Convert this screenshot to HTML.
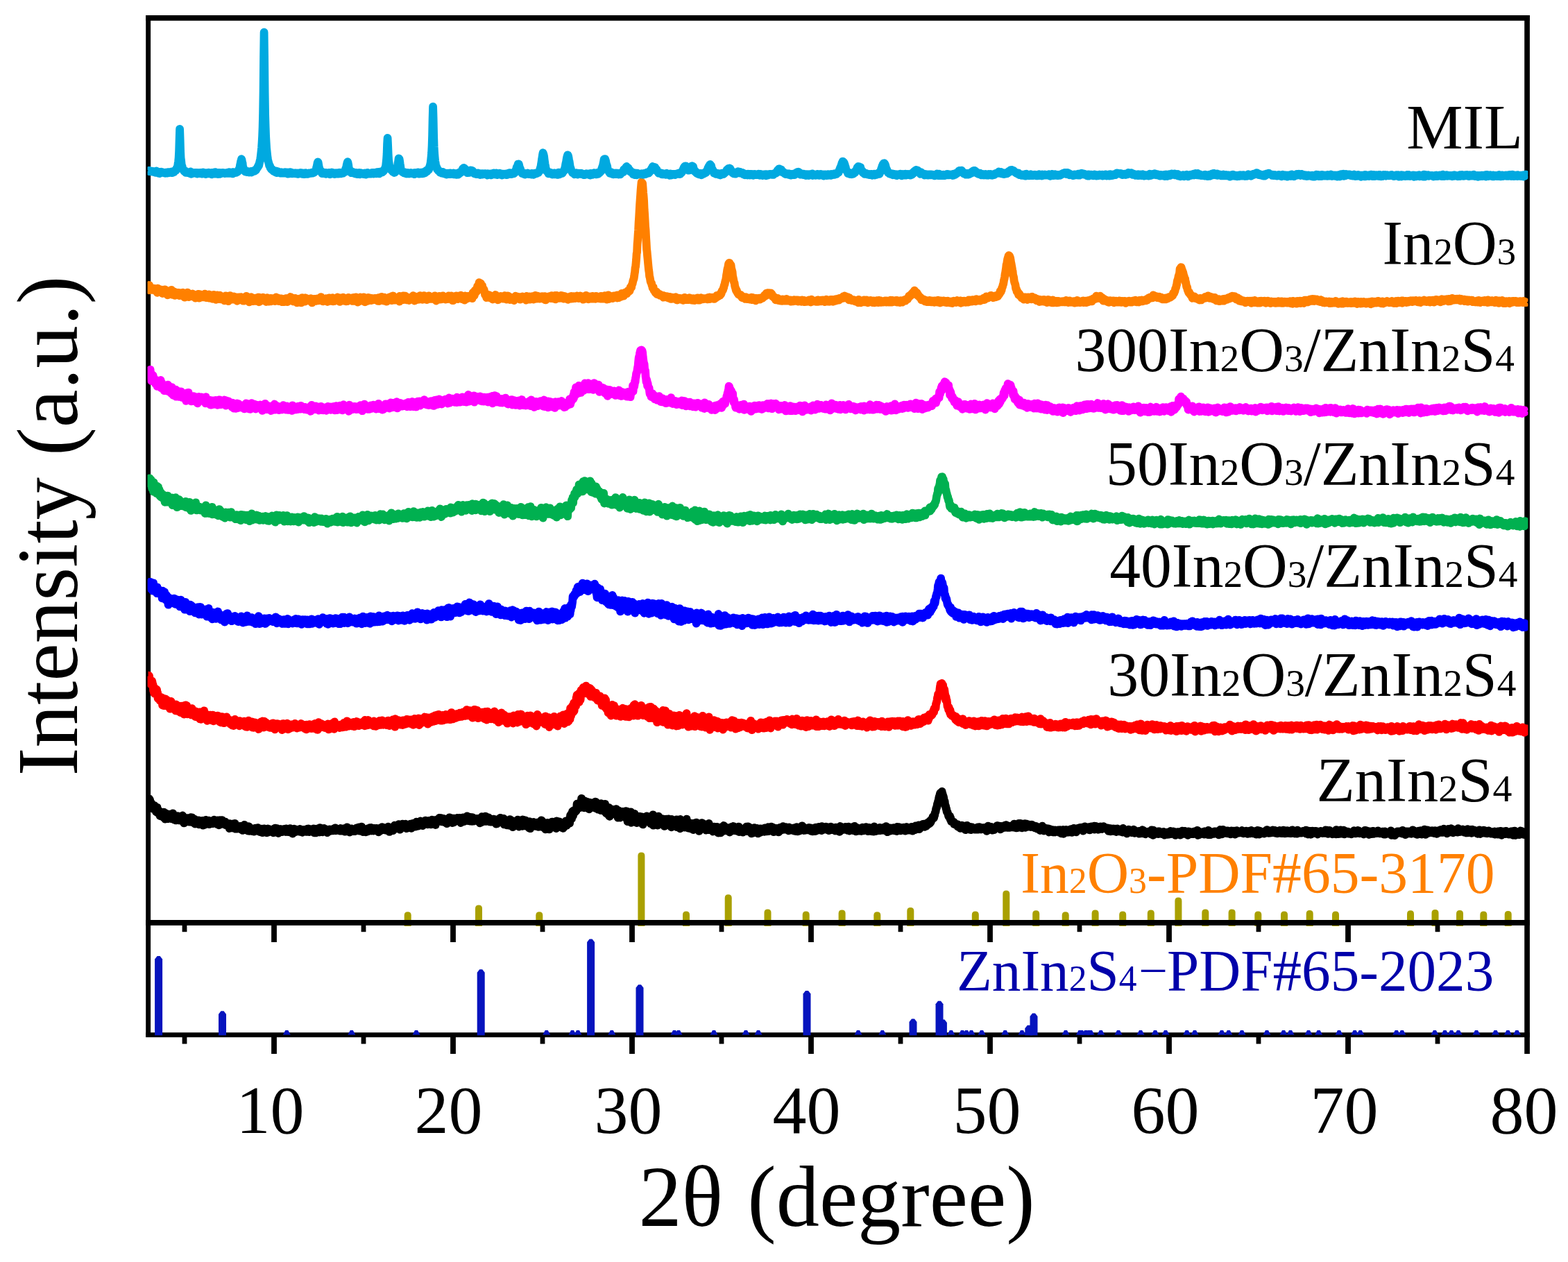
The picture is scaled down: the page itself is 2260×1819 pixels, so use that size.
<!DOCTYPE html>
<html lang="en"><head><meta charset="utf-8">
<title>XRD patterns of MIL, In2O3, ZnIn2S4 and In2O3/ZnIn2S4 composites</title>
<style>
html,body{margin:0;padding:0;background:#fff;}
body{width:2260px;height:1819px;overflow:hidden;}
svg{display:block;}
text{font-family:'Liberation Serif',serif;}
.crv{fill:none;stroke-linejoin:round;stroke-linecap:butt;}
</style></head><body>
<svg width="2260" height="1819" viewBox="0 0 2260 1819">
<rect x="0" y="0" width="2260" height="1819" fill="#ffffff"/>
<g id="sticks-in2o3" fill="#A9A000">
<path d="M582.7,1335 V1319.3 Q582.7,1314.3 587.7,1314.3 Q592.7,1314.3 592.7,1319.3 V1335 Z"/>
<path d="M685.0,1335 V1309.5 Q685.0,1304.5 690.0,1304.5 Q695.0,1304.5 695.0,1309.5 V1335 Z"/>
<path d="M772.3,1335 V1319.3 Q772.3,1314.3 777.3,1314.3 Q782.3,1314.3 782.3,1319.3 V1335 Z"/>
<path d="M919.4,1335 V1233.6 Q919.4,1228.6 924.4,1228.6 Q929.4,1228.6 929.4,1233.6 V1335 Z"/>
<path d="M984.0,1335 V1318.6 Q984.0,1313.6 989.0,1313.6 Q994.0,1313.6 994.0,1318.6 V1335 Z"/>
<path d="M1044.7,1335 V1294.3 Q1044.7,1289.3 1049.7,1289.3 Q1054.7,1289.3 1054.7,1294.3 V1335 Z"/>
<path d="M1101.5,1335 V1315.4 Q1101.5,1310.4 1106.5,1310.4 Q1111.5,1310.4 1111.5,1315.4 V1335 Z"/>
<path d="M1156.7,1335 V1318.6 Q1156.7,1313.6 1161.7,1313.6 Q1166.7,1313.6 1166.7,1318.6 V1335 Z"/>
<path d="M1208.6,1335 V1316.4 Q1208.6,1311.4 1213.6,1311.4 Q1218.6,1311.4 1218.6,1316.4 V1335 Z"/>
<path d="M1259.3,1335 V1319.3 Q1259.3,1314.3 1264.3,1314.3 Q1269.3,1314.3 1269.3,1319.3 V1335 Z"/>
<path d="M1307.3,1335 V1313.0 Q1307.3,1308.0 1312.3,1308.0 Q1317.3,1308.0 1317.3,1313.0 V1335 Z"/>
<path d="M1400.8,1335 V1318.6 Q1400.8,1313.6 1405.8,1313.6 Q1410.8,1313.6 1410.8,1318.6 V1335 Z"/>
<path d="M1445.3,1335 V1288.4 Q1445.3,1283.4 1450.3,1283.4 Q1455.3,1283.4 1455.3,1288.4 V1335 Z"/>
<path d="M1488.2,1335 V1317.3 Q1488.2,1312.3 1493.2,1312.3 Q1498.2,1312.3 1498.2,1317.3 V1335 Z"/>
<path d="M1530.7,1335 V1319.3 Q1530.7,1314.3 1535.7,1314.3 Q1540.7,1314.3 1540.7,1319.3 V1335 Z"/>
<path d="M1573.6,1335 V1316.4 Q1573.6,1311.4 1578.6,1311.4 Q1583.6,1311.4 1583.6,1316.4 V1335 Z"/>
<path d="M1613.2,1335 V1318.6 Q1613.2,1313.6 1618.2,1313.6 Q1623.2,1313.6 1623.2,1318.6 V1335 Z"/>
<path d="M1653.8,1335 V1316.4 Q1653.8,1311.4 1658.8,1311.4 Q1663.8,1311.4 1663.8,1316.4 V1335 Z"/>
<path d="M1693.4,1335 V1298.5 Q1693.4,1293.5 1698.4,1293.5 Q1703.4,1293.5 1703.4,1298.5 V1335 Z"/>
<path d="M1732.3,1335 V1315.4 Q1732.3,1310.4 1737.3,1310.4 Q1742.3,1310.4 1742.3,1315.4 V1335 Z"/>
<path d="M1770.6,1335 V1315.4 Q1770.6,1310.4 1775.6,1310.4 Q1780.6,1310.4 1780.6,1315.4 V1335 Z"/>
<path d="M1808.3,1335 V1318.6 Q1808.3,1313.6 1813.3,1313.6 Q1818.3,1313.6 1818.3,1318.6 V1335 Z"/>
<path d="M1846.0,1335 V1318.6 Q1846.0,1313.6 1851.0,1313.6 Q1856.0,1313.6 1856.0,1318.6 V1335 Z"/>
<path d="M1882.7,1335 V1317.0 Q1882.7,1312.0 1887.7,1312.0 Q1892.7,1312.0 1892.7,1317.0 V1335 Z"/>
<path d="M1920.0,1335 V1318.6 Q1920.0,1313.6 1925.0,1313.6 Q1930.0,1313.6 1930.0,1318.6 V1335 Z"/>
<path d="M2028.0,1335 V1317.3 Q2028.0,1312.3 2033.0,1312.3 Q2038.0,1312.3 2038.0,1317.3 V1335 Z"/>
<path d="M2063.5,1335 V1316.0 Q2063.5,1311.0 2068.5,1311.0 Q2073.5,1311.0 2073.5,1316.0 V1335 Z"/>
<path d="M2099.0,1335 V1317.0 Q2099.0,1312.0 2104.0,1312.0 Q2109.0,1312.0 2109.0,1317.0 V1335 Z"/>
<path d="M2133.3,1335 V1318.6 Q2133.3,1313.6 2138.3,1313.6 Q2143.3,1313.6 2143.3,1318.6 V1335 Z"/>
<path d="M2168.7,1335 V1318.0 Q2168.7,1313.0 2173.7,1313.0 Q2178.7,1313.0 2178.7,1318.0 V1335 Z"/>
</g>
<g id="axes" fill="#000">
<rect x="210.2" y="22" width="6.9" height="1473"/>
<rect x="2197.2" y="22" width="7.7" height="1497"/>
<rect x="210.2" y="22" width="1994.7" height="7.8"/>
<rect x="210.2" y="1326" width="1994.7" height="7.9"/>
<rect x="210.2" y="1488.2" width="1994.7" height="6.9"/>
<rect x="262.6" y="1330" width="6.8" height="13.2"/>
<rect x="262.6" y="1492" width="6.8" height="12.6"/>
<rect x="391.1" y="1330" width="7.8" height="28"/>
<rect x="391.1" y="1492" width="7.8" height="27"/>
<rect x="520.6" y="1330" width="6.8" height="13.2"/>
<rect x="520.6" y="1492" width="6.8" height="12.6"/>
<rect x="649.1" y="1330" width="7.8" height="28"/>
<rect x="649.1" y="1492" width="7.8" height="27"/>
<rect x="778.6" y="1330" width="6.8" height="13.2"/>
<rect x="778.6" y="1492" width="6.8" height="12.6"/>
<rect x="907.1" y="1330" width="7.8" height="28"/>
<rect x="907.1" y="1492" width="7.8" height="27"/>
<rect x="1036.6" y="1330" width="6.8" height="13.2"/>
<rect x="1036.6" y="1492" width="6.8" height="12.6"/>
<rect x="1165.1" y="1330" width="7.8" height="28"/>
<rect x="1165.1" y="1492" width="7.8" height="27"/>
<rect x="1294.6" y="1330" width="6.8" height="13.2"/>
<rect x="1294.6" y="1492" width="6.8" height="12.6"/>
<rect x="1423.1" y="1330" width="7.8" height="28"/>
<rect x="1423.1" y="1492" width="7.8" height="27"/>
<rect x="1552.6" y="1330" width="6.8" height="13.2"/>
<rect x="1552.6" y="1492" width="6.8" height="12.6"/>
<rect x="1681.1" y="1330" width="7.8" height="28"/>
<rect x="1681.1" y="1492" width="7.8" height="27"/>
<rect x="1810.6" y="1330" width="6.8" height="13.2"/>
<rect x="1810.6" y="1492" width="6.8" height="12.6"/>
<rect x="1939.1" y="1330" width="7.8" height="28"/>
<rect x="1939.1" y="1492" width="7.8" height="27"/>
<rect x="2068.6" y="1330" width="6.8" height="13.2"/>
<rect x="2068.6" y="1492" width="6.8" height="12.6"/>
</g>
<g id="sticks-znin2s4" fill="#0614BE">
<path d="M223.1,1492.3 V1382.5 L226.6,1378.0 H230.6 L234.1,1382.5 V1492.3 Z"/>
<path d="M315.0,1492.3 V1461.8 L318.5,1457.3 H322.5 L326.0,1461.8 V1492.3 Z"/>
<path d="M687.7,1492.3 V1401.7 L691.2,1397.2 H695.2 L698.7,1401.7 V1492.3 Z"/>
<path d="M846.1,1492.3 V1357.9 L849.6,1353.4 H853.6 L857.1,1357.9 V1492.3 Z"/>
<path d="M916.5,1492.3 V1423.8 L920.0,1419.3 H924.0 L927.5,1423.8 V1492.3 Z"/>
<path d="M1157.5,1492.3 V1432.5 L1161.0,1428.0 H1165.0 L1168.5,1432.5 V1492.3 Z"/>
<path d="M1310.5,1492.3 V1473.1 L1314.0,1468.6 H1318.0 L1321.5,1473.1 V1492.3 Z"/>
<path d="M1348.5,1492.3 V1447.2 L1352.0,1442.7 H1356.0 L1359.5,1447.2 V1492.3 Z"/>
<path d="M1353.9,1492.3 V1474.1 L1357.4,1469.6 H1361.4 L1364.9,1474.1 V1492.3 Z"/>
<path d="M1484.5,1492.3 V1465.0 L1488.0,1460.5 H1492.0 L1495.5,1465.0 V1492.3 Z"/>
<path d="M1477.3,1492.3 V1482.2 L1480.8,1477.7 H1484.8 L1488.3,1482.2 V1492.3 Z"/>
</g>
<g id="sticks-znin2s4-weak" fill="#0614BE">
<path d="M407.8,1491.5 L411.3,1485 H415.3 L418.8,1491.5 Z"/>
<path d="M501.3,1491.5 L504.8,1485 H508.8 L512.3,1491.5 Z"/>
<path d="M594.5,1491.5 L598.0,1485 H602.0 L605.5,1491.5 Z"/>
<path d="M782.2,1491.5 L785.7,1485 H789.7 L793.2,1491.5 Z"/>
<path d="M819.5,1491.5 L823.0,1485 H827.0 L830.5,1491.5 Z"/>
<path d="M827.5,1491.5 L831.0,1485 H835.0 L838.5,1491.5 Z"/>
<path d="M876.3,1491.5 L879.8,1485 H883.8 L887.3,1491.5 Z"/>
<path d="M966.5,1491.5 L970.0,1485 H974.0 L977.5,1491.5 Z"/>
<path d="M972.5,1491.5 L976.0,1485 H980.0 L983.5,1491.5 Z"/>
<path d="M1023.5,1491.5 L1027.0,1485 H1031.0 L1034.5,1491.5 Z"/>
<path d="M1069.5,1491.5 L1073.0,1485 H1077.0 L1080.5,1491.5 Z"/>
<path d="M1087.5,1491.5 L1091.0,1485 H1095.0 L1098.5,1491.5 Z"/>
<path d="M1231.5,1491.5 L1235.0,1485 H1239.0 L1242.5,1491.5 Z"/>
<path d="M1266.3,1491.5 L1269.8,1485 H1273.8 L1277.3,1491.5 Z"/>
<path d="M1365.3,1491.5 L1368.8,1485 H1372.8 L1376.3,1491.5 Z"/>
<path d="M1381.5,1491.5 L1385.0,1485 H1389.0 L1392.5,1491.5 Z"/>
<path d="M1387.5,1491.5 L1391.0,1485 H1395.0 L1398.5,1491.5 Z"/>
<path d="M1394.5,1491.5 L1398.0,1485 H1402.0 L1405.5,1491.5 Z"/>
<path d="M1409.5,1491.5 L1413.0,1485 H1417.0 L1420.5,1491.5 Z"/>
<path d="M1443.2,1491.5 L1446.7,1485 H1450.7 L1454.2,1491.5 Z"/>
<path d="M1467.5,1491.5 L1471.0,1485 H1475.0 L1478.5,1491.5 Z"/>
<path d="M1530.5,1491.5 L1534.0,1485 H1538.0 L1541.5,1491.5 Z"/>
<path d="M1553.5,1491.5 L1557.0,1485 H1561.0 L1564.5,1491.5 Z"/>
<path d="M1559.5,1491.5 L1563.0,1485 H1567.0 L1570.5,1491.5 Z"/>
<path d="M1566.5,1491.5 L1570.0,1485 H1574.0 L1577.5,1491.5 Z"/>
<path d="M1581.2,1491.5 L1584.7,1485 H1588.7 L1592.2,1491.5 Z"/>
<path d="M1551.0,1491.5 L1554.5,1485 H1558.5 L1562.0,1491.5 Z"/>
<path d="M1564.0,1491.5 L1567.5,1485 H1571.5 L1575.0,1491.5 Z"/>
<path d="M1606.5,1491.5 L1610.0,1485 H1614.0 L1617.5,1491.5 Z"/>
<path d="M1638.5,1491.5 L1642.0,1485 H1646.0 L1649.5,1491.5 Z"/>
<path d="M1659.5,1491.5 L1663.0,1485 H1667.0 L1670.5,1491.5 Z"/>
<path d="M1674.5,1491.5 L1678.0,1485 H1682.0 L1685.5,1491.5 Z"/>
<path d="M1705.2,1491.5 L1708.7,1485 H1712.7 L1716.2,1491.5 Z"/>
<path d="M1716.5,1491.5 L1720.0,1485 H1724.0 L1727.5,1491.5 Z"/>
<path d="M1755.5,1491.5 L1759.0,1485 H1763.0 L1766.5,1491.5 Z"/>
<path d="M1765.3,1491.5 L1768.8,1485 H1772.8 L1776.3,1491.5 Z"/>
<path d="M1784.5,1491.5 L1788.0,1485 H1792.0 L1795.5,1491.5 Z"/>
<path d="M1820.5,1491.5 L1824.0,1485 H1828.0 L1831.5,1491.5 Z"/>
<path d="M1844.5,1491.5 L1848.0,1485 H1852.0 L1855.5,1491.5 Z"/>
<path d="M1854.5,1491.5 L1858.0,1485 H1862.0 L1865.5,1491.5 Z"/>
<path d="M1880.5,1491.5 L1884.0,1485 H1888.0 L1891.5,1491.5 Z"/>
<path d="M1895.1,1491.5 L1898.6,1485 H1902.6 L1906.1,1491.5 Z"/>
<path d="M1924.5,1491.5 L1928.0,1485 H1932.0 L1935.5,1491.5 Z"/>
<path d="M1947.1,1491.5 L1950.6,1485 H1954.6 L1958.1,1491.5 Z"/>
<path d="M1955.2,1491.5 L1958.7,1485 H1962.7 L1966.2,1491.5 Z"/>
<path d="M2007.2,1491.5 L2010.7,1485 H2014.7 L2018.2,1491.5 Z"/>
<path d="M2015.3,1491.5 L2018.8,1485 H2022.8 L2026.3,1491.5 Z"/>
<path d="M2062.4,1491.5 L2065.9,1485 H2069.9 L2073.4,1491.5 Z"/>
<path d="M2077.0,1491.5 L2080.5,1485 H2084.5 L2088.0,1491.5 Z"/>
<path d="M2086.5,1491.5 L2090.0,1485 H2094.0 L2097.5,1491.5 Z"/>
<path d="M2096.5,1491.5 L2100.0,1485 H2104.0 L2107.5,1491.5 Z"/>
<path d="M2122.5,1491.5 L2126.0,1485 H2130.0 L2133.5,1491.5 Z"/>
<path d="M2150.0,1491.5 L2153.5,1485 H2157.5 L2161.0,1491.5 Z"/>
<path d="M2167.9,1491.5 L2171.4,1485 H2175.4 L2178.9,1491.5 Z"/>
<path d="M2180.9,1491.5 L2184.4,1485 H2188.4 L2191.9,1491.5 Z"/>
</g>
<clipPath id="plotclip"><rect x="212.6" y="0" width="1989.8" height="1330"/></clipPath>
<g id="curves" clip-path="url(#plotclip)">
<path class="crv" stroke="#000000" stroke-width="11.8" d="M213.6 1153.3l.5 0 .5 0 .5-1.8 .5 2.1 .5-.7 .5 3.9 .5 4.6 .5-4.4 .5 .5 .5 4.1 .5 .4 .5 .1 .5-2.1 .5 3.3 .5 2.9 .5-5.1 .5 3.3 .5-3.4 .5 2.4 .5-.9 .5 5.2 .5-2.3 .5 4.8 .5 .2 .5-.5 .5-6 .5 5.8 .5 1.8 .5 .7 .5-4.2 .5 3.1 .5-1.1 .5 .7 .5 5.3 .5-4.9 .5 2.3 .5 2.7 .5-3.9 .5 1.5 .5 .7 .5 .1 .5-3.4 .5 3.7 .5 3.6 .5-7.8 .5 6.7 .5-1.9 .5-2 .5 7.3 .5-3.3 .5-5.1 .5 3.5 .5 1.4 .5-1.9 .5 2.4 .5-1.9 .5 2.1 .5 2.1 .5-5.5 .5 2.4 .5-1.6 .5 1.7 .5-3.4 .5 1.7 .5 1.1 .5 3 .5 .8 .5-6.4 .5 1.5 .5 3.9 .5-6.8 .5 4.1 .5 1.1 .5 3.6 .5-1.4 .5-2.5 .5 0 .5 .4 .5 4.7 .5-4.9 .5 .4 .5 1.8 .5-1.1 .5-.1 .5-2.3 .5 2.9 .5-.9 .5 4.1 .5-1.2 .5-1.6 .5 1.9 .5-2.5 .5 3.6 .5-2.5 .5 1.5 .5-4.6 .5 4.2 .5-4.9 .5-.8 .5 4.4 .5-1.4 .5 2.7 .5 5.3 .5-7.5 .5 .6 .5 2.1 .5 .8 .5-1.5 .5 0 .5 2.3 .5-.3 .5-3.7 .5 2.4 .5 .4 .5-2.5 .5 3.3 .5-2.6 .5 4.5 .5-1.8 .5-.1 .5-1.5 .5 1.2 .5-4.3 .5 2.2 .5 3.6 .5-5.7 .5 7.1 .5-6 .5 6 .5-3.6 .5 3.9 .5-1.4 .5-3.8 .5 6.7 .5 .5 .5-3.4 .5-.3 .5 .3 .5-1.8 .5 4.9 .5-3.6 .5 1.2 .5-1.6 .5 .4 .5-1.4 .5 5.9 .5-3.1 .5 2.6 .5-2.1 .5-1.6 .5 .9 .5-.5 .5 1.4 .5-.9 .5 .2 .5-2.4 .5 1.3 .5 5.5 .5-5.2 .5-.8 .5 3.1 .5 2.3 .5-6.4 .5 2.8 .5-1 .5-2.5 .5 5.4 .5-1.7 .5 .2 .5-1.9 .5 2.6 .5-2.3 .5 .8 .5-2.1 .5-.3 .5 5.5 .5-4.1 .5 1.7 .5-.8 .5-.9 .5-.2 .5 2.4 .5-2.1 .5 .3 .5 .3 .5 2.5 .5-1.1 .5-.7 .5-2 .5-1.8 .5 5 .5 0 .5-2.3 .5 1.5 .5 .5 .5 .2 .5 .2 .5-2.9 .5 4.3 .5-5.8 .5 4.5 .5-.6 .5 .8 .5 2.3 .5-.8 .5-5.4 .5-1 .5 5.4 .5-3.7 .5 2.2 .5 1.9 .5-5 .5-.8 .5 5 .5-.2 .5-.5 .5 .8 .5-1.8 .5-1.1 .5 2.9 .5-1.5 .5-1.2 .5 4.6 .5-1 .5 1.1 .5-2.7 .5 .9 .5-.5 .5 .4 .5 2.3 .5-1.8 .5 2.5 .5 .1 .5 3.6 .5-6.8 .5 4.8 .5-1.8 .5 .3 .5-2.8 .5 2.1 .5 2.6 .5-1.5 .5 .4 .5-.6 .5 3 .5-2.2 .5-4.3 .5 3.1 .5-2.4 .5-1 .5 4 .5 3.8 .5-2.5 .5-2.3 .5 .5 .5 4.2 .5-1.8 .5-.2 .5-.1 .5 .3 .5 1.5 .5-.4 .5-.6 .5-2.4 .5 3.2 .5-2.3 .5 3.5 .5-4.5 .5 2.3 .5 .3 .5-2.5 .5 6 .5-.4 .5-3.7 .5 2.4 .5-.7 .5-5.5 .5 5.4 .5-.5 .5 .3 .5-2.1 .5 1.6 .5 .2 .5 2.7 .5-1.6 .5-.5 .5 3 .5-4 .5 .4 .5-2.7 .5 6.6 .5-1.1 .5-.1 .5-.4 .5-1 .5 .3 .5-.9 .5 .2 .5 .5 .5 2.8 .5-1.7 .5-1.1 .5-1 .5 0 .5 4.3 .5-2.1 .5-.7 .5-.8 .5-1.3 .5 2 .5 1.8 .5-2.4 .5 .4 .5 0 .5 .7 .5-3.1 .5 2.5 .5-1.1 .5 3.3 .5-3 .5 2.5 .5 1.8 .5-3.4 .5-.5 .5 1.5 .5-.3 .5-1.8 .5 2.7 .5 2.9 .5-4.2 .5 .2 .5-1.5 .5 2.5 .5-2.9 .5 .3 .5 4.4 .5-4 .5 3.7 .5 .8 .5-2.3 .5 .6 .5 2.5 .5-3.9 .5-.7 .5-1.3 .5 2.5 .5 2.6 .5-.9 .5-3.4 .5 .1 .5 .7 .5 1.4 .5-.9 .5 .8 .5 .1 .5-1 .5 .5 .5 .4 .5-.5 .5 1.1 .5 2.4 .5-2.3 .5-.9 .5-3 .5 3.6 .5-4.1 .5 1 .5 3.9 .5-.2 .5-1.5 .5-2.7 .5 2.3 .5-.5 .5 2.3 .5 2.8 .5-3.5 .5-1.7 .5-.7 .5 1.9 .5-.2 .5-1.6 .5 2.2 .5-2.2 .5 3.9 .5-.1 .5 .1 .5-2.7 .5 1.7 .5-1.1 .5-.4 .5 .1 .5-1.7 .5-.2 .5 3.8 .5-1.7 .5 .7 .5 1.4 .5-4.6 .5 1.6 .5 1.6 .5 .4 .5-1.3 .5 2.3 .5-1.3 .5-2.4 .5 .5 .5 2.9 .5-.6 .5-3.9 .5 5.4 .5-1.3 .5 1.3 .5-2.9 .5 .2 .5-1.4 .5 6 .5-4.4 .5 2.9 .5-3.7 .5 1.3 .5-2.9 .5 2.1 .5 2.2 .5-3.6 .5 3.7 .5-1.2 .5-2.2 .5 .9 .5 .1 .5 .6 .5-.8 .5-.4 .5 .8 .5-1.1 .5-.5 .5 2 .5 1.5 .5-3.8 .5 2.4 .5-1 .5-.6 .5 3 .5-2.2 .5 3.2 .5-3.7 .5 1.9 .5-1 .5-.8 .5 2.1 .5-1.2 .5 1.3 .5-1.1 .5-1.7 .5 1.6 .5 .3 .5 1.4 .5-3 .5 1.4 .5-2.7 .5 3.8 .5-2.8 .5-1.2 .5 2.9 .5 1.8 .5-4.2 .5 .7 .5 .5 .5-.6 .5 2.4 .5-1.9 .5 .1 .5 2.2 .5-2.2 .5 1.9 .5-2.3 .5-.4 .5-1 .5 6 .5-3.5 .5 .9 .5-.5 .5 .3 .5-.2 .5 3.1 .5-4.8 .5-.9 .5 .9 .5-.5 .5 3.4 .5 .1 .5-3 .5-.7 .5 1.7 .5 2.9 .5-6.4 .5 5 .5-2.7 .5 3.5 .5-3.5 .5 1.3 .5-2 .5 .8 .5 3.9 .5-.9 .5-2 .5-.8 .5-1.7 .5 2.5 .5 .6 .5-.1 .5 0 .5-1.8 .5 1.8 .5 0 .5 2.2 .5 1 .5-3.4 .5-1 .5 1.1 .5-.9 .5-.2 .5 1.1 .5-1.6 .5 2.7 .5-1.2 .5 .6 .5-.7 .5-.9 .5-.4 .5 1.2 .5-.5 .5 1.3 .5-.4 .5-2.3 .5 2.4 .5-2.4 .5 1.2 .5 .5 .5-3 .5 3.7 .5 .1 .5-.6 .5-.4 .5 .1 .5-1.1 .5 1.2 .5-.5 .5 1.1 .5-2.2 .5 2.4 .5-.1 .5-.5 .5-.5 .5 1.6 .5-3.7 .5 3.6 .5-.4 .5 .1 .5 .1 .5-1.8 .5 .7 .5 1.5 .5-.3 .5-.4 .5-3 .5 3.5 .5 1.1 .5-.3 .5-1.3 .5-3.1 .5 4.3 .5-1.9 .5-4.1 .5 5 .5-3.3 .5 .4 .5 1.1 .5 3.3 .5-2.9 .5 1.1 .5 2.5 .5-.2 .5-3 .5-.2 .5-1.8 .5 1 .5 1.9 .5-.1 .5-.5 .5 1.5 .5-3 .5 1.2 .5 1.4 .5-.3 .5 .8 .5-1.2 .5-1.2 .5 1.2 .5-2.4 .5-1.1 .5 3.8 .5-1.1 .5 .6 .5-3.5 .5 2.3 .5-.4 .5-.5 .5-2.4 .5 3.3 .5 2.1 .5-.9 .5-1.7 .5 1 .5 1.3 .5-5.7 .5 4.2 .5 1.1 .5 .3 .5 1.7 .5-1 .5-1.4 .5-.1 .5 .9 .5-2.4 .5 .9 .5 1.6 .5 1.9 .5-3.8 .5 .2 .5 .4 .5 2 .5-2.4 .5 2.6 .5-4.3 .5 1.4 .5-.1 .5 1.8 .5 .4 .5-4.5 .5 1 .5 2.2 .5-1.8 .5-1.5 .5 4.5 .5-1 .5 0 .5-1.7 .5 2.6 .5-2.3 .5 2.4 .5-3.6 .5 .1 .5 1.9 .5-1.7 .5 2.5 .5-.8 .5-2.1 .5 1.7 .5-.7 .5 2.2 .5-2.8 .5 .3 .5 3 .5 1.8 .5-.5 .5-3.5 .5 .3 .5 2.3 .5-3 .5-1.5 .5 1.9 .5 .6 .5-2.3 .5-1.5 .5 .3 .5 3.8 .5-2.6 .5 1.1 .5 .6 .5 .7 .5-1.8 .5 1.5 .5-2.5 .5 .9 .5-1.2 .5 3.8 .5-2.1 .5-1.3 .5 .6 .5 .2 .5 1.7 .5-4.2 .5 .9 .5 1.2 .5 5.2 .5-2.9 .5-2 .5 1.5 .5 2.4 .5-4.2 .5-.3 .5 2.8 .5-1.4 .5 .3 .5-2.3 .5 4.4 .5-.5 .5-2.1 .5 .1 .5-5 .5 4.8 .5-1.6 .5 1 .5 .4 .5-2 .5-2.5 .5 3.7 .5-2.1 .5 .6 .5-.6 .5 .4 .5-3.7 .5 6.4 .5-1.8 .5 1.4 .5 1.6 .5-3.7 .5-3.5 .5 1.6 .5-.7 .5 1.3 .5 .9 .5-3.9 .5 4.3 .5-3.5 .5 3.2 .5-.8 .5-.5 .5 .4 .5-.9 .5-.3 .5-2 .5 3 .5 3.4 .5 .2 .5-1.3 .5-1.3 .5-2.6 .5 3.9 .5-2.9 .5-.1 .5-.5 .5 .7 .5-1.1 .5 .6 .5-2 .5 1.3 .5 4.9 .5-4.5 .5-.4 .5 1.4 .5 .2 .5-3.5 .5 1.7 .5 2 .5-1.3 .5-.3 .5 2.6 .5-4.3 .5 1.4 .5-1.2 .5 3.7 .5-6.6 .5 2.3 .5 .2 .5 2.2 .5-.2 .5 1.5 .5-5.7 .5 4.3 .5-2.1 .5-.8 .5 2.3 .5-2.9 .5-2.3 .5 3.2 .5-2.2 .5 1.5 .5 1.9 .5-.2 .5 2.4 .5-3.5 .5-2.7 .5 1.5 .5-.4 .5-.7 .5 3.1 .5-2.1 .5-2.7 .5 5.1 .5-1.6 .5 .8 .5-.6 .5 1 .5-1.2 .5 2.2 .5-1.6 .5-.2 .5 0 .5-3.7 .5 2.4 .5-.3 .5 .9 .5-3.2 .5 5.8 .5-3.1 .5-2.7 .5-1 .5 2.7 .5 .3 .5-1.4 .5 1.6 .5-1.6 .5 2.3 .5-2.6 .5 1.2 .5 2 .5 2.9 .5-7 .5 .9 .5-.8 .5 3.2 .5-4 .5 1.3 .5 .8 .5-2 .5 0 .5 .9 .5-3.4 .5 1.3 .5 2 .5 1 .5-.7 .5-3.3 .5 2.6 .5 2.5 .5-.6 .5-1.3 .5-1.7 .5 3 .5-2.4 .5-1.3 .5 .7 .5 4.5 .5-2.5 .5 1.9 .5-3.4 .5 2.9 .5-3.2 .5 .9 .5 5.4 .5-3.6 .5-2.6 .5 .8 .5 .8 .5 1.8 .5-3.5 .5-2.6 .5 3 .5 .6 .5 .1 .5 2.5 .5-2.1 .5 1 .5-4 .5 4.1 .5 2.5 .5-2.8 .5-1.1 .5-.2 .5 3.4 .5-5.7 .5 1.7 .5 1.1 .5 .6 .5-2.5 .5 1.6 .5-1.3 .5 .8 .5-.5 .5-2.2 .5 2.4 .5 1.8 .5-3.8 .5 1.5 .5 1.8 .5-3.6 .5 2.6 .5-2.6 .5 4.6 .5 2.4 .5-.6 .5-4.7 .5 2 .5-1.3 .5-.1 .5 3.1 .5-6.1 .5 5 .5-2.3 .5 3 .5-2.6 .5-1.8 .5 2 .5 1 .5-1.5 .5 1 .5-2.2 .5-3.5 .5 6.5 .5-.4 .5-1.2 .5-.2 .5 2.1 .5-3.2 .5-.5 .5 1.1 .5 3 .5-5.6 .5 5.6 .5-4 .5-1 .5 5.2 .5-3 .5-2.6 .5 2.1 .5 2.8 .5 .6 .5-3.5 .5 1.8 .5 .7 .5-3 .5 2.2 .5-.8 .5-1.1 .5 .1 .5 1.2 .5 0 .5-1.3 .5 .3 .5 3.4 .5-2 .5 1.5 .5 .8 .5-1.4 .5 3.8 .5-6.9 .5 3.7 .5-2.5 .5 4.8 .5-.3 .5-8.1 .5 2.2 .5 3.7 .5 .3 .5-.1 .5-1.8 .5 1.2 .5 .5 .5-1.6 .5 2.4 .5-7.3 .5 6.5 .5-3.7 .5 4.5 .5-2.6 .5-1.5 .5 2.9 .5-2.9 .5 .1 .5-1.5 .5 3.5 .5 1.2 .5 1.3 .5-2.6 .5 2.7 .5-2.3 .5-.2 .5 1.6 .5 1.1 .5-3.1 .5 .3 .5 .2 .5 .6 .5-2.1 .5 4.4 .5-3.2 .5 2 .5-2.8 .5 2.7 .5 .2 .5-1.8 .5 5.6 .5-3.7 .5 3.3 .5-1.8 .5-3.6 .5 .7 .5 1.9 .5-.8 .5 .1 .5-.7 .5-3.5 .5 3.7 .5-4.5 .5 6.1 .5-2.5 .5 .1 .5 1.2 .5 1.2 .5-3.9 .5-.6 .5 1.6 .5-2.2 .5 2.6 .5 6 .5-6.1 .5 4.1 .5-4.7 .5 4 .5-1.4 .5 .7 .5 1.5 .5 2.9 .5-3.6 .5-.1 .5-2.5 .5 3.7 .5-1.9 .5 2.6 .5-1.9 .5 4.2 .5-8.7 .5 4 .5 2.9 .5-2.9 .5-.9 .5 1.3 .5-2.6 .5 3.6 .5 5.5 .5-3 .5-5.3 .5 .6 .5 1.2 .5 3.4 .5-4.3 .5 .3 .5 3.8 .5 0 .5-2.9 .5-1.7 .5-1 .5 2.1 .5-3.7 .5 7.2 .5-3.3 .5 2.7 .5 3.4 .5-1.6 .5-5.6 .5 4.9 .5 .7 .5-4.6 .5-.5 .5 2.1 .5-3.6 .5 7.5 .5-9.4 .5 3.2 .5 2.1 .5 .1 .5 1 .5 .3 .5-1.2 .5 3.4 .5-8.1 .5 5.3 .5-1.8 .5 2.2 .5 .2 .5-2.8 .5 .7 .5 3.6 .5-1.1 .5-2.5 .5 6.8 .5 .7 .5-9.5 .5 4.5 .5 5.6 .5-4.3 .5-1.4 .5-1.1 .5-.8 .5 .8 .5-.8 .5 3.3 .5-2.9 .5-.1 .5-1.9 .5 3 .5-2.2 .5 1.9 .5 3.1 .5-1.7 .5 .4 .5-.4 .5-.7 .5-.5 .5-.4 .5 2.8 .5-4.8 .5 6.3 .5-3.4 .5-2 .5 .7 .5-.5 .5 2.2 .5-2.3 .5 5 .5-5.1 .5-4 .5 4.1 .5-3.3 .5 5.2 .5 3 .5-1.1 .5-5.3 .5 1.6 .5 6.8 .5-3.9 .5-.8 .5 2.8 .5 3.8 .5-3.1 .5-3.1 .5 .6 .5 .8 .5-3.4 .5-1.2 .5 3.1 .5-2.7 .5 2.4 .5 .5 .5 6.2 .5-8.8 .5 2.1 .5-.1 .5 1.6 .5 1.8 .5-4.3 .5-.9 .5-2.2 .5 2 .5 4.1 .5-1.3 .5-3 .5 1.8 .5 1.2 .5 1.4 .5-3.1 .5 1 .5-4.4 .5 1.9 .5 7.9 .5-10.7 .5 5.2 .5 1.6 .5-1.6 .5-1.2 .5 2.1 .5 .2 .5-.2 .5-5.1 .5 5 .5-2 .5 .9 .5 2.2 .5 1.2 .5 .8 .5-4 .5 4.1 .5 .7 .5-.1 .5 .7 .5-4.5 .5-.1 .5 2.8 .5-6.5 .5 4.4 .5-2.4 .5 .2 .5-4.4 .5 2 .5 2.1 .5 2.1 .5-.3 .5-3.8 .5-1 .5-2.6 .5 2.9 .5-2.7 .5 1.8 .5 2.6 .5-6.1 .5-5.3 .5 1.1 .5-2.7 .5-.2 .5 6.6 .5-4.2 .5-6.3 .5 5.6 .5 .8 .5-5.8 .5-1.9 .5 .1 .5 1 .5 .2 .5 .9 .5-.7 .5-.8 .5-.1 .5-2.7 .5-7.3 .5 3.7 .5 .8 .5-2.6 .5 3.5 .5-4.4 .5-2.1 .5 6.8 .5-2.7 .5-1.7 .5 1.9 .5 .1 .5-2.3 .5-8.7 .5 5.3 .5 .5 .5-1.6 .5 3.5 .5 3 .5-5.1 .5-2 .5 9.7 .5-7.6 .5-2.3 .5 4.5 .5 .6 .5-3.4 .5 4.6 .5-3.9 .5-1.2 .5 3.4 .5 1.8 .5-4.2 .5 3 .5-1.3 .5 8 .5-9.7 .5 6.4 .5-4.3 .5-.1 .5 2.6 .5 .6 .5 1.2 .5-2.8 .5-2.7 .5 .3 .5 3.2 .5 .3 .5 2.6 .5-2.9 .5 2.1 .5 1.4 .5-4 .5-4.9 .5 1.1 .5-.7 .5 9.4 .5-7.3 .5 6.5 .5-1.8 .5 3.7 .5-2 .5-3.1 .5-.1 .5 1.1 .5 .5 .5-1.9 .5 1.8 .5 5.2 .5-9.8 .5 6.3 .5-3.3 .5 3.6 .5 2.3 .5-2.5 .5 2.8 .5-6.9 .5 8.5 .5-5 .5 4 .5-1.1 .5-7.9 .5 5.6 .5 3.2 .5 4.3 .5-3.7 .5 .2 .5-4.9 .5 8.8 .5 1.4 .5-5.3 .5-.5 .5-4.1 .5 7.7 .5 5.1 .5-5.2 .5 1.8 .5-2.1 .5-4.5 .5 7.3 .5-7.7 .5 3.2 .5 1.7 .5 1.9 .5-1.2 .5 0 .5-3.4 .5-1.4 .5 4.2 .5-2.2 .5-1.7 .5 .3 .5 2.5 .5-4.1 .5 1.7 .5-.7 .5 5.6 .5 .8 .5 5 .5-10.5 .5 2.6 .5 5 .5-3.3 .5-.2 .5 6.3 .5-6.1 .5-2.4 .5-.3 .5 5.1 .5 .1 .5-5 .5 1.3 .5 4.8 .5 .3 .5-3.6 .5 4 .5 0 .5-7 .5 4.6 .5 2.4 .5-2.8 .5-4.7 .5 5.9 .5 3.3 .5 2.7 .5-11.4 .5 14.5 .5-10.9 .5 6.5 .5 1 .5-.6 .5-2.4 .5-3.8 .5 5.6 .5-3.9 .5-5.3 .5 15.4 .5-5.3 .5 3.5 .5-8.1 .5 7.3 .5 .6 .5 0 .5-4.7 .5-3.4 .5 3.2 .5-6 .5 1.6 .5 5.6 .5-3.2 .5 2.6 .5 .3 .5 6.3 .5-1.9 .5-4 .5 3.9 .5-6 .5 1.4 .5 3.9 .5-6.5 .5 3 .5-3.1 .5 4.4 .5 4.7 .5-7.2 .5 3 .5-3.4 .5-.7 .5-.2 .5 8.2 .5 2.8 .5-5.7 .5-3.6 .5 4.4 .5-3.2 .5 3.5 .5-1.5 .5 0 .5 1 .5-3.6 .5 .6 .5-4 .5 4 .5-3 .5 3.9 .5-2.4 .5 3.2 .5 1.1 .5-5.7 .5 1.9 .5-.4 .5 5.2 .5 3 .5-2.6 .5-3.6 .5 5.5 .5-9 .5 9.2 .5-6.6 .5-5.6 .5 15.3 .5-2.8 .5-7.9 .5 3.7 .5-1.2 .5 1 .5-4.8 .5 2.5 .5 3.5 .5-.7 .5 3 .5-3.4 .5 7 .5-9.3 .5 3 .5-6.6 .5 2 .5 7.9 .5-6.8 .5 4.5 .5-1.8 .5-2.9 .5 2.1 .5-.4 .5 .1 .5 3.8 .5-.3 .5-3.7 .5-.9 .5 3.7 .5-1.1 .5 3.4 .5 4.6 .5-5 .5-2.6 .5-.4 .5-2 .5-.1 .5-.2 .5 1.9 .5 0 .5 3.6 .5-3.4 .5 .7 .5-3.1 .5 8.8 .5-3.4 .5 4 .5-2.9 .5 2.2 .5-5.3 .5 3.1 .5 5.5 .5-11.3 .5 7.4 .5 1.7 .5-3.8 .5 1.1 .5 1.6 .5-5.8 .5 3.4 .5-3.9 .5 .7 .5 .2 .5 1.6 .5 1 .5 1 .5-5.7 .5 10.6 .5-2.5 .5-1.2 .5-3.3 .5 .9 .5 2.1 .5-.4 .5-6.4 .5 7.6 .5 5.4 .5-13.3 .5 8.9 .5-1.8 .5-1.4 .5 4.7 .5-7.9 .5 4.3 .5 4.1 .5-5.1 .5-.6 .5 1.8 .5-1.7 .5 6.3 .5-7.6 .5 5.7 .5-6.6 .5 6.1 .5-2.3 .5-7.2 .5 7.7 .5-3.2 .5 2 .5 6.3 .5-8.2 .5 .2 .5 8 .5-4.1 .5 4.6 .5-3.8 .5-3.7 .5 2.7 .5 4.1 .5-.8 .5-2.8 .5 .2 .5-.4 .5-1.4 .5 8 .5-6 .5-3.4 .5 2.1 .5 3.8 .5-.2 .5-2.3 .5-1.5 .5 2.2 .5-5.2 .5 1.3 .5 6.5 .5-3.8 .5 2.7 .5 2.6 .5-1.7 .5-1.8 .5 6.5 .5-4.4 .5-3 .5 3.3 .5-.9 .5-3.7 .5 2.9 .5-.7 .5-5.3 .5 5.4 .5-.2 .5-.4 .5-3.5 .5 3.9 .5 1 .5 .4 .5-3.5 .5 5.2 .5-5.3 .5 2.9 .5 4.6 .5-5.8 .5 .6 .5 4.6 .5-4.1 .5 .3 .5 1.6 .5 2.4 .5-9.3 .5 4 .5-.4 .5-.1 .5 .7 .5 .1 .5 3.3 .5-3.3 .5 2.9 .5 .8 .5-3.1 .5 2.5 .5 4.2 .5-3.6 .5-2.6 .5 1.7 .5-2.3 .5 3.3 .5 1.7 .5-4.6 .5 1.7 .5 3.7 .5-4.3 .5 1.9 .5-3.2 .5 .6 .5 .8 .5 7.2 .5-6.8 .5-.2 .5-.1 .5 1.1 .5 2.2 .5-1.2 .5 4.9 .5-4.7 .5 3.2 .5-3 .5 .9 .5-5.2 .5 3.4 .5 .2 .5-.4 .5-4.8 .5 7.7 .5-3.2 .5-.1 .5 .5 .5 .1 .5 1.6 .5-4.2 .5 .9 .5 3.1 .5-.4 .5-1.2 .5-.5 .5-.6 .5 1.9 .5 3 .5-5.4 .5 6.3 .5-1.6 .5-3.1 .5 2.9 .5-5.3 .5-.6 .5 1 .5 2.2 .5 .2 .5-.4 .5 1.4 .5-5.2 .5 6.2 .5-4.5 .5 1.8 .5 .6 .5-1.7 .5-.5 .5 .9 .5 2.3 .5 1.4 .5 0 .5-3.6 .5 .5 .5-.3 .5 3.2 .5-5.7 .5 7.5 .5-3.9 .5-.7 .5 2.6 .5 1.6 .5-1.6 .5 1.6 .5-2 .5 2.5 .5 0 .5-3 .5 3.4 .5-2.8 .5-.1 .5-2.3 .5 1.4 .5 2.4 .5-4.6 .5 4.3 .5-.6 .5-.2 .5-5.4 .5 4.6 .5 1.7 .5-3.1 .5 1.9 .5-5.4 .5 6.7 .5-2.9 .5 3.3 .5-5.8 .5 5.4 .5-2 .5 2.3 .5-3.7 .5 .7 .5 6 .5-6.5 .5 .3 .5 .9 .5-1.5 .5 4.6 .5 1.1 .5-5.1 .5-2.1 .5 6.1 .5-.2 .5-.6 .5 .7 .5-4.2 .5 1.5 .5-2.5 .5-.1 .5 5 .5-3.4 .5 6 .5-4.5 .5-1.5 .5 3 .5 2 .5-2.7 .5-3.4 .5 3.2 .5 2 .5-3.8 .5-.5 .5 3.5 .5-1.7 .5-2.5 .5 1.4 .5-.8 .5 2.1 .5-.4 .5 2 .5-.8 .5-4.5 .5 3.8 .5 .9 .5-.8 .5 1 .5-3 .5-.8 .5 3.6 .5-3.9 .5-2.1 .5 6 .5-3.3 .5 .7 .5-2.1 .5 .1 .5 .3 .5 1.5 .5 1.3 .5-5 .5 5.7 .5-3.7 .5 .2 .5 3.2 .5-1.4 .5-2.8 .5 6.3 .5-5.1 .5 2 .5-.1 .5 2.2 .5-3.5 .5 2.7 .5-3.2 .5 3.3 .5-3.5 .5 .7 .5 4.1 .5-2.9 .5-.4 .5 3.8 .5-3.4 .5-2.2 .5 2.8 .5-3.5 .5 4.1 .5 .1 .5-3.2 .5-.2 .5 1.5 .5-.4 .5-1.8 .5 2.8 .5-4.7 .5 2.8 .5 0 .5 .3 .5 1 .5-2.8 .5 3.2 .5-1.4 .5-.8 .5-1.3 .5 .3 .5 2.7 .5-2.4 .5 1.9 .5 1.7 .5 0 .5 .9 .5-3.3 .5-1.5 .5 3.8 .5-1.3 .5 1.5 .5-2 .5 2.1 .5-.6 .5-.3 .5-.4 .5-.1 .5-.3 .5-.1 .5 1.4 .5-2.7 .5 4 .5-3.3 .5 2 .5-1.9 .5-.3 .5 4.1 .5-4.2 .5-1.7 .5 1 .5 .7 .5 4.4 .5-3.5 .5 1.3 .5-3.4 .5 2.4 .5 .5 .5 2 .5-4.4 .5 2.3 .5-.5 .5-2.4 .5 1.8 .5-.4 .5-3.7 .5 5.2 .5-.1 .5-1.7 .5-1.6 .5 4.9 .5-2.1 .5 1.3 .5 .7 .5-3.4 .5 2.4 .5-1.9 .5 .3 .5 0 .5 .1 .5 2 .5-1.8 .5-.4 .5-.3 .5 1.1 .5-2.1 .5 .6 .5 .8 .5-.9 .5 .8 .5-.8 .5 4.5 .5-1.2 .5-1.5 .5-.9 .5 4 .5-3.3 .5-.7 .5 .6 .5 .1 .5 1.9 .5-2.5 .5 3.7 .5-5.2 .5 2.7 .5-2.9 .5 4.9 .5-3.8 .5 .5 .5 1.7 .5 .6 .5-4.1 .5 1.3 .5-1.8 .5 2.6 .5-.4 .5-.4 .5-.6 .5 .5 .5-.6 .5 2.2 .5 1.7 .5-5.9 .5 3.1 .5-.5 .5 1.6 .5-2.5 .5 1.4 .5-1.6 .5 3 .5-1 .5-.5 .5 .9 .5-1 .5-2.3 .5 3.7 .5-.5 .5-.8 .5 2 .5 .4 .5-4 .5 .6 .5 4 .5-.2 .5-3.8 .5-.7 .5 .9 .5 .3 .5-1.9 .5 2.8 .5-2.3 .5 .2 .5 3.6 .5-2.7 .5 1 .5 1.2 .5 .3 .5-1.9 .5 .6 .5-1.5 .5 4.5 .5-1.9 .5-3 .5 1.9 .5 1.2 .5-.4 .5 2.3 .5-.8 .5-3.2 .5 .7 .5-2 .5 2.6 .5-.1 .5 4 .5-4.1 .5-3.7 .5 2.4 .5 1.3 .5-2.3 .5 .7 .5 .8 .5 1.2 .5-.8 .5-1.2 .5 2.8 .5-2.2 .5 0 .5-1.4 .5 1 .5 2.4 .5-3.8 .5 2.6 .5 1.3 .5-1.8 .5 1 .5-2.2 .5 4.1 .5-.4 .5-1.4 .5-3.4 .5 1.2 .5 3.4 .5 1.3 .5-2.4 .5 1.6 .5-3.1 .5 .7 .5 .3 .5 .7 .5-3.2 .5 4.1 .5 .7 .5-4.2 .5-.3 .5 2.8 .5-1.6 .5-2.9 .5 5.3 .5-1.1 .5-1 .5 4.3 .5-3.3 .5-1.4 .5 1.4 .5-1.9 .5 .5 .5 1.9 .5-1.6 .5 .2 .5 3.5 .5-1.3 .5-.1 .5-.4 .5-.1 .5 1.6 .5-2.4 .5 3.1 .5-4.7 .5 1.2 .5-1.9 .5 1.8 .5 1.4 .5 1.6 .5-3.6 .5 1.2 .5-.6 .5-.7 .5-.7 .5 2.1 .5-3 .5 3.1 .5-.2 .5-1.1 .5-.6 .5-.6 .5 5.4 .5-5.3 .5 4.8 .5-1.6 .5-1.6 .5-1.3 .5 3.7 .5 1.1 .5-4.4 .5 1.1 .5 2.2 .5-1.2 .5 2.8 .5-4.3 .5 1.9 .5-3 .5 5.5 .5-4.6 .5-2.4 .5 3.4 .5 0 .5 3.3 .5-3.6 .5 .5 .5 1 .5 1.6 .5-2.7 .5 1.8 .5-.8 .5-1.4 .5 .7 .5-.1 .5-1.6 .5 3.5 .5-4.2 .5 4.2 .5-.4 .5-1.7 .5-1.1 .5 .9 .5 1.1 .5 .5 .5-.8 .5 1.2 .5-2.6 .5 1.3 .5-2.9 .5 3.8 .5-1 .5-.9 .5 2.5 .5-.7 .5-5.2 .5 4.1 .5-2.4 .5 4.1 .5 2.3 .5-4.9 .5 1 .5-.6 .5 1 .5 .5 .5 1 .5-3.6 .5 4.1 .5-4.1 .5 2 .5 1.4 .5-.7 .5-2.7 .5 .4 .5 .4 .5 .7 .5 1.9 .5-3.9 .5 2.8 .5 .2 .5-.1 .5-.1 .5 1.7 .5-1.7 .5 .6 .5-.5 .5 2 .5-6 .5 5.1 .5-2.4 .5-.1 .5-1.1 .5-1.4 .5 2.3 .5-.5 .5 1.9 .5-3.1 .5 4.6 .5-1.9 .5-.8 .5-.8 .5-.1 .5-.6 .5 1 .5 .8 .5-.3 .5-2 .5 1.8 .5-1 .5 1.7 .5 2.6 .5-2 .5-1.5 .5-2 .5 .3 .5-.4 .5 3.6 .5-2.3 .5 1.2 .5-1 .5 1 .5 2 .5-3.2 .5 .4 .5-.7 .5 2.5 .5-2.9 .5-.2 .5-.5 .5 0 .5 2.7 .5 2.9 .5-5.2 .5 2.8 .5-1.1 .5-2.1 .5 1.2 .5-.1 .5-.7 .5 3.7 .5-5.6 .5 3.2 .5-.2 .5-1.4 .5 .9 .5 .9 .5-1.1 .5 .3 .5 .2 .5-3.9 .5 4.8 .5 .9 .5-1.9 .5-.1 .5-3.5 .5 1.6 .5-1.1 .5 .1 .5 2 .5-2.6 .5 .7 .5-2.5 .5 2.1 .5 .2 .5-1.3 .5-.2 .5 3.2 .5-4.3 .5 0 .5 0 .5 2.4 .5 .9 .5-2.5 .5-1.7 .5 .1 .5 1.6 .5-2.9 .5 2.8 .5-.4 .5-2.1 .5 .3 .5-.2 .5 .6 .5-3.9 .5 2.4 .5-2.6 .5-1.1 .5 .5 .5-1.1 .5-1.8 .5-1.6 .5-.1 .5 2.2 .5-.5 .5-2.8 .5-.6 .5-3.6 .5-.9 .5-1.2 .5-3.5 .5-1.7 .5-.5 .5-2.6 .5-3.1 .5-.3 .5-3 .5-.5 .5-3.5 .5-2.4 .5-1.2 .5-2 .5-2 .5-.7 .5 .9 .5-.4 .5 1 .5-3.3 .5 2.5 .5 1.2 .5 2.2 .5 .9 .5 1.8 .5 3.7 .5 1.3 .5 .4 .5 5.4 .5 1.7 .5 0 .5 3.8 .5-.1 .5 4.2 .5-.1 .5 .8 .5 2 .5 .9 .5 2.5 .5 1.1 .5 .9 .5 .2 .5-1.7 .5 4.2 .5-1.8 .5 3.4 .5 1.8 .5-.5 .5-.3 .5 .7 .5 .6 .5-.1 .5 .3 .5 0 .5 3.1 .5-1.2 .5 1.6 .5-1.3 .5 .7 .5 0 .5 1.1 .5 .7 .5-.5 .5-.9 .5 .1 .5 3.4 .5-2.3 .5 .2 .5 2.5 .5-.3 .5-.6 .5-1 .5 3.8 .5-2.4 .5 .4 .5-.8 .5-1.5 .5 .2 .5 2.5 .5 .1 .5-.7 .5-1.1 .5-.2 .5 1.6 .5-1.4 .5 3.3 .5 .4 .5 1.9 .5-2.1 .5-1.9 .5-.2 .5-2.2 .5 2.7 .5 .6 .5 1.7 .5-.4 .5 0 .5-.5 .5 .7 .5 1.1 .5-3.3 .5 .8 .5-1.2 .5 4.2 .5-.4 .5-.7 .5-2.7 .5 2 .5-.6 .5 .5 .5-.4 .5 1.1 .5-1.3 .5 1.8 .5-.9 .5-.7 .5 .3 .5-.5 .5 1.8 .5-1.5 .5 .8 .5-1 .5-1.5 .5 3.4 .5-2.8 .5 2.5 .5-.4 .5-2.9 .5 1 .5 .6 .5-.5 .5-.5 .5 2.8 .5-1.4 .5 .9 .5-1.2 .5 1 .5-1.5 .5 1 .5 .9 .5-.8 .5-.7 .5-.9 .5 1.8 .5 .2 .5-.9 .5-.7 .5 1.9 .5 2.8 .5-4.1 .5 .9 .5 .1 .5-4.2 .5 3.8 .5-1.3 .5 3 .5-2.4 .5-.8 .5 .8 .5 .6 .5-1.1 .5 .7 .5-2 .5 1.6 .5 1.5 .5 1.7 .5-1.9 .5-.7 .5 1.3 .5-.3 .5 .9 .5-.9 .5-1.8 .5 .5 .5-.1 .5 .1 .5-.2 .5-1.5 .5-1.9 .5 2 .5-2 .5 3 .5-.2 .5-2.5 .5 3.4 .5 .2 .5-1.2 .5 2.3 .5 .2 .5-4.5 .5 3.2 .5-.9 .5-.1 .5 .7 .5-2.5 .5 .1 .5-.4 .5 .1 .5 .9 .5-2 .5 .5 .5 2.3 .5-1 .5 .6 .5-3.3 .5 1.5 .5 .3 .5 .8 .5-1 .5 2.2 .5-1.5 .5 0 .5 0 .5 .9 .5-1.7 .5 2.2 .5-1 .5-.5 .5-.2 .5 .7 .5 .6 .5-.1 .5-.9 .5 .7 .5-1.2 .5 1.6 .5-1.9 .5-3 .5 4.9 .5-1.8 .5-1.9 .5 1.4 .5-1.1 .5 4.3 .5-2.3 .5-3.1 .5 3.1 .5-1.4 .5 3.3 .5-4.4 .5-1.7 .5 3.3 .5-.6 .5-.2 .5-2.5 .5 3.7 .5 1.8 .5-5.2 .5 4.4 .5-2.5 .5 4.2 .5-2.8 .5-.9 .5 1.9 .5-.9 .5-1.6 .5 1.9 .5-1.8 .5-1.9 .5 5.6 .5-3.5 .5-.3 .5 1.4 .5-2.8 .5 .3 .5 1.3 .5 0 .5 .9 .5 1.6 .5-2.3 .5 1.4 .5 .2 .5-2.3 .5 1.9 .5-1.6 .5 3 .5-.8 .5-.6 .5-1.9 .5 2.2 .5-1.2 .5 2.3 .5-1.1 .5-.9 .5 2.6 .5-.2 .5-1.8 .5 2.7 .5-2 .5 .1 .5 .7 .5-1.1 .5 .5 .5 .6 .5 2.6 .5 0 .5-2.4 .5 2.9 .5-2.3 .5 .7 .5 .9 .5-.7 .5 3.2 .5-3 .5-2 .5 3.8 .5-2.3 .5 .3 .5-3.1 .5 5.2 .5-.1 .5 .1 .5 .4 .5 1.2 .5-2.4 .5 1.6 .5-2.3 .5 .6 .5 2.2 .5-.8 .5-2.4 .5 2.6 .5-.7 .5-.8 .5 2 .5-1.1 .5-1.6 .5 .8 .5 4.3 .5-4.7 .5 2.6 .5 .7 .5 .1 .5-2.6 .5 1.4 .5 .8 .5 1 .5-2 .5-.6 .5 3.2 .5 .2 .5-1 .5-1.4 .5 1.6 .5-.4 .5 1.1 .5-3 .5 2 .5-.4 .5-1.3 .5 1.9 .5-.2 .5-.6 .5 1.1 .5-2.6 .5 2 .5 .7 .5-.2 .5 1.1 .5-3.3 .5-.5 .5 2.5 .5 .3 .5 2.4 .5-2.2 .5-2.2 .5 2.4 .5-2.4 .5-1 .5 5.8 .5-3.2 .5 .5 .5-.3 .5 1.8 .5-2.3 .5 1.3 .5-3.3 .5-.5 .5 4 .5 0 .5-1.5 .5-.4 .5-.2 .5-1.3 .5 3.2 .5-1.4 .5-.2 .5-.3 .5 .9 .5-.9 .5 .3 .5-2.8 .5 2.3 .5 2.4 .5-4 .5 .5 .5 1.4 .5 0 .5-.5 .5-3.4 .5 3 .5-2.5 .5 .4 .5 2 .5-1.3 .5 1.5 .5 2.4 .5-2.6 .5-.2 .5-2.4 .5 .3 .5-.7 .5 .7 .5-.9 .5 .6 .5 .6 .5-1.3 .5-.6 .5 0 .5 2.5 .5-.6 .5 1.3 .5 0 .5-2.1 .5 1.4 .5-3.1 .5 5.3 .5-1.6 .5-2.1 .5-1.5 .5 2.2 .5-3.3 .5 1.5 .5 2.2 .5-1 .5-.9 .5 2 .5-2.9 .5 1.9 .5-1.2 .5-.6 .5 1.9 .5-2.1 .5 4.1 .5-3.6 .5 3.7 .5-4.5 .5 2.4 .5-2.6 .5-.2 .5 2.1 .5 .8 .5-2.9 .5 3.6 .5-2.9 .5 1.4 .5 .3 .5 .3 .5-3.4 .5 4.9 .5-1.5 .5-1.4 .5-.9 .5-.9 .5 .5 .5 2.8 .5-1.3 .5-1.1 .5 .9 .5 3.1 .5-2.8 .5-.3 .5 2.8 .5-1.2 .5-.6 .5-.9 .5-1.3 .5 .6 .5 1 .5 .5 .5 .8 .5 .4 .5-.4 .5 0 .5-1.7 .5-1.6 .5 2.4 .5-.6 .5 .5 .5 .6 .5-1.3 .5 .2 .5 1.6 .5 .3 .5-1 .5 1.7 .5-1 .5-1.1 .5 1.6 .5 2.8 .5-3.7 .5 2.8 .5 .3 .5 .3 .5-3.3 .5 4.2 .5-2.7 .5-.5 .5 .1 .5 1.3 .5-.8 .5-.2 .5 2.2 .5-2.9 .5-.4 .5 2.7 .5 0 .5 .6 .5-3.1 .5 3.2 .5-.8 .5 1.9 .5-4.3 .5 2.2 .5-.7 .5-1.8 .5 1.3 .5 2.7 .5-2.2 .5-.3 .5 2.3 .5 .2 .5 .1 .5-2.5 .5 1.1 .5 1.6 .5-2.4 .5-.1 .5 2.3 .5 1.1 .5-3.9 .5-1.9 .5 1.6 .5 .7 .5 1.3 .5 1.1 .5-1.1 .5-.7 .5 1.2 .5-1.5 .5 1.3 .5-.8 .5 4.6 .5-2.4 .5-2.4 .5-.2 .5 .9 .5-1.7 .5 1.3 .5 .1 .5 2.4 .5-1.9 .5-.5 .5-.7 .5 .2 .5 1.7 .5-.2 .5 2 .5-2.5 .5 2.5 .5-1.2 .5-.3 .5-2.9 .5 1.1 .5 3 .5 1 .5-1.7 .5 .8 .5-1.6 .5 0 .5-.3 .5 2.4 .5-.9 .5-.8 .5-.1 .5 1.3 .5-.3 .5-1.6 .5 3.7 .5-2.1 .5-.3 .5 2.1 .5-.6 .5-1.6 .5 1 .5-2.3 .5 .6 .5-2.3 .5 5.1 .5-4.5 .5 3.8 .5-2.2 .5-.2 .5 1.2 .5 .7 .5 .5 .5 1.7 .5-2 .5 .8 .5-2.2 .5 2 .5-.8 .5-.9 .5 .6 .5 0 .5 .4 .5 .4 .5-1.3 .5-.4 .5 2.2 .5-3.5 .5 1.6 .5 3.2 .5-5.9 .5 2.6 .5 2.1 .5-3.4 .5 6 .5-7.2 .5 5.7 .5 .2 .5-.9 .5-1.6 .5 .8 .5-1.8 .5 2.5 .5-2.8 .5 1.3 .5 1.8 .5-3 .5 1.1 .5 .7 .5-2.1 .5 3.6 .5-1.2 .5-2.6 .5 2.1 .5-1 .5 .2 .5 1 .5-1.1 .5 2.4 .5-2.4 .5 2.5 .5-1.5 .5 1.3 .5-2 .5 .1 .5-.9 .5 2.5 .5 .5 .5 1.7 .5-1.1 .5-1.5 .5-.7 .5 .9 .5-.6 .5 2.2 .5-.8 .5-2.5 .5 .2 .5 3 .5-1.6 .5-.7 .5 2 .5-2.2 .5 .1 .5-.2 .5-2.2 .5 4.1 .5-3 .5 1 .5-.3 .5 2.1 .5-1.1 .5 .1 .5-2.4 .5 2.3 .5-2 .5 2.6 .5 .1 .5-.6 .5 3 .5-2.2 .5 .1 .5-.6 .5-.5 .5 1.7 .5 .2 .5-3.5 .5 3.4 .5-.8 .5 .7 .5-.8 .5-2.4 .5 .1 .5 4.3 .5-2.3 .5-2.4 .5 2.6 .5-1.1 .5-2.1 .5-.7 .5 1 .5 2.8 .5-.5 .5-.3 .5 .8 .5 .4 .5-3.9 .5 2.6 .5-.8 .5-.6 .5 1 .5 .6 .5-.2 .5-1.7 .5 1.4 .5 3.6 .5-4.4 .5-1 .5 2.9 .5 .4 .5-.2 .5-2.3 .5 3.1 .5-2.6 .5-.5 .5 .7 .5 .7 .5 1.2 .5-.1 .5-1 .5 1.4 .5-1.2 .5 1.1 .5-3.3 .5-.3 .5 3.4 .5-3.1 .5 1.5 .5 .3 .5-.5 .5 0 .5 2.7 .5-5.7 .5 4.9 .5 2 .5-3.3 .5 0 .5 1 .5 1.6 .5-4.4 .5 1.9 .5-.5 .5 1.1 .5-.6 .5 .7 .5-1.6 .5 .7 .5-1 .5 0 .5 .7 .5 0 .5-1.5 .5 3.9 .5-2.5 .5-1.8 .5 3.6 .5-2.7 .5 1.8 .5-.8 .5 .4 .5-.1 .5-1.1 .5 .9 .5 2.8 .5-6.2 .5 3.4 .5 .5 .5-2.2 .5-.5 .5 5.1 .5-3.7 .5 3.6 .5-2.3 .5-.6 .5 .5 .5 .2 .5 .8 .5-1.1 .5-.4 .5 0 .5 1.7 .5-.8 .5-2.7 .5 .6 .5 1.3 .5-1.3 .5 .3 .5-.9 .5 1 .5 1 .5 .8 .5-1.4 .5 3 .5-3.2 .5 3.7 .5-2.1 .5-.8 .5-1.5 .5-2.9 .5 3.4 .5 .5 .5 2.5 .5-4.8 .5 4.7 .5-3.1 .5 1.4 .5-4.7 .5 3.8 .5-.7 .5 1.5 .5-.9 .5-1.8 .5 3 .5-.3 .5-.2 .5 .6 .5 .1 .5-1.6 .5-2 .5 0 .5 3.9 .5-.9 .5-.9 .5-.8 .5 .7 .5-.1 .5-.5 .5-.5 .5 4.1 .5-2.8 .5-1.2 .5-1.1 .5 .9 .5 2.1 .5 0 .5-1.4 .5 .4 .5-.6 .5-1.1 .5 3.4 .5-1.3 .5 3 .5-4.7 .5 .9 .5 1.5 .5-1.7 .5-1.6 .5 .6 .5 1.5 .5 .4 .5-.7 .5 1.6 .5 0 .5-1 .5-.4 .5-.4 .5 1.1 .5 .6 .5-1.3 .5 .6 .5-1.2 .5-1.5 .5 .6 .5 2.5 .5-.5 .5 1.7 .5-2.2 .5 1.1 .5 .7 .5-.5 .5-2.3 .5 .6 .5 .5 .5-1.6 .5 2.1 .5 .8 .5-2.2 .5 3.5 .5-3.2 .5 .1 .5-.1 .5-.6 .5 1.6 .5-.6 .5 2.4 .5-1.5 .5-.1 .5-1.1 .5-1.8 .5 2 .5-1.1 .5 2.6 .5-1.5 .5 2.5 .5-1.3 .5 .1 .5-.9 .5 0 .5 .6 .5 .4 .5-2.3 .5 1.7 .5 2.9 .5-3.7 .5-.3 .5-.6 .5-1.1 .5 3.8 .5-1.6 .5 .3 .5 2.3 .5 .9 .5-4.9 .5 2.8 .5-.6 .5-.3 .5 .1 .5-.7 .5 2.3 .5-1.4 .5-.4 .5 1.3 .5-.5 .5-.6 .5-.2 .5 2.1 .5-1.8 .5-.9 .5-1.1 .5 .7 .5-1 .5 1.7 .5 .2 .5-3.3 .5 3 .5 .9 .5-.7 .5-1.6 .5 3.2 .5-2.9 .5-.7 .5 .2 .5 1.5 .5 1.5 .5 .2 .5-1.3 .5-2.1 .5 .8 .5-.3 .5 1 .5-2.3 .5 2.7 .5 .8 .5-1.2 .5 .9 .5-2 .5-.7 .5 1.1 .5 2.7 .5-.2 .5-2.2 .5 2.4 .5-2.2 .5 2.7 .5-1.5 .5-1.4 .5 1.8 .5-2.2 .5-.3 .5-.7 .5 2.5 .5-.5 .5 0 .5-.5 .5 2.7 .5-2.7 .5-.4 .5 2.8 .5 .3 .5-1.6 .5-3 .5 1.6 .5 1.8 .5-.9 .5 2.3 .5-4.3 .5 3 .5-1.9 .5 2.9 .5-2.1 .5 1.6 .5-2.4 .5-1.1 .5 .4 .5 .8 .5-.6 .5 3.2 .5 .2 .5-1.5 .5-1.9 .5 1.3 .5-.8 .5 3.1 .5-1.7 .5 .3 .5-1.3 .5-2.3 .5 1.8 .5-.5 .5 2.1 .5-.4 .5-1.3 .5 .6 .5 2.9 .5-3.7 .5 .1 .5 1 .5-.7 .5 .4 .5 1.4 .5 1.7 .5-5.1 .5 2.6 .5 .1 .5-.2 .5-.1 .5-.3 .5 2 .5-2.1 .5 .5 .5 .1 .5 .2 .5-.4 .5 1.7 .5-1.5 .5 .3 .5-.3 .5-1.4 .5 .3 .5-.4 .5 1.8 .5-1.3 .5-.5 .5 1.9 .5 .4 .5-3.3 .5 5 .5-2.4 .5-.2 .5 1.7 .5-1.4 .5-1 .5 4.1 .5-4.8 .5 1.5 .5 1.3 .5-2.7 .5 1.4 .5 .7 .5 2.9 .5-4.8 .5 1.3 .5 1 .5-.8 .5-1.9 .5 2.3 .5-.4 .5 .5 .5 1 .5-.2 .5-.9 .5-.1 .5-2 .5 1.4 .5 .5 .5-.9 .5 .7 .5-1.3 .5 3.4 .5 .9 .5-3.7 .5 1.2 .5-.9 .5 2.1 .5-1.2 .5-.5 .5-.4 .5 .5 .5-1.6 .5 2.4 .5-2 .5 1.8 .5-.6 .5 1.4 .5-1.6 .5 1.5 .5-2.8 .5 2.2 .5-1.2 .5 .6 .5-.1 .5 1.2 .5-4.3 .5 3.4 .5-2.6 .5 3.9 .5-4.6 .5 1.4 .5-1 .5 4.9 .5-4.3 .5 2 .5-.9 .5-1.8 .5 2.1 .5 1.5 .5-1.3 .5 1.7 .5-1.9 .5 .5 .5-.5 .5 1 .5 2.3 .5-2.3 .5-.2 .5-1.2 .5-.2 .5 3.3 .5-3.8 .5 .3 .5 1.2 .5-.5 .5 3.5 .5-6.3 .5 4 .5 .5 .5-2.6 .5 .6 .5 1.6 .5 1.8 .5-3.7 .5-1 .5 3.7 .5 .8 .5-2.7 .5-2.7 .5 5.3 .5-2.4 .5 2 .5-1.7 .5-.5 .5-.1 .5 2.8 .5-.1 .5-5.1 .5 1.7 .5 4 .5-3.1 .5-1.5 .5 2 .5-.1 .5 0 .5-.6 .5 .3 .5-.2 .5 1.1 .5-1.6 .5 .7 .5 .3 .5 2.1 .5-1.4 .5-.7 .5 1 .5-.2 .5 1 .5-.9 .5 1.9 .5-.6 .5-2 .5-.6 .5 1.9 .5-.5 .5-.9 .5-2 .5-.5 .5 3.2 .5 .6 .5 .1 .5-3.1 .5 3.4 .5-2.3 .5 1.4 .5 0 .5-1.7 .5 .3 .5-2.2 .5 1.7 .5-1.3 .5 3.3 .5-.5 .5 1.2 .5-.8 .5-1.4 .5 1.4 .5-1.1 .5 1.5 .5-.4 .5-1.9 .5 1.4 .5 .1 .5-.5 .5 1.8 .5 1.2 .5-3.1 .5 .1 .5-2.8 .5 3.1 .5-.4 .5-2.5 .5 3.5 .5 .5 .5-1.9 .5 .5 .5-.9 .5 2.6 .5-3.3 .5 1.7 .5 3.3 .5-2.7 .5 .6 .5-.9 .5-1.5 .5 1.7 .5 .6 .5-2.1 .5 2 .5 1.3 .5-.2 .5-3.9 .5 .9 .5-.9 .5 3.9 .5-.6 .5 .1 .5-2.3 .5-.4 .5 1.8 .5 0 .5-1.3 .5 1.4 .5 .7 .5-.6 .5-1.8 .5-1.5 .5 2.7 .5 .6 .5-.6 .5-.3 .5-.3 .5 2 .5-1.1 .5 .2 .5-1.5 .5 .5 .5 1.1 .5-1.7 .5-.3 .5 1.3 .5 2.2 .5-1.4 .5 1.8 .5-2.3 .5-.2 .5-1.6 .5 1.2 .5 2.9 .5-1.6 .5 .6 .5 0 .5-1.1 .5-.3 .5 .5 .5 .8 .5-.3 .5 .1 .5-.5 .5-1.4 .5 .8 .5-1 .5 2.8 .5-4.5 .5 2.8 .5 3.7 .5-3.9 .5-1.2 .5 1.7 .5 1.9 .5-2.1 .5 1.1 .5-.8 .5-.7 .5 4.2 .5-3.5 .5-.9 .5 .1 .5 1.2 .5 .1 .5 .5 .5-.9 .5-2.3 .5 2.9 .5-1.3 .5 .1 .5-1.8 .5 1.3 .5-.2 .5 1 .5-2 .5 2.1 .5 .1 .5-1.8 .5 .7 .5-.3 .5 2.5 .5-4.9 .5 3.1 .5-1.9 .5 1.8 .5 1.8 .5-2.1 .5 1.1 .5-1.5 .5 4.1 .5-1.5 .5 .3 .5-3.6 .5 .3 .5 3.1 .5-1.8 .5-.1 .5 .8 .5-2.3 .5 2.9 .5-1.1 .5 .7 .5-1.7 .5 1.7 .5-1.8 .5 2.4 .5 .2 .5-.3 .5-.6 .5 .2 .5-4.6 .5 4.8 .5-1.6 .5 .5 .5-.6 .5-1.6 .5 1.2 .5 1.7 .5 1.1 .5-3 .5-.4 .5 3.4 .5-3.4 .5 4.3 .5-3 .5-1.4 .5 2.7 .5 1 .5-4.5 .5 4.3 .5-2.7 .5 2.5 .5-2.7 .5-1.8 .5 3 .5 .6 .5 1.7 .5-.6 .5-1.5 .5-1.4 .5-.4 .5 .3 .5-.8 .5 .8 .5-3.3 .5 3.9 .5-.3 .5 3.6 .5-2.5 .5-1.8 .5 1.4 .5-2.6 .5 .9 .5-1.8 .5 4.7 .5-1.2 .5-2.6 .5 1.6 .5 1.4 .5-.7 .5-.2 .5-1.8 .5 .3 .5 1.1 .5 1.1 .5-2.5 .5-.5 .5 3.3 .5-3 .5 2.8 .5-1.2 .5 .9 .5 1.2 .5-1.5 .5 .1 .5-2.5 .5 .3 .5 1.9 .5 1.3 .5-.2 .5 1.3 .5-2.9 .5-.2 .5 1.1 .5-1.4 .5-.1 .5-1.5 .5 2.9 .5-3 .5 2.3 .5-2.8 .5 3.6 .5-3.1 .5 2.7 .5-3.5 .5 1.6 .5 2.4 .5-2.9 .5 1.2 .5-.8 .5-2.7 .5 3.8 .5 .2 .5-2.3 .5 2.5 .5-2 .5-.4 .5 1.5 .5-1 .5 4.3 .5-5.6 .5 3.3 .5 .4 .5-4.4 .5 .4 .5 3.3 .5-1.5 .5 1.2 .5 1.1 .5-2.2 .5-1 .5-2.1 .5 3.9 .5-1.6 .5 1.8 .5-.1 .5-2.4 .5 4.5 .5-.9 .5-.4 .5-2.9 .5 1.1 .5-.2 .5 .2 .5-1 .5 2.2 .5-.3 .5 .2 .5-1.2 .5 2.6 .5-1.6 .5-3.9 .5 2.7 .5 .8 .5 1.5 .5-1.8 .5 .1 .5-.6 .5 1.9 .5-1.6 .5-.2 .5-.2 .5 1.9 .5-1.6 .5-1.6 .5 3.3 .5-1.9 .5 1.6 .5 0 .5 1.2 .5-.2 .5-2.3 .5 .6 .5-1.6 .5 4.3 .5-1.8 .5 1.4 .5-2.5 .5-2.5 .5 5.3 .5-2.1 .5 .1 .5-.1 .5 .8 .5-.1 .5-3.1 .5 3.9 .5-2.3 .5 .1 .5 3.2 .5-1.1 .5-1.8 .5-2.2 .5 2.9 .5 .6 .5-.9 .5-1.6 .5 .6 .5-.6 .5 2.2 .5 .8 .5 .4 .5-2.6 .5 1.5 .5 .5 .5-1.6 .5 .6 .5 3.3 .5-2.8 .5 1.1 .5-1.9 .5 .7 .5-2.5 .5 2.4 .5 1.8 .5 1.4 .5-1.3 .5-.7 .5-.9 .5-1 .5 .7 .5 1.2 .5-2.1 .5 2.6 .5-2.8 .5-1.1 .5 1.1 .5-.9 .5 .4 .5 3.7 .5-1.9 .5 .6 .5 1.4 .5 .2 .5-2.6 .5 2.7 .5-1.3 .5-.5 .5 .6 .5-2.7 .5 1 .5 1 .5 1 .5-1.4 .5 .4 .5 1.6 .5 .7 .5-.9 .5 .7 .5-2.4 .5 .2 .5 .9 .5-.9 .5-.2 .5 3.1 .5-2.7 .5-1 .5 2.1 .5 2 .5-2.6 .5 1.7 .5-2.4 .5 0 .5-.3 .5 .8 .5 2.9 .5-4.3 .5 4 .5-3.8 .5 1.1 .5 1.6 .5-.3 .5-.5 .5-2.7 .5 2.9 .5-2 .5 5.1 .5-3.9 .5 .6 .5-1.9 .5 1 .5-1.2 .5 3.3 .5-1.8 .5 1.2 .5-1.8 .5 .3 .5 2.6 .5-3.2 .5-1.2 .5 3.2 .5-2.2 .5 1 .5 2 .5-2.5 .5 2.5 .5-2.3 .5 3.2 .5-.2 .5-2.6 .5 .4 .5-.9 .5 1.5 .5 1.4 .5-3.8 .5 3.5 .5-3.3 .5 .7 .5-1.3 .5 5.7 .5-3 .5 .3 .5-1.3 .5 2.5 .5-4.6 .5 3.1 .5 3.2 .5-3.7 .5 .6 .5 .9 .5-2.1 .5 1.2 .5 1.4 .5-1.1 .5 .3 .5-1.1 .5 1 .5-.3 .5 2 .5-1 .5-1.4 .5-3.2 .5 4.6 .5 .1 .5-2.5 .5-1.5 .5 1.2 .5 3.1 .5-2.9 .5 .9 .5 1 .5 1.4 .5-1.7 .5-.1 .5-.7 .5 3.2 .5-.8 .5-1.7 .5 .2 .5 0 .5 0"/>
<path class="crv" stroke="#FF0000" stroke-width="11.8" d="M213.6 973.7l.5 0 .5 0 .5 .7 .5 5.6 .5 2.6 .5-1.3 .5 4.6 .5-3.2 .5 2.3 .5-.1 .5-3.3 .5 2.1 .5 5.8 .5-2.4 .5 8.1 .5 1.2 .5 2.9 .5-5.6 .5 6.2 .5-7.4 .5 1.3 .5 4.2 .5 1.7 .5-6.1 .5 .4 .5 8.3 .5-3.7 .5 8.3 .5-2.4 .5 .3 .5 .3 .5 3 .5-3.2 .5 5 .5-5.3 .5 1.6 .5-1.2 .5 5.1 .5-1.5 .5-2.8 .5 10.7 .5-8 .5 1.3 .5 2.2 .5 5.2 .5-6.3 .5 3.4 .5-1.8 .5-5.2 .5 8.3 .5 1.2 .5-4.1 .5 1.1 .5-4.9 .5 .3 .5 4.2 .5 3.9 .5-3.5 .5 2.9 .5 2.6 .5-2.8 .5 2 .5 3.2 .5-9 .5 7.1 .5-8.8 .5 8.2 .5-.6 .5-2.3 .5-1.6 .5 3.6 .5-.9 .5 1.9 .5-3.2 .5 5.1 .5-5.1 .5 2.6 .5-.1 .5 5.8 .5-9.1 .5 3.8 .5 5.5 .5-6 .5-1.8 .5 5.3 .5-1.8 .5 3.9 .5-5.6 .5 3.8 .5 1.7 .5 1.4 .5-6.9 .5 8.5 .5-7.5 .5-1.9 .5 2 .5 3.8 .5-1.5 .5 2.7 .5 .3 .5-.5 .5-1.7 .5 6.8 .5-12.8 .5 1.7 .5 4.1 .5-2.3 .5-3.9 .5 5.6 .5 .3 .5-5.2 .5 10.6 .5 1.6 .5-.1 .5-5.4 .5 2.2 .5-3.9 .5 4.3 .5-2.6 .5 3.5 .5-2.2 .5 4.4 .5-.5 .5 1.4 .5-8.7 .5-.6 .5 7.1 .5-3 .5 3.2 .5-.2 .5-.3 .5 2.4 .5-1 .5-.1 .5-4.1 .5 8.1 .5-4.8 .5 3.1 .5-2.2 .5 2.9 .5-3.2 .5 .3 .5-.2 .5-2.4 .5 .5 .5 1.4 .5 .2 .5-2.5 .5 10.1 .5-9.9 .5 2.2 .5 8.2 .5-9.1 .5 4.4 .5-.2 .5-2.5 .5-3.5 .5-.2 .5 4.6 .5 1.4 .5-7.4 .5 6.8 .5-2.2 .5 4.6 .5-2 .5-2.7 .5 1.2 .5 1.5 .5 3.8 .5 3.4 .5-6 .5-.6 .5 1.8 .5-1.8 .5 2 .5-.5 .5-1 .5-2.1 .5 2.8 .5 2.2 .5-2.2 .5 4.2 .5-1.5 .5-2.9 .5 5.4 .5-7.9 .5 6.6 .5 2 .5-5.8 .5 .6 .5 3.1 .5 1.5 .5-2.6 .5-.4 .5 2 .5-1.7 .5-3.9 .5 3 .5 .6 .5-4 .5 5.4 .5-3 .5 4.3 .5-6 .5 1.7 .5-1.3 .5 7.7 .5 .1 .5 .7 .5 .1 .5-1.4 .5 .1 .5-6.9 .5 5.7 .5-2.1 .5 .6 .5-2.3 .5 7.1 .5-3 .5-4.4 .5 5.6 .5-1.5 .5-2.5 .5 2.1 .5-1.1 .5-4 .5 2.2 .5 5.5 .5-.3 .5-.1 .5-3.8 .5 1.7 .5 1.9 .5 1.8 .5-4 .5-.5 .5 6 .5-2.8 .5-1 .5-.9 .5 .3 .5 6.1 .5-1.6 .5-3.6 .5-2.1 .5 7.8 .5-.2 .5-.9 .5-.8 .5-7.1 .5 1.6 .5 4.9 .5-2.1 .5 1.5 .5-2 .5-.3 .5 3.2 .5-2.4 .5 1.1 .5 .7 .5 0 .5 2.5 .5 .6 .5-7.1 .5 2.9 .5-.9 .5 3.7 .5-4.6 .5 4.8 .5-.2 .5-.2 .5-4 .5 2 .5-2.1 .5 3.8 .5 1.5 .5-6.3 .5 1.8 .5 1.8 .5-.9 .5 5.2 .5-4.1 .5 1 .5-3.4 .5 6.8 .5-3.5 .5 1.6 .5-1.7 .5-5.5 .5 1.4 .5 .8 .5 4.5 .5-2.5 .5 2.4 .5-.3 .5 0 .5 1.7 .5-1.8 .5-4.5 .5 2.4 .5 5.9 .5-6.8 .5 6.1 .5 .8 .5-5.6 .5 2.4 .5-4.3 .5 5.4 .5-3.8 .5-1.2 .5 2.3 .5-.2 .5-.2 .5 1.9 .5-.9 .5-1.1 .5 3.9 .5 3.6 .5-5.7 .5-1.8 .5-.7 .5 3.9 .5-2 .5 .7 .5-4.9 .5 2.1 .5 0 .5 5.1 .5-2.9 .5-5.3 .5 7.2 .5 1.5 .5 .5 .5-9.1 .5 6.4 .5 1.6 .5-.5 .5-2 .5-3.7 .5 3.3 .5 .3 .5 2.1 .5 .2 .5-2.1 .5 2.6 .5-4.4 .5 .9 .5 1.5 .5 1.4 .5-2 .5 3.6 .5-1.9 .5-3.1 .5 2.4 .5-2.2 .5-.2 .5-1.1 .5 6.6 .5-1.1 .5-5.8 .5 6.3 .5-.3 .5-3.1 .5 2.1 .5 4 .5-4.5 .5 .3 .5 1.6 .5-4.9 .5-.5 .5-.3 .5 3.1 .5 2.1 .5-3.9 .5-1.1 .5 3.6 .5-1.3 .5 2.3 .5-1.7 .5-.1 .5 .3 .5 .3 .5-2.3 .5-.3 .5 6.1 .5 1.9 .5-2.9 .5-6.1 .5 3.7 .5 2.6 .5-6.3 .5 2.6 .5 .2 .5-1.1 .5 .2 .5 4.1 .5-3.3 .5 .5 .5 4.3 .5-5.6 .5-2.3 .5 5.6 .5 3 .5-3.9 .5 .2 .5-3.5 .5 .8 .5 5.2 .5-.4 .5-1.4 .5-2.7 .5-1.2 .5 .3 .5-.2 .5 3.8 .5-3 .5 .6 .5 2.6 .5-.1 .5-1.3 .5 .9 .5-1 .5-4.1 .5 3.9 .5-.7 .5 .1 .5 1.3 .5-1.7 .5 3.8 .5-3 .5 .7 .5 .4 .5-1.1 .5 1.8 .5 .2 .5-.3 .5-2.8 .5-.4 .5 .6 .5 1.3 .5-4 .5 2.2 .5-.7 .5 1 .5-.5 .5 3.6 .5-.7 .5 1 .5-4.1 .5 .5 .5 1 .5 4.1 .5 .1 .5-4.9 .5 2.6 .5 3.2 .5-6.7 .5 1.8 .5 3.1 .5-1.2 .5-3.6 .5 5.3 .5-1.1 .5-.7 .5-4.1 .5 2.3 .5 3.1 .5-1.7 .5 .6 .5-2.3 .5 3.8 .5-3.7 .5 2.4 .5-1.2 .5-2.8 .5 5.2 .5-5.9 .5 1.1 .5 1.9 .5-3.3 .5-.9 .5 3.6 .5-.7 .5 .4 .5 1.6 .5 3.8 .5-5.8 .5 6.1 .5-4.7 .5-.8 .5-5.1 .5 2 .5 3.9 .5 .6 .5-3 .5 2.4 .5 1.3 .5-3.2 .5-2.3 .5 1.3 .5 1.5 .5 1.2 .5 1.1 .5-3.7 .5 2.1 .5-.7 .5 .6 .5 2.3 .5 .4 .5-3.8 .5-.3 .5-.2 .5 .3 .5 .2 .5 .6 .5-.8 .5-1.2 .5-.3 .5 2.7 .5 5.2 .5-4.1 .5 .1 .5-.6 .5-1.2 .5 4.8 .5-5.1 .5-1.5 .5-.6 .5 3.1 .5-2.6 .5 .3 .5 0 .5-1 .5 3.2 .5-4.1 .5 8.7 .5-10.5 .5 2.4 .5 3.2 .5 .7 .5-1.7 .5 1.4 .5-.2 .5-.2 .5 1 .5-.7 .5-.8 .5-.1 .5 2.2 .5-2.4 .5 1.7 .5 2.2 .5-2.7 .5 1.8 .5-3.6 .5 1.5 .5 .5 .5-.6 .5 .5 .5 2 .5-3.8 .5-.9 .5 2.2 .5-4 .5 3.2 .5 2.7 .5-2.8 .5 1.3 .5-.4 .5 1.8 .5-1.6 .5-.7 .5-6.1 .5 4.4 .5 2.7 .5-2 .5-1.4 .5 3.7 .5-4 .5 1.1 .5 2.3 .5-2.7 .5 1.5 .5-.5 .5-2.7 .5 1.5 .5 .3 .5-.7 .5 3.9 .5-2.5 .5-1.5 .5-1.7 .5 2.4 .5 3.7 .5-3.7 .5 2.3 .5-.7 .5-2.2 .5-1 .5 3.3 .5-5.1 .5 5.1 .5-4 .5 4.6 .5-2.8 .5 .6 .5 2.6 .5-4.7 .5 2.4 .5-.9 .5 1.9 .5 .5 .5-1.1 .5-.2 .5-1.4 .5 2.3 .5-1.9 .5 .8 .5 .1 .5-3.6 .5 .5 .5 3.1 .5-.6 .5 3 .5-8.5 .5 6 .5 2 .5-2.3 .5 1.6 .5-1.8 .5-.2 .5 2.2 .5-5.1 .5-2.2 .5 6.3 .5-.8 .5-.1 .5 .4 .5 .8 .5-2.6 .5 2.2 .5-.4 .5-3.4 .5 2.3 .5 1 .5-2.5 .5 4.2 .5-3.1 .5 2.6 .5 1.5 .5-6.9 .5 .4 .5 4.4 .5-1.8 .5 1.6 .5 2.8 .5-5.1 .5 3.1 .5-2.6 .5-.9 .5 2.6 .5-.5 .5 1.9 .5-1.8 .5 1.3 .5-.9 .5-5.2 .5 3.1 .5 .1 .5 2.9 .5-4.6 .5 2.9 .5-1.4 .5-3.4 .5 3.9 .5 1.9 .5-2.4 .5 3 .5-1.2 .5-.2 .5-2 .5 .8 .5 1.5 .5-1.1 .5-2.9 .5 2.4 .5 1.4 .5 1.7 .5-.7 .5-4.3 .5 3.9 .5-5.5 .5 2.3 .5-.4 .5 5.5 .5-2 .5-.9 .5-2.2 .5 4.4 .5-3.6 .5 1.7 .5 1.5 .5-3.4 .5 2 .5-6 .5 6.1 .5-5.5 .5 5.1 .5-.4 .5 .5 .5 4.4 .5-11.6 .5 7.1 .5-2.1 .5 2.7 .5-1 .5-.6 .5-1.5 .5-.5 .5 2.6 .5-4.6 .5 6.2 .5-4 .5 2.5 .5-4 .5 3.9 .5-1.7 .5 2.4 .5 1.1 .5-4.3 .5 1.5 .5 .3 .5 2.9 .5-6.7 .5 4.6 .5-1.6 .5-2.9 .5 2.1 .5-.8 .5 4.2 .5-5 .5 4.7 .5-3.6 .5 2.7 .5-5.8 .5 2.2 .5 2.3 .5-2.7 .5-1.6 .5 3.8 .5 1.8 .5-1.9 .5-.6 .5 1.4 .5-2 .5 3.2 .5 .4 .5-5.9 .5 5.7 .5-1 .5-1 .5 1 .5 1.7 .5 1.2 .5-.8 .5-4.6 .5 3.8 .5-7.4 .5 6.3 .5-.6 .5 .7 .5-4.7 .5 5.7 .5-.4 .5-2.7 .5-4.1 .5 4.3 .5-3 .5-1.9 .5 2.1 .5 7.5 .5-9.5 .5 2.7 .5 1.3 .5 1.8 .5-4.9 .5 0 .5 4.6 .5-1.6 .5 2.3 .5-6.1 .5 2.6 .5 2.5 .5-2 .5-3.2 .5 3 .5-5.1 .5 2.8 .5 3.8 .5 .3 .5-1.3 .5 .6 .5-5.6 .5 2.1 .5 4.3 .5 3.1 .5-4.8 .5-3.5 .5-.2 .5 5.5 .5-.4 .5-5.9 .5 3.4 .5 3.1 .5 0 .5-4.9 .5 .8 .5 1.6 .5-4.1 .5-1.4 .5 2.3 .5 4.8 .5-.3 .5-1.7 .5-4.3 .5-2.1 .5 2.3 .5 2.7 .5 2.5 .5-5 .5 2.4 .5-5 .5-.9 .5 5.4 .5-3.1 .5 .3 .5-3.3 .5 7.9 .5-6.9 .5 4.7 .5-4.1 .5 2.9 .5 4.4 .5-2.9 .5-.4 .5 1.9 .5-1 .5 2.2 .5-7.6 .5 7.4 .5-3.5 .5-3 .5 4.3 .5-.2 .5-1.5 .5 2.2 .5-5.8 .5-1 .5 2.7 .5 4.5 .5-1.6 .5-1.5 .5-1.7 .5 1.6 .5 3 .5-4.7 .5-.1 .5 2.7 .5 .5 .5-1.5 .5 3.5 .5-3.4 .5-3.3 .5-3.4 .5 9.1 .5-3.7 .5 1.2 .5 .3 .5 2.4 .5-1 .5-.2 .5-2 .5-1.5 .5 1.3 .5-3.1 .5 3.1 .5 1.8 .5-1 .5-1.7 .5-3 .5-.1 .5 .3 .5 .7 .5 2.2 .5 0 .5 .1 .5 1 .5-5.6 .5 2 .5 1.9 .5 .6 .5-4.2 .5-.2 .5 5 .5-1.4 .5-.8 .5-2.2 .5-2 .5 2.5 .5 .8 .5 .4 .5 .9 .5-2.2 .5 3.1 .5-4.5 .5 1.8 .5-.9 .5-5.2 .5 1.2 .5 2.1 .5 1.8 .5 .5 .5 2.6 .5-3.7 .5-.9 .5 1.8 .5-4.3 .5 2.8 .5-2.3 .5 3 .5-2.1 .5 .8 .5 6.6 .5-2.3 .5 4 .5-6.5 .5-1 .5-1.6 .5 2.2 .5-4.9 .5 5.3 .5-1.8 .5-2.1 .5-1.2 .5 2.6 .5 1.5 .5 1.1 .5-4.4 .5 4.6 .5 1.1 .5 5.6 .5-5.2 .5 1.7 .5-4.6 .5 2.1 .5-1.9 .5-.2 .5 3.9 .5-2 .5 5 .5-4.2 .5 1.4 .5-4.6 .5 .7 .5 4.9 .5-3.8 .5 5.8 .5-6 .5-.1 .5 8.2 .5-10.4 .5 3.5 .5 3.1 .5 .3 .5-5 .5 9.7 .5-7.6 .5-4.2 .5 8.4 .5-4 .5 1.6 .5 2.2 .5-4.9 .5 .6 .5 1.9 .5 2.9 .5-6.3 .5 8.2 .5-3.1 .5-4.3 .5 3.5 .5 1.6 .5 2 .5-1 .5 .9 .5-3.7 .5 2.6 .5-9.5 .5 10.5 .5-3.1 .5 5 .5-6.5 .5 .4 .5 1.7 .5 2.3 .5-1.3 .5 2.1 .5-2.8 .5 3 .5 4.5 .5-3.8 .5-1.8 .5-6.1 .5 6.3 .5 1.5 .5-3.8 .5 3.8 .5-9.7 .5 4.6 .5-.7 .5 4.5 .5-4 .5-.4 .5 7.4 .5-8.8 .5 6 .5 1.9 .5-4.1 .5-1.9 .5 2.2 .5-1.1 .5-.6 .5 3.2 .5-.8 .5 7.8 .5-3.6 .5-3.3 .5 1.2 .5 3.5 .5-1.5 .5-3.4 .5-2.5 .5 7.9 .5-5.4 .5 .8 .5 3.5 .5-3.5 .5 3.4 .5-4.8 .5 1.5 .5-1.1 .5 7.1 .5-11 .5 4 .5-2.1 .5 .5 .5-1.7 .5 1.5 .5 6.3 .5 .8 .5-6.5 .5-1.8 .5 2.4 .5 6.6 .5-5.3 .5-6.4 .5 9.4 .5-3 .5 2.3 .5-.6 .5-5.4 .5 7.4 .5-1.1 .5-4.2 .5-5.1 .5 3.6 .5 .1 .5 5.9 .5-4.1 .5 .5 .5 1.6 .5-1.5 .5 2.7 .5-.2 .5 2.1 .5-7 .5 5.2 .5-2 .5 7.8 .5-2.1 .5-6 .5 4.4 .5-8.8 .5 2.3 .5 2.7 .5 1.8 .5-4.5 .5 3.8 .5 4 .5-9.4 .5 .9 .5-1.9 .5 10.2 .5-7.4 .5 2.4 .5-1.7 .5 2.7 .5-.8 .5 1.8 .5 0 .5 4.8 .5-8.5 .5 3.8 .5-.9 .5-2.8 .5 6 .5 3.4 .5-10 .5 12.1 .5-8.8 .5 .3 .5-8.1 .5 8.6 .5-.6 .5-.4 .5 3.2 .5-2.9 .5 1.9 .5-3.5 .5-1.7 .5 4.4 .5 1.6 .5 .4 .5-2 .5-2.9 .5 2.7 .5-1 .5-3.5 .5 5.6 .5-1.8 .5-3.2 .5 2.8 .5 3.2 .5 3.2 .5-11.7 .5 5.1 .5 3.3 .5 2.2 .5-2.8 .5-5 .5 1.9 .5 1.7 .5-2.7 .5-1 .5-.8 .5 13.8 .5-9.1 .5-1 .5 3.4 .5-2.3 .5-.7 .5 1.3 .5-3.6 .5 1.3 .5 4.8 .5-1.1 .5-6.2 .5 9.4 .5-6.9 .5-4.4 .5 8.4 .5-.2 .5-1.3 .5-4.8 .5 8 .5-2.5 .5-.7 .5-.5 .5 .5 .5 6.8 .5-10.2 .5 3 .5 3 .5-1.3 .5-5.9 .5 2.4 .5-1 .5-4.2 .5 4.7 .5 4.3 .5-2.7 .5 3.1 .5-2.7 .5-4.4 .5 4.6 .5-8.8 .5 11.3 .5-6.4 .5 7.7 .5-11.7 .5 1.3 .5 1.9 .5 .5 .5-5.4 .5 1 .5 6.4 .5-5.3 .5 6.1 .5 2.6 .5-12.6 .5 3.7 .5 7.7 .5-3.1 .5-10.2 .5 6.1 .5 4.3 .5-15.7 .5 9 .5 2 .5-7 .5-1.5 .5 4.5 .5-10.3 .5 7.5 .5 1.6 .5-5.6 .5-7.7 .5 11.5 .5-7.5 .5 1.2 .5-6.8 .5 2.1 .5 3.7 .5-11.5 .5-.3 .5-4 .5 9.2 .5-1 .5-6.1 .5 3.8 .5-2.1 .5 6.8 .5-13.4 .5 4.9 .5-3.6 .5 8.4 .5-6.3 .5-7.4 .5 5.9 .5-3.1 .5-3.9 .5 4.8 .5-1.7 .5-5.8 .5 2.4 .5 6 .5-1 .5-4.9 .5-1.1 .5 2.3 .5-1.6 .5-4.4 .5 7.4 .5-5.7 .5 9.3 .5-3.3 .5 .8 .5-3.9 .5 2.3 .5-2.7 .5 1.1 .5-2.2 .5 10.2 .5-9.9 .5 11.7 .5-3.4 .5-6.2 .5 9.3 .5-3.2 .5-4.5 .5 4.7 .5-1.9 .5-1.3 .5 3.2 .5 1.8 .5-1.9 .5 1.6 .5 3.8 .5-3.2 .5-.6 .5-3.1 .5 5.3 .5-1.1 .5 1.4 .5 4.6 .5 .7 .5-2.8 .5-2 .5 3.3 .5 1.2 .5 .2 .5-6.2 .5 7.4 .5-4.8 .5 5.7 .5 .9 .5-.5 .5 4.6 .5-4.2 .5 1.7 .5-4.4 .5 3.6 .5 0 .5 1.6 .5-.4 .5-8.3 .5 13.1 .5 0 .5-10.7 .5 9.8 .5 3.4 .5-.8 .5 .3 .5-3.2 .5-.9 .5 10 .5-5.6 .5 5.1 .5-6.5 .5 4.3 .5-.2 .5 .2 .5-7.8 .5 14.6 .5-8 .5-2.3 .5 2.7 .5-7.9 .5 12.8 .5-6.9 .5 2.9 .5-.1 .5-7.5 .5 5.9 .5 6.5 .5-7.9 .5 4.3 .5 3.2 .5 2.5 .5-9.5 .5 7.7 .5-1.3 .5-.4 .5 1.9 .5-.8 .5-6.7 .5 6 .5-4.3 .5 3.9 .5-2.9 .5 7.6 .5-2.1 .5-1.7 .5-4.6 .5 4.4 .5-6 .5 .9 .5-3.1 .5 10.1 .5-5.5 .5 5.6 .5 .8 .5-.4 .5-5.7 .5 7.3 .5-1.1 .5-9.7 .5 6.5 .5-4.7 .5 2.6 .5 5.3 .5-3.6 .5 5 .5-3.9 .5 .4 .5 3.6 .5-1.7 .5-1.8 .5 2.2 .5-.7 .5-10.3 .5 1.3 .5 4.4 .5 3.9 .5-7.4 .5-3.7 .5 6.3 .5-2.2 .5 8.1 .5-15.3 .5 12.5 .5-.7 .5-13 .5 6.2 .5 3 .5 2.4 .5-1.5 .5 2.3 .5-1.7 .5-4 .5 9.7 .5-5.5 .5-4.6 .5 5.3 .5-2.5 .5-1.2 .5-.8 .5-3.5 .5 2.4 .5-1.5 .5-2.8 .5 9.7 .5-.7 .5-2 .5-3.6 .5 1.4 .5 9.4 .5-9.7 .5 6.9 .5-1.9 .5 .7 .5-3.8 .5 1.1 .5 .8 .5-4 .5 9.9 .5-8.6 .5 4.1 .5 6.5 .5-1 .5-8.1 .5 4.6 .5 2.2 .5-11.7 .5 16.1 .5-5.8 .5-3.1 .5 1 .5-8.3 .5 11.9 .5 3.7 .5-6.9 .5 7.4 .5-3.5 .5-7.8 .5 7.7 .5-10.1 .5 .8 .5 10.3 .5-.1 .5-2.4 .5 .1 .5-5.5 .5 10.4 .5-3.9 .5-.6 .5 10.7 .5-8.3 .5-1 .5 8.3 .5-6.7 .5-2.9 .5 8.3 .5-6.5 .5-2.5 .5 2 .5 1.6 .5 3.8 .5 1.5 .5-9.8 .5 10 .5-7.4 .5 .8 .5-8.6 .5 17.1 .5-4.1 .5-3.1 .5 .2 .5 4.8 .5-3.8 .5-10.5 .5 11.7 .5-1.1 .5 .7 .5-.3 .5 3.4 .5-6.3 .5 12.2 .5-8.6 .5-3.4 .5 3.4 .5-7.2 .5 6.3 .5-2.3 .5-.9 .5 7.3 .5-2.1 .5-5 .5 1.5 .5 3.9 .5 7.9 .5-9.6 .5-.1 .5 2.6 .5-6.9 .5 4.7 .5 3.4 .5-1.3 .5-.1 .5-6.2 .5 5 .5 5.7 .5 3.8 .5-5.4 .5-6.1 .5 .5 .5 1.1 .5 9.4 .5-14 .5 4.6 .5-5.7 .5 5 .5 .6 .5 4.9 .5-.4 .5-2.3 .5-2 .5-.5 .5 8.4 .5-7.1 .5-3.9 .5 1.5 .5 3.2 .5-3.3 .5-3.1 .5 10.2 .5-6.6 .5 2.3 .5 1 .5-1.4 .5 .4 .5-9.6 .5 10.5 .5-1 .5-.7 .5 1.4 .5 9.3 .5-2.2 .5-3.6 .5 3.3 .5-7.9 .5 1.5 .5 2.2 .5 1.8 .5-.2 .5 4.1 .5-7.9 .5 6.1 .5-7.9 .5 4.8 .5-6.1 .5 9 .5-7.1 .5 7.5 .5-12.9 .5 15 .5-7.3 .5 1.9 .5-.6 .5-7.7 .5 4.3 .5 0 .5 2.1 .5-5.7 .5 3.7 .5 2.9 .5 4.2 .5-1.6 .5-7.3 .5 8 .5 2.9 .5-3.1 .5-4.2 .5-2.1 .5 1.9 .5 8 .5-10 .5-5.6 .5 13 .5-5.8 .5 2.3 .5-1.2 .5 5.8 .5-5.6 .5-1.2 .5-.2 .5 9.7 .5-.9 .5-6.8 .5-.4 .5 1.5 .5 2.6 .5-5.1 .5 8.8 .5-4.5 .5-10.5 .5 5.7 .5 2.9 .5 9.8 .5-2.8 .5-4.9 .5-4.9 .5 3.9 .5 .5 .5-1.7 .5 2.1 .5 2.1 .5-4.2 .5-2.3 .5 4.7 .5-6.1 .5 3.9 .5 5.9 .5-3.5 .5-4.9 .5 4.1 .5-.8 .5 1.4 .5 3.2 .5-5.3 .5-2.5 .5 9.8 .5-8.3 .5 5.1 .5-.6 .5-2.5 .5 3.1 .5-.7 .5-.4 .5 2 .5-5 .5 5.6 .5-6 .5 6.3 .5 1.2 .5-7.2 .5 9.4 .5-8.7 .5 1.9 .5-2.5 .5 1.8 .5 1.2 .5-2.3 .5 5.2 .5-5.7 .5 3.6 .5-4.6 .5 .5 .5 3.4 .5 .6 .5-2.2 .5 2.3 .5 .4 .5-3.6 .5 2.2 .5-2.8 .5-1.4 .5 2.2 .5 1.2 .5 4.5 .5-2.1 .5-1.3 .5-7.1 .5 3.9 .5 4.5 .5 .2 .5-1.8 .5-3.7 .5-2.3 .5 .9 .5 5.7 .5 .7 .5 4.3 .5-7.5 .5 3 .5-3.3 .5 1.7 .5 .9 .5-1.8 .5 5.8 .5-7.5 .5 5.7 .5-3.1 .5-.8 .5 4.6 .5-4.9 .5 2.7 .5-.9 .5 2.1 .5-5.6 .5 4.4 .5 .5 .5-3.3 .5-1 .5-.1 .5 2.9 .5-2.1 .5 3.8 .5-1.9 .5-.4 .5 .6 .5 .3 .5 .1 .5 1.4 .5 1.6 .5-2 .5 .2 .5 2.9 .5 0 .5-4.1 .5-3.2 .5 6.3 .5-5.5 .5 .1 .5-.1 .5 1.2 .5-5.5 .5 5.1 .5 4.5 .5 3.7 .5-5.4 .5 .9 .5 .2 .5-4 .5-1 .5 3.6 .5 2.1 .5-2.7 .5 .6 .5-1 .5-.3 .5-1 .5 4.3 .5-.6 .5-2.6 .5 1.1 .5 .9 .5 1.3 .5 2.2 .5-.5 .5-4.6 .5 .6 .5-1.4 .5 2.8 .5 .8 .5-7.1 .5 4.5 .5 3.4 .5-7.5 .5 7.7 .5-1.1 .5-4.3 .5-1.4 .5 7.1 .5-5.5 .5-2.4 .5 3.4 .5-3.8 .5 .9 .5 6.9 .5-5.6 .5 .6 .5-3.9 .5 1.9 .5 4.7 .5-1.7 .5 1.6 .5-.3 .5-2 .5-1.7 .5-4.5 .5 8.1 .5-2.6 .5 5.8 .5-6.5 .5-.1 .5-1 .5-1.9 .5 3 .5 .6 .5-.3 .5-1.3 .5-1.3 .5 4.5 .5-.4 .5-4 .5-1.6 .5 1.4 .5-.1 .5 4 .5-4.6 .5 2.8 .5-3.3 .5 2.1 .5 5.9 .5-7.4 .5 2.5 .5-2.1 .5 3.7 .5-1.9 .5-.9 .5 3.4 .5-1.5 .5-.5 .5-4.4 .5 .6 .5 5.4 .5-6.2 .5 6.5 .5 0 .5-4.4 .5-1.6 .5-.9 .5 4.7 .5-.6 .5-3.2 .5-.6 .5 3.5 .5-2.6 .5 1.4 .5-3.5 .5 4.5 .5-.6 .5-1.5 .5-1.6 .5 2.6 .5 1.1 .5 .1 .5-.6 .5-2 .5 3.3 .5 1.2 .5-4.1 .5-1.5 .5 6.5 .5-2.9 .5-4.9 .5 6.4 .5-1.5 .5-1.9 .5 1.8 .5-2.6 .5 .5 .5-1.7 .5 6.5 .5-3.9 .5 1.8 .5 .4 .5-6.3 .5 5.9 .5-2.9 .5 5.5 .5-5.6 .5 4.8 .5 2 .5-3.2 .5 1.9 .5 .9 .5-2.7 .5-.9 .5-2.7 .5 7.7 .5-1.9 .5-.8 .5-5.4 .5 6.6 .5-3.4 .5 1.4 .5 .4 .5 1.9 .5-3.3 .5-.8 .5 3 .5-.7 .5-2 .5 6.3 .5-2.2 .5-6.3 .5-1.4 .5 .7 .5 3.4 .5 2 .5 3 .5-3.6 .5-1.9 .5 1.8 .5-.2 .5-2.2 .5 2.4 .5-4.6 .5 3.5 .5 1.8 .5-1.5 .5 1.7 .5 1.3 .5-1.1 .5 .1 .5 0 .5-2 .5 2.8 .5-1.7 .5-2.8 .5 4.4 .5-2.2 .5-5.8 .5 9.7 .5-3.8 .5-1.8 .5 3.4 .5-.8 .5-.3 .5 3.4 .5-1.4 .5-3.2 .5-.9 .5-1.3 .5 3.8 .5-.7 .5 2.2 .5-2.1 .5 1.2 .5 1.4 .5-4.1 .5-1.1 .5 2.2 .5-2.9 .5 2.4 .5-.2 .5 3.8 .5-4 .5 3.4 .5-3.5 .5 .7 .5-1 .5 .9 .5-1.2 .5-1.1 .5-.4 .5 4.8 .5-1.7 .5 3.2 .5-.2 .5-5.6 .5 6.4 .5-5.2 .5-2.6 .5 1 .5 1.3 .5-4.2 .5 6.4 .5-1.8 .5 2.2 .5-.6 .5-.2 .5 1 .5-.5 .5-4.2 .5 6.6 .5-4.5 .5 1.1 .5 1.5 .5-3.2 .5 .4 .5-2.8 .5 5.4 .5 .1 .5-2.5 .5-.8 .5-4.1 .5 6.8 .5-3.1 .5 1 .5 .3 .5 0 .5 1.1 .5 1 .5-1 .5-2.7 .5 2.3 .5-.2 .5-1.8 .5 1.5 .5 2.6 .5-.3 .5-.5 .5 .3 .5-5.5 .5 4.6 .5 2.8 .5-3.9 .5 .1 .5-1 .5 2.3 .5-.7 .5-2 .5 2.3 .5-.1 .5 .8 .5 .1 .5-2.5 .5 2.5 .5-.9 .5-.2 .5-.6 .5 1 .5-1.5 .5-1 .5 4.7 .5-5 .5 3.2 .5 1.1 .5-1.2 .5-1.1 .5 .3 .5-2.9 .5 4 .5-2.7 .5 1.7 .5-1.6 .5 3.7 .5-2.6 .5 .7 .5 3.1 .5-5 .5 1.5 .5-4.1 .5 4 .5-.3 .5-.4 .5 2.8 .5 1.8 .5-1.5 .5-.1 .5 .6 .5-3.3 .5-.4 .5 2.3 .5 3 .5-4.8 .5-1.9 .5 3.2 .5 2 .5-.6 .5-.5 .5-1.1 .5 1.8 .5-2.4 .5 3.4 .5 .2 .5-1 .5 2.5 .5 .9 .5-6.7 .5 1.3 .5-1.6 .5-1.5 .5 1.1 .5 2 .5 1.4 .5-.2 .5-6.2 .5 5.2 .5-2.3 .5 3.8 .5-3.1 .5 3.8 .5 1.6 .5 .3 .5-4.3 .5 .9 .5-1.2 .5 .6 .5 3.7 .5-7.4 .5 2.5 .5 1.4 .5-1.1 .5-1.4 .5 4.6 .5-2.4 .5-.8 .5-1.9 .5 2.6 .5 2.2 .5-2.3 .5 2.7 .5-3 .5-1.1 .5 1.8 .5-2 .5-1.2 .5 4.2 .5 1 .5 1.5 .5-7.5 .5 5.9 .5-.6 .5-1 .5 .6 .5 .5 .5-.4 .5 .1 .5-1.8 .5 4.3 .5-3.7 .5 2.3 .5-3.1 .5 .7 .5-.1 .5 .7 .5 2.4 .5-6.1 .5 5.7 .5-4 .5 5.8 .5-6.3 .5 2.3 .5 1 .5-4.7 .5 3.3 .5 .2 .5 .6 .5-1.2 .5-1.8 .5-1.7 .5 2.7 .5 .3 .5 .1 .5 2.5 .5-1.5 .5-3.8 .5 1.7 .5 4.2 .5-1 .5-1.1 .5-1 .5 2.9 .5-3.8 .5 .2 .5 3.6 .5-6.1 .5 6.2 .5-3.3 .5 1.7 .5-1.7 .5-3 .5 4.6 .5-2.2 .5 1.2 .5 1.1 .5-.5 .5-.1 .5 1 .5-4.2 .5 7.1 .5-7.4 .5 2.7 .5 .4 .5-1.1 .5 2.6 .5-2.6 .5 1.1 .5 4.9 .5-6 .5 5.6 .5-7.5 .5 3.9 .5-.8 .5 .9 .5-6 .5 .5 .5 5.3 .5 .4 .5-.4 .5-2.3 .5 1.9 .5-.3 .5-2 .5 4.8 .5-3.8 .5-1 .5 1.7 .5-1.6 .5 1.2 .5-2.3 .5 0 .5 .6 .5 2.9 .5-2.6 .5 3.5 .5-.4 .5-3.9 .5 .1 .5 3 .5-2.9 .5-.2 .5 3.9 .5-1.1 .5-1.4 .5-4.5 .5 3.5 .5-3.5 .5 3.4 .5 .1 .5 2.5 .5-5.8 .5 2.5 .5 .1 .5 .1 .5 0 .5 .9 .5-1.3 .5-1.8 .5 .1 .5 2.2 .5-2.7 .5-3.1 .5 .5 .5 .4 .5-.4 .5 2.4 .5-.4 .5-3.5 .5 1 .5 2.2 .5-.3 .5-1.3 .5 3.6 .5-5.5 .5 3.1 .5-1.9 .5-4.4 .5 1.3 .5 1.6 .5-2 .5 .2 .5-.2 .5 .3 .5-1.8 .5 1 .5-2.2 .5-2.2 .5 .2 .5-2.4 .5 2.4 .5-5 .5 .3 .5-1.1 .5 .2 .5-.1 .5-6.1 .5-.5 .5-2.2 .5-2.5 .5-3.8 .5 .8 .5-5.7 .5 3.4 .5-3.5 .5-1.9 .5-.8 .5-5.4 .5-2.9 .5-3.5 .5 4.1 .5-1.4 .5-2.6 .5-.9 .5 2.9 .5 .8 .5-1.3 .5 6.1 .5-1.7 .5 3.9 .5-2 .5 3.5 .5 4.4 .5 .3 .5 7.1 .5-4.2 .5 4.7 .5-.3 .5 4.5 .5 4.7 .5-.1 .5 .8 .5 4 .5-3.5 .5 1.8 .5 .5 .5 5.8 .5-3.8 .5 6.1 .5-2.8 .5 1.6 .5 .4 .5 2.8 .5-1.8 .5 .9 .5 .5 .5 .8 .5-.9 .5 2 .5-1.5 .5 3.1 .5-1.4 .5 3.6 .5-4.5 .5 3 .5-.2 .5 3.5 .5-1.9 .5-1 .5 .3 .5-.7 .5 5 .5 .4 .5-3.6 .5-1 .5 2.3 .5 .7 .5-2.8 .5 1.1 .5 0 .5 .6 .5 1.5 .5-2.6 .5-1.2 .5 7 .5-4.1 .5 1.6 .5-1.6 .5 1.2 .5 .5 .5-.7 .5 4.9 .5-3.3 .5-1.6 .5 .8 .5 0 .5-.4 .5 2.5 .5 .1 .5-2 .5 .6 .5-2.6 .5 3.2 .5-1 .5-1.3 .5 1 .5 3.3 .5-4.3 .5 .2 .5 2.3 .5 .2 .5-1 .5-1.7 .5 .9 .5 4.8 .5-6.2 .5 3 .5 1.3 .5-.3 .5 3 .5-3.5 .5-1.5 .5-.5 .5 .9 .5 3.1 .5-4.7 .5 2.6 .5-2 .5 1.4 .5 4 .5-3.3 .5 .4 .5-1.8 .5-2 .5 1.3 .5 .8 .5 .8 .5-3.6 .5 3.4 .5 3.1 .5-3.7 .5 2.4 .5-1 .5-.5 .5-.5 .5 2 .5 1.8 .5-6.7 .5 5.5 .5-2.8 .5 1.5 .5 1.4 .5-1.8 .5 3.4 .5-1.7 .5-2.6 .5 2.2 .5-4.5 .5 3.3 .5-1.6 .5-.6 .5 3.6 .5-1.5 .5-1.5 .5 1.6 .5-.9 .5-.1 .5-2.8 .5 2 .5 2 .5-.4 .5-.6 .5-2.4 .5 .7 .5-3.3 .5 2.6 .5 4.4 .5 .8 .5-3.2 .5-.2 .5-2.8 .5 3.1 .5-1.5 .5 5.1 .5-3.2 .5-1.2 .5-2.9 .5 5.7 .5-2.7 .5 3.8 .5-2.8 .5-1.6 .5 1.6 .5 .1 .5-2.7 .5 3.6 .5 1.1 .5-5.2 .5-3.3 .5 5.9 .5-1.2 .5-.3 .5-1.9 .5 4.7 .5-7.2 .5 6.4 .5-3.4 .5-3.2 .5 2.4 .5 1.4 .5 3.9 .5-1.7 .5-2.7 .5 .3 .5 2.5 .5-1.1 .5 2.7 .5-5.7 .5 2 .5-1.9 .5 1.2 .5-3.2 .5 2.8 .5-2.9 .5 3.4 .5 2.1 .5-2.4 .5-.2 .5-.7 .5-2.4 .5 1.2 .5 .4 .5-1.2 .5 4 .5-5.7 .5 1.5 .5 .2 .5 1.1 .5-1.7 .5-.6 .5 .3 .5 1 .5-1.4 .5 4.7 .5-2.1 .5 2.4 .5-3.6 .5 2.2 .5-1.3 .5 .5 .5 2.6 .5-1.6 .5-1 .5-.8 .5-3.1 .5 2.9 .5-.8 .5 4.7 .5-4.5 .5 1.3 .5-.5 .5-1 .5 3.1 .5-4 .5 3.2 .5-4.7 .5 2.5 .5 4.4 .5-3.6 .5 .8 .5 .2 .5-.5 .5-4.7 .5 1.8 .5 4.7 .5-1.4 .5-2.9 .5 .2 .5 5 .5-3.2 .5 .5 .5-.3 .5-.6 .5 2.2 .5 .5 .5-1.3 .5 .4 .5-1.3 .5 4.2 .5-5.2 .5 3.4 .5 .9 .5 1 .5-1.9 .5 1 .5-1.2 .5-1.1 .5 1.9 .5 1.9 .5-.5 .5-3.5 .5 2.6 .5 2.5 .5-1.6 .5 2.3 .5-2.5 .5-.3 .5-4.3 .5 7.4 .5-5.6 .5 2.5 .5-.8 .5 .5 .5 3.2 .5-4.5 .5 3.8 .5-2.8 .5 2.5 .5 1 .5-1.1 .5 0 .5 .4 .5 .1 .5 1.6 .5-.2 .5-1.4 .5 5.2 .5-5.5 .5 4.9 .5-3.6 .5 2.9 .5-.3 .5-2.5 .5 2.3 .5 2.4 .5-6.7 .5 .6 .5 1 .5 5.1 .5-2.3 .5-2.2 .5 1 .5 1 .5-2 .5 1.1 .5 .8 .5 .8 .5 1 .5-2.7 .5 .6 .5-2 .5 2.2 .5 .5 .5-.3 .5 1 .5-2.9 .5 4.2 .5-1.8 .5 1.9 .5-4 .5 1.4 .5 .6 .5-1.5 .5 3.3 .5-2.1 .5-2.7 .5 4.5 .5-3.1 .5 1.7 .5 1 .5-3.6 .5 4.5 .5-1.1 .5-4.5 .5 5.1 .5-3.8 .5 .1 .5 4.4 .5-5.8 .5-2.1 .5 5 .5-.8 .5-1.4 .5 3.5 .5-4.8 .5 .9 .5 3.3 .5-2.9 .5-.6 .5 1 .5-1.7 .5-.2 .5 2.2 .5-.9 .5 .6 .5-1.4 .5 1.9 .5 .3 .5 .6 .5-2.7 .5-.2 .5-1.1 .5 2.6 .5 1.1 .5-.1 .5-.3 .5 .6 .5 1 .5-2.9 .5 .7 .5-2.7 .5 2.1 .5 .8 .5-2.9 .5 4.8 .5-2.8 .5 .4 .5-1 .5 3.1 .5-3.4 .5 1.2 .5-1.3 .5-1.3 .5 .4 .5-.8 .5 .3 .5 2.1 .5-3.1 .5 .8 .5 1.9 .5 .7 .5-2.2 .5-.8 .5-1.9 .5 3.6 .5-2.8 .5 .4 .5 2.3 .5-2.4 .5 1.9 .5-.1 .5-2.3 .5 1 .5 2.5 .5-1.7 .5-.3 .5-3 .5 2.3 .5 2.5 .5-2.9 .5 1.2 .5 1 .5 2.7 .5-7.6 .5 5 .5 .2 .5-2 .5 3.5 .5-6 .5-.4 .5 2.5 .5 1.6 .5-3.3 .5 1.9 .5-.9 .5 4.7 .5-4.7 .5 3.7 .5-6.5 .5 3.8 .5 .2 .5-2.4 .5 1.9 .5 1.3 .5-1.1 .5-.4 .5 .9 .5 1.1 .5 .2 .5-2 .5 2.9 .5-1.8 .5 4.9 .5-4.6 .5 .6 .5-2.3 .5 4.9 .5-3.1 .5 1.1 .5 1.3 .5-2.4 .5 1.2 .5-1.1 .5-.6 .5-.8 .5-1.3 .5 2 .5-1.6 .5 5.2 .5-3.5 .5 7.1 .5-5.1 .5-.8 .5 4.2 .5-2.2 .5-.7 .5 .1 .5 3.3 .5-4.1 .5-.6 .5 2 .5 1.1 .5-4.6 .5 1.6 .5 1 .5 .8 .5 .9 .5-3.3 .5 2.8 .5-2.6 .5 5.1 .5-1.9 .5 2.1 .5 1.3 .5-2 .5-.2 .5-1.4 .5 .3 .5 2.3 .5 .7 .5 1.8 .5-4.7 .5-.4 .5 5.6 .5-3.5 .5-1.9 .5 3.9 .5-2.2 .5-.5 .5-1.5 .5 4.1 .5 .1 .5 1.5 .5-2.8 .5-.9 .5 1 .5 .2 .5-1.1 .5-1.9 .5 .6 .5 1.8 .5-.5 .5 4 .5-2.9 .5-.6 .5-.8 .5 2.4 .5-1.5 .5 2.2 .5-1.6 .5 1.9 .5-2.3 .5 1.6 .5 1.1 .5-3.2 .5 3.6 .5-2.8 .5 4.2 .5-1.2 .5-.7 .5-.2 .5 1.5 .5-4.2 .5 2.8 .5-1.9 .5 .7 .5 .5 .5 1 .5-3.3 .5-.6 .5-.9 .5 3.9 .5-2 .5 2.1 .5 .8 .5 .3 .5-5.9 .5 4 .5-.1 .5-2.1 .5-1.1 .5 3.7 .5 3.5 .5-6.6 .5 2 .5 1.3 .5-5.7 .5 8.1 .5-4.9 .5 3.7 .5 2.6 .5-4.1 .5-2.5 .5 2 .5-.9 .5 2.2 .5-3.1 .5 3.9 .5-3.4 .5 6 .5-7.4 .5 4.4 .5-4.3 .5 5 .5-2.3 .5-3.7 .5 1.9 .5 .6 .5-1.3 .5 2.6 .5-2.1 .5 1.9 .5 1.1 .5-.9 .5-.7 .5 0 .5 1.7 .5-1.9 .5 .8 .5-4.2 .5 2.6 .5 2.5 .5-1 .5 .5 .5 0 .5 2.6 .5-3.9 .5-2.1 .5 5.6 .5-1.9 .5-1.9 .5-1 .5-1.3 .5 2.2 .5 1.3 .5 2.8 .5-3.2 .5 .3 .5-.9 .5-1.1 .5 3.2 .5-.3 .5-.7 .5 2 .5-4.5 .5 2.9 .5-.6 .5 1.9 .5-2.8 .5 .8 .5-.1 .5 1.3 .5-1 .5-.2 .5-1.2 .5 .4 .5 2.6 .5-2.4 .5 3.4 .5 1.7 .5-.7 .5-1.8 .5-.1 .5 .5 .5-1.2 .5-.4 .5 .2 .5-1.4 .5 .6 .5 4.3 .5-5.7 .5 .2 .5-1.3 .5 4.9 .5 2.3 .5-1.4 .5-2.7 .5 2.2 .5-.7 .5 .5 .5-3.2 .5 3.6 .5-3.1 .5 2.1 .5 .7 .5 .3 .5 1.9 .5-.6 .5-3.2 .5 4.7 .5-7.4 .5 1.9 .5 1.6 .5 .8 .5-1.1 .5-.1 .5 3 .5-6.2 .5 2.8 .5-1 .5 1.3 .5-.9 .5 1.9 .5 1.4 .5 .9 .5-7.3 .5 3.1 .5 3.3 .5-2.1 .5-.7 .5 .4 .5 2 .5-2.1 .5 .7 .5-.9 .5 .6 .5 .4 .5 3.3 .5-2.5 .5-.9 .5 1.8 .5-5.1 .5 2.2 .5 .9 .5-2.4 .5 1.8 .5-.2 .5-.3 .5-.3 .5 1.3 .5 1.7 .5-2.6 .5 1.4 .5 .3 .5-2 .5 .7 .5 2.3 .5-4.7 .5 2.9 .5-.1 .5-1.1 .5-3.1 .5 5.5 .5 3.2 .5-5 .5 2 .5-1.1 .5 0 .5-.9 .5 1.1 .5-2.6 .5 1.8 .5 .2 .5 .1 .5-1.8 .5 3.1 .5-4.4 .5 .4 .5 2.8 .5-3.7 .5 7.4 .5-6.6 .5 1.6 .5 3.4 .5-5 .5 5.4 .5-.3 .5-.4 .5-2.1 .5 2.7 .5-3 .5 2 .5-3.5 .5 3.6 .5-.4 .5-.2 .5 .5 .5-3.7 .5 3.8 .5-2.2 .5 .5 .5 .8 .5-2.1 .5 2.7 .5-2 .5 1.8 .5-1.4 .5-1.6 .5 3.3 .5-1.8 .5 1 .5-1.9 .5-2 .5 4.5 .5-5.5 .5 2.5 .5-2.1 .5 4.1 .5-4.6 .5 5.2 .5 3.4 .5-6.5 .5 3.8 .5 1.7 .5-6.1 .5 2.5 .5-1.3 .5 1.3 .5-.7 .5 4.3 .5-3.2 .5 4.2 .5-.3 .5-1.9 .5-3.1 .5-.2 .5-.4 .5 2.7 .5-1.2 .5 .1 .5 .1 .5 3.4 .5-4 .5-.3 .5 1.2 .5 0 .5 1.8 .5 .2 .5-4.3 .5 2.6 .5-1.8 .5 1.8 .5-1.7 .5-1 .5 1.2 .5 1.2 .5-2.8 .5 2.8 .5-.9 .5-.5 .5 1.4 .5 .5 .5-1.8 .5-4.5 .5 3.3 .5 3.7 .5-4.7 .5 3.1 .5-4 .5 7.5 .5-5.8 .5 2.9 .5-2.3 .5 1.4 .5 2 .5-2.4 .5-1.9 .5 4.8 .5-3.2 .5 3.1 .5-4.2 .5 .8 .5 2 .5 .4 .5-.5 .5-2.8 .5 2.5 .5-3.8 .5 4.5 .5-1.4 .5 1.3 .5-2.5 .5 .6 .5 1.4 .5-3.7 .5 1.6 .5 2.7 .5-.5 .5-1.9 .5-.5 .5-1 .5 1.6 .5 1.9 .5-1 .5-2.5 .5 .5 .5 2.8 .5-5.7 .5 7.5 .5-7.9 .5 4.8 .5-1.4 .5-.1 .5 0 .5 1.9 .5-.9 .5-.3 .5 3.8 .5-2.4 .5-.9 .5-2.7 .5 2.4 .5 .4 .5 1.1 .5-1 .5-.2 .5-.9 .5 2.6 .5-4.8 .5 3.4 .5 2.2 .5-7.2 .5 7.3 .5-1.6 .5-.3 .5-2.3 .5 .1 .5-.3 .5 6.6 .5-6.5 .5 6 .5-4.7 .5-1.5 .5 3.2 .5-1.8 .5-1.2 .5 .8 .5 2.2 .5-1.9 .5-.6 .5 1.4 .5 .6 .5-3.4 .5 5.1 .5-4.6 .5 1.8 .5 2.2 .5-.9 .5-1.5 .5-.2 .5 .8 .5 2.2 .5-2.3 .5 2.3 .5-2.5 .5 4.3 .5-3.6 .5 2.1 .5-4.9 .5 2.3 .5 1.4 .5-4.9 .5 2.2 .5-.8 .5 3.1 .5-2.7 .5 1.9 .5-.6 .5 .1 .5-3.1 .5 4.4 .5-4.9 .5 5.8 .5-1.9 .5-1.9 .5 1.3 .5-3 .5 2.2 .5 1.2 .5 4.3 .5-7.1 .5 2.4 .5-1.5 .5 2.7 .5 1.8 .5-4.7 .5 2.4 .5 1.7 .5-2.9 .5 .4 .5-.3 .5 .8 .5 .4 .5-1.9 .5 .9 .5-1.6 .5 2.5 .5-.1 .5 1.7 .5-2.3 .5-.1 .5-2.4 .5 4.2 .5-1.1 .5-1.2 .5 1.6 .5 1.5 .5-1 .5-.2 .5 .4 .5-3.3 .5 1.6 .5 1 .5-3.4 .5 2.1 .5 3 .5-4.5 .5 1.3 .5 .6 .5 2 .5-4.1 .5 3.6 .5 1.4 .5-2.4 .5-2.3 .5 5 .5-1.9 .5-.1 .5 1.7 .5-1.7 .5-1.5 .5-2.5 .5 6.2 .5-3.2 .5-.4 .5 1.5 .5 .7 .5-3.7 .5 1.8 .5-1.2 .5-.8 .5 .9 .5 .1 .5 .7 .5-2.4 .5 1.1 .5 3.2 .5-4.3 .5 2.4 .5-2.3 .5 1.4 .5 1.3 .5 1.2 .5 .3 .5-3.5 .5 4.3 .5-4.9 .5 4.7 .5-4.9 .5 .9 .5 2.9 .5-1.6 .5 2.1 .5-1.1 .5-.2 .5 1.8 .5-2.7 .5-.2 .5 1.5 .5-.4 .5 .4 .5 .4 .5 .9 .5-3.2 .5-1.9 .5 3.3 .5 1.1 .5-.7 .5-2.8 .5-1 .5 0 .5 3.9 .5-2 .5 3.3 .5 1.8 .5-2.2 .5-.9 .5-.3 .5 .6 .5 2.9 .5-4.4 .5-1.8 .5 3.4 .5 1.5 .5-4.6 .5-.4 .5-.9 .5 3.1 .5-2.4 .5 5.6 .5-5 .5 4.4 .5-1.8 .5-4.4 .5 4.2 .5 2.8 .5-1.6 .5-2.4 .5 .5 .5 .5 .5 .1 .5-.5 .5-1.4 .5-.4 .5-1.7 .5 3.8 .5-.4 .5-1.7 .5 4.3 .5-3.6 .5 3.9 .5-3.2 .5-.5 .5 2 .5-3 .5 4.6 .5 .7 .5-3.5 .5 1.1 .5-2.7 .5 2.8 .5 1.4 .5-3.1 .5 1.6 .5-.2 .5-1 .5 3.6 .5 1.3 .5-6.3 .5 3.1 .5-5.2 .5 4 .5 .5 .5-1 .5 .7 .5 .4 .5 2.2 .5-3 .5-1.4 .5 2.3 .5 3.2 .5-4.8 .5 3.7 .5-2 .5-3.3 .5 2.4 .5-.9 .5 2.3 .5-4.1 .5 3.4 .5-.4 .5-4.6 .5 4.1 .5-1 .5 3.4 .5-.9 .5 .5 .5-1.4 .5-2.2 .5 4.2 .5-.8 .5-1.4 .5 .1 .5 1.7 .5-.2 .5-1.7 .5-.5 .5 2.8 .5-2 .5-1.1 .5 1 .5-.7 .5 1.3 .5-1.4 .5 .8 .5 1 .5-1.7 .5-.3 .5 1.5 .5-2.2 .5 1.2 .5 0 .5 .9 .5 .1 .5-.7 .5 3.1 .5-4.6 .5 1.4 .5 3 .5-3.3 .5 .6 .5-1.6 .5 2.2 .5 2.3 .5-3.1 .5-1.2 .5 1.3 .5-2.6 .5 1.4 .5 6 .5-7.1 .5-.1 .5 2.2 .5-1.4 .5 1.5 .5 4.2 .5-1.8 .5-3.8 .5 3.9 .5-.1 .5 .4 .5-3.2 .5 1.5 .5-1.3 .5 1.7 .5-.4 .5 1.9 .5-1.2 .5-1.6 .5-4 .5 5.2 .5 .5 .5 .6 .5-1.6 .5 .2 .5-.4 .5-.3 .5-2.8 .5 1.9 .5 .6 .5-2.5 .5 2.8 .5-1.6 .5 3.2 .5-.7 .5-3.7 .5-.8 .5 5.2 .5 1 .5-.6 .5-5 .5 5.1 .5-2 .5 2.4 .5-1.7 .5-1 .5 .5 .5 1.7 .5-.6 .5-3.7 .5 2.5 .5 1.5 .5-.6 .5-.6 .5 .2 .5-2.8 .5 .3 .5 2.3 .5-.1 .5 .7 .5-2 .5 .1 .5-.3 .5 1.6 .5 .4 .5 1.2 .5 .1 .5-.2 .5 .1 .5 1.5 .5-.3 .5-2.7 .5-2.5 .5 2 .5 1.1 .5-.2 .5-1.3 .5 3 .5-4.8 .5 3.1 .5-.4 .5 2.8 .5-1.6 .5-2.1 .5-1.5 .5 1.2 .5 3.1 .5-2.2 .5 1.7 .5-.2 .5-1 .5 2.4 .5-3.4 .5 1.7 .5 1.3 .5-1.5 .5 .1 .5-1.6 .5-.6 .5 2.1 .5 .1 .5-1.6 .5 .4 .5 .5 .5 1.1 .5 1.9 .5-2 .5-.6 .5 3.9 .5-7.1 .5 4.1 .5-1.5 .5 1.2 .5 2.9 .5-5.5 .5 .2 .5 2.2 .5 2.3 .5-3 .5 .7 .5 0 .5-2.2 .5 2.3 .5-1.2 .5 .6 .5 .6 .5-3.5 .5 2.8 .5-.4 .5 .2 .5-.6 .5 2 .5 2.8 .5-4 .5 2.9 .5-3.1 .5 .8 .5 1.5 .5-2.6 .5 .4 .5-1.8 .5 5.2 .5-6.1 .5 3.4 .5-.9 .5 .7 .5-2.2 .5 2.1 .5 .7 .5-2.3 .5-.1 .5 2.8 .5-.3 .5-.3 .5 1 .5-1.6 .5-1 .5-.2 .5 2.4 .5-3.4 .5 1.6 .5-2.5 .5 2 .5 3.2 .5-1.6 .5-1.5 .5-1.8 .5 .1 .5 .1 .5 2.2 .5-1.8 .5 2.8 .5-3.4 .5 6.1 .5-3.6 .5 .9 .5-.5 .5-2 .5-.2 .5-.4 .5 .7 .5 5.1 .5-3.9 .5 .8 .5-2.8 .5 .9 .5-.1 .5-3.1 .5-.9 .5 3.5 .5-.5 .5-1.2 .5 4.9 .5 .5 .5-5.5 .5 5 .5-1.7 .5-2.7 .5-.9 .5 2.7 .5-2.2 .5 2.8 .5 1.4 .5-1 .5 3.9 .5-3.2 .5 .4 .5-.7 .5-.7 .5-.4 .5 .4 .5-2.4 .5 5.2 .5-5.1 .5 4.7 .5-2.6 .5 1.2 .5-4 .5 .2 .5 4.8 .5-2.1 .5-2.5 .5-.5 .5 .5 .5 .2 .5 3.1 .5 1.6 .5-2.1 .5 .5 .5-.6 .5-2.8 .5 1.8 .5 .7 .5 .7 .5-2.7 .5 2.1 .5 2.2 .5 .7 .5-2.4 .5-4.3 .5 1.7 .5 2.1 .5-2.9 .5 .6 .5 2.3 .5-4.5 .5 5.9 .5-2.8 .5-.5 .5-.2 .5-.9 .5 4.4 .5-1.5 .5-1.9 .5 2.4 .5-1.4 .5-1.2 .5-.8 .5 3.4 .5-3.5 .5 .3 .5-1.4 .5 2 .5-3.1 .5 1.7 .5 2.1 .5 .7 .5 3.3 .5-4.9 .5-.8 .5-.1 .5 3 .5-1.7 .5-1.8 .5 2.4 .5-.7 .5 .1 .5-.8 .5 3 .5-2.5 .5 1.2 .5-1.3 .5 3.5 .5-4.2 .5 2.3 .5-4.6 .5 6 .5-5.4 .5 1 .5 1.1 .5 1.6 .5-2.2 .5 2.7 .5-.7 .5 .8 .5-4.3 .5 1.4 .5-.3 .5 1.7 .5-.3 .5 .9 .5-.1 .5 1.4 .5-3.2 .5-1 .5 3 .5 .3 .5-.3 .5-1.9 .5-3.7 .5 7.1 .5-1.8 .5 3.5 .5-4.9 .5 .2 .5-3.9 .5 2.5 .5 1.5 .5 .4 .5 3.6 .5 .7 .5-5.3 .5 2.8 .5 .9 .5-1.1 .5 .7 .5 2.9 .5-4 .5 .2 .5-1.1 .5 .8 .5-.2 .5-.8 .5 .3 .5-.7 .5 .1 .5-1 .5 2.5 .5-.2 .5-3.7 .5 5.5 .5 .4 .5-.7 .5-.6 .5-.2 .5-.2 .5-1.6 .5 .6 .5-1.1 .5 .5 .5-1.7 .5 3.1 .5 .3 .5 3.2 .5-2.7 .5 .2 .5-2.3 .5 1.3 .5-2 .5 2.8 .5 4 .5-5.1 .5-3.8 .5 7.3 .5-.8 .5-3.8 .5 2.5 .5-1.8 .5 2.6 .5-3.3 .5 2.3 .5 2.1 .5-1.8 .5 1.4 .5-.6 .5-1.5 .5 .5 .5-.6 .5 1.6 .5-.4 .5 1.9 .5-1.8 .5-.4 .5-.9 .5 .7 .5 .7 .5 1.9 .5-.8 .5 2 .5-4.5 .5 .2 .5-.4 .5 2.6 .5-2.2 .5 3.1 .5-1.3 .5-4.8 .5 8 .5-4 .5-.9 .5 2.3 .5-2.9 .5 1.5 .5-1.1 .5-1 .5-.3 .5 3.8 .5-1.2 .5 .1 .5-.6 .5-1.2 .5 2.2 .5-.6 .5 3 .5-3.8 .5 1.7 .5-2.2 .5 1.5 .5-1.3 .5 6.3 .5-2.3 .5-2.2 .5 2.1 .5 1 .5-1.4 .5-5.6 .5 5.9 .5-1.9 .5-.5 .5 2.1 .5-1.3 .5-3.4 .5 1.4 .5 1.2 .5 2 .5-.6 .5-5.1 .5 3.6 .5-2.2 .5-.9 .5 1.1 .5 .5 .5 1 .5 1 .5 3.5 .5-1.9 .5 .3 .5-1.1 .5 2.3 .5 2.2 .5-2.8 .5-2.6 .5-.7 .5 1.2 .5 2.2 .5-2.9 .5-1.3 .5 3.3 .5 3.6 .5-4.5 .5 1.2 .5-.2 .5-1.1 .5 1.2 .5 2.1 .5-3.9 .5 2.5 .5 .3 .5 .2 .5-1.6 .5-5.1 .5 6.4 .5-.5 .5-.8 .5-1.1 .5-.5 .5 2.6 .5 .8 .5-2.9 .5 .1 .5 1 .5-1.2 .5 1.3 .5 2.1 .5-1.8 .5-.6 .5 1.6 .5-4.9 .5 1.3 .5 3.5 .5 .5 .5-3.2 .5 5.3 .5-.1 .5-3.1 .5 2.1 .5-.6 .5-4 .5 2.2 .5 0 .5 0"/>
<path class="crv" stroke="#0000FF" stroke-width="11.8" d="M213.6 838.9l.5 0 .5 0 .5 2.2 .5 3.2 .5-3.2 .5-1.9 .5-.2 .5 6.4 .5 4 .5-4.5 .5-5 .5 1.6 .5 10.2 .5-4.6 .5-6.6 .5 6.6 .5-3.4 .5 2.5 .5 1.1 .5-.3 .5 5.1 .5-1.7 .5-1.5 .5 4.2 .5 2 .5-8.6 .5 5.6 .5-2.2 .5 3.4 .5-3.6 .5 5.1 .5 .2 .5-.5 .5-2.3 .5 2.7 .5-2.1 .5-.6 .5 6.1 .5-4.4 .5 8.4 .5-1.3 .5-9.3 .5 8.4 .5-4.6 .5 4.3 .5 .4 .5-6.9 .5 6.5 .5 .2 .5 4.5 .5-7.2 .5 7 .5-6.2 .5 2.9 .5-1.5 .5 8.3 .5-2.9 .5 6.8 .5-6 .5 .9 .5 .2 .5-4.7 .5 2 .5 5.2 .5-5.8 .5 2.2 .5-.5 .5 2.4 .5-3.1 .5 .9 .5 1.6 .5-.3 .5-3.1 .5 6.2 .5-7.2 .5 .5 .5 0 .5 7.7 .5-4.2 .5-1.9 .5-.3 .5 5.4 .5-4.8 .5-.5 .5 6.5 .5-5.9 .5 3.1 .5 1.3 .5-1.3 .5 1.5 .5 4.7 .5-5.9 .5-2.2 .5-1.7 .5 5.5 .5-.3 .5 2.2 .5-2.2 .5 .1 .5-.6 .5 .8 .5 2.4 .5-1.5 .5 1.7 .5 6 .5-4.4 .5-6.5 .5 10.8 .5-4.2 .5-4 .5 6.1 .5-2.6 .5-1.9 .5 .1 .5-.9 .5 3.5 .5 3.4 .5-4.3 .5 2.6 .5 4.7 .5-9.5 .5 4.8 .5-1.6 .5-2.2 .5 .3 .5 3.3 .5 1.6 .5-2.8 .5 2 .5 2.2 .5-1.1 .5 1.9 .5-1.1 .5 .2 .5 4.3 .5-3.5 .5-1.4 .5 2 .5-4.8 .5 1.9 .5 3.6 .5-.3 .5 2.9 .5-4.5 .5-4.2 .5 10.4 .5-2.4 .5-6.3 .5 7.4 .5-3.8 .5-5.4 .5 4.3 .5-.1 .5 6.4 .5-6.9 .5 1.7 .5 .1 .5-.1 .5-1.4 .5 3.4 .5 2.7 .5-1.2 .5-4.4 .5-.5 .5 3.9 .5-2.3 .5 .4 .5-2.9 .5 10.6 .5-2.8 .5-5.3 .5 5.5 .5 1.4 .5-10.5 .5 5.4 .5 .6 .5 3 .5-2 .5-.2 .5 .6 .5 5.6 .5 .9 .5-7.4 .5-1 .5 9.8 .5-9.7 .5 1.3 .5 1.8 .5 1.4 .5 1.7 .5-1.7 .5-3.4 .5 4 .5-.6 .5 4.7 .5-5.1 .5-3.6 .5 1 .5 7 .5-5.4 .5-4.2 .5 4.4 .5 1.7 .5 3.4 .5-5.9 .5 4.7 .5 .5 .5-4 .5 1.6 .5 5.5 .5 0 .5-2.3 .5-1.3 .5 2.3 .5-3.4 .5 .3 .5-2 .5 2.5 .5-.1 .5 7.1 .5-7.2 .5 4.1 .5 .2 .5-3.9 .5 3.7 .5-8.9 .5 6.2 .5 2.2 .5-8.7 .5 3.5 .5 6 .5-3.4 .5-2.2 .5 2.1 .5-.4 .5 3.5 .5-.7 .5-1.9 .5-.9 .5 1.7 .5 3.7 .5-2.5 .5 .8 .5-2 .5-2.9 .5 1.6 .5 3.6 .5-1.4 .5-2.6 .5-1.8 .5 4.6 .5-1.2 .5 .1 .5 .1 .5 1.6 .5 .1 .5 1.8 .5-.1 .5 1.1 .5-1.3 .5-3 .5 .8 .5 1.5 .5-2.1 .5 2.3 .5 1.6 .5-5 .5-2.5 .5 7.7 .5-3 .5 1.8 .5-5.2 .5 7.9 .5-2.5 .5-2.2 .5-.6 .5 1.3 .5-.7 .5-.3 .5-2.1 .5 6.1 .5-3.3 .5 .3 .5 .1 .5-6.2 .5 7.4 .5-2.2 .5 .2 .5 .9 .5-2.6 .5 4.6 .5-3.8 .5-.5 .5 .1 .5 2.6 .5 1.5 .5-3.4 .5-2.2 .5 6.4 .5-5.2 .5 5.6 .5-3.1 .5-1.6 .5 .2 .5 2.8 .5 1 .5-2.6 .5 2.8 .5 2.8 .5-5.6 .5-2.3 .5 .3 .5-.8 .5 1.8 .5-.1 .5-1.5 .5 4.5 .5-7.3 .5 2.9 .5 8.1 .5-2.4 .5-1.2 .5-.1 .5 3.2 .5-3 .5-1.1 .5-3.1 .5 2.8 .5-1.6 .5 .1 .5 0 .5 1.6 .5-.7 .5 2.9 .5-5.2 .5 2.8 .5 4.8 .5-4.3 .5 2.8 .5-.2 .5 .5 .5-1.4 .5-5 .5 2.7 .5-.3 .5-2.7 .5 2.6 .5-1.9 .5-.9 .5 4.4 .5-.6 .5-1.5 .5-.6 .5 1 .5 .3 .5 0 .5 .9 .5-.9 .5 1.9 .5 .3 .5-.3 .5-2.4 .5 .1 .5 2.5 .5-1.5 .5 .4 .5-5.6 .5 0 .5 6.5 .5 0 .5 2.5 .5-1.6 .5-1.1 .5-.4 .5-3.3 .5 5.2 .5-3.3 .5 2.5 .5-.7 .5 .2 .5 1.4 .5-3.1 .5 .3 .5-1.1 .5 1.1 .5 4.6 .5-4.5 .5 3.4 .5-.8 .5-.2 .5 .2 .5-4 .5 3.1 .5 2.7 .5-5.1 .5 1.5 .5-1.4 .5 2.2 .5-3.1 .5 5.9 .5-4.3 .5-2.6 .5 7.4 .5-1.8 .5-1 .5 0 .5-1.9 .5 .3 .5 2.1 .5 .4 .5 0 .5-1.5 .5-1.5 .5 .6 .5 2.8 .5 .7 .5-3.8 .5-.3 .5 3.7 .5-1.1 .5-.1 .5-4.2 .5 2 .5-.3 .5 1.5 .5-4 .5 6.3 .5-2.1 .5 .3 .5-3.4 .5 2.4 .5 2.9 .5-6.1 .5 3.9 .5 .9 .5-3 .5 3.2 .5-2.4 .5 3.3 .5-1.5 .5-.6 .5 3.7 .5-2.5 .5 1 .5-5.2 .5 1.1 .5 3.2 .5 .1 .5-2 .5 1.7 .5-3.8 .5 2.6 .5-2.8 .5 3.1 .5-1.7 .5-.4 .5 1.5 .5 3.7 .5-5.9 .5 .8 .5 3.6 .5-3.2 .5 4.6 .5-3.2 .5-.3 .5 .6 .5 2.9 .5-2.3 .5-.3 .5-.6 .5-3.8 .5 1.4 .5 5.1 .5-1.5 .5-.6 .5 .3 .5-2.6 .5 1.9 .5-2.6 .5 2.7 .5-2.3 .5 1 .5 1.5 .5-1.7 .5 2.1 .5-.4 .5-.2 .5 2 .5-6 .5-.2 .5 4.7 .5 .7 .5 2.3 .5-2.7 .5 .2 .5-3.7 .5 3.5 .5-.1 .5-3.8 .5 .4 .5 1.7 .5 .8 .5-6 .5 5.5 .5 .4 .5-.9 .5 1 .5 .4 .5-3.2 .5 3.1 .5-1.4 .5-1.6 .5 2.6 .5 2.7 .5-6.4 .5-.4 .5 0 .5 7.9 .5-4.9 .5 .5 .5-1.6 .5-.4 .5-2.3 .5 4.8 .5 .2 .5-4.9 .5 2 .5 .7 .5 1.5 .5 .6 .5 2 .5 .5 .5-.7 .5 .6 .5-5.5 .5 1.3 .5 3.8 .5-1.9 .5-.6 .5-4.4 .5 .2 .5 5.7 .5-.8 .5-1.5 .5-.2 .5-2.9 .5 4.6 .5 1.4 .5 1.4 .5-3.6 .5-.6 .5-2 .5 5.2 .5 1 .5-5.1 .5 2 .5-.5 .5-1.5 .5-4.3 .5 4.7 .5 2.2 .5-4.6 .5 1.3 .5-3.7 .5 8.4 .5-1.8 .5-1 .5-.8 .5-.8 .5 1.2 .5-.5 .5 .1 .5 .4 .5 .4 .5 3.1 .5-6.7 .5 3.8 .5-2 .5-1.2 .5-2.8 .5 6.7 .5-3.7 .5 .5 .5 2.7 .5-3.5 .5 2.5 .5-.3 .5 2 .5 .4 .5-4.3 .5 4.1 .5-2.4 .5 .5 .5-.8 .5 2.2 .5-4.5 .5 3.3 .5 2 .5-3.3 .5 5.2 .5-6.3 .5 2.1 .5-1.6 .5-.3 .5-1.2 .5 1.3 .5 1.1 .5-1.8 .5 3.9 .5 1.4 .5-7 .5 5.4 .5-1.5 .5 .1 .5 5 .5-2.9 .5-2 .5-.4 .5-5.4 .5 6.7 .5-3.5 .5 2.1 .5-.2 .5 2 .5 2.4 .5-2.4 .5 .6 .5-3.5 .5 1.6 .5 .7 .5-5.2 .5 8 .5-6.3 .5-1.4 .5 6.7 .5 1.1 .5-6.5 .5 .1 .5 7.2 .5-5.5 .5-4.9 .5 3.1 .5 6.1 .5-3.2 .5 .2 .5 1.1 .5-1.3 .5-2.4 .5-3 .5 4.8 .5-3.7 .5 2.4 .5 4.2 .5-2.8 .5-1.2 .5 0 .5 1.5 .5 .4 .5-5.2 .5 3.4 .5 3.6 .5-2.3 .5-3.6 .5 .2 .5-3.3 .5 3 .5 5.6 .5-4 .5-1.9 .5 .6 .5 1.1 .5 0 .5-.6 .5-1 .5 3.2 .5 2.1 .5-5 .5 .1 .5 4 .5-6.3 .5 2 .5 .5 .5 1.3 .5-1.1 .5-1.5 .5 2.8 .5-3.6 .5-1.3 .5-.7 .5 6.5 .5-5.9 .5 5.1 .5 .5 .5 .3 .5-2.3 .5-1 .5 1.5 .5-1.6 .5-1.7 .5 6 .5-5.2 .5 6.4 .5-3.1 .5-2.3 .5 2.1 .5 1.8 .5-6.2 .5 1 .5-.3 .5 2.9 .5 .5 .5-.9 .5-1.9 .5 .5 .5 4 .5-.2 .5-2.4 .5-3.5 .5 4.7 .5-.9 .5-.1 .5 3.5 .5-2.2 .5-4.4 .5 0 .5 5.7 .5-2.9 .5 1.6 .5-2.4 .5-2.1 .5 3 .5 3.1 .5-3 .5-3.5 .5 1.9 .5-.5 .5 1.6 .5 2.1 .5 2.3 .5-4.3 .5-1.6 .5 1.2 .5-.2 .5-1.1 .5 1.1 .5-.1 .5-2.9 .5 4.1 .5-2.2 .5-1.6 .5 3.6 .5-2.4 .5 5.4 .5-3.1 .5-1.1 .5-2 .5 .8 .5 3 .5-3.8 .5 3.5 .5-7 .5 5.6 .5 1.5 .5-1.3 .5-.8 .5 2.4 .5-4.6 .5-.4 .5 2.7 .5 2.6 .5-1.9 .5-1.6 .5 1.2 .5 .3 .5-4.2 .5-3.3 .5 3.8 .5-1.3 .5 2.3 .5-1.6 .5 .8 .5 3.2 .5-.9 .5-.3 .5 4.1 .5-5.3 .5 .1 .5 4.1 .5-6 .5-1.3 .5 7.3 .5-2.5 .5 .7 .5 0 .5 .6 .5-3.5 .5 1 .5-2.7 .5 3.1 .5 .2 .5-1.7 .5 2.8 .5 4.3 .5-9.1 .5 5 .5 .3 .5 .2 .5-4.8 .5 5.1 .5-1.5 .5-2 .5-.6 .5 1.5 .5 1.7 .5-.2 .5 3.5 .5-6.8 .5 2.4 .5-2.7 .5 3 .5-1.7 .5-2 .5-1.9 .5 1.4 .5 2.5 .5 3.1 .5-1.9 .5-5.1 .5 1.7 .5 1.3 .5-.5 .5 .3 .5 1.8 .5-1.6 .5-2.5 .5-3.3 .5 4 .5-3.6 .5 3.9 .5 1.1 .5-4.4 .5 3 .5-.6 .5 5.8 .5-4 .5-6.2 .5 6 .5-.2 .5-1.7 .5-.6 .5 2.5 .5 .1 .5-.7 .5-3.9 .5 1.8 .5-3.6 .5 .1 .5 2.4 .5-1.4 .5 1.6 .5 7.6 .5-5.4 .5-3.8 .5-3.5 .5 3.4 .5-1.7 .5-2.2 .5 7.8 .5-3.4 .5 2.4 .5 5.8 .5-6.5 .5-.5 .5 .6 .5-1.8 .5-1.6 .5 1.5 .5 3.6 .5-3.9 .5-3.1 .5 .2 .5 .5 .5 2.7 .5 1.1 .5-.1 .5 1.8 .5-3.9 .5 2.7 .5-1.5 .5 1 .5-7.1 .5 8.3 .5-7.8 .5 1 .5 5.1 .5-3.3 .5 5.8 .5-4.6 .5-3.4 .5 3.1 .5-1.6 .5 5.2 .5 .1 .5-2.6 .5-3.3 .5 1.2 .5 2.6 .5-5.3 .5-.1 .5 4.5 .5-.5 .5-2.8 .5-.2 .5-4.8 .5 8.7 .5-3.8 .5-3.7 .5 .7 .5 .6 .5 7.2 .5-2.9 .5-5.7 .5 8.9 .5-1.5 .5-6.8 .5-4.1 .5 9.8 .5-4.5 .5 1.4 .5-1.2 .5 5.1 .5 .6 .5-1.9 .5-2.7 .5 1.2 .5 1 .5-6.2 .5 8 .5-4.4 .5 1.7 .5-.3 .5 2.2 .5 .5 .5 3.3 .5-7.3 .5-1.6 .5 3.1 .5-2.3 .5 4.4 .5-4.7 .5 2.7 .5 2.4 .5 .3 .5-2.3 .5 3.5 .5-.3 .5-8.6 .5 6 .5-.5 .5-1.3 .5-.9 .5 2 .5 1 .5-.2 .5 3.2 .5-1 .5-4.6 .5-.4 .5 4.7 .5-4.5 .5 2.6 .5 1 .5 1.6 .5-1.4 .5 2.8 .5-5.5 .5 3.3 .5-3.8 .5 2.5 .5-.1 .5-3 .5-4.7 .5 10.4 .5-1.7 .5-.5 .5-2.4 .5 1.2 .5 2.4 .5-1.2 .5 3.5 .5-3 .5-2.7 .5 4.3 .5-3.6 .5 2.7 .5-6 .5 4.5 .5 2.8 .5-3.5 .5 2 .5 1.9 .5-1.4 .5 5.2 .5-6 .5 .4 .5 .2 .5-5.4 .5 1.5 .5 6.3 .5-2.4 .5 5.3 .5-4.3 .5-.2 .5 3.8 .5-2.2 .5 4.2 .5-8 .5 4.7 .5 .8 .5-.2 .5 1.9 .5-.2 .5-2.9 .5-1.7 .5 4.9 .5-2.7 .5 2.9 .5 1.3 .5-3.4 .5-3.2 .5 2.1 .5 3.3 .5-3 .5 4.5 .5-3.4 .5 .4 .5-2.2 .5 1.7 .5 3.8 .5-4.3 .5 .1 .5-1.3 .5 4.9 .5-7 .5 2.8 .5 4.9 .5 1.7 .5-5 .5 3.7 .5-9 .5 8.5 .5-1.3 .5-4.7 .5-1.6 .5 4 .5 2.4 .5 .4 .5-.7 .5 2.1 .5-.2 .5-6.4 .5 3.1 .5-.3 .5 4.8 .5-4.7 .5 4.7 .5-2.8 .5 7.1 .5-7.5 .5 .2 .5-.3 .5 .8 .5 7.3 .5-9.3 .5-1.2 .5 2.2 .5 2.8 .5-5.3 .5 5.8 .5-.1 .5-3 .5-.2 .5-1.7 .5 1.6 .5-1.6 .5 6.6 .5 1.3 .5-6.2 .5 .8 .5-6 .5 4.4 .5 2.9 .5-.2 .5-.5 .5 2.4 .5-2.4 .5-1.6 .5 6.6 .5-11.6 .5 2.5 .5 1.4 .5 .1 .5-.2 .5 1.9 .5-1.7 .5 2.2 .5 2.2 .5-1.9 .5 .4 .5-3.6 .5-.6 .5 2.8 .5 4.1 .5-1.8 .5 2.4 .5-.3 .5 .5 .5-6.5 .5 6.9 .5-1.6 .5 4.5 .5-5 .5-.9 .5-1.6 .5 1.1 .5-6.3 .5 4.9 .5 .7 .5 3.6 .5-5.7 .5 2.7 .5 5.9 .5-8.1 .5 4.7 .5-4.7 .5 1.5 .5 1.9 .5 1.5 .5-4.8 .5-1.8 .5 8.9 .5-4.7 .5 2.2 .5 .4 .5-.5 .5-3.6 .5 .4 .5-5 .5 6.2 .5-2.3 .5 1.5 .5 6.7 .5-4.1 .5-2.3 .5-5 .5 7.4 .5 2.9 .5-8.4 .5 4.4 .5-3.3 .5 1.3 .5-.8 .5-4.5 .5 4 .5-4 .5 10.8 .5-1.2 .5-3.6 .5 .8 .5-.8 .5 .5 .5 0 .5-1.6 .5 .2 .5-4.3 .5 1.3 .5 1.4 .5 2.9 .5-2.1 .5 8.3 .5-7.7 .5-.6 .5 2.9 .5 2.2 .5 3 .5-3.3 .5-5.8 .5 1.6 .5 4.4 .5-2.9 .5 2 .5-3.3 .5 6.2 .5-.6 .5-1.2 .5-3.7 .5-6.6 .5 .9 .5 6.2 .5 1.2 .5-12.2 .5 7.8 .5 5.9 .5-.9 .5-5.7 .5 4 .5-2.7 .5-1.4 .5 4.6 .5-.6 .5-7 .5-2.4 .5-2.3 .5-1.4 .5 9.5 .5 .9 .5-7.6 .5 1.9 .5-8.1 .5 .9 .5 2.2 .5-3.9 .5-3 .5-7.9 .5-.8 .5 2.4 .5-2 .5 .4 .5-3.6 .5 .3 .5-.1 .5 .6 .5-2.8 .5-3.3 .5 .2 .5 3.8 .5-4.9 .5-3.6 .5-.7 .5 4.6 .5 .7 .5 2.2 .5-6.3 .5 6.3 .5-7 .5 .3 .5-1.5 .5 4.1 .5 1.9 .5-4.3 .5-1.9 .5-4.1 .5 6.5 .5-1.9 .5 .5 .5-1.6 .5-1 .5 1.7 .5 3.4 .5 2 .5-3.8 .5 1.3 .5-2 .5 .3 .5-4.8 .5 8.7 .5-1.1 .5 3.3 .5-8 .5 2.9 .5-4.1 .5 4.6 .5-1.4 .5 3.1 .5-3.1 .5 3.2 .5-4.3 .5 4.4 .5-3.3 .5-.3 .5 2.2 .5 1.4 .5-6.7 .5-.1 .5 6.9 .5-.6 .5-7.3 .5 1.6 .5 4 .5 4.6 .5-.1 .5 3.4 .5 1.1 .5 5 .5-14.3 .5 5.8 .5 4.7 .5-8.6 .5-.1 .5 6.6 .5 3.9 .5 1.1 .5-11.3 .5 2.6 .5 4.7 .5-1.3 .5 3.7 .5-.3 .5 6.7 .5-6.7 .5 1.3 .5-.1 .5 4.4 .5-8.3 .5 6.2 .5-4.2 .5-2.1 .5 10.4 .5-2.2 .5 3.7 .5-4.1 .5 1.9 .5-1.7 .5 2 .5-3.5 .5 8.5 .5-9.7 .5 10.3 .5-7.1 .5 4.5 .5-2.6 .5 1.5 .5 4.3 .5-4.9 .5-4 .5 4.8 .5 1.9 .5-11.9 .5 13.6 .5 .7 .5-10.9 .5 6.5 .5 4 .5-7.5 .5 3.1 .5 .5 .5 3.7 .5 2.3 .5-4.2 .5 .5 .5 3.6 .5-1.3 .5-2.4 .5 5.8 .5-10.6 .5 6.3 .5-2 .5-.2 .5 2.9 .5-.4 .5 9.6 .5-6.9 .5-1 .5 5.2 .5-2.3 .5-11.1 .5 7.9 .5 2.6 .5-5.2 .5 3.7 .5-2.8 .5 3.4 .5-7.8 .5-1.1 .5 5.6 .5 3.2 .5 4.4 .5-6.2 .5-1.7 .5 6.6 .5-3.4 .5 7.1 .5-7.4 .5-7.2 .5 4.6 .5-.5 .5-1.7 .5 2.5 .5 .4 .5 1.6 .5-.9 .5 3.8 .5 .1 .5-.9 .5 .1 .5-8.2 .5 .9 .5 3.2 .5 4.5 .5-6.7 .5 4.1 .5 2.7 .5 6.9 .5-6.8 .5-3.1 .5 6.4 .5-3.4 .5-2 .5 5.6 .5-8 .5 4.4 .5-.4 .5 3.3 .5-8.1 .5-.6 .5 3.6 .5 .5 .5 1.2 .5-1.6 .5 3.2 .5 1.1 .5-1.9 .5-5 .5 8.8 .5-10.7 .5 5.3 .5 4.4 .5-6 .5 7.6 .5 2.5 .5-1.3 .5-4.5 .5 2.2 .5-5.9 .5 3.6 .5 .3 .5-1.4 .5 .3 .5-1.4 .5-7 .5 9.4 .5-.3 .5 7 .5-5.3 .5-2.5 .5 3.2 .5-.9 .5-2.5 .5-1.4 .5-4.3 .5 6.4 .5 6 .5-13.8 .5 3.7 .5 6.8 .5-2.1 .5 1 .5-9 .5 5.1 .5 4.4 .5 .5 .5-1.1 .5-4.6 .5 5.7 .5-6.8 .5 1.2 .5-.8 .5 10.4 .5-7.2 .5 1.9 .5-8.8 .5 13.2 .5-2.4 .5-8.3 .5 .3 .5 13.1 .5-10.2 .5 11.1 .5-9 .5-7.9 .5 14.4 .5-2.3 .5 .9 .5-4.7 .5 1.3 .5 4.8 .5-6.9 .5-4.5 .5 11.6 .5-6 .5 7.7 .5-6.9 .5 .4 .5 .8 .5-8.3 .5 14.2 .5-7 .5 1.8 .5 6.7 .5-5.2 .5 3.2 .5-2.1 .5 1.8 .5-1.8 .5 3.6 .5-5.3 .5 2.7 .5-4.5 .5 7.7 .5-13.4 .5 9.6 .5 .8 .5 0 .5-1.3 .5 5.5 .5 3.2 .5-10.7 .5-5.1 .5 3.4 .5 1.2 .5 2.8 .5 .4 .5 4.7 .5-5.9 .5 1.7 .5 .7 .5-3.9 .5 2.4 .5 11.4 .5-10.3 .5-3.4 .5-4.7 .5 12.9 .5-5.3 .5-1.1 .5 12.4 .5-3.9 .5-12.5 .5 5.6 .5 5.5 .5-.6 .5-7.6 .5 11.6 .5 .4 .5-11.7 .5-2.5 .5 1.6 .5 8.3 .5 1.7 .5-3.4 .5-3 .5 2.1 .5 2.7 .5-7 .5-1.9 .5 6.6 .5 5.3 .5-4 .5 .1 .5-3.4 .5 6.4 .5-10.4 .5 6.7 .5-2.1 .5 1.9 .5-3 .5 6.7 .5-3.2 .5-2 .5 4.5 .5-2.2 .5-1.8 .5-.2 .5 5.5 .5-6.7 .5 2.9 .5-.2 .5 2.4 .5-1.9 .5 9.3 .5-15.3 .5 9.2 .5-2.4 .5 4.5 .5-10.5 .5 11.1 .5-10.1 .5 8.1 .5-.6 .5-1.8 .5-2.9 .5-.3 .5 3.6 .5-3.2 .5-4.5 .5 .6 .5 10 .5 .1 .5-1.1 .5-1.7 .5 1.3 .5 .5 .5-.9 .5-3.8 .5 .3 .5-1.5 .5 4.9 .5-4.2 .5 3.1 .5 5.5 .5-6.2 .5 5.1 .5 2.2 .5-12.4 .5 1.5 .5 7 .5-4.2 .5 4.5 .5 .7 .5-4.4 .5 4.9 .5 3.4 .5-2.8 .5-6.5 .5 2.6 .5-1.3 .5 7.5 .5-6.2 .5-1.7 .5 2.6 .5 1.7 .5-3.1 .5 1.8 .5-.4 .5 2.7 .5 .8 .5-2.4 .5-2.5 .5 3.1 .5-4.5 .5 6.8 .5-2.4 .5-.4 .5-9.1 .5 16.5 .5-3.1 .5-.6 .5-3.9 .5 1.9 .5 6.1 .5-10.6 .5 4.9 .5-.5 .5-1.5 .5 .7 .5-4.4 .5 5.5 .5-6.5 .5 10.5 .5-3.4 .5-5.4 .5-4.1 .5 7.3 .5 1.3 .5-4.9 .5 8.8 .5-4.6 .5-2.3 .5-3 .5 4.1 .5-.2 .5 2.8 .5 1.3 .5-3.3 .5 1.4 .5 3.1 .5-2.6 .5-2.7 .5 2.8 .5-3.6 .5 3.1 .5-1.3 .5-3.5 .5 5.3 .5-1.6 .5 2 .5-6.3 .5 7.5 .5 .1 .5-4.6 .5 .8 .5 .5 .5-.2 .5 2.6 .5-4.7 .5-1.3 .5 2.8 .5 6.4 .5-6.8 .5-1.9 .5 .3 .5 3.3 .5 3 .5-5.7 .5 2.7 .5 .1 .5 .8 .5-1 .5 2.7 .5-1 .5-3.8 .5 8.9 .5-11.1 .5 .1 .5 6.9 .5-2.4 .5-1.3 .5 1.3 .5 1.4 .5-3.1 .5-.6 .5-1.2 .5 .5 .5 .2 .5 5.6 .5-2.5 .5 .8 .5-3.2 .5 4.6 .5-7.4 .5 5.8 .5 .6 .5-3.5 .5-1.3 .5 4.4 .5-3.5 .5-.5 .5 2.5 .5-3.1 .5 2.8 .5 6 .5-6.9 .5 3.8 .5-5.4 .5 3.1 .5-1 .5 .3 .5 2.6 .5 3.7 .5-6.2 .5 3.9 .5-2.6 .5 1.1 .5-3.3 .5-.6 .5 1.4 .5-1.6 .5 2.1 .5-2.8 .5 2.8 .5 .5 .5 4.3 .5-.2 .5-3.3 .5-2.6 .5 2.9 .5 .5 .5-2.6 .5-1.8 .5-2.4 .5 4.5 .5 5.1 .5-5.5 .5 1.5 .5 0 .5 .2 .5 .8 .5-7.2 .5 4.8 .5 1.3 .5-1.2 .5 3.3 .5-4.1 .5 3.3 .5 2.1 .5-5.1 .5 .7 .5-.8 .5 2.6 .5-7.3 .5 1.7 .5 2.9 .5 2.9 .5-.8 .5-3.5 .5 6 .5-3.7 .5-1.9 .5 2.9 .5 1.8 .5-3.4 .5-3.5 .5 2.3 .5 1.5 .5 2.1 .5-4.8 .5 3.1 .5-3.5 .5 3 .5-3.4 .5 2 .5-2.5 .5 1.2 .5-1.5 .5-.9 .5 7.6 .5-.2 .5-1.7 .5-2 .5 4.3 .5-4.2 .5 1.7 .5 1.6 .5-2.1 .5 2.9 .5-3.9 .5 0 .5 .6 .5-3.1 .5 .2 .5 4.4 .5-6 .5 6.7 .5-2 .5 2.1 .5-1 .5-.4 .5 2.6 .5-4.3 .5-.1 .5 2.9 .5-4.2 .5 4.2 .5-1.1 .5-2.8 .5-1.9 .5-1.8 .5 9.2 .5-8 .5 .7 .5 4.8 .5-.9 .5-.7 .5-.3 .5-1.2 .5-1.2 .5 .4 .5 3.1 .5 1.1 .5 .2 .5-2.9 .5-5.2 .5 6.4 .5-1.6 .5-5.6 .5 9.2 .5-2.8 .5-.6 .5 .5 .5-.2 .5 .3 .5-.3 .5-.3 .5 1.3 .5-.6 .5 4.8 .5-5.3 .5-1.6 .5-.2 .5 2.3 .5-.7 .5 .3 .5-1.1 .5 .1 .5 2.1 .5 1.4 .5-2.4 .5-1.1 .5-2.4 .5-.1 .5 2.8 .5-.7 .5 .3 .5-2.4 .5 2.3 .5-4.3 .5 1.7 .5 .9 .5 3.2 .5-2.8 .5-.8 .5 2.8 .5-.9 .5 2.3 .5-1.4 .5-.3 .5-.9 .5 1.9 .5-3.2 .5-1.9 .5 5.6 .5-3.2 .5 1.2 .5 1.3 .5 .9 .5-8.1 .5 3.3 .5 5.3 .5-6.8 .5 5 .5-1.9 .5-1.2 .5 1.7 .5-3.6 .5 4.8 .5 1.8 .5-6 .5 1.8 .5 4.3 .5-2 .5-1.5 .5 4 .5-7.1 .5 3.2 .5 .8 .5-.9 .5 2.5 .5-5.6 .5 3.9 .5-1.9 .5 4.5 .5-.3 .5-4.1 .5-.8 .5 2.4 .5-1.9 .5 .7 .5 2.3 .5-2.1 .5 5.2 .5-4 .5-1.3 .5-1.4 .5 1.4 .5 3.7 .5-1.3 .5 2 .5-.3 .5-1.7 .5-2.8 .5 1.2 .5 .5 .5-3.9 .5 4.5 .5-3.1 .5 2.2 .5-1 .5 2.5 .5 4.3 .5-8.3 .5 2.6 .5 4.7 .5-6.7 .5 1.6 .5 .2 .5 1 .5-4.4 .5 4.4 .5 .6 .5 4.3 .5-5.8 .5-1.1 .5 1.6 .5-5.9 .5 6.4 .5 2.7 .5-3.6 .5 0 .5-.4 .5 .9 .5-3.1 .5 6.2 .5-4.5 .5 .1 .5 4.7 .5-3.7 .5-.9 .5 4.6 .5-3.3 .5 1.8 .5-3.4 .5-2.7 .5 4.4 .5 2.8 .5-4.2 .5 1.8 .5 .9 .5-1.1 .5-.4 .5 1.6 .5-1.2 .5-1.7 .5 3.6 .5-.6 .5-.9 .5 .8 .5-7.2 .5 6.2 .5-.5 .5-4.5 .5 9 .5-3.8 .5-1.7 .5 .1 .5 1.5 .5-.6 .5-3.5 .5 2.7 .5 1.8 .5 .4 .5 .6 .5-4.2 .5 .9 .5 2.3 .5-2.2 .5 1.8 .5-2.2 .5 3.1 .5-1.1 .5 1.1 .5-1.2 .5-1.8 .5-.9 .5 2.8 .5-1.4 .5-1.9 .5 2.1 .5 2.9 .5 1 .5-1 .5 1.3 .5-3.8 .5 .5 .5-1.7 .5 .4 .5 5.3 .5-2.6 .5 .5 .5 3.8 .5-1 .5-6.1 .5 4.1 .5-3.8 .5 3.8 .5-6.2 .5 2 .5 .1 .5 6.4 .5-8.3 .5 6.4 .5-.1 .5-2.1 .5 1.6 .5 3.4 .5-4.7 .5-1.1 .5 3.6 .5-1.3 .5-4.2 .5 2.9 .5 .3 .5-3.2 .5 .5 .5 .6 .5-1.2 .5 3.8 .5-.5 .5-5.5 .5 4 .5 1.2 .5-3.3 .5 2.4 .5 1.2 .5-4.3 .5 3 .5-4.5 .5 6.8 .5-3.2 .5-1.6 .5-.9 .5 .5 .5 6.3 .5-4.6 .5 .6 .5 .4 .5-2.5 .5 5 .5-7.1 .5 7.3 .5-3.6 .5 1.8 .5 .5 .5 1.2 .5-4.5 .5 4 .5-1.5 .5-.2 .5-.3 .5 3 .5-1.4 .5 1.7 .5-.7 .5-6.3 .5 4.1 .5 2.3 .5-4.1 .5-1.7 .5-1.3 .5 9.2 .5-6.3 .5 2.4 .5-2.7 .5 3.2 .5 2.7 .5-6.7 .5 2.9 .5-1.5 .5-2.4 .5 2.1 .5 2 .5 2.6 .5 .1 .5-2.8 .5-3.5 .5 4.9 .5-1.4 .5 0 .5-2.5 .5 2.2 .5 4.5 .5-1 .5-.5 .5-1.3 .5-2.3 .5 .8 .5 .3 .5 .6 .5-1.6 .5-1.2 .5 4.3 .5-3.2 .5 2.6 .5-2.2 .5 1.8 .5-.4 .5 .5 .5-.1 .5-3.6 .5-.9 .5 2.8 .5 3.6 .5-5.3 .5-.2 .5 6.8 .5-8.2 .5 2.1 .5 .3 .5-.6 .5 .1 .5 3.6 .5-1.9 .5-.1 .5-3.8 .5 5 .5-1.3 .5-.1 .5 1.4 .5-1.1 .5-.8 .5 .9 .5-2.3 .5-.5 .5-.9 .5 4.6 .5-3.3 .5 1.6 .5 1.8 .5 1.4 .5-4.4 .5 1 .5-.2 .5-2.9 .5 1.6 .5 5.6 .5-4.9 .5 3.4 .5-2 .5 1.8 .5-.9 .5-2.2 .5-2.9 .5 5 .5-1.5 .5-.5 .5 .6 .5-3.3 .5 1.7 .5-.4 .5-2.9 .5 .4 .5 1.9 .5-4.1 .5 5.4 .5-.1 .5-1.7 .5 .4 .5-4 .5 3.5 .5 .9 .5-.7 .5 .6 .5-2 .5 3.5 .5-3 .5 .4 .5 .3 .5-3.5 .5-.8 .5 3.1 .5-3.8 .5 .8 .5 2.5 .5-3.9 .5-.1 .5-.7 .5 0 .5 4.8 .5-2.7 .5 .4 .5-5.5 .5-1.2 .5 1.7 .5 3.4 .5-.3 .5-6 .5-.2 .5 3.5 .5-1.4 .5-.4 .5-.5 .5-3.8 .5 1 .5-1.8 .5 1.5 .5-4 .5-4.1 .5 4 .5-.7 .5-3.2 .5-4.1 .5-3.1 .5 1.4 .5-4.9 .5-.4 .5-1.8 .5-4 .5-5.5 .5 2.2 .5-4.7 .5-2.8 .5 1 .5-.9 .5-1.3 .5 .8 .5-4.6 .5 4.7 .5 2.5 .5-1.9 .5 .6 .5 2.3 .5 4.3 .5-.4 .5 1.1 .5 .6 .5 7.7 .5 2.3 .5-.3 .5 5.7 .5-2.2 .5 3.9 .5-1.7 .5 2.2 .5 3.4 .5 2.3 .5 1.6 .5-1.3 .5 1.8 .5 1.8 .5 .6 .5 1 .5 2.7 .5 1.3 .5-4.5 .5 6.1 .5-1.4 .5 .8 .5 .6 .5 1.5 .5 0 .5-3.5 .5 4.6 .5-3.1 .5 3 .5 0 .5-2.7 .5 3 .5-.2 .5-.4 .5 4.9 .5-3 .5-.6 .5 3.9 .5-2.9 .5 .1 .5-3.1 .5 4.8 .5 .9 .5 1.7 .5-4.9 .5 3.8 .5 .8 .5-1 .5-1.1 .5-2.8 .5 3.4 .5-1.1 .5-2 .5 4.3 .5-1.1 .5-.1 .5 4 .5-4.3 .5-2.7 .5-.1 .5 5 .5-1.2 .5-.9 .5-2.3 .5 2.4 .5-.5 .5 1.9 .5-1.2 .5 0 .5 1.6 .5-1.3 .5 2.1 .5-5 .5 2.3 .5 4.5 .5-1.8 .5-2.3 .5 1.7 .5-.6 .5 .4 .5 3.3 .5-3.3 .5 1.2 .5-1.9 .5 .2 .5-1.4 .5 1.7 .5 .4 .5 .3 .5 .7 .5 .1 .5 1.1 .5-1.6 .5 2.9 .5-1.3 .5 1.4 .5-2.6 .5 2.4 .5-2.1 .5-3.2 .5 3 .5-.2 .5-2.4 .5 .9 .5 .7 .5 5.5 .5-3.7 .5 2.9 .5-1.7 .5 .3 .5-.5 .5-4.3 .5 5.2 .5-4.3 .5 2.8 .5-1 .5 3.3 .5-.8 .5 1.2 .5-2.6 .5-.9 .5 1.5 .5 3.1 .5-3.6 .5-1 .5-2.4 .5 .9 .5 1.2 .5 1.5 .5-.2 .5-1.4 .5 .4 .5 2.7 .5 .5 .5-1.3 .5 .6 .5-.6 .5 1 .5-5.9 .5 1.4 .5 1.3 .5 .2 .5 1.8 .5-6.2 .5 3.8 .5 .1 .5-1.9 .5 1 .5 2.1 .5-1.1 .5-1.3 .5 .6 .5-.7 .5 1.9 .5-2.1 .5 2 .5-3 .5 .9 .5-2.2 .5 1.7 .5 1.9 .5-3.7 .5 1.2 .5 .8 .5-1 .5 2.2 .5-4.1 .5 3.9 .5 .8 .5 .5 .5-3.3 .5-1.6 .5-1.5 .5 4.2 .5 .2 .5-1.1 .5 0 .5 .5 .5-2.1 .5-2.2 .5 0 .5 1.1 .5-.3 .5-1.4 .5 2.2 .5-1.3 .5 3.2 .5-1.5 .5 1.6 .5-4.1 .5 .3 .5-1 .5 3.5 .5 4.1 .5-4.3 .5-1.3 .5 1.2 .5-.5 .5 1.8 .5-1.9 .5-1.7 .5-2 .5 4.3 .5 1.2 .5-1.7 .5-2 .5 .9 .5 .2 .5 1.7 .5-1.3 .5 2.4 .5-2.6 .5-.9 .5 4.8 .5-5.5 .5 .4 .5 5.6 .5-3.5 .5 2.9 .5-8.2 .5 7.2 .5-2.4 .5 .3 .5 .7 .5-5.7 .5 3.1 .5 2.6 .5 3.9 .5-6.1 .5 6 .5-3.3 .5 .8 .5-3.8 .5 3.1 .5-2.8 .5-.7 .5 4.8 .5-3.7 .5 .4 .5 2.3 .5-2.8 .5-.8 .5 2.9 .5 .1 .5 2.4 .5-5 .5 3.6 .5 0 .5-2.1 .5 .5 .5 .4 .5-1.9 .5-.5 .5 3.9 .5-3.4 .5 .3 .5 3.4 .5-2.5 .5 .3 .5-1.8 .5 .4 .5-.3 .5 .1 .5 5.1 .5-4.1 .5-2.6 .5 2.5 .5 3.5 .5-3.5 .5 2.3 .5-1.6 .5-1.5 .5 2.4 .5-.8 .5 2.5 .5 1.1 .5-1.4 .5 5.1 .5-6.7 .5 4.8 .5-1.7 .5 2.1 .5-1.6 .5-5.1 .5 3.8 .5 2.7 .5-1.8 .5-2.4 .5 1.7 .5 1.8 .5 1.9 .5-3.4 .5 1.5 .5-1.8 .5-.4 .5 1.4 .5 3.8 .5-1.1 .5-1.8 .5 .7 .5 1.2 .5-1.1 .5-.5 .5 .4 .5 1.9 .5-1.9 .5 2.4 .5-4.9 .5 2.2 .5 .7 .5 2.1 .5-2.8 .5 .8 .5 1.8 .5-.8 .5-1 .5 .8 .5-1.1 .5 3.4 .5-.7 .5 .9 .5 2.7 .5-1.8 .5-1.4 .5-1.1 .5 4.5 .5-3.8 .5-.8 .5 2.9 .5-1.7 .5-1.2 .5 1.3 .5 2.9 .5-3.5 .5 .5 .5-2.4 .5 .7 .5 2.6 .5-1.9 .5 .4 .5 1.8 .5-2.7 .5 3.5 .5-4.2 .5-.3 .5-.1 .5-1.4 .5 3.9 .5-1.1 .5 2.5 .5-4.1 .5 2.8 .5 1 .5-3 .5 0 .5-4.5 .5 8.3 .5-4 .5 1.5 .5-2.4 .5 1.6 .5-3 .5 3.6 .5-1.4 .5-.9 .5 1.4 .5-4.3 .5 3.6 .5-1.2 .5 3.4 .5-1.3 .5-2 .5-.3 .5 5.2 .5-6.7 .5 5.4 .5-1.9 .5-.4 .5-5.2 .5 5.1 .5-2.7 .5-.8 .5 2.7 .5-2.5 .5 2.3 .5-3 .5 2.8 .5-.3 .5-2.6 .5-.3 .5 .4 .5 .2 .5-.2 .5 4.6 .5-2.9 .5-1.5 .5-.1 .5-1 .5 2 .5-.7 .5-1.3 .5-.1 .5 .5 .5-1.3 .5 2.1 .5-2 .5 2.7 .5-1.7 .5 1.6 .5-2.2 .5-2.5 .5 1 .5 1.9 .5 1.2 .5 0 .5 .2 .5 .3 .5-.7 .5 .1 .5-1.3 .5 1.5 .5-1.3 .5 0 .5 .5 .5 4 .5-7.2 .5 1.9 .5 .4 .5 1.3 .5-.8 .5 3.1 .5-6 .5 6.4 .5-5.8 .5 1 .5 2.5 .5-.9 .5-.1 .5 .2 .5 .6 .5 1.2 .5-1 .5-3.1 .5 1 .5 4.1 .5 1.1 .5-1.8 .5 .4 .5-1.4 .5 3.4 .5-4.9 .5 .5 .5-.7 .5 4.6 .5-3.9 .5 2.1 .5-3.5 .5-.1 .5 4.8 .5-.4 .5 .4 .5-1.1 .5-.9 .5-.1 .5-1.2 .5 1.5 .5 3.4 .5-2.7 .5-2.1 .5 2.2 .5-1.3 .5-.2 .5 2.1 .5-1.1 .5-.8 .5 5.4 .5 .5 .5-2.9 .5 2.7 .5-3.6 .5 1 .5 2.6 .5-1.8 .5 1.1 .5-6.2 .5 5.5 .5-1.3 .5 .7 .5-2.5 .5 1.5 .5 2.7 .5 .1 .5 .4 .5 .3 .5 .6 .5-1.3 .5-1.1 .5-.5 .5 .3 .5-.9 .5 0 .5 1.8 .5-4.1 .5 2.1 .5 .8 .5 2.6 .5 1.1 .5-1.3 .5-.7 .5-.8 .5 3.1 .5-.8 .5-2.5 .5 1.2 .5 .9 .5 1 .5-2.4 .5 3.5 .5-.6 .5-3 .5 .5 .5-1.4 .5 .1 .5 2.3 .5 2.1 .5 .1 .5-2.4 .5-1 .5-.5 .5 2.1 .5-1.7 .5 2.2 .5-1.5 .5 .8 .5-1.6 .5 4.9 .5-1.7 .5-2 .5-1.8 .5 2.8 .5 .3 .5-3.5 .5 2.3 .5 3.7 .5-3.5 .5-1.1 .5 1.9 .5 2.4 .5-4.3 .5 0 .5 .4 .5 .6 .5 2.1 .5-1.6 .5-4.8 .5 5 .5 0 .5 .4 .5-.6 .5-.8 .5 1.2 .5-2.2 .5-1.9 .5 2.5 .5-1.4 .5 5.3 .5-3.4 .5 3.1 .5-5.5 .5 .3 .5 3.1 .5-4 .5 2 .5-2.5 .5 4.5 .5-4.1 .5 3 .5-3 .5 4.2 .5 1.1 .5-1.8 .5-2.1 .5 2.7 .5 1.1 .5-.4 .5 .9 .5 1.3 .5-3.2 .5-.9 .5-.7 .5 1.2 .5-.4 .5-.6 .5 1.7 .5 3.1 .5-5.2 .5 .5 .5 .3 .5-1.3 .5 4 .5-2.3 .5 1.5 .5-4.2 .5 4.1 .5-1.3 .5-2.5 .5 4.4 .5 .2 .5-1.3 .5 .5 .5-2.7 .5 3.8 .5-2.4 .5 1.4 .5 .2 .5-.1 .5-2.3 .5 1.9 .5-.2 .5 2 .5-3.6 .5 3.3 .5-.9 .5-.7 .5 3.5 .5-2 .5-2.6 .5 1.7 .5-2 .5-.7 .5 1.3 .5 .1 .5 4.2 .5-1.7 .5-6.1 .5 4.4 .5-1 .5 1.1 .5 .7 .5-.2 .5 .7 .5-2.2 .5 4.2 .5-2.9 .5 2.6 .5-2.4 .5 1.1 .5-2.7 .5 4 .5-1.5 .5-1.3 .5 1.5 .5 .3 .5-3.8 .5 1.5 .5-.4 .5 3.5 .5-1.2 .5-1.6 .5 0 .5 1.3 .5-4.3 .5 4.1 .5 3.3 .5-5.6 .5 .4 .5 .2 .5 3 .5-2.3 .5 5 .5-3.9 .5-.5 .5-1.2 .5 3.4 .5 .8 .5-1.7 .5 2.1 .5-.1 .5-1.6 .5-.6 .5-1.2 .5 1.5 .5-1.1 .5 3.5 .5-1.4 .5-1.7 .5-.5 .5 1.6 .5 1.2 .5-1.5 .5 1.4 .5-2.8 .5 1.3 .5 .8 .5-.9 .5 .4 .5 1.2 .5-1.9 .5 1.9 .5-2.9 .5 1.9 .5-1.8 .5 .1 .5 1.9 .5 1.3 .5-2.7 .5 .4 .5 2.3 .5-4 .5 3.2 .5-3.9 .5-1.4 .5 4.2 .5-1.2 .5-.4 .5-3.6 .5 5.2 .5-1.6 .5-1.4 .5 2 .5-2 .5 .8 .5-.1 .5 3.3 .5-2.1 .5 2.7 .5-4 .5-.8 .5 5.6 .5-6 .5 4.9 .5-4.4 .5 3.4 .5-2.7 .5 4.2 .5 .9 .5-1.8 .5-1.3 .5-1.4 .5 2.2 .5 2.4 .5-4.8 .5-1.3 .5 5.5 .5-3.8 .5 1.7 .5-1 .5 .1 .5-1 .5 .2 .5-2.9 .5 2.1 .5-.6 .5 3.8 .5-2.8 .5 .8 .5-3.5 .5 3.3 .5 2.8 .5-2.6 .5 1.3 .5-2.3 .5-.6 .5 3 .5-2.7 .5-1.2 .5 1.8 .5-.6 .5 2.7 .5-.6 .5-4.1 .5 3.6 .5-3.5 .5 2.9 .5 .7 .5-2.1 .5-.1 .5 2.5 .5-2.1 .5-1.6 .5 5.2 .5-1.4 .5-.8 .5-.3 .5 1.3 .5-1.8 .5 1.3 .5-.9 .5-1.9 .5 3.3 .5-1.7 .5-1.9 .5 .7 .5-3.8 .5 1.4 .5 .3 .5 4.1 .5-.1 .5 .9 .5-1.4 .5 2.4 .5-4.1 .5-.7 .5-.3 .5 2.1 .5-1.6 .5-.6 .5 .7 .5 1.3 .5-2.8 .5 2.4 .5 0 .5 3.1 .5-2.9 .5-2.7 .5 2.9 .5-.2 .5-2.7 .5-2.5 .5 6.2 .5-1.8 .5-1 .5 1 .5 2.7 .5 .9 .5-4.2 .5 3.7 .5-3 .5 .1 .5-.2 .5 0 .5-.1 .5-1.1 .5 1.3 .5-1.9 .5 2.9 .5-2.3 .5 2.2 .5-1.2 .5-3.2 .5 5.6 .5-1.7 .5-.7 .5-.5 .5 4 .5-3.9 .5 2.3 .5-1.5 .5-2.9 .5 3.9 .5-4.3 .5 3.7 .5 0 .5-.4 .5-1.9 .5 4.1 .5 .7 .5-5.1 .5 1 .5 3.8 .5-3.9 .5 2.6 .5-3.7 .5 .6 .5 1.7 .5 .4 .5-3.6 .5 .7 .5 3 .5 1.4 .5-1.4 .5-.3 .5 .1 .5-3.1 .5 3 .5 1 .5-.6 .5-3.4 .5 .4 .5 4 .5-4.8 .5 .6 .5 5 .5-4.7 .5 .3 .5 2.6 .5 .3 .5-1.8 .5-2.4 .5 1.7 .5 1.3 .5-2.1 .5-.1 .5 4.2 .5-1.3 .5 .4 .5 .2 .5-3.6 .5 2.9 .5 1.3 .5-1 .5-3.5 .5-.7 .5 1.4 .5 2.5 .5-1.4 .5 .9 .5-2.9 .5 4 .5-3 .5 3.5 .5-2.2 .5-4.7 .5 4.4 .5-1.3 .5 0 .5 1.3 .5 2.4 .5-.5 .5 1.1 .5-2.7 .5-3.5 .5 2.4 .5-.6 .5 .4 .5 6 .5-3.2 .5-3.4 .5 4.1 .5-2.8 .5-2 .5 4.8 .5-3.1 .5 1.1 .5 4.1 .5-6.3 .5 3.9 .5-2.6 .5-1.5 .5 1.6 .5 .9 .5 0 .5-3.3 .5 4.5 .5-3.2 .5 2.2 .5-.2 .5-1.5 .5 2.2 .5-2.5 .5-.4 .5-.9 .5-.9 .5 2.2 .5-2.8 .5 3.5 .5-.4 .5 4.2 .5-5.4 .5 4.4 .5-1.5 .5-.1 .5-1.8 .5-.4 .5 1 .5 .5 .5 1.2 .5-2.1 .5 4 .5 .2 .5-7.9 .5 4.9 .5-.4 .5-1.7 .5-2.9 .5 1.5 .5 2.9 .5 1.7 .5-.5 .5 .1 .5-1.4 .5 2.4 .5-1 .5 1.2 .5-2.4 .5-1 .5-1.7 .5 5.9 .5-4.1 .5-.8 .5-2.1 .5 5.1 .5-3.7 .5 2.8 .5 .4 .5 2.1 .5-4 .5-2.4 .5 5.4 .5-1.2 .5-1.7 .5 1.2 .5 3.6 .5-3.5 .5-1.3 .5 1.1 .5 1.2 .5-.4 .5 0 .5-.1 .5-2.8 .5 3.4 .5 .8 .5-.7 .5-1.4 .5 0 .5 .5 .5-.3 .5-3.2 .5 2.9 .5 2.6 .5-3 .5-.4 .5 2.2 .5-1 .5-1.5 .5 1.7 .5 2.9 .5 .2 .5-3.2 .5-.6 .5 2.6 .5-1.4 .5 .2 .5-1.2 .5-2.3 .5-.3 .5 2.6 .5-1.9 .5 3.6 .5 .2 .5 1.1 .5-2.6 .5 3.5 .5-1.3 .5-1.7 .5 .7 .5-2.5 .5-3.7 .5 6.8 .5-1.1 .5 2.3 .5-2.3 .5-1.2 .5-.6 .5-.3 .5 1.5 .5-3.7 .5 1.3 .5 3.7 .5-5.5 .5 .9 .5 1.9 .5 .3 .5 1 .5 1.4 .5-1 .5 .6 .5-2.3 .5 1.2 .5-1.4 .5 1.1 .5 1.4 .5-.2 .5-4.5 .5 1.4 .5 6 .5-7.7 .5 4 .5-2.3 .5 1.8 .5-.7 .5 1.3 .5-2.3 .5 4.2 .5 2.1 .5-8.8 .5 3.1 .5-1.3 .5 3.1 .5 2.5 .5 0 .5-.1 .5-2.1 .5-1.5 .5 3.2 .5-3.3 .5-.3 .5 1.6 .5-2.4 .5 2 .5-1.4 .5 1.9 .5 1.7 .5-2.9 .5 2 .5 .9 .5-3.3 .5 1.4 .5-.5 .5 4.1 .5-4.4 .5 1.2 .5-2.9 .5 .9 .5 3 .5-1.7 .5 2 .5-1.3 .5 4.6 .5-5.2 .5 2.3 .5-3.1 .5 .5 .5-2.1 .5 7.7 .5-8.7 .5 4.2 .5-1 .5 2.3 .5-2.5 .5 4.7 .5-1.5 .5-1.1 .5 0 .5 1.1 .5-1.2 .5 2.2 .5-1.3 .5-1.7 .5 .9 .5-.4 .5 1.9 .5-2.7 .5 .7 .5-2.6 .5 3.7 .5-.8 .5-1.7 .5 4.5 .5-3.2 .5-2.2 .5 4.4 .5-2.5 .5-4.6 .5 5.6 .5-.7 .5 .2 .5-.5 .5-1.2 .5 1.8 .5-3.4 .5 2.9 .5 2 .5 .3 .5-2.9 .5 4.7 .5-3.1 .5-1.4 .5 1.1 .5-1.6 .5 3 .5-3.4 .5 .4 .5-.8 .5 .7 .5 1 .5 4.1 .5-3.1 .5 1.8 .5-2.1 .5 1.7 .5-3.8 .5-.1 .5 5.7 .5-2.9 .5-3.7 .5 4.2 .5-1.5 .5-.2 .5 2.1 .5-3.9 .5 4.7 .5-1.8 .5-1.4 .5-1.6 .5 5.9 .5-4.1 .5-1.9 .5 2.4 .5 1.2 .5 .3 .5 1.6 .5-1.7 .5-1.2 .5 4.4 .5-.4 .5-6 .5 4 .5-3 .5 4 .5-4.6 .5 2.4 .5 2.4 .5-2.3 .5 1.4 .5-3.4 .5-1 .5 .1 .5 3.4 .5-2.4 .5 4.1 .5-3.5 .5 3.3 .5-1.9 .5-2.8 .5 2.2 .5 .9 .5 0 .5-1.1 .5 2.3 .5-.3 .5 0 .5-3.3 .5-2.5 .5 5.1 .5-2.6 .5 .5 .5 .6 .5 1.1 .5-4 .5 3.1 .5 2.9 .5-5.4 .5 2.3 .5 3.3 .5-1.1 .5-.4 .5-.9 .5-3 .5 2.9 .5-2 .5 2.1 .5-1.7 .5-.8 .5 2.2 .5 2.1 .5-3 .5 1.3 .5 1.1 .5-.4 .5-3.4 .5 1.4 .5 1.7 .5-.6 .5 3.3 .5-2.2 .5-2.8 .5 3 .5 .8 .5-.8 .5-.3 .5-3.7 .5 2.6 .5 1.3 .5-1.9 .5 .1 .5 1.5 .5-2 .5-.5 .5 1.4 .5 .1 .5 1.8 .5-1.9 .5-1.9 .5 3.2 .5-2.5 .5 3 .5-2.5 .5 2.2 .5-.5 .5-1 .5-2 .5 1.7 .5 3.4 .5-2.3 .5 1.8 .5-2 .5-.1 .5-1.9 .5 2.6 .5-2.3 .5 0 .5 3.6 .5-3.9 .5 6.3 .5-4.4 .5-1 .5 3.6 .5-4.4 .5 2.1 .5-.2 .5 1.8 .5 1.5 .5-2.7 .5-3.1 .5 0 .5 1.6 .5 2.4 .5-1.2 .5 .2 .5-1.1 .5 3.2 .5-4.7 .5 5.8 .5-1.4 .5-.9 .5-1.4 .5-.5 .5 .5 .5-1 .5 .3 .5-.8 .5 3 .5-1.2 .5 .6 .5-2.2 .5-1 .5 .6 .5 2.2 .5-2.7 .5 3.4 .5-2.9 .5 .9 .5 1.3 .5-2.7 .5-1.7 .5 6.2 .5-2.6 .5-.9 .5 4.3 .5 1.1 .5-4.1 .5 .5 .5 4.1 .5-5.8 .5 3.4 .5-.4 .5-3 .5-.7 .5 .4 .5 1.7 .5 .3 .5 4.1 .5-6.7 .5 2.3 .5-1.9 .5 3.2 .5-.9 .5-3.3 .5 1.6 .5 1 .5 1.2 .5-.4 .5 .3 .5-1.3 .5 1.1 .5-1 .5 1.7 .5-.8 .5-2.8 .5 1.5 .5-1.4 .5 1.2 .5 1.3 .5-.9 .5-.4 .5-1 .5 3.9 .5-2.8 .5-1.9 .5 .9 .5 2.6 .5 2.1 .5-1.5 .5-3.1 .5 2.2 .5-4.8 .5 4.7 .5-2.1 .5 .9 .5-2.9 .5 3.1 .5-3.2 .5-.7 .5 5.8 .5-5.2 .5 4.1 .5-2.9 .5 .8 .5 .2 .5 2 .5-1.3 .5-2.5 .5 .6 .5 3.5 .5 0 .5-3.5 .5 2.5 .5-1.9 .5 2 .5-3.8 .5 3.4 .5-2.7 .5-1.4 .5 3.5 .5-.1 .5-3.9 .5-1.6 .5 4.1 .5 1 .5-1.9 .5 1.2 .5-1.1 .5-.3 .5 1.8 .5 1.5 .5-1.5 .5-1.5 .5-.7 .5 1.6 .5-4.6 .5 4.4 .5-.5 .5 .2 .5-.5 .5 .1 .5-2.5 .5 4 .5-1.9 .5 .6 .5-1 .5-1.8 .5 3.9 .5-1.6 .5-.1 .5 1.2 .5 2.5 .5-3.3 .5 1 .5 2.5 .5-4.1 .5 2.9 .5-2.3 .5 1.9 .5-1.7 .5 1.5 .5-3.2 .5 .5 .5-.3 .5 .6 .5 2.7 .5-1.3 .5 .5 .5-1.7 .5 .6 .5 .6 .5-.1 .5-1.8 .5 .4 .5-1.3 .5 3.4 .5 .6 .5 1.6 .5-8.4 .5 6.4 .5-.5 .5 3.6 .5-5.5 .5-.6 .5 1.9 .5-3.2 .5 .1 .5 3.8 .5-4.3 .5 1.1 .5 4.4 .5-1.2 .5-3.5 .5 5.1 .5-2.5 .5-.8 .5 1 .5-.5 .5 2.4 .5-1.1 .5-2.7 .5 .6 .5 2.5 .5-2.6 .5-.6 .5-2.7 .5 6.1 .5-1.5 .5-.4 .5-1.3 .5 .7 .5 1 .5-2.1 .5 2.4 .5 3.1 .5-4.3 .5 1.1 .5 3 .5-2.8 .5 2.8 .5-1 .5-.1 .5-2.1 .5-.5 .5 3.4 .5-2.2 .5-.5 .5-3.9 .5 3.9 .5 5.1 .5-3.5 .5 2.2 .5-2.9 .5-3.1 .5 3 .5 3.1 .5-3 .5-.8 .5 .2 .5-1.8 .5 1.5 .5 1 .5 1.6 .5-.3 .5-3.6 .5-1.5 .5 3 .5-.7 .5 3 .5-3.5 .5 3.2 .5-2 .5 3 .5-2 .5-3.8 .5-.7 .5 5.1 .5-2.5 .5 3.8 .5-1.9 .5 3.5 .5-3.4 .5-1.4 .5-2.4 .5 4.8 .5-1.3 .5-.2 .5 5.4 .5-3.2 .5-3.3 .5 3.1 .5-4.1 .5 1.7 .5 2.9 .5-4.1 .5 2.5 .5 .2 .5 .2 .5-2.2 .5-.8 .5 2.7 .5 1.3 .5-3.1 .5 3.5 .5 .6 .5-1.5 .5 1.4 .5-.1 .5 .5 .5-1.7 .5 0 .5 .2 .5 1.6 .5-3.2 .5 3.8 .5-4.5 .5 5.5 .5-2.5 .5 3.5 .5-4.1 .5 .8 .5-4.2 .5 2.5 .5 .9 .5 .4 .5 .5 .5-.9 .5-.4 .5 2 .5-4.7 .5 2.1 .5 2.2 .5-1.4 .5 2.4 .5-3.5 .5 .6 .5 1.9 .5 2.3 .5-5.9 .5-.7 .5 1 .5-.1 .5 2.9 .5 1.3 .5-1.7 .5 .5 .5 .8 .5-.5 .5-.1 .5-.1 .5 1.8 .5-4.3 .5 1.2 .5 1.5 .5 4.2 .5-6.2 .5 3.1 .5-2.8 .5 1.1 .5-1.1 .5 5.1 .5-2.9 .5-1.6 .5 2.9 .5-3.2 .5 1.9 .5-3 .5 2 .5 1.2 .5 .1 .5-2.3 .5 .2 .5-1.8 .5-.7 .5 3.7 .5 2.6 .5-1.2 .5 .2 .5-1 .5-.1 .5 0 .5 3.4 .5-3.8 .5 2.9 .5-4.9 .5 .7 .5 1.9 .5-2.6 .5 5.8 .5-2.5 .5 .4 .5-1.6 .5 .8 .5 0 .5 0"/>
<path class="crv" stroke="#00B050" stroke-width="11.8" d="M213.6 694.2l.5 0 .5 0 .5 2.7 .5-7.5 .5 6.2 .5-1.7 .5 3.2 .5-5.5 .5 6.9 .5 .6 .5 5.1 .5-3.7 .5 1.2 .5-6.3 .5 13.3 .5-13.6 .5 10.8 .5-4.3 .5-1.3 .5 1.3 .5 .6 .5 4.1 .5-1 .5 5.9 .5-10.5 .5 6.7 .5-2.4 .5 6.2 .5-9.1 .5 6.5 .5 2.4 .5-5.1 .5 8.8 .5-2.2 .5 3.3 .5 .3 .5-6 .5 1.1 .5 2.3 .5 3.6 .5 .7 .5-4.8 .5 .6 .5-.3 .5 1 .5 1.5 .5 .6 .5 7.4 .5-8.1 .5 .9 .5 2.7 .5-4.3 .5 2.1 .5 1.5 .5 2.6 .5-6.5 .5 8.9 .5-5.3 .5 1.9 .5 2.3 .5-.4 .5 1.5 .5-2.6 .5-.5 .5 1.3 .5-4 .5 7.2 .5-6.1 .5-1.4 .5 10.6 .5-6.7 .5-3.1 .5 9.7 .5-6.7 .5 4.5 .5-5.7 .5 2 .5-4.4 .5-.5 .5 3.1 .5 2.9 .5 2.8 .5 5.2 .5-10.5 .5 6.4 .5-4.8 .5 1.5 .5-3.9 .5 .2 .5 2.2 .5-1.1 .5 3.8 .5-2 .5 6 .5-3.1 .5 .1 .5 3.1 .5-1.7 .5-1.6 .5 0 .5 .1 .5 3.7 .5-.8 .5-1.1 .5 1.5 .5-3.9 .5 3.3 .5-5.6 .5 8.3 .5-3.5 .5 .4 .5 1.4 .5-1.7 .5-.5 .5 4.3 .5-3 .5-2.8 .5 4.1 .5-6.1 .5 9.9 .5-5.2 .5 .8 .5 6.5 .5-.2 .5-5.7 .5 1.6 .5 1.5 .5 1.8 .5-5 .5 .9 .5 3.2 .5-2.5 .5 1.5 .5-.3 .5-4.8 .5 1 .5-4.5 .5 6.4 .5 4.6 .5-6.7 .5 6.7 .5-.5 .5-2.8 .5 .3 .5 .3 .5-2.4 .5 1.7 .5 .8 .5 1.9 .5 .6 .5-4 .5 4.4 .5-4.3 .5 1.8 .5 1.6 .5-.9 .5-.2 .5 1.2 .5-2.1 .5-.1 .5 1.3 .5 3.3 .5-2.7 .5 5.4 .5-4.4 .5-7.1 .5 5.6 .5 5.7 .5-4.2 .5-1.1 .5-1 .5 5.9 .5-.7 .5-.8 .5-.5 .5 2.7 .5-1.5 .5-5.2 .5 5.3 .5-1.4 .5-.7 .5 2.4 .5-1.8 .5-6.4 .5 10.6 .5-1.2 .5-2.9 .5-.6 .5 1.7 .5-3.8 .5 4.2 .5-1.2 .5-.3 .5-1.3 .5 .7 .5 4.7 .5 .7 .5-2 .5-1.3 .5-2 .5 4.2 .5 2.3 .5-8.1 .5 7.2 .5-8.3 .5 4.7 .5 1.9 .5-4.3 .5-.3 .5 4.5 .5 1.8 .5-3.3 .5 4.7 .5-5.3 .5 6.5 .5-4 .5 .4 .5 1 .5-.6 .5 3.9 .5 1 .5-4.1 .5-1.6 .5-2.5 .5 1.2 .5 2 .5-.2 .5 .2 .5 .2 .5 1.3 .5-4.5 .5 .9 .5 5.4 .5-.6 .5-3.3 .5 4.6 .5-4.8 .5 1.1 .5-3.8 .5 6.7 .5-2.1 .5 2.7 .5-.8 .5-1.4 .5 .2 .5 2.6 .5-3.2 .5 .1 .5 .6 .5 1.8 .5 .4 .5 2.4 .5-4.7 .5 3.3 .5-4.6 .5 3.1 .5-1.1 .5 3.9 .5-2.6 .5-2.5 .5 2.5 .5-.5 .5-1.5 .5 .1 .5-1.5 .5 8.1 .5-5.4 .5 2 .5-5 .5 .2 .5 2.3 .5 0 .5 2.3 .5-4.2 .5 3.7 .5 2.3 .5-5.6 .5 4.3 .5-4.4 .5 3.1 .5 .1 .5 3.3 .5-5.7 .5 2.1 .5 2.1 .5-5.1 .5 2.7 .5-2 .5 .5 .5 3.2 .5 .1 .5 4.1 .5-2.5 .5-.1 .5-3.4 .5-.2 .5 1 .5-5.5 .5 9.1 .5-5.3 .5-.9 .5 1.4 .5 3.1 .5 .9 .5-3.7 .5 1.9 .5-1.1 .5-2.1 .5 2.7 .5-.3 .5-3.5 .5 5.9 .5-5.9 .5 4.1 .5-2.9 .5 .6 .5 .2 .5 3.2 .5-4.3 .5 2.4 .5 3.9 .5-5 .5 1.5 .5 1.6 .5-2.8 .5 2.4 .5-2.5 .5 3.1 .5-1.4 .5-2.2 .5 5.2 .5-3.3 .5-.4 .5-1.4 .5 1.1 .5 .8 .5 .6 .5 2.1 .5-5.3 .5 2.2 .5 3.4 .5-2.2 .5 .5 .5 2.6 .5-2.7 .5 .3 .5-1.1 .5 3.9 .5-1.5 .5-3.8 .5 2.8 .5-3.7 .5 4.9 .5-.9 .5-1.8 .5-.5 .5-2.9 .5 5.5 .5-1.9 .5-.4 .5 2.2 .5-2.9 .5 .2 .5-.2 .5-1.4 .5 8 .5-5.5 .5-.3 .5 2.6 .5-7.1 .5 5.2 .5 .1 .5-2 .5 3 .5-5.2 .5 4.3 .5 1.8 .5-6.5 .5 1.6 .5 2.7 .5 .3 .5-1.3 .5 2.1 .5-.3 .5-3.3 .5 2.6 .5-2.4 .5-1.6 .5-.6 .5 6.9 .5-2.3 .5 4.2 .5-6.9 .5 2.2 .5 1.5 .5-1 .5 1.3 .5-.7 .5-1.5 .5-3.4 .5 2.8 .5 5.4 .5-1.9 .5 1.2 .5-3.9 .5 .8 .5-1.3 .5 2.5 .5-.6 .5 .8 .5 2.6 .5-5.1 .5 3.1 .5-4.2 .5 5 .5-3.1 .5 .8 .5 .4 .5 3 .5-3.3 .5-.9 .5-1.3 .5 2.9 .5-2.2 .5 .7 .5 .9 .5 1.4 .5-2.7 .5 2.7 .5 2.2 .5-6.3 .5 5.5 .5 1.6 .5-5.3 .5 2.3 .5-3.8 .5 3.3 .5-1.2 .5 1.2 .5-2.4 .5 .2 .5 .8 .5-.5 .5 .2 .5 .8 .5-1.8 .5 1.9 .5 1.3 .5-5.5 .5 4.9 .5-1.8 .5-.7 .5-.4 .5 .9 .5 .3 .5 2.1 .5-3.1 .5 4.5 .5-3.6 .5 2.9 .5 .8 .5-4.4 .5 4.5 .5 2.2 .5-5.1 .5 2 .5-1.3 .5 .4 .5-.5 .5-.5 .5 2.4 .5 .3 .5-1.7 .5 3 .5-.8 .5-.7 .5-2.8 .5 5.2 .5-1.1 .5-6.8 .5 2.1 .5 1.2 .5 2.8 .5 .7 .5-3 .5 1 .5 1 .5-3.9 .5 3.7 .5-1.8 .5 1 .5-.4 .5-2.3 .5 .4 .5 2.1 .5 .2 .5-.8 .5 2.7 .5-2.8 .5-1.7 .5 1.7 .5 .4 .5 .1 .5 2.6 .5-1.3 .5 1.1 .5-.9 .5-1.5 .5 2.4 .5-2.6 .5 1 .5-2.5 .5 2.2 .5-.8 .5 1.4 .5 2.9 .5 1.1 .5-2.7 .5-2.1 .5 1.7 .5-1.1 .5-1.7 .5 1.1 .5-.4 .5-.7 .5 4 .5-3.9 .5 .1 .5 2.4 .5-2.8 .5-.9 .5 .6 .5 2.7 .5-.2 .5-.2 .5-1.6 .5-.9 .5 3.7 .5-4.8 .5 2.5 .5-2.2 .5 1.8 .5 .5 .5 2.8 .5-7.6 .5 7.9 .5-4.6 .5 2.4 .5 1 .5-3.2 .5 1.4 .5 1.1 .5-1.2 .5-1.3 .5 1.9 .5-.2 .5-3.3 .5 5.8 .5-2.3 .5-5.5 .5 3.3 .5 5.2 .5-.3 .5-2.7 .5-4.1 .5 3 .5 2.6 .5-1.4 .5-1.5 .5-.9 .5 3.2 .5-2.1 .5 1 .5 .4 .5 2.3 .5-3 .5 .1 .5-4.3 .5 6 .5-.5 .5-1.9 .5-4.7 .5 3.5 .5 1.3 .5 4.2 .5-3.2 .5 .4 .5 0 .5 1 .5-5.1 .5 .5 .5-.7 .5 1.8 .5-.2 .5 1 .5-2.4 .5 2.3 .5-2.1 .5 6.2 .5-5.6 .5 6.3 .5-1.8 .5-6 .5 4.5 .5-.8 .5-4.5 .5 4.5 .5-1.6 .5 .9 .5-2.5 .5 1.6 .5 .9 .5-1.2 .5-1 .5 .9 .5-1.8 .5 2.8 .5-6.1 .5 8.5 .5-3.1 .5 .8 .5 .8 .5-4.5 .5 7.4 .5-7.2 .5 3.3 .5-.3 .5 2 .5-2.8 .5-3.1 .5 3.7 .5-6 .5 4.8 .5-.6 .5 4.3 .5-4 .5-.4 .5-.7 .5-.2 .5 .6 .5 2.4 .5-4.2 .5 2.4 .5-2.8 .5 2.8 .5 .7 .5-3.1 .5 1.4 .5 1.4 .5 1.4 .5 .4 .5-2.4 .5-1.9 .5-1.4 .5 5.1 .5 1.3 .5-2.2 .5 2.5 .5-4.4 .5 .1 .5 4.2 .5-5.6 .5 3.5 .5-.5 .5-.6 .5 3.4 .5-5.7 .5 1 .5-3.7 .5 2.3 .5 1.1 .5 .3 .5 .3 .5 1.1 .5-2.1 .5-2.9 .5 4.6 .5 .5 .5-3.4 .5 .7 .5 5.6 .5-1.6 .5 .1 .5-1 .5-1.2 .5-1.4 .5 2.3 .5-1.7 .5-.6 .5 1 .5-.2 .5 2.1 .5-4.1 .5 7.6 .5-7.8 .5 1.3 .5 3 .5-4 .5 .8 .5 1.1 .5-5.6 .5 4.3 .5-1 .5 1.5 .5 1.7 .5 .3 .5 1.8 .5-.1 .5-1 .5-2.4 .5 2.4 .5-4.6 .5 2 .5 3.4 .5-1.5 .5-4.9 .5 1.8 .5 3.3 .5-.7 .5 1.1 .5-6.4 .5 1.1 .5 2.2 .5-1.7 .5 2.1 .5 .1 .5 .7 .5-1.1 .5 1.6 .5 .4 .5-1.4 .5-3.1 .5 5.6 .5-2.5 .5 .5 .5-.6 .5-4.1 .5 4.9 .5-2.8 .5-1.3 .5 5.6 .5-3.6 .5 1.3 .5 1.3 .5 1.7 .5-7.8 .5 2.3 .5 3.2 .5-3.1 .5-4.1 .5 5.9 .5 .2 .5 1.2 .5-1.3 .5-1.6 .5 1.5 .5-.6 .5-1.1 .5 1.7 .5 .2 .5-3.2 .5 4.6 .5-.5 .5-.1 .5-7.5 .5 5.9 .5-.6 .5-2 .5 3.5 .5-4.8 .5 6.3 .5-2 .5-2.1 .5 4.4 .5-2.3 .5-.3 .5-3.8 .5 4.2 .5 2 .5-.8 .5-5.6 .5 6.2 .5 .4 .5-1.8 .5-2.8 .5-2.7 .5 1.3 .5 .8 .5 1.9 .5 .6 .5-3.1 .5-2.1 .5 2.8 .5-2.2 .5 6.2 .5-6.1 .5 4 .5 .7 .5-4.3 .5 4.7 .5-2.8 .5-1.6 .5-.4 .5 2.4 .5 2.3 .5-7.1 .5 5.9 .5-1.9 .5-1.5 .5 1.5 .5 .2 .5-.2 .5 2 .5-4.1 .5 6.8 .5-2.6 .5-3.6 .5-3.2 .5 4.5 .5-1 .5 2.7 .5-.1 .5 2.8 .5-4.9 .5 2.1 .5-2.9 .5 0 .5 4.6 .5-4.1 .5 0 .5-.6 .5 1.6 .5 .6 .5-1.8 .5-2.6 .5 3.6 .5-2.9 .5 1.1 .5 1.3 .5 0 .5-6.3 .5 9.7 .5-2.2 .5 2.7 .5 1.3 .5-8.5 .5 .9 .5 1.9 .5 1.6 .5-3.6 .5 .4 .5 3.3 .5-4.9 .5 2.6 .5 2.1 .5-3.4 .5 2.5 .5-2.3 .5-3.8 .5 2.5 .5 .7 .5-.4 .5 .8 .5 .8 .5-.4 .5-.4 .5-1.7 .5 .4 .5-.5 .5-.7 .5 4.8 .5-8.3 .5 5.2 .5-4.9 .5 2.5 .5 3.3 .5-2.8 .5 4 .5-6 .5 1.5 .5-1 .5 1.4 .5-1 .5-.3 .5 1 .5 2.4 .5-2.5 .5-.4 .5-1.1 .5-1.2 .5-2 .5 .9 .5 2.6 .5-5.1 .5 6.3 .5-2.8 .5-1.5 .5 .9 .5 2.9 .5-.8 .5-.4 .5 3.7 .5 1.4 .5-9.3 .5 5.5 .5-4.3 .5-1.6 .5 2.1 .5 3.9 .5-3.5 .5-.4 .5 4.8 .5-2.3 .5-1.6 .5 4.9 .5-3.5 .5-3.1 .5-1 .5 1.8 .5 1.5 .5 2 .5-.3 .5-1.9 .5-3.3 .5 5.4 .5-2.1 .5-3.1 .5-.4 .5 3.8 .5 .3 .5 1.2 .5-5.3 .5 8.2 .5-9.8 .5 4.6 .5 3.7 .5-.8 .5-5.3 .5 4.1 .5 1.7 .5-1.3 .5-4.6 .5 7 .5-8.7 .5 4.4 .5-3 .5 1.7 .5 .3 .5 2.2 .5-4.7 .5 3.9 .5 2.9 .5-3.3 .5 1.3 .5-.3 .5-3.2 .5 1 .5 1.1 .5 1.2 .5 4.2 .5-1.1 .5-5.6 .5 0 .5-1.5 .5-3.5 .5 9.7 .5-2.1 .5-6.7 .5 5.3 .5 6.4 .5-5.1 .5 .1 .5-.8 .5-2.6 .5-1.1 .5 .9 .5 2.7 .5-1 .5 2.5 .5 3 .5-3.2 .5 .7 .5-3.2 .5-2.5 .5 9.5 .5-3.9 .5 1.3 .5-4.2 .5-3.6 .5 8.4 .5-9.6 .5 5.5 .5-.9 .5 2.1 .5 1.7 .5 .1 .5-8 .5 8.6 .5-8 .5 7.3 .5-3 .5-1.9 .5 1.8 .5-2.2 .5 3.8 .5 2.7 .5-.3 .5-2 .5 3 .5-1.6 .5 4.8 .5-4.5 .5-3.1 .5 1 .5-1.3 .5 1.4 .5 .5 .5 2.5 .5 .3 .5-1.9 .5 1.1 .5-3.2 .5 .6 .5-5.2 .5 4.8 .5 .8 .5 8.7 .5-10.9 .5 4.1 .5-1 .5-3.5 .5 5.3 .5-.6 .5-4.1 .5-2.4 .5 6.6 .5-3.9 .5 6.2 .5-2.7 .5 2.4 .5-2.3 .5 5.4 .5-2.4 .5 2.5 .5-4 .5-3.2 .5-1.1 .5 2.8 .5 2.3 .5-2.6 .5 9.1 .5-7.3 .5 1.6 .5-1 .5-3.9 .5 6.8 .5-1.1 .5 .7 .5-5.2 .5 2.8 .5-.1 .5 3.6 .5-7.5 .5 6.1 .5 1.8 .5-4.9 .5-1.2 .5 6.4 .5-3.2 .5 2.7 .5-1.1 .5 1 .5-3.7 .5-5.8 .5 8.2 .5-3.8 .5 3.9 .5-3.4 .5 6.5 .5-5.6 .5 3.3 .5 .8 .5-3.5 .5 1.2 .5-1 .5-2.8 .5 7.4 .5-7.3 .5-2 .5 3.3 .5 2 .5-.2 .5-1.2 .5-.4 .5-5.2 .5 8.6 .5 3.5 .5-7.7 .5-3.3 .5 8 .5-2.9 .5-7.2 .5 5.4 .5-2.2 .5 .9 .5 10.1 .5-3.2 .5-3.6 .5 .6 .5 5 .5-8.5 .5 5.9 .5-4.4 .5 4.7 .5-1.9 .5-3.1 .5 5.8 .5-1.6 .5 4.2 .5-7.3 .5 1.8 .5-2.7 .5 6.3 .5-6.5 .5 2.5 .5 4.3 .5-2.5 .5-.8 .5-.1 .5 .3 .5 1 .5-3.1 .5-5.6 .5 11 .5-7.9 .5 9.7 .5-5.2 .5 7 .5-4 .5-2.5 .5 1.7 .5-7.8 .5 5.3 .5-1.8 .5 1.2 .5-7 .5-.5 .5 9.9 .5-2.3 .5-1.7 .5 1.2 .5-1.9 .5 .6 .5 4 .5-3.2 .5 3.2 .5-4.8 .5-3.8 .5 3.9 .5 1.8 .5-3.4 .5 2.5 .5-.4 .5 5 .5-.3 .5 .8 .5-6.5 .5 3.9 .5 3.3 .5-3.9 .5-.9 .5-2.5 .5 5.7 .5-2.4 .5 2.9 .5-4.1 .5 7.8 .5-7.4 .5-4.3 .5 5.1 .5 .9 .5 2.9 .5-6.3 .5-.3 .5 .9 .5-.4 .5-6.3 .5 10.2 .5 1.8 .5-7.3 .5-.8 .5 3 .5-2.5 .5 5.8 .5-5.2 .5 4.4 .5-6.8 .5-.6 .5-.6 .5 .4 .5 6.6 .5 1.4 .5-2.6 .5 0 .5-9 .5 11.9 .5-8.9 .5 9 .5 3.7 .5-9.2 .5 1.6 .5-.6 .5-7.8 .5 0 .5 .9 .5 2.3 .5 1.7 .5-3.6 .5 2.7 .5-7.1 .5-4.5 .5 4.2 .5-1.6 .5-6.4 .5 7.8 .5-8.9 .5-.5 .5 2.2 .5-6.2 .5 5.1 .5-2.1 .5-.9 .5-2.9 .5-2.8 .5-2 .5 3.1 .5 3.2 .5-3 .5-2.4 .5 1.7 .5 .6 .5-10.4 .5 4.1 .5 4.2 .5-7.5 .5 .3 .5 3.7 .5-3.5 .5 5.1 .5-6.1 .5 3.2 .5 6.5 .5-4.9 .5-9.6 .5 1 .5 0 .5 3.5 .5-5.2 .5 7.4 .5 4.3 .5-.5 .5-8.8 .5 1.9 .5 .1 .5-1.9 .5 9.7 .5-8.8 .5-1.4 .5 5.9 .5 .1 .5 4.8 .5 .4 .5-6.2 .5-6.9 .5 10.8 .5 .8 .5 4.1 .5-12.4 .5 1.9 .5 10.7 .5 .6 .5-.8 .5-4.6 .5 5.4 .5-6.5 .5-2.2 .5 4.9 .5 1.1 .5 3.1 .5 1.5 .5-10.2 .5 8.1 .5 1.2 .5-6.1 .5 4.2 .5 1.7 .5 1.9 .5-4.4 .5 1.4 .5-1.4 .5 5.9 .5-2.1 .5-.5 .5 5.1 .5-2.6 .5-3.5 .5 9.3 .5-.2 .5-1.5 .5-5.2 .5 8.5 .5-6 .5-4.4 .5 6.9 .5 7.7 .5-8.1 .5 4.3 .5 3.3 .5-4 .5-1.5 .5 1.6 .5 2.5 .5-3.7 .5 3.5 .5 1.2 .5-3.2 .5 4.4 .5-.3 .5-3.1 .5 .8 .5 1.3 .5-.8 .5 0 .5-2.9 .5 4.3 .5 2.5 .5-.3 .5-5.4 .5 5.2 .5 .3 .5-5.6 .5 5.4 .5-2.6 .5-.7 .5 2.3 .5-1.6 .5-7.4 .5 9 .5-4.8 .5 3.8 .5 2.9 .5-3.4 .5-.7 .5 2.1 .5 1.4 .5-4.9 .5 .8 .5 4.2 .5 4 .5-5.9 .5 3.3 .5-5.9 .5 2.7 .5 .3 .5-5 .5 4.7 .5-.6 .5-8.3 .5 8.7 .5 1.4 .5-.2 .5 .3 .5-5.3 .5 1.4 .5 2 .5-2.4 .5 1.5 .5 6.2 .5-7.7 .5 2 .5 8 .5-7.2 .5-3.1 .5 4.6 .5-.2 .5-.1 .5-6.5 .5 7.1 .5 .4 .5 6.2 .5-4.9 .5-4 .5 2.8 .5 1.4 .5-2.9 .5 .4 .5 5.3 .5-3.2 .5 .2 .5-5.3 .5 5.2 .5-8.4 .5 11.5 .5-6 .5 4.1 .5 2.8 .5-8.9 .5 8.3 .5-3.3 .5 3.5 .5-5.4 .5-1.1 .5 7.3 .5-3.1 .5-1.2 .5-4.3 .5 9.1 .5-5.9 .5 .5 .5-1.6 .5 2.6 .5 2.3 .5-2.3 .5 0 .5-1.6 .5 7.5 .5 .5 .5-6.8 .5-2.1 .5 4.3 .5-6.8 .5 6.9 .5 .1 .5-.3 .5 5.3 .5 .9 .5-4.9 .5-2.8 .5 5.1 .5 .4 .5-8.3 .5 1.7 .5 1.8 .5-5 .5 2.1 .5 10 .5-10.4 .5 7.6 .5-5.8 .5 6.5 .5-2.3 .5 2.1 .5-8.2 .5 6.2 .5-3.1 .5 4.9 .5-.1 .5-1.9 .5-1 .5 .5 .5 1 .5-2.7 .5 .3 .5-.6 .5-1.4 .5 7.6 .5-8.5 .5 9.6 .5-2.1 .5-8.7 .5-.3 .5 6.7 .5-3.8 .5 4.4 .5 3 .5-2.1 .5-2 .5 .2 .5 6.1 .5-6.6 .5 7.7 .5 1.2 .5-8.6 .5 2.5 .5 5.2 .5-8.6 .5 4.2 .5 2.3 .5-7.5 .5 5.2 .5-.7 .5-2.3 .5 7.5 .5-5.9 .5 8.8 .5-5.5 .5-5.1 .5 3.6 .5-3.6 .5 5.8 .5-.5 .5-6.5 .5 2.9 .5 3.3 .5-1.4 .5-3.7 .5 7.6 .5 1 .5-10.1 .5 10.7 .5-12.6 .5 7 .5-1.8 .5 .5 .5 2.7 .5-4.8 .5 4 .5 6.5 .5-4.3 .5 3.8 .5-2.2 .5-8.8 .5 12.3 .5-3.2 .5-.6 .5-3.6 .5-.5 .5-1.7 .5 3.3 .5 1 .5-.8 .5 .1 .5-6.4 .5 4.4 .5 0 .5 4 .5-2.6 .5 0 .5 2.1 .5-2 .5 .8 .5 5.1 .5-4.5 .5-2.6 .5 5.5 .5 .8 .5-.5 .5-6.9 .5 8.2 .5-3.1 .5 .4 .5-.1 .5 1.4 .5 .2 .5 3.6 .5-4.3 .5-1.1 .5 2.7 .5-2.6 .5 4.4 .5-3.2 .5 2.1 .5-4.4 .5 5.5 .5-1.2 .5-5.2 .5 1.8 .5 1.7 .5-4.9 .5 .9 .5 5.7 .5 .1 .5 3.1 .5-9.3 .5 3.3 .5-5.8 .5 13.5 .5-10.8 .5 3.9 .5 7.7 .5-1.7 .5-8 .5 11 .5-6.2 .5-5.1 .5 4.6 .5 1.3 .5 .1 .5-9.5 .5 13.7 .5-11.7 .5 4.8 .5 5.7 .5-3.4 .5-1.4 .5-1.9 .5 4.1 .5 2.8 .5-6.5 .5 3.4 .5-2.6 .5-.1 .5-5.5 .5 7.9 .5 2.4 .5-3.6 .5 4.1 .5-2.9 .5 3.6 .5-3.5 .5-1.6 .5-.4 .5 2 .5 .8 .5-3.5 .5 2.1 .5-3.7 .5 0 .5 6.5 .5-.8 .5 1.7 .5-2.3 .5 .4 .5 5.1 .5-8.5 .5 3.7 .5 4.1 .5 1.5 .5-4.6 .5-2.1 .5-2.9 .5 2.9 .5 1 .5-.3 .5 1.5 .5 .3 .5-3.2 .5-1.2 .5 1.9 .5 2.3 .5 3.7 .5-9.9 .5 8.3 .5-4.1 .5 4.3 .5 2.4 .5-4.2 .5-4.8 .5 2.2 .5 2.4 .5-2.1 .5 .9 .5-2.1 .5 1.7 .5-1.2 .5 4.4 .5-1.6 .5 1.3 .5-6.8 .5 3.4 .5-.8 .5 .9 .5-1.2 .5 .4 .5 6.7 .5-5.3 .5-2.8 .5 2.7 .5 7.3 .5-4.4 .5-4.7 .5 2 .5 .5 .5 .3 .5-5.3 .5 2.5 .5 2.2 .5-4.3 .5 4.2 .5 .7 .5 2 .5 .7 .5-3.4 .5 1.1 .5 1.2 .5 .9 .5-2.5 .5-2.3 .5 3.7 .5 .7 .5-2 .5 1.2 .5 2.7 .5-5.6 .5-.5 .5-1.1 .5 3.8 .5 1.6 .5-3.8 .5 6.1 .5-6.4 .5 2.3 .5-1 .5 3.9 .5-5.3 .5 5.9 .5-4.7 .5-3.1 .5 2 .5 1.1 .5 4.7 .5-5.6 .5 1.2 .5 5.4 .5-5 .5-2 .5-.3 .5-2.1 .5 4.8 .5 2.2 .5-4 .5-1.8 .5 3.4 .5-.7 .5-.4 .5 1.4 .5-1 .5-1.1 .5 3.4 .5-7.1 .5 1.8 .5 2.1 .5-2.7 .5 7.1 .5-9.2 .5 7.1 .5-.3 .5-.6 .5 .2 .5-2.5 .5-.4 .5 5.2 .5-3.8 .5-3.2 .5 .5 .5-.7 .5 4.3 .5 2.1 .5-3.5 .5 1.1 .5-1.6 .5 3.4 .5-.1 .5 .1 .5 2.1 .5-7.2 .5 4.8 .5-5.5 .5 5.3 .5 .2 .5-.2 .5 .2 .5-2.2 .5-1.2 .5 3.3 .5-3.3 .5 3.1 .5-3.6 .5 2.7 .5-.1 .5-2.6 .5 1.2 .5 2.8 .5-2 .5 1.1 .5-2.5 .5 1.5 .5-3.6 .5 1.6 .5 4.5 .5-1.6 .5-1.2 .5 .3 .5-3.3 .5 3.9 .5-3.7 .5 1.1 .5 3.1 .5-3.2 .5 .5 .5 .9 .5 .4 .5 2.7 .5-6.7 .5 2.8 .5 2.2 .5-2.4 .5 .2 .5-.9 .5 1 .5 2.1 .5 1.2 .5-1.9 .5 2.1 .5-2.7 .5-3.7 .5 5.1 .5-5.9 .5 4.1 .5 .1 .5-2.3 .5 1.9 .5-.7 .5 1.4 .5-1 .5 1.9 .5-2.1 .5 2.1 .5-1.3 .5 .5 .5-.3 .5-1.2 .5 3.3 .5-1.2 .5-5.8 .5 2.1 .5 6 .5-4.1 .5 6 .5-4.5 .5 0 .5-1.9 .5 .5 .5 .8 .5 1.5 .5-1.7 .5-.3 .5-1.9 .5 1 .5 .1 .5 .6 .5-1.3 .5-.7 .5 1.5 .5-4.4 .5 1.9 .5 1.4 .5 2.5 .5-2.3 .5-.8 .5 3.6 .5-1.7 .5 3 .5-3.2 .5-1 .5 .6 .5 4.3 .5-.4 .5-2.9 .5 1.8 .5-4.9 .5 5.3 .5-1.8 .5-.9 .5 .2 .5 .4 .5-1.4 .5 .1 .5-1.7 .5 5.6 .5-5 .5 1.5 .5 2.3 .5 .4 .5 .4 .5-4.1 .5 .3 .5 .7 .5-3.6 .5 5.4 .5-5 .5 3 .5 2 .5-.1 .5-2.6 .5 2.7 .5 .3 .5-5.5 .5 2.8 .5 1.8 .5-.4 .5-1.3 .5 .2 .5 4.8 .5-5.4 .5 2.9 .5-4.5 .5 3.4 .5 1 .5-2.9 .5-.3 .5 4.9 .5-4.1 .5 2.5 .5-4.9 .5 6.3 .5-7.4 .5 2.2 .5 .6 .5 1.1 .5 .5 .5 2.8 .5 1 .5-.4 .5-2.1 .5-1.2 .5-4.5 .5 3.9 .5-.9 .5 2.4 .5-3.3 .5 .4 .5 .1 .5 2.8 .5-.9 .5-2.4 .5-1.4 .5 2.3 .5-.2 .5 .2 .5 1.3 .5 1.2 .5 .1 .5-2.8 .5-.2 .5 4.5 .5-3.5 .5 1.9 .5-1 .5 .4 .5 2.4 .5-3.6 .5 2.6 .5-1.1 .5-1.3 .5-.7 .5-.1 .5 3.3 .5-.3 .5-3.6 .5 2.5 .5-4.4 .5 3.7 .5 3.9 .5-6.4 .5 3 .5-1.8 .5 1.4 .5-2.3 .5 2.5 .5-5 .5 4.1 .5-.1 .5 .4 .5 4.2 .5-6.3 .5 .9 .5-1.3 .5 3.7 .5-1 .5-2.3 .5 4.1 .5-1.3 .5 2.3 .5-1.3 .5-1.4 .5-1.7 .5-2.7 .5 3.1 .5 3.4 .5-2.7 .5-1.2 .5 2.1 .5 1 .5 3.8 .5-7.2 .5 1.3 .5-1.6 .5 .8 .5 3.3 .5-2 .5-2.7 .5 5.5 .5 .8 .5-1.9 .5-3.5 .5-.1 .5 4.6 .5-4.5 .5 .9 .5-1.8 .5 6.6 .5-5 .5 1 .5-1.2 .5 .2 .5-1 .5 4.5 .5-3.5 .5 4.2 .5-5.4 .5 3.4 .5 1 .5-4.1 .5 2.7 .5-1.6 .5-1 .5 1.3 .5-2.9 .5 3.1 .5-2.4 .5 4.3 .5 1.7 .5-.2 .5-4.2 .5 1.2 .5 4.1 .5-1.3 .5-1.3 .5-5.4 .5 3.5 .5 5 .5-3.4 .5-1.8 .5 1.1 .5 4.5 .5-2.1 .5-5.1 .5 .3 .5 2.3 .5 2.5 .5-4 .5 .4 .5-3.7 .5 3.5 .5 2.4 .5 .1 .5-4.1 .5 4.4 .5-3.2 .5-1.2 .5 3.8 .5-4.2 .5 2.3 .5-.8 .5 1.4 .5 .7 .5-1.3 .5-.8 .5 .7 .5-3.6 .5 4.3 .5 4.3 .5-3.3 .5 1.6 .5-2.2 .5 .1 .5 .8 .5 .5 .5-.1 .5-2.8 .5 1.6 .5-2.9 .5 5 .5-2.1 .5-.5 .5-2 .5 3.5 .5 1 .5-1 .5 1.2 .5-3.6 .5 3.3 .5-1.8 .5-4.8 .5 5.3 .5-2.4 .5 1.6 .5-1 .5-.4 .5 3.8 .5-3.1 .5 1.4 .5 1 .5-2.1 .5-1.6 .5 2.5 .5-.3 .5-1.6 .5 2 .5 2.3 .5-.6 .5 1.2 .5-.3 .5-2.4 .5-.3 .5-2.1 .5 4.4 .5-3.4 .5 2.2 .5 2.1 .5-3 .5-3.1 .5 .8 .5 1.4 .5 3.2 .5-3.2 .5 .4 .5-1.9 .5 2.8 .5-.5 .5 1.4 .5-3.4 .5 3 .5-4 .5 1.4 .5 .3 .5 .6 .5 1.2 .5-5.3 .5 4.3 .5-.6 .5-1.8 .5 2 .5 1.4 .5-1.7 .5-.1 .5 2.3 .5-2.8 .5 3.5 .5-1.3 .5 .1 .5 .3 .5 1.2 .5-3.8 .5 3.6 .5-3.9 .5 2.4 .5 .5 .5-.9 .5-2.4 .5-.2 .5 .2 .5 2 .5 .4 .5 .7 .5-4 .5 3.5 .5 1.4 .5-1.7 .5-.3 .5 1.6 .5 1.4 .5-.2 .5 .1 .5-5.4 .5 5.2 .5-3.3 .5 2.2 .5-2.8 .5 1.8 .5-1.8 .5 .6 .5 4.1 .5-5.9 .5 4.1 .5-1.8 .5-2.2 .5 4.5 .5-2.4 .5-1.1 .5 1.6 .5-2.1 .5 4.6 .5-5.9 .5 1.8 .5-2.8 .5 4.1 .5 1 .5 .2 .5 1.1 .5-2.9 .5-.8 .5 2.4 .5-2.8 .5 1.7 .5-1.5 .5-.5 .5 1.1 .5 2 .5-.4 .5-1.4 .5-4.9 .5 4.6 .5 .5 .5 .3 .5-2.3 .5 2.9 .5-1.2 .5-4 .5 4.5 .5 1.5 .5-2.5 .5-1.9 .5 4.4 .5-1.5 .5-4.9 .5 4.7 .5-1.2 .5-.3 .5-3.5 .5 0 .5 2.9 .5 2.8 .5-3.1 .5-.2 .5-1.4 .5 .2 .5 2.2 .5-3.1 .5 4.1 .5-2.4 .5-.5 .5-.9 .5-1.2 .5 .6 .5-2.2 .5 2.2 .5-3.3 .5 6.2 .5-3.8 .5-2.5 .5 2.5 .5-.5 .5-1.3 .5 1 .5-2 .5 .8 .5-.4 .5 .7 .5-2 .5 1 .5-4.6 .5 5.1 .5-1.9 .5 .2 .5-1.8 .5 1.3 .5-2 .5-.2 .5-.9 .5-1.7 .5-1.3 .5 1.4 .5-.8 .5-2.1 .5 .9 .5-3 .5-.8 .5-.5 .5-2.1 .5-3.2 .5-3.2 .5-1.4 .5-2.6 .5 .7 .5-7.4 .5 4.7 .5-6.9 .5 .7 .5-3.6 .5-1.9 .5-5 .5 1.8 .5-3.3 .5-.1 .5-3.3 .5 1 .5-1.1 .5 2 .5 1.4 .5-.2 .5 2.5 .5 1.9 .5 1.1 .5 1.8 .5-.3 .5 7.1 .5 .9 .5 1.7 .5 3 .5 1.1 .5 2.4 .5 3.3 .5-1.2 .5 3.6 .5 2.5 .5-1.3 .5 2.2 .5 4.9 .5 2.7 .5-1.8 .5 1.5 .5-1.4 .5 4.3 .5-1.4 .5 .9 .5 1.1 .5-.9 .5 .4 .5 1.5 .5-1.1 .5 1.2 .5-2.7 .5 2.8 .5 2.7 .5 1.4 .5-.5 .5-1.9 .5 1.7 .5-1.3 .5 .1 .5 3.5 .5-1.9 .5 .4 .5 1 .5 1.4 .5-1 .5-.4 .5 1.1 .5-.4 .5-.2 .5-2.8 .5 2.3 .5 1.4 .5-1.2 .5 4.7 .5 .9 .5-.8 .5-4 .5 2.4 .5 0 .5 0 .5-3 .5 4.2 .5 1.4 .5-1.3 .5 2.2 .5-3.8 .5 1.7 .5 1 .5-3.5 .5 1.4 .5-.9 .5 2.7 .5-3.2 .5 2.4 .5-1.3 .5 2.4 .5-2.3 .5 .7 .5 .7 .5-1.6 .5 .5 .5 .4 .5-.4 .5 1.3 .5-1.7 .5 1.4 .5-.6 .5-.6 .5-.8 .5-1.3 .5 2 .5 2.1 .5-1.5 .5 3 .5-4.1 .5 1 .5-2 .5 4.5 .5-4.2 .5 3 .5-.2 .5 3.8 .5-2.1 .5-.9 .5-1.1 .5 2.9 .5-3.7 .5-1.5 .5 3.6 .5-1.6 .5-1.1 .5 1.7 .5 .3 .5-3.5 .5 4.3 .5 1.7 .5-4.1 .5-1.9 .5 3.1 .5-.7 .5 1.5 .5 .3 .5-1.8 .5 2.8 .5-6 .5 2.1 .5 1.6 .5 .3 .5-.8 .5 .9 .5-3 .5-1.8 .5 5.4 .5 .9 .5-2.3 .5-2.1 .5 .8 .5 2.3 .5-.7 .5 1.9 .5 .5 .5-.7 .5-2.5 .5 2.2 .5-1 .5-.5 .5-.1 .5-.5 .5-1.6 .5 2.4 .5-2 .5 1.2 .5 1.4 .5 0 .5-4.6 .5 2 .5-.7 .5 2.3 .5-1.8 .5 2.9 .5-2.4 .5 1.5 .5-2.5 .5 .4 .5 .8 .5 1.2 .5-4.4 .5 3.7 .5-2.7 .5 2.8 .5-3.4 .5 2.3 .5 2.8 .5 .5 .5-4.3 .5 4.6 .5-3.7 .5 .8 .5 .8 .5-.7 .5 .4 .5-.3 .5 1.1 .5-1.1 .5-1.2 .5-1 .5-.1 .5 1.7 .5 1.3 .5-.7 .5-1.1 .5 1.3 .5-1.8 .5 1.2 .5 .6 .5-1.5 .5 2.9 .5-.4 .5-2.4 .5 1.6 .5-.8 .5 .2 .5 0 .5 1.7 .5-1.7 .5 0 .5 1 .5 0 .5 1.4 .5-4.4 .5 2.6 .5-4.3 .5 3.2 .5-2.3 .5-.1 .5 2.1 .5-1.7 .5 1.4 .5-3.9 .5 6.7 .5-6.7 .5 3.2 .5 4 .5-5.2 .5 5.2 .5-1 .5-2 .5-.5 .5 .1 .5 .9 .5 1.2 .5 .6 .5-5.9 .5 5.1 .5-.4 .5-3.2 .5 3.7 .5 0 .5 0 .5-1.7 .5 1.4 .5 .8 .5-3.3 .5 .3 .5-.2 .5 3.1 .5-2 .5-1.3 .5-.6 .5-.4 .5 2.6 .5 1 .5 .8 .5-4 .5 .1 .5 0 .5 .2 .5-1.2 .5 5.2 .5-1.8 .5-1.7 .5-3.5 .5 6.7 .5-1 .5-1.2 .5 1.1 .5-2.5 .5 2.3 .5-2 .5 1.7 .5-1.1 .5-2 .5 .4 .5 3.7 .5-.1 .5-2 .5-.9 .5 .4 .5 1.4 .5-3 .5 4.1 .5-3.1 .5-.5 .5 1.9 .5 3.4 .5-4.5 .5 .6 .5-1.3 .5 2.4 .5 .1 .5-.4 .5-.6 .5 1.4 .5 .8 .5-2.1 .5 .4 .5-.5 .5 .2 .5 3.1 .5-3.7 .5 2.1 .5 1.6 .5-2.5 .5 1.9 .5 .4 .5-3.6 .5 4.3 .5-3.3 .5 2.1 .5-2.8 .5 0 .5 2.5 .5 3.3 .5 1.8 .5 .2 .5-2 .5-.1 .5-.6 .5-.1 .5-1.6 .5 0 .5 1.6 .5 .2 .5-1.7 .5-.9 .5 .9 .5 5.9 .5-5.6 .5 3.9 .5-.3 .5-.1 .5-2.9 .5 4.7 .5-2.9 .5-1.4 .5-.1 .5 1.1 .5 4 .5-5.9 .5 1.2 .5 1.2 .5 .9 .5-2.6 .5 .2 .5 .8 .5 2.1 .5-1.4 .5-.1 .5 .8 .5-.1 .5 1.4 .5-2.9 .5 1.3 .5-1.1 .5 2.3 .5 .2 .5-1.9 .5 2.5 .5-2.4 .5 2.7 .5-3.1 .5-.1 .5-1.9 .5 .8 .5 1 .5-3 .5 3.6 .5 1.4 .5-.6 .5-.6 .5 .8 .5-2.3 .5 .1 .5 2.3 .5-1.8 .5 1.9 .5-2.6 .5 1.9 .5 .9 .5-2.3 .5 3 .5-.3 .5-7 .5 8.5 .5-7.3 .5 7 .5-5.9 .5-2.2 .5 1.2 .5 3.1 .5-2.6 .5 .7 .5 3 .5-4 .5 2.6 .5 1.3 .5-5.6 .5 1.1 .5 2.4 .5-.5 .5 .5 .5-4.1 .5 1.9 .5 2.1 .5 .3 .5 1.1 .5-2.9 .5-.7 .5-.5 .5 0 .5-2 .5 6.5 .5-3.8 .5-.5 .5 0 .5 2.1 .5-.9 .5-1.6 .5 3.1 .5-1.3 .5-.9 .5 .3 .5 2 .5-.8 .5-1.4 .5 1.9 .5-5.6 .5 5 .5-2.7 .5 .3 .5 .7 .5 3.7 .5-3.5 .5 0 .5 1.3 .5-4.6 .5 3.2 .5 1.6 .5-3 .5 2.8 .5-2.3 .5-1.3 .5 4.2 .5-1.4 .5 1.2 .5-1 .5-2.1 .5 3.7 .5-1 .5 0 .5-1.4 .5-1.2 .5 4.5 .5-1.1 .5-1 .5-1.3 .5 3.4 .5-3.8 .5 .2 .5 5.1 .5-2.6 .5 .6 .5-.3 .5 2.4 .5-2.9 .5 .2 .5-2.3 .5 1.6 .5-2.7 .5 2.1 .5 .7 .5 1.3 .5 1.2 .5-3.6 .5-.6 .5 2.4 .5-1.9 .5 4.5 .5-.7 .5-3.9 .5 2.2 .5 1.9 .5-3.8 .5 .8 .5 .8 .5 2.6 .5-1.5 .5-1.2 .5 1 .5-.4 .5 .3 .5 .6 .5-.4 .5 .8 .5-1.1 .5-.4 .5 0 .5-2.2 .5 2 .5 4 .5-3.2 .5 1.1 .5 .6 .5-2.3 .5 .4 .5 1.5 .5-2.5 .5 3.3 .5-.3 .5-.8 .5 .1 .5 .9 .5-1 .5-4.4 .5 5.2 .5-2.4 .5 .8 .5 .2 .5 .1 .5-2.2 .5-.3 .5 3.2 .5 .3 .5 .7 .5-2.8 .5 1.7 .5 2 .5-2 .5-.3 .5 4.6 .5-6.4 .5 1.6 .5-.5 .5 1.1 .5 5.3 .5-6.1 .5 1.3 .5-.4 .5-.3 .5 2.8 .5-2.2 .5 2.8 .5 .6 .5-3.2 .5 3.3 .5-4.4 .5 2.7 .5 1.3 .5-3.6 .5 1.8 .5 1 .5 .2 .5-.3 .5 2.9 .5-3.7 .5 2.5 .5 1.6 .5-4.7 .5 .4 .5-1 .5 3.1 .5 1.3 .5-5.5 .5 1.5 .5 .6 .5 5 .5-4.4 .5 1.4 .5-2.8 .5 3.7 .5-3.3 .5 1.8 .5-1.6 .5 1.7 .5-.1 .5 .7 .5 .1 .5 2.8 .5-4.4 .5 3.7 .5-1.7 .5-.8 .5 .8 .5 0 .5 1.1 .5 0 .5-.3 .5-.6 .5-3.2 .5 4.3 .5 .5 .5-1.3 .5 0 .5-2 .5 2 .5 1 .5-3.7 .5 1.5 .5-.1 .5 3.1 .5-3 .5-2.3 .5 3.4 .5 2 .5-2.5 .5-.5 .5 1.1 .5 2.6 .5-3.4 .5 0 .5 1.2 .5-2 .5-1.6 .5 3.2 .5-.9 .5 1.2 .5-.3 .5 .7 .5-2.8 .5 2.4 .5-2.1 .5 2.2 .5-1.4 .5 3.7 .5-4.5 .5-2.4 .5 4.2 .5-1 .5-.8 .5 1.9 .5 2.5 .5-3.1 .5-1 .5 3.7 .5-.5 .5-1.9 .5-1 .5 2.2 .5-2.5 .5 .2 .5-.4 .5 2.4 .5 1.6 .5-2.5 .5 3 .5-6.5 .5 3.4 .5-2.9 .5 4.5 .5 .6 .5-5.3 .5 1.8 .5 1.4 .5-2.7 .5 1.1 .5-.3 .5 1.9 .5-1.5 .5-.7 .5 .6 .5 1.2 .5 .3 .5-.5 .5 2.4 .5-2.7 .5 .8 .5 .9 .5-1.6 .5 2.9 .5-1 .5 0 .5-2.8 .5 1.3 .5 1.2 .5 .8 .5-2.9 .5 .2 .5-1.3 .5-.3 .5 4.4 .5-1.9 .5 1 .5 .9 .5-1.9 .5 .3 .5-2 .5 .8 .5 1.7 .5 1.7 .5-.6 .5-3 .5-.1 .5 2.5 .5-.4 .5 .2 .5-.5 .5 1.7 .5-1.7 .5 2 .5-1.5 .5-.9 .5-1.9 .5 2.4 .5 1 .5-1.2 .5-2 .5-1.5 .5 2.7 .5 3.5 .5-4.9 .5 1.1 .5 1.1 .5 1.3 .5-3.3 .5 1.7 .5 .5 .5-2.5 .5 2.6 .5-2.4 .5 2 .5 .8 .5-.9 .5-2.3 .5 3.3 .5 .1 .5-1 .5 1.1 .5-2.1 .5-.7 .5 1.1 .5 1.1 .5 .7 .5-2.7 .5 1.6 .5-.1 .5-1.1 .5-2.6 .5 .5 .5 4.5 .5-4.2 .5-.5 .5 .6 .5 1.9 .5 2.7 .5-1.6 .5-1.4 .5 .3 .5 1.2 .5-.6 .5-3.1 .5 5.1 .5-.6 .5-3.3 .5 1.4 .5 1.1 .5-.2 .5-1.1 .5 .7 .5 3 .5-3.6 .5 2.2 .5-1.3 .5-2.3 .5 3 .5-.5 .5 1.4 .5 .7 .5-.9 .5-1.2 .5 .3 .5 .6 .5-2.8 .5-.4 .5 3 .5-3.2 .5 1.4 .5 3.5 .5-1.5 .5 .6 .5-2.2 .5 2 .5-3.3 .5 0 .5 1.1 .5-.9 .5 3.3 .5-2.5 .5-1.7 .5 3.5 .5-.3 .5 .8 .5-4 .5 .5 .5-2.4 .5 4.5 .5-.8 .5-.8 .5 3.2 .5-3.6 .5 .4 .5-.6 .5-.3 .5 1.7 .5-.3 .5-.3 .5-1.3 .5-.4 .5 1.3 .5 .9 .5-1.4 .5 .7 .5 .1 .5-1 .5-.9 .5 2.3 .5 2.9 .5-1.9 .5-1 .5-1 .5 .2 .5 2.9 .5-3.8 .5 5 .5-2.9 .5 .4 .5-1.1 .5 2.3 .5-.1 .5-2.8 .5 4.4 .5-2.8 .5-2.9 .5 3.4 .5-.3 .5-.2 .5 1.1 .5 .4 .5-3.9 .5 1.7 .5 .1 .5 .3 .5-3.1 .5 3.4 .5-.3 .5 3.2 .5-4.8 .5 .7 .5 1.6 .5-.8 .5 1.5 .5 .5 .5-3.5 .5 1.6 .5 1 .5-2.4 .5 5.1 .5-3.3 .5-.3 .5-2.9 .5 1.5 .5-2.3 .5 4.6 .5-2.6 .5 1.5 .5 .5 .5-.3 .5-1 .5 1.9 .5-3.2 .5-1.3 .5 .7 .5 3.8 .5 1.1 .5-3.6 .5 .2 .5 1.6 .5-2.9 .5 1.4 .5-1.6 .5 2.5 .5-4.4 .5 1.7 .5-.4 .5 2.8 .5 1 .5-.9 .5 3.6 .5-3.5 .5-1.7 .5 .8 .5 2 .5-.4 .5 2.9 .5-3.3 .5-2 .5-.3 .5 3.3 .5-5.7 .5 5 .5 .7 .5-2.2 .5 1.2 .5 1.8 .5 .4 .5-.2 .5-.7 .5-2 .5-1.8 .5-1.6 .5 6.8 .5-1.3 .5-4 .5 4.1 .5-2.7 .5-.1 .5-1.2 .5 5.6 .5-5.9 .5 .4 .5 3.2 .5 .2 .5-.5 .5-2.7 .5 1.4 .5-1.2 .5 .7 .5 4 .5-2.7 .5 .9 .5-2.9 .5 .6 .5 1.7 .5 1.3 .5-2.3 .5 2.8 .5 1.6 .5-7.3 .5 3.2 .5 1.1 .5-1.5 .5 3.2 .5-2.7 .5 .4 .5-3.4 .5 4.5 .5-2.3 .5 1.4 .5-1.3 .5-.7 .5 .9 .5-1.9 .5 1.7 .5 2.4 .5-.3 .5-3.3 .5 3.1 .5-2.1 .5-.5 .5 2.2 .5 .2 .5-2.4 .5 2.8 .5-1.7 .5 3.8 .5-6.4 .5 2.2 .5-.1 .5-1 .5-.9 .5 4.6 .5-1.7 .5-2.9 .5 1.4 .5 .3 .5 1.3 .5-2.3 .5 4.3 .5-2.6 .5 2.5 .5-1.5 .5-1.5 .5 .2 .5 1 .5-.4 .5 .2 .5 .9 .5 .8 .5-4 .5-1 .5 1.2 .5 3.7 .5-2.4 .5-.8 .5 1.7 .5 .7 .5-3.3 .5 .3 .5 1.6 .5-.1 .5-1.1 .5 5.2 .5-1.8 .5-2.4 .5 1.4 .5-3.3 .5 3.8 .5-2 .5-.9 .5-1.2 .5 3.9 .5-1.4 .5-1.1 .5 2.8 .5-2.2 .5 .9 .5-1.3 .5 1.5 .5-2.7 .5 1.3 .5 .8 .5-1.6 .5 .5 .5 2.2 .5-2.1 .5 2.7 .5-1.1 .5-.7 .5-2.6 .5 5.2 .5-.1 .5-2 .5-.3 .5-.1 .5-.9 .5 .3 .5 1.2 .5-3.4 .5 2.6 .5 .8 .5-3.8 .5 1.9 .5-1.6 .5 .2 .5 3.4 .5-3 .5 6.5 .5-4.8 .5-1.1 .5 .9 .5 .5 .5 .5 .5 .1 .5-.1 .5 1.4 .5 .2 .5-2 .5 .6 .5-2 .5 .3 .5 .4 .5 3 .5-3.6 .5 1.6 .5-.2 .5 1.2 .5-2.4 .5 .3 .5 2.6 .5-1.4 .5-1.4 .5 3 .5-1.9 .5-1.1 .5 2.5 .5 1.5 .5-3.8 .5-1 .5-2.4 .5 7.3 .5-4.1 .5 .4 .5-1.2 .5 1.4 .5-1.5 .5 4.5 .5-1.5 .5-2.1 .5-1.2 .5 3.1 .5-2.5 .5 3.7 .5-1.7 .5-.6 .5-2 .5 2.5 .5-2.7 .5 4.3 .5-5.5 .5 2.8 .5 4.8 .5-5 .5 2.1 .5 .6 .5-1.2 .5-.9 .5 2.1 .5 0 .5-2.8 .5 3.7 .5-.4 .5-4.1 .5 2.7 .5 .1 .5-.7 .5-1.4 .5-1 .5 3 .5-3.7 .5 1.8 .5-2.4 .5 2.1 .5 1.5 .5-2.7 .5 3.8 .5 .3 .5-.9 .5 .4 .5 1.4 .5-1.2 .5-4.3 .5 2.7 .5-1.2 .5 1.5 .5-3 .5 3 .5-.5 .5 1.4 .5-2.6 .5 1.2 .5-3.2 .5 3.3 .5 .2 .5-2.2 .5 2.3 .5-2.4 .5 3.2 .5-2.3 .5 .7 .5 3.6 .5-1.9 .5 1.7 .5-.9 .5-1.9 .5 2.8 .5-2.2 .5-.5 .5-.7 .5-1.3 .5 3 .5-1.3 .5 1.1 .5-.9 .5 1.2 .5-2.1 .5 1.5 .5 1.3 .5 .5 .5-2.2 .5-1.6 .5 4.2 .5-.5 .5-3.2 .5 3.4 .5-1.3 .5-2.5 .5 1.8 .5-2.4 .5 1.5 .5 0 .5 .5 .5 2 .5-4.4 .5-2.2 .5 5.9 .5-1.7 .5 2.1 .5-.1 .5 1.4 .5-6.3 .5 6.1 .5-2.8 .5-.8 .5 3.6 .5-.6 .5-4.5 .5 1.3 .5 3.6 .5-4.9 .5 3 .5 .3 .5-1.2 .5-.6 .5 2.2 .5-1.7 .5-1.3 .5 2.7 .5-3.7 .5 1.8 .5 1.6 .5-3.2 .5 4.9 .5-1.9 .5-.7 .5-1.7 .5 2.1 .5-.9 .5 1.2 .5-1.6 .5 1.4 .5-3.1 .5-.1 .5 1.3 .5-2.2 .5 3 .5 .5 .5-3 .5 2.5 .5-.8 .5-.1 .5 3.4 .5-2.9 .5 .6 .5-1 .5 .1 .5 .7 .5 .3 .5-.5 .5 2.2 .5-2.2 .5 .2 .5 3.2 .5-2.6 .5 1.1 .5-.3 .5-1.8 .5 2.9 .5-1.8 .5-.2 .5-.1 .5 .5 .5 .8 .5-5.1 .5 6 .5-5.9 .5 1.4 .5 3.2 .5-1.5 .5 1.5 .5-3.2 .5 2.1 .5 .9 .5-2.4 .5 .1 .5 1.5 .5 .6 .5-5.1 .5 3.7 .5 1.1 .5 2 .5-4.5 .5 2.1 .5-2.1 .5 .3 .5 .5 .5 4 .5-1.9 .5 .7 .5-1.9 .5 2.1 .5-1.8 .5 1.2 .5-3.8 .5 1 .5 2.7 .5 2.6 .5-.4 .5-5.1 .5 1.4 .5-.1 .5 4.6 .5-5.5 .5 1.7 .5 1.7 .5-.9 .5-3.4 .5 5.7 .5-7.2 .5 4.1 .5-1.2 .5-1.8 .5 1.8 .5 0 .5-1.4 .5 1.1 .5 .5 .5 .7 .5-4.1 .5 2.8 .5 1.1 .5 1.6 .5 .2 .5-5.1 .5 2.1 .5 1.5 .5 .9 .5 1.7 .5-3.6 .5-1.7 .5 2.3 .5 .4 .5-1.6 .5-.5 .5 2.7 .5-3.4 .5 1.3 .5 1.5 .5-.2 .5-.2 .5-1.8 .5-2.8 .5 2.9 .5 2.7 .5 .4 .5 1.1 .5-1.8 .5 1.6 .5-2.6 .5 .9 .5 2.9 .5-4.9 .5 .2 .5 3.1 .5-.6 .5-4.4 .5 5.2 .5-3.6 .5 .1 .5 3 .5-1 .5 .1 .5 1.6 .5-.8 .5-6.2 .5 5 .5 .7 .5-1.2 .5-.5 .5 .9 .5 0 .5-.6 .5-.1 .5-1.7 .5 2.1 .5-1.5 .5 2.7 .5-2.4 .5 .3 .5-1.6 .5 1.8 .5 1.4 .5-3 .5 4 .5-1.9 .5-.5 .5 1.6 .5-.7 .5-4 .5 5.2 .5-.7 .5-1.2 .5-4.2 .5 0 .5 1.1 .5 4.6 .5 .2 .5-1.5 .5-.2 .5-4 .5 3.9 .5-1.6 .5 1.4 .5-1.5 .5 3.2 .5-2 .5 1.2 .5-.7 .5-1.2 .5-1.4 .5 .4 .5 .7 .5 1.7 .5 3.4 .5-2.8 .5-.9 .5 1.8 .5-3.6 .5 2.5 .5 0 .5-4.4 .5 4.4 .5-1.6 .5 .9 .5-.3 .5 .7 .5-1.6 .5 2.9 .5 .2 .5-3.5 .5 2.2 .5-.8 .5 2.6 .5-3.6 .5 1.6 .5-.6 .5-2.2 .5 4.5 .5-1.5 .5-2.6 .5 3.6 .5 .3 .5-4.5 .5 2.3 .5-.1 .5 .2 .5 .2 .5-.6 .5-2.4 .5 3.2 .5-2.4 .5 1.3 .5 1.9 .5 2.4 .5-.8 .5-3.7 .5 .9 .5 2.8 .5-1.4 .5 .6 .5-3 .5 2.5 .5 .2 .5 1.2 .5 .8 .5-4.3 .5 3.7 .5-3 .5 .6 .5 2.5 .5-2.2 .5 .6 .5 2 .5 1.1 .5-2.8 .5-3 .5 2.1 .5-1.3 .5 .3 .5 1.3 .5-1.2 .5 .5 .5-.2 .5-.1 .5-3.1 .5 2.9 .5 .1 .5 3.1 .5-1.3 .5-1 .5-1.5 .5 2 .5-3.5 .5 3.8 .5-2.4 .5 0 .5 3.3 .5-2 .5-.3 .5-1.8 .5 4.5 .5-6.6 .5 5.2 .5-.4 .5 .4 .5-1.9 .5-.7 .5 5 .5-2.3 .5 .9 .5-4.5 .5 4.7 .5 .9 .5-1.2 .5-4.4 .5 1 .5-2.3 .5 4.8 .5 1.3 .5-1.2 .5-1.4 .5-.7 .5 3.1 .5-3.2 .5 5.2 .5-2.4 .5 1.6 .5-2.2 .5-.6 .5 1.4 .5-2.3 .5 1 .5 .2 .5-1.4 .5 2.6 .5-2.9 .5-1.4 .5 2.9 .5 .3 .5-.3 .5 .5 .5 .4 .5 .2 .5-.4 .5-.1 .5-2.7 .5 3.7 .5 1 .5-2.4 .5-.7 .5 3.1 .5-2.6 .5 1.5 .5 .5 .5 1.2 .5 2.5 .5-4.7 .5-4 .5 4.7 .5-1.6 .5 2.6 .5-.5 .5 1.1 .5-1.7 .5 1.7 .5-2.5 .5 2.3 .5-3.3 .5 .4 .5 1.4 .5 1.4 .5-2.8 .5 1.7 .5 1.2 .5 .1 .5-3.2 .5 5.3 .5-3.9 .5 1.4 .5 2 .5-4 .5-2 .5 5.6 .5-4.7 .5 2.8 .5-1.7 .5 5 .5-2.7 .5 2.5 .5-2.2 .5-1.9 .5 2.6 .5-3.4 .5 .9 .5 2.7 .5-.3 .5-3 .5 1.4 .5 0 .5-1.9 .5 4.4 .5-4.3 .5 2.1 .5 .2 .5 .2 .5-4.5 .5 4.7 .5-1.4 .5 3.6 .5-5 .5 4.4 .5-.7 .5-2.4 .5 1.9 .5 .8 .5-3.4 .5-.8 .5 2.5 .5 1.9 .5-.5 .5-.4 .5-1.2 .5 .2 .5 2.5 .5-.6 .5 2.1 .5-1.7 .5-.9 .5-.9 .5 .7 .5 2.8 .5-3.5 .5 .3 .5 1.1 .5 .4 .5 1.6 .5-2.6 .5 4.1 .5-3.7 .5 .3 .5 .2 .5 2 .5-.8 .5-1.3 .5-2.2 .5-.5 .5 2.9 .5 0 .5-.8 .5 .7 .5-1.6 .5 1.7 .5 1.9 .5-1.6 .5-.6 .5 .1 .5 1.5 .5-2.9 .5 .3 .5-.6 .5-1.7 .5 5.4 .5-1.1 .5-2.7 .5 4.7 .5-4.6 .5 2 .5-2.1 .5 3.8 .5-1.6 .5 .4 .5-.1 .5 2.9 .5-8.2 .5 3.3 .5 1 .5 .7 .5-1.1 .5 .1 .5 1.5 .5 .1 .5-2.6 .5 3.1 .5-2.1 .5 .3 .5 3.3 .5-1.1 .5-6.1 .5 4.7 .5 .4 .5-1.2 .5-1 .5 0 .5 0"/>
<path class="crv" stroke="#FF00FF" stroke-width="11.8" d="M213.6 536.9l.5 0 .5 0 .5-1.3 .5 .9 .5 1.4 .5-5.1 .5 6.3 .5-1.3 .5 11.2 .5-6.5 .5-1.2 .5 .9 .5-.6 .5-.6 .5 2.7 .5 3.3 .5-1.7 .5 4.3 .5-3 .5 1.2 .5 5.3 .5-2.6 .5-2.7 .5 1.5 .5 2.8 .5 4.8 .5-6.3 .5 .6 .5 4.3 .5-5.3 .5 2.3 .5 4.1 .5-.5 .5-1.1 .5 2.2 .5-9.2 .5 11.1 .5-5.6 .5-1.8 .5 6.2 .5 1.7 .5-3.2 .5-1.5 .5 3.6 .5 0 .5 4.7 .5-1.7 .5-1.4 .5 3 .5-3.6 .5-1.9 .5 4.8 .5 .2 .5-2.1 .5-1.4 .5 3.2 .5-7.7 .5 9.5 .5-.3 .5-6 .5 5.2 .5-2.7 .5 5.2 .5-7.9 .5 3.5 .5 4.9 .5 1.5 .5-9.3 .5 5 .5 2.5 .5-2.4 .5 6.5 .5-7.8 .5 4.6 .5-3.8 .5 7.2 .5-3.9 .5-.8 .5-3.6 .5 9.8 .5-2.5 .5 .2 .5 1.3 .5-2.1 .5-2.6 .5-.3 .5 .2 .5 6.2 .5-7.7 .5 2.6 .5 .9 .5 1.7 .5 1.1 .5-4.9 .5-1.2 .5 5 .5 3.5 .5-1.2 .5-1.3 .5-1.3 .5 1.8 .5-1.3 .5 3 .5-4.2 .5 2.6 .5-.5 .5 1.9 .5-.7 .5 6.2 .5-2.5 .5 .1 .5-9.4 .5 4.7 .5-.6 .5 3.2 .5-7.4 .5 9.3 .5-.1 .5-6.2 .5 1 .5 .6 .5 2.3 .5 1.7 .5 3.8 .5-5.7 .5 2.6 .5-1.5 .5 4.3 .5-2.5 .5 1.7 .5-6.2 .5 2.4 .5-1.5 .5 6.1 .5-2.1 .5-2.4 .5-.3 .5 2.5 .5-2.9 .5-.5 .5 3.7 .5 5.2 .5-6.8 .5-.7 .5-1.5 .5-.3 .5 4.8 .5 .9 .5-2 .5 .9 .5-.4 .5 .1 .5-4 .5 2.7 .5 1.5 .5-2.1 .5 .9 .5-.8 .5 1.3 .5 3 .5-3 .5 .7 .5 2.5 .5-.4 .5 2.7 .5-9.1 .5 7.2 .5-3.2 .5 1.6 .5 1.8 .5 .7 .5-.1 .5-2 .5 3.6 .5-4.5 .5 .4 .5 2.4 .5-3.2 .5 6.6 .5-2.7 .5 2.9 .5-5.2 .5-.8 .5 1.4 .5 1.4 .5-3 .5 2.3 .5-.8 .5 3.9 .5-5.3 .5 4.1 .5-3.9 .5-.7 .5 .7 .5-1 .5 3.2 .5 2.1 .5-1.9 .5 1.1 .5 2.5 .5-3.2 .5-.1 .5-1 .5-3 .5 5.6 .5-5.8 .5 5.7 .5-1.5 .5 2.7 .5-2.7 .5-1.7 .5 2.9 .5-2.1 .5 1 .5 .6 .5-.4 .5 0 .5-1.4 .5 1.5 .5-4.4 .5 4.7 .5-2.4 .5 5.4 .5 .4 .5-7.3 .5 4.9 .5-.5 .5-2 .5 3.6 .5-2.2 .5-2.9 .5 3.5 .5 .4 .5 .6 .5-2.9 .5 4.2 .5 .4 .5-4.2 .5 1.2 .5 1.3 .5-1 .5 5.3 .5-3.4 .5-2.7 .5 .6 .5 1.7 .5 5.4 .5-5.5 .5 .7 .5 1 .5-1.2 .5 5.2 .5-6.2 .5 2.9 .5-1.2 .5 1.1 .5-3.9 .5 6.6 .5-4.2 .5 .4 .5-2 .5 .5 .5 2.9 .5 1 .5-.5 .5 1.1 .5-1 .5-1.5 .5 1.8 .5-.4 .5-1.5 .5 1.8 .5 1.3 .5-2.2 .5-1.3 .5 2.4 .5 2.7 .5-4.6 .5 .3 .5 0 .5 3 .5-6.6 .5 4.8 .5 1.8 .5-4.3 .5 5 .5-2 .5-2.3 .5 1.7 .5-3.7 .5 2.1 .5 5.1 .5-5.8 .5 5.9 .5-4.1 .5 2.4 .5-2 .5-4.9 .5 3.6 .5 1.7 .5-2.9 .5-.4 .5 3.7 .5-2.1 .5-2.2 .5 2.2 .5 3.3 .5-2.8 .5 3 .5 1.2 .5-3.1 .5-2.4 .5-.3 .5 2.7 .5 1.9 .5-1.3 .5 .6 .5-2 .5 1.6 .5-1.6 .5 .3 .5-2 .5-.5 .5 2.3 .5-1.3 .5 .3 .5 3.4 .5-1.6 .5 5.4 .5-3.2 .5-3.2 .5 2.9 .5-.8 .5-2.1 .5 3.7 .5-3.9 .5-3.5 .5 6.8 .5-2.9 .5 4.4 .5-4.4 .5-1 .5 5.5 .5-5.3 .5 2.6 .5 2.6 .5-2.7 .5-.4 .5 .4 .5 1.5 .5-3.3 .5 2.9 .5 0 .5 3.5 .5-5.4 .5-1.1 .5 3.3 .5-2.2 .5 1.4 .5-.3 .5 2.1 .5-3.7 .5 1.2 .5-4.8 .5 3.2 .5 4.9 .5-4.4 .5 0 .5-1 .5 3.5 .5-.7 .5-2.7 .5 3.7 .5-.8 .5 1 .5-2.8 .5 4.7 .5-2.6 .5-1 .5-.8 .5 .6 .5 2.2 .5-2.2 .5 2.6 .5-.9 .5 1.5 .5-1.1 .5-1.7 .5-3.5 .5 4.3 .5 .9 .5-1.2 .5 .8 .5-2 .5 .2 .5-1.1 .5 4.5 .5-2.3 .5-1.3 .5-1.6 .5 2.3 .5 3.1 .5-1.9 .5-2.2 .5 4.1 .5 0 .5-.9 .5-.3 .5 .7 .5-1.2 .5 .5 .5-3 .5 4.3 .5-2.4 .5 3.4 .5-7.6 .5 5.2 .5 .5 .5-2.5 .5 1.5 .5 .6 .5-.4 .5-2 .5 .7 .5 2.2 .5 .4 .5-2.1 .5-.1 .5 .3 .5 1.5 .5-3.9 .5-.5 .5 2.7 .5-2.3 .5 1 .5 1.2 .5 .8 .5-2.9 .5 3.5 .5-4.8 .5 4.3 .5-3.9 .5 .5 .5 3.6 .5-2 .5-.7 .5 .7 .5 1.6 .5-.9 .5 0 .5 2 .5-3.2 .5 .4 .5-.1 .5 3.2 .5-.4 .5 .6 .5-2.5 .5-.2 .5 1.9 .5-2.3 .5 2.2 .5-.2 .5-2.6 .5 1.1 .5 0 .5 3.4 .5 1.4 .5-4.8 .5 .2 .5-4.3 .5 4.7 .5-.4 .5-2 .5 3.4 .5-4.4 .5 2.6 .5 .6 .5-2.6 .5 4 .5 .3 .5-4.5 .5-.1 .5 3.8 .5-1.2 .5-2.2 .5 1.7 .5 .4 .5-.1 .5 1.8 .5-.8 .5 2.6 .5-.8 .5-1.3 .5 .8 .5 .4 .5-1.1 .5-3.7 .5 4 .5-1.5 .5 2.9 .5-2.9 .5 .8 .5-.3 .5 2.5 .5-2.8 .5-.9 .5 1.1 .5-1.4 .5 1.1 .5-.3 .5 .5 .5 3.2 .5-4.4 .5 .8 .5-.5 .5 1.7 .5-3.5 .5 .9 .5 1.2 .5 1.1 .5-1.1 .5-.8 .5-.7 .5 2.6 .5 1.7 .5-2.1 .5-.2 .5 .4 .5-2.6 .5 1.2 .5 .1 .5 1.1 .5-.7 .5-2.2 .5 4.4 .5 1.1 .5-3.7 .5 1.2 .5-.2 .5 1 .5-4.4 .5 6 .5-4 .5 3.3 .5-2.3 .5-.9 .5 .5 .5 2 .5-3.4 .5 .9 .5-.2 .5-2.4 .5 5.8 .5-1.3 .5-1.2 .5 2.3 .5-4.1 .5 1.7 .5 3.5 .5-1.5 .5-6.2 .5-.5 .5 2.8 .5 4.1 .5-3 .5 .5 .5 1.6 .5-2.9 .5 2.1 .5 1.1 .5-.6 .5-.1 .5-2 .5 2.2 .5-1.8 .5 3.3 .5 2.3 .5-6.3 .5-2.8 .5 3.4 .5 1.6 .5 1.3 .5 0 .5-3.6 .5 0 .5 4 .5-4.6 .5 4.2 .5-2.6 .5 2 .5-.2 .5 .2 .5 0 .5-3.5 .5 2.5 .5-.6 .5 .6 .5 1.8 .5-3 .5-.9 .5 0 .5 .8 .5 2.1 .5-3.1 .5 3.8 .5-1.7 .5-1 .5-2.2 .5 3 .5 .9 .5-4.8 .5 5.7 .5 .9 .5-2.6 .5 .3 .5 3.8 .5-2.4 .5-4.2 .5 1.7 .5-.3 .5 0 .5-4.4 .5 6.1 .5-2.7 .5 1.5 .5-.6 .5 2 .5-2.4 .5-1 .5 2.6 .5 1.7 .5-3.4 .5 3.3 .5-2.2 .5-1.6 .5 4 .5-4.7 .5 3.6 .5-3 .5 1.9 .5-3.4 .5 .7 .5 3.8 .5-1.8 .5-.3 .5-1 .5 1.7 .5-3.7 .5 .5 .5 1.9 .5-1.3 .5 .2 .5 1.2 .5-.2 .5-.2 .5 3.8 .5-1.4 .5 .4 .5-2.5 .5-1 .5-1.9 .5 2.2 .5-3.6 .5 3 .5 2.7 .5 1.7 .5-1.4 .5-3.7 .5 2.7 .5-2.6 .5 3.2 .5-1.9 .5 1.9 .5 3.3 .5-3.2 .5 2.8 .5-4.4 .5-1.1 .5 3.3 .5 .8 .5-4.6 .5 1.2 .5-3.1 .5 2.5 .5 2.1 .5-2 .5-1 .5-1.7 .5 3.6 .5 .8 .5-.5 .5-.7 .5-3.1 .5 6.1 .5-3.7 .5-.2 .5 1.7 .5-5.9 .5 4.2 .5-.1 .5 1 .5 1.9 .5-1.8 .5-4.7 .5 3 .5 1.1 .5-.2 .5-2.9 .5-.8 .5 4.4 .5-.4 .5-.8 .5-3.5 .5 7.1 .5-8.8 .5 4.4 .5 4.9 .5-4.6 .5 .8 .5-2.9 .5 5.1 .5-5.4 .5 3.1 .5-.3 .5-2.4 .5 3.9 .5-4.7 .5 1.4 .5 1.3 .5-.8 .5 1.8 .5 .9 .5-2.5 .5-.6 .5 0 .5 .3 .5 2.4 .5-2.2 .5 1.3 .5-1.1 .5-1.5 .5 3.4 .5-3.9 .5 2.1 .5 3 .5-5.3 .5 2.1 .5-3.2 .5 2.2 .5-2.1 .5 2.3 .5-.4 .5 1.4 .5 2.9 .5-2.7 .5 .7 .5-1.5 .5-.4 .5-1.3 .5-2 .5 3.8 .5 3.2 .5-2.4 .5-2.1 .5 4.5 .5-4.4 .5-.4 .5-1.3 .5 .5 .5 1.5 .5 4.6 .5-4.6 .5-1.8 .5 .9 .5 .7 .5-3.1 .5 3.8 .5 1.1 .5-.8 .5 .6 .5-4 .5-.9 .5 6.2 .5-.5 .5-5.5 .5 3.6 .5-.4 .5 1 .5-.7 .5-1.5 .5 1.4 .5-.1 .5-.5 .5-3.8 .5-1.4 .5 3.5 .5-1.8 .5 3.9 .5 1 .5-1 .5-1.4 .5 .9 .5 2.3 .5-4.1 .5 3.5 .5-.5 .5-1 .5 2.5 .5-4.7 .5 3.5 .5-4 .5 .3 .5-.7 .5 3.2 .5-3 .5 2.1 .5-2.6 .5 4.7 .5 1.6 .5-3.5 .5 3 .5-2.4 .5 3.4 .5-4.4 .5-3.7 .5 6.5 .5-3.5 .5-1.9 .5 .7 .5-2.1 .5 3.1 .5-2 .5 5.4 .5-1.8 .5-5 .5 .3 .5 2 .5-3 .5 3.9 .5 .1 .5-1.7 .5 .5 .5 2.2 .5 1.9 .5 .2 .5-3.2 .5 1.7 .5-3.5 .5 2.4 .5-3 .5 3.6 .5-4.3 .5 .6 .5 2 .5 1.2 .5-4.4 .5 1.9 .5 1.4 .5 .2 .5-2.4 .5 2 .5-.9 .5 3.6 .5-1.9 .5-4.2 .5-1.9 .5 4.9 .5 2.3 .5-2.2 .5 1.4 .5-3 .5-2 .5 4.6 .5-1.5 .5 1.2 .5-4.6 .5 3.3 .5-1.8 .5 3.1 .5-3.1 .5-.2 .5 0 .5 4 .5-2.8 .5-1.8 .5-.7 .5-.1 .5 5.5 .5-7.3 .5 2 .5 3.3 .5 1.1 .5-3 .5 2 .5-.2 .5 .5 .5-2.2 .5 3.5 .5-3.2 .5 2.8 .5-5.9 .5 4.5 .5-4.9 .5-.6 .5 4.3 .5-3 .5 2.8 .5-3.4 .5 5.9 .5-3.6 .5-2.7 .5 2.9 .5 1.5 .5-3.7 .5 2.8 .5 3.4 .5-2.7 .5-2 .5-1.3 .5 2.5 .5-4.7 .5-2.4 .5 4.2 .5-1 .5 6.3 .5-3.6 .5-2.6 .5-.5 .5 3.8 .5-3.1 .5 .6 .5 1 .5 .4 .5 0 .5 0 .5 2.7 .5 .9 .5-7.6 .5 9.2 .5-5.2 .5 2.5 .5-4.5 .5 2.4 .5-.3 .5-.2 .5 1.7 .5-.5 .5-3.7 .5 2 .5 1.9 .5-.1 .5-2.3 .5 .2 .5 .3 .5-2.2 .5-.4 .5 6.5 .5-4.4 .5 1.1 .5-1.9 .5 4.7 .5 1.1 .5-4.5 .5 1.7 .5-2.9 .5 5.8 .5-1.9 .5-4 .5 4.8 .5-2 .5 .2 .5-.1 .5-2.4 .5 .4 .5 2.7 .5-1.5 .5-2.1 .5 7 .5-5.2 .5-.7 .5-.3 .5 3.3 .5 .7 .5-1.7 .5 1.5 .5-5.4 .5 2.7 .5-.2 .5 1.2 .5 1.2 .5-5.8 .5 10.4 .5-7.6 .5 2.9 .5 1.2 .5 .2 .5-1.4 .5-6.4 .5 3.5 .5 4.4 .5-3.9 .5-.2 .5-3 .5 8.5 .5-1.6 .5-3.2 .5 1.9 .5 .1 .5-2.3 .5 2.1 .5 1.3 .5 .8 .5 1.7 .5-2.8 .5-1 .5 2.1 .5-2.3 .5-1.4 .5 5.7 .5-3.5 .5 1.3 .5 1.3 .5-4 .5 4.2 .5-.4 .5-1.2 .5 1.3 .5-2.7 .5-3.3 .5 4.6 .5-1.4 .5 4.3 .5-1.3 .5-1.8 .5 1.4 .5 3.2 .5-.4 .5-1.8 .5 .3 .5-1.6 .5 .4 .5 1.8 .5-1.6 .5 1 .5-3.3 .5-1.2 .5 0 .5 3 .5 4.3 .5-.3 .5-5.1 .5-1.3 .5 5.6 .5-.7 .5-4.3 .5 5.8 .5-2 .5 2.7 .5-2.3 .5 1.4 .5-1.3 .5-3.1 .5 1.8 .5-1.1 .5 3.7 .5-4.4 .5-1.3 .5 5.4 .5 1.2 .5 .7 .5-.8 .5-6.3 .5 2 .5 .4 .5 1.3 .5-5.2 .5 5.2 .5 .7 .5-2.9 .5 2.6 .5 2.6 .5-2.7 .5 2.5 .5-.1 .5-1.5 .5 0 .5-1.9 .5 4 .5-4.2 .5-.5 .5 3.5 .5-3.6 .5 2.9 .5 1.6 .5-2.4 .5 .1 .5 2 .5-.4 .5-5.7 .5 .6 .5 6.6 .5-2.3 .5-6.2 .5 1.9 .5 3.4 .5-2.5 .5 3.7 .5-1 .5 1.1 .5-4.2 .5 4.6 .5 3.4 .5-7 .5 5.4 .5-.9 .5-.8 .5-1.8 .5-2.8 .5 .8 .5 4.2 .5 .5 .5 .7 .5-.7 .5-.1 .5-3.4 .5-2 .5 3.6 .5 .8 .5-1 .5-4.2 .5 2.6 .5-2.5 .5 4.3 .5-3.1 .5 2.3 .5 1.3 .5-.5 .5 3.2 .5-6.4 .5-2.9 .5 8.2 .5 1.3 .5 .1 .5-3.1 .5 .7 .5-1.1 .5-3.7 .5 1.9 .5 2.9 .5-2.9 .5 6.6 .5-9.1 .5 2.9 .5 4.1 .5-4.5 .5-1.4 .5-.6 .5 1.7 .5 5.9 .5-2.9 .5 .3 .5-2.8 .5 3.7 .5-2 .5-2.7 .5 1.2 .5 1.8 .5 2.6 .5-3.3 .5 1.5 .5 4.1 .5-7.6 .5-1.2 .5 6 .5-1.4 .5-1.5 .5 1 .5-1.6 .5 2.3 .5-2.4 .5 3.1 .5-5.4 .5 1 .5 2.6 .5-1.7 .5 3.2 .5-2 .5-1.4 .5 2.1 .5-2.1 .5-2.9 .5 1.2 .5 .9 .5 .9 .5 1.5 .5 2.2 .5-1 .5 3.4 .5-1.4 .5-4.2 .5 5.1 .5-1.3 .5-4.6 .5 2.1 .5 2.1 .5-2.5 .5 2.1 .5-1.8 .5 .7 .5-3 .5 1.8 .5-2.4 .5 2.6 .5-7.1 .5 5.3 .5 2 .5-2.5 .5-2.4 .5 .8 .5-4.7 .5-.9 .5 .5 .5-.4 .5 2.2 .5-6.3 .5 4.4 .5-8.4 .5 1.3 .5 1.1 .5 2.4 .5-6 .5-5.3 .5 6.5 .5-2 .5-3.7 .5-.5 .5 .6 .5 1.9 .5 1.2 .5-6.4 .5 10.6 .5-6.9 .5-1.1 .5 2.8 .5-1.7 .5 6.2 .5-3.7 .5-4.3 .5-.1 .5-.5 .5 .4 .5 2.8 .5-3.8 .5 6.3 .5-4.9 .5-.3 .5 3.1 .5-8.4 .5 2.9 .5 4.2 .5-1.7 .5-.1 .5 1.1 .5-2.9 .5 1.1 .5-3.4 .5-1.5 .5 8.8 .5-6.2 .5 .5 .5 5.8 .5-1 .5-4.4 .5-.1 .5 1.2 .5-2.5 .5 4.2 .5-1.2 .5-.1 .5 1.7 .5-.1 .5 3.1 .5-.9 .5-8.8 .5 7.2 .5-5.5 .5-.8 .5 6 .5-3.7 .5 1.2 .5 4 .5-4.6 .5-.4 .5 3.5 .5 2.7 .5-1.7 .5-5.4 .5 2.7 .5 1.6 .5 5.9 .5-2.5 .5 .1 .5 1.2 .5-3.9 .5 2.4 .5 .2 .5-3.7 .5 2.8 .5 1.8 .5-4.3 .5 5.3 .5 0 .5 1 .5-4.7 .5 2.5 .5 3.8 .5-1.6 .5-4.1 .5 2.9 .5 3.4 .5-3.8 .5 1.3 .5 5.8 .5-6.5 .5-.1 .5-2.2 .5 1.1 .5 5.8 .5-4.1 .5-2.7 .5 .9 .5 2.6 .5 2.1 .5-3.8 .5 4 .5-3.1 .5 2.4 .5 .5 .5 .4 .5-2.6 .5 .8 .5 1.8 .5-4.6 .5 4 .5 1 .5 1.4 .5-2.7 .5-.3 .5 .9 .5-2.2 .5 1.5 .5 1.7 .5-.3 .5-3.4 .5 2 .5-4.6 .5 7.6 .5-3.4 .5 2.1 .5-3.4 .5 2.6 .5 1.4 .5 1.5 .5-6 .5 5.7 .5-2.6 .5-1.6 .5 3.3 .5-2 .5 0 .5-1.1 .5 2.4 .5-.5 .5-.6 .5-2 .5 1.1 .5 2.3 .5 2.1 .5-3.4 .5 3.6 .5-3.7 .5-2.9 .5 4.2 .5-4.2 .5 3.3 .5 1.4 .5-3.7 .5 .2 .5 6 .5-5.9 .5-.4 .5 .7 .5-2.8 .5-.7 .5 .3 .5-7.8 .5 8.2 .5-7.3 .5-1.5 .5 2.3 .5-3 .5-5.1 .5 1.3 .5-5.7 .5-1.6 .5-4.8 .5-1.4 .5-.3 .5-4.1 .5-3.1 .5-2.1 .5-5.9 .5-5 .5-2.5 .5 1.5 .5-6.5 .5-1.6 .5-2.5 .5-.2 .5 .2 .5-.5 .5 .9 .5 .4 .5 2.3 .5 5.7 .5 4.1 .5 3.8 .5 1.7 .5 1.7 .5 7 .5 3.6 .5-1.4 .5 8.6 .5 2.6 .5 5.4 .5-3.5 .5 2.2 .5 6.9 .5-3.7 .5 4.3 .5 .9 .5 1.7 .5-.6 .5 5 .5 3.7 .5-.2 .5 .9 .5-1 .5 4.6 .5-1.4 .5 1.6 .5-5.1 .5 4.5 .5-2.8 .5 3.6 .5 0 .5-2.6 .5 3.1 .5 2.3 .5-1.1 .5 .4 .5-2.9 .5 .6 .5-.7 .5 2.8 .5 2.4 .5-1.4 .5-.8 .5-2.2 .5 3.4 .5-1.2 .5-3.4 .5 .5 .5 3.1 .5-1.1 .5 5.4 .5-3.2 .5-2.1 .5 1.2 .5 4.5 .5-5.2 .5 3.7 .5-.6 .5 2.2 .5-1.8 .5-1.9 .5 2.1 .5-.9 .5 2 .5-2.1 .5 4.3 .5-4.2 .5 1.2 .5-2.2 .5 1.7 .5-.1 .5 .4 .5 1.6 .5-2.9 .5-.5 .5 4.1 .5-2.8 .5-.7 .5 3.8 .5-.7 .5-6.7 .5 4.5 .5 2.4 .5 .2 .5-2.7 .5 4.4 .5-4.8 .5 1.2 .5 .8 .5-.2 .5 1.8 .5 .5 .5-2.1 .5 3 .5-4.2 .5 1 .5 4.1 .5-3.3 .5 2.1 .5-3 .5 .4 .5 .4 .5 .6 .5-1 .5 .8 .5 1.4 .5 1.2 .5-2.2 .5 1.2 .5 .6 .5-4 .5-1 .5 6.7 .5-.6 .5-2.5 .5 .7 .5-2.6 .5-.9 .5 3.6 .5-3.6 .5 5 .5-3.2 .5 2 .5 3.5 .5-.1 .5-4.3 .5 2.8 .5-4.2 .5 .9 .5 2.1 .5 2.1 .5-3.9 .5 2.3 .5-.8 .5-2.7 .5 2.4 .5 3.4 .5-3.2 .5 1.3 .5 .8 .5-3.1 .5 4.1 .5 .6 .5 .3 .5-.5 .5-3.5 .5-.2 .5-.3 .5-.2 .5 .3 .5 3.8 .5 1 .5-4.2 .5 3.1 .5-4.2 .5 2 .5-1.3 .5-1.2 .5 3.5 .5 .2 .5-.9 .5-.2 .5-.8 .5 1.8 .5-.9 .5 1.8 .5-2.9 .5 3 .5 .7 .5 1.6 .5-.4 .5-1.6 .5-1.8 .5-2.2 .5 3.8 .5 2.9 .5 .6 .5-8.5 .5 3.7 .5 .9 .5-1.4 .5 2.6 .5-.3 .5-1.1 .5 1.1 .5-3.2 .5 1.3 .5 .2 .5 3.7 .5-5.1 .5 2.9 .5 2.1 .5-1.7 .5 1.8 .5-3 .5 2.2 .5 1 .5 2.7 .5-3 .5 1.4 .5-2.9 .5 .2 .5 3 .5-2 .5 1.7 .5-1.5 .5 2.9 .5 .5 .5-6.6 .5 5.5 .5-2.9 .5 .1 .5-1.3 .5 1.7 .5-3.7 .5 .7 .5-.1 .5 2.1 .5 1.2 .5-.4 .5-.9 .5-2 .5-2.5 .5 4.2 .5-.7 .5 .2 .5 2 .5-3.6 .5-.4 .5-4.8 .5 5.3 .5-1.8 .5-2.1 .5 1.4 .5-3.8 .5-.1 .5 3.9 .5-3.8 .5-1.1 .5-2 .5-1.8 .5-2.7 .5 2.6 .5-6.5 .5 0 .5-3.3 .5-1.5 .5-5.1 .5 .6 .5 6.9 .5 .1 .5-3.2 .5 1.7 .5 2.6 .5-1.8 .5 7.2 .5-4 .5 2.3 .5-1.9 .5 9.8 .5-1.3 .5 4.6 .5-4 .5 4 .5 .5 .5 1.2 .5 4.7 .5 1.1 .5-1.1 .5-3.1 .5 3.1 .5 1.3 .5-1.3 .5 .4 .5 0 .5-2.6 .5 2.5 .5 2.9 .5-5.1 .5 2.3 .5 1.6 .5-4.3 .5 2.5 .5-3.1 .5 2.3 .5-1.5 .5 1.1 .5 .8 .5 .5 .5 .2 .5-4.4 .5 8.1 .5-3.7 .5-1.6 .5 .9 .5 2 .5-2.7 .5 1.3 .5-.1 .5 2 .5-2.5 .5 2.4 .5-.2 .5-1 .5 2.9 .5-2.5 .5-2.4 .5 3 .5-.3 .5-.4 .5 .6 .5 4.3 .5-4.3 .5 .5 .5-1.5 .5 3.2 .5-2.8 .5-1.5 .5-.9 .5 3.5 .5 .4 .5-4.8 .5 1.7 .5 2.7 .5 .7 .5-4.8 .5 1.8 .5 2.5 .5-2.9 .5 .1 .5-.2 .5-1.7 .5 2.7 .5 .4 .5-3.5 .5 2.9 .5 2 .5-1.9 .5 1.4 .5-3.1 .5 3.8 .5-4.5 .5 5.3 .5-4.8 .5-.6 .5-.4 .5 .9 .5-.3 .5-.5 .5 .7 .5 1.9 .5 .4 .5-2.6 .5 3.1 .5-4.5 .5-.1 .5-.3 .5 3.4 .5-4.3 .5 .2 .5 5.4 .5 .8 .5-.8 .5-5.7 .5 3 .5 1.6 .5-1.4 .5-3.5 .5 2.6 .5-2.7 .5 .9 .5 6.8 .5-2.9 .5-4.3 .5 0 .5 4 .5-2.1 .5 2.4 .5-2.4 .5 1 .5 .9 .5-2.4 .5-1.7 .5 1.5 .5 1.1 .5 1.1 .5 .3 .5 .1 .5 1.3 .5-2.8 .5 4.7 .5 1.3 .5-3.2 .5-.2 .5 2.2 .5-1.1 .5-.8 .5-.6 .5-1.1 .5-.7 .5 3.7 .5 1.2 .5-4.4 .5 2.1 .5 .6 .5-1.2 .5-.5 .5 .8 .5-3.1 .5 3.9 .5-.4 .5 4.9 .5-2.3 .5-2.5 .5 .8 .5 3.5 .5-.2 .5-2.8 .5-.5 .5-2.6 .5 2.2 .5 .4 .5-1.1 .5 4.9 .5-7.1 .5 3.4 .5 1.1 .5 .1 .5 2.5 .5-6.1 .5 1.2 .5 1.7 .5 .1 .5-1 .5-.8 .5 3.6 .5-4.2 .5 1 .5 3.9 .5 .6 .5-1.7 .5-3.5 .5 0 .5-.1 .5-.4 .5 1.4 .5 3.3 .5-2.1 .5-1.9 .5-.1 .5-.8 .5 4.7 .5-6.4 .5 4.5 .5-3.4 .5 .7 .5-.9 .5 4.9 .5-2.1 .5 5.1 .5-7.1 .5-.1 .5 3.3 .5-.1 .5-1.7 .5-3.4 .5 6.8 .5-1.8 .5-.3 .5-2 .5 2.4 .5-2.4 .5 1.2 .5-.5 .5 2.8 .5-3.4 .5 .2 .5 2.8 .5-1.7 .5-.6 .5-.4 .5 2.3 .5-3.2 .5 2.2 .5 3 .5-3.2 .5-2.4 .5-.8 .5 2.6 .5-2.8 .5-.7 .5 1.6 .5-.7 .5 3.9 .5-4.6 .5 5.9 .5-4.6 .5 1.7 .5 1 .5-.9 .5 1 .5-3.4 .5-2.6 .5 4.1 .5-3 .5 2.2 .5 2.9 .5-2.2 .5-.8 .5-1.1 .5 1.6 .5 .2 .5-2.8 .5 3.7 .5-2.7 .5 2.5 .5-1.4 .5 2.9 .5-.3 .5-1.7 .5-.3 .5 1.1 .5 1.8 .5-.6 .5-1.8 .5 .3 .5 2.4 .5-6.3 .5 4.3 .5-2.9 .5 4.4 .5-3.6 .5 .7 .5-1.9 .5 2.1 .5 1.5 .5 1.8 .5-5.8 .5 1.6 .5 5.8 .5-3.1 .5-1.9 .5 1 .5-5.9 .5 8.1 .5-2.9 .5-3.1 .5 5.1 .5-3.5 .5-.8 .5 3 .5-.2 .5-1.7 .5 .8 .5-2.5 .5-.2 .5 4.6 .5 .8 .5-1.7 .5-.1 .5-1.5 .5 .5 .5-1.6 .5 5.3 .5-4.5 .5 1.9 .5-.8 .5-2.7 .5 6.5 .5-4.5 .5-.7 .5 1.7 .5-2 .5 1.9 .5-2 .5 3 .5-1 .5-2.7 .5 4.7 .5-1.6 .5-2.6 .5 2.9 .5 .2 .5 2.8 .5-5.3 .5 3.4 .5-1.9 .5 1.4 .5-1.7 .5 .4 .5 1.1 .5-3.2 .5-1.8 .5 4.1 .5-.8 .5 1 .5 1.1 .5-1.6 .5 2.8 .5-2.4 .5 .3 .5 1.4 .5-.4 .5-1.3 .5 .4 .5-1.7 .5 .3 .5 1.4 .5 1.4 .5-2.4 .5 2.5 .5 2.2 .5 .4 .5-4.1 .5 2 .5-.8 .5 .4 .5 .1 .5-.6 .5 .6 .5-1.2 .5-.9 .5 1.1 .5 .5 .5 1.4 .5-1.6 .5 .7 .5 1.4 .5-4.6 .5 1.3 .5 1.6 .5-1 .5-2 .5 3.9 .5-2 .5-1.8 .5 5.6 .5-6.1 .5 2.4 .5-1.2 .5 1.5 .5 .9 .5-2.7 .5 1.4 .5 0 .5-1.7 .5 4.3 .5-2 .5-.8 .5-.8 .5 .7 .5 .9 .5-1.1 .5 3.3 .5-7.3 .5 .7 .5 3.7 .5-3 .5 3.4 .5-1.1 .5 2.4 .5-.3 .5 1.7 .5-.7 .5 .7 .5-1.4 .5 1 .5-1.1 .5-2.1 .5-1.3 .5 .1 .5 3.3 .5-5.5 .5 4.9 .5-1.8 .5 2.9 .5-1 .5-1.9 .5 1.5 .5-4.4 .5 4.9 .5 .4 .5-4.5 .5 5.3 .5-1.9 .5 .5 .5-3 .5 3.9 .5-.1 .5-1.1 .5-1.9 .5 3.3 .5 1 .5-1.7 .5 1.2 .5-3.1 .5 1.4 .5 .4 .5-.4 .5 4.4 .5-3.9 .5-1.9 .5 2.6 .5-3.7 .5 2.8 .5 .7 .5-2.4 .5 .3 .5-1.2 .5 2 .5-1.6 .5 4.6 .5-2.1 .5-1.7 .5-2.3 .5 6.6 .5-1.5 .5-1.6 .5-.6 .5 0 .5-1.3 .5 4.5 .5-3.3 .5-3.2 .5 1.5 .5-3.8 .5 6.2 .5 .2 .5 1.9 .5 .6 .5-5.6 .5 2.3 .5 1 .5-.4 .5-2.6 .5 2.5 .5-.6 .5 1.6 .5-2.7 .5-.5 .5-.5 .5 .2 .5-.8 .5 .8 .5 1.5 .5-.1 .5 1.6 .5-.4 .5-1 .5-3.4 .5 3.2 .5 1.1 .5-4.8 .5 .4 .5 .2 .5-.2 .5 1.4 .5-1.2 .5 2.5 .5-3.1 .5 2 .5-.7 .5-1 .5 3.8 .5-1.9 .5 .9 .5-1.7 .5 2 .5-.2 .5-1.5 .5-3.1 .5 4.9 .5-.2 .5-1 .5 .1 .5-.3 .5 .2 .5-2.4 .5 1.9 .5 .7 .5-1.8 .5-.7 .5 5.4 .5-2.4 .5-1.8 .5-.3 .5-4 .5 2.1 .5 2.3 .5 2.9 .5-6.4 .5 2.6 .5 5 .5-2.4 .5-.5 .5 1.5 .5-2.5 .5-.1 .5 1.7 .5 .2 .5-3.7 .5 5 .5-6.3 .5 2 .5 6 .5-5.7 .5 2.3 .5-3.2 .5 1.2 .5-.7 .5 .6 .5 2 .5 2 .5-1.7 .5 1.3 .5-4 .5 3.8 .5-1.8 .5 1.5 .5-3.5 .5 .3 .5 3 .5-1.5 .5-1 .5-1.6 .5 1 .5 1 .5 .3 .5-2.6 .5 .3 .5 1.3 .5-3.1 .5 3.6 .5-2 .5-.5 .5-4.7 .5 1.2 .5 .7 .5 .5 .5-1.5 .5 2.3 .5-1 .5-1.3 .5-4.1 .5 5.9 .5-3.9 .5 .8 .5-3.2 .5 .3 .5 .4 .5-1.9 .5 .3 .5-3.3 .5 3.1 .5-8.6 .5 1.3 .5 1.7 .5-3.6 .5-1.6 .5-3.7 .5 4.4 .5-7 .5 3.4 .5-1.6 .5 .3 .5 .3 .5-4.9 .5-.8 .5 .4 .5-3 .5 4.7 .5-2.3 .5 1.3 .5-2.2 .5 2.7 .5-.5 .5 1.8 .5-1.1 .5 5 .5-2.1 .5-2.3 .5 7.1 .5-.6 .5 .1 .5 7.7 .5-3.6 .5-1.3 .5 2.6 .5 3.1 .5 0 .5 3.9 .5 .7 .5-2.5 .5 2.5 .5 2.1 .5-1.2 .5 .7 .5 3.3 .5-.1 .5-2.9 .5 2.2 .5 .8 .5 1.1 .5-.7 .5 4.3 .5-4 .5 .1 .5 2.8 .5-4.4 .5 2.6 .5 3.3 .5-3.5 .5 1.1 .5 3.9 .5-1.1 .5-.6 .5 .5 .5-1.7 .5 2 .5-.9 .5 5.2 .5-3.6 .5-1.6 .5 .6 .5 .2 .5-2.6 .5 1.1 .5 4.5 .5-5.6 .5 1.6 .5 3.1 .5 1 .5-4.8 .5 4.8 .5-3.5 .5 3.9 .5-2.2 .5-1.5 .5 2 .5-.3 .5-2.5 .5 5.5 .5-4.7 .5 2.9 .5-3.1 .5-2.5 .5 1.3 .5 2 .5 1.5 .5 2 .5-3.2 .5-.6 .5-1.8 .5 2.2 .5 .7 .5-4.8 .5 6.7 .5-.3 .5 2.2 .5-6.1 .5 1.8 .5 0 .5-2.6 .5 .9 .5-.2 .5 2.8 .5-.1 .5 1.7 .5-3.3 .5-1.9 .5 3.5 .5-.2 .5 .6 .5 1.1 .5-3.5 .5 2.6 .5-3.4 .5 2.2 .5 1 .5-1.5 .5 .6 .5-3.1 .5 1.4 .5 1.5 .5-2.6 .5 .7 .5 6.2 .5-4.1 .5-2.1 .5-.4 .5 4.5 .5-7.3 .5 4 .5 1.7 .5-2.3 .5 2.1 .5-3.1 .5 2 .5 0 .5-.1 .5 .2 .5-.2 .5 2 .5-2.7 .5-.6 .5 .5 .5-.1 .5-2.4 .5-.8 .5 .9 .5 3 .5-1.9 .5 .4 .5 5.6 .5-3 .5-2.7 .5-.9 .5 3.5 .5-4.3 .5 3.6 .5-1.5 .5 1.1 .5-4.3 .5 2.7 .5-5.6 .5 2.6 .5 1.8 .5-1.3 .5-5.4 .5 4 .5-1.2 .5-1.7 .5-2.1 .5-.1 .5-1.5 .5 1.8 .5-2 .5 .1 .5-1.9 .5-4.9 .5 1.5 .5 2.6 .5-7.4 .5 1.4 .5-3.2 .5-1.3 .5 1 .5 .3 .5-1.2 .5-1.4 .5 .2 .5-5.4 .5 4.2 .5-1 .5-1.2 .5 .5 .5-1.3 .5 4.2 .5-3 .5-.6 .5 3.6 .5-.1 .5 2 .5 4.1 .5-2 .5 1.7 .5 5.3 .5-5.8 .5 4.6 .5 2.7 .5 1.8 .5 2.5 .5-4.4 .5 3.4 .5-.4 .5 .3 .5 .3 .5-.5 .5 4.1 .5 1.5 .5-2.8 .5 4.1 .5-2 .5-.4 .5-2.1 .5 7 .5-.4 .5-1.6 .5 .1 .5-1.4 .5 3.6 .5-.9 .5 1.4 .5-.6 .5-2.8 .5-.2 .5 3.8 .5-3.9 .5 3.8 .5 1.3 .5-4.1 .5 3.8 .5-1.2 .5 1 .5-2.2 .5 1.2 .5 .9 .5 2.7 .5-2 .5-.5 .5-3.3 .5 3.1 .5-1.9 .5 1.1 .5 .7 .5 1.3 .5-.6 .5-.8 .5-.4 .5 2.6 .5-4.2 .5 1.8 .5 2.5 .5-2.9 .5 1.9 .5 .2 .5 2.1 .5-1.6 .5-5.2 .5 3.1 .5 .6 .5 1 .5-.8 .5 2.9 .5-1.4 .5-4.3 .5 1.1 .5-2.6 .5 7.2 .5-3.5 .5 .1 .5-2.7 .5 2.2 .5 1.8 .5-1.6 .5 .1 .5-.3 .5 5 .5-4.7 .5-1.6 .5 1.8 .5 .4 .5 .6 .5-.2 .5-1.5 .5 1.8 .5 1.2 .5-3.3 .5 6.6 .5-.4 .5-6.6 .5 2.9 .5 2.7 .5 .7 .5 1 .5-6.8 .5 1.5 .5 1.3 .5 2.1 .5-3 .5 3 .5 .2 .5 .6 .5-3.7 .5 2.9 .5-.1 .5-.8 .5 3.4 .5-2.9 .5 3.4 .5-3.8 .5 4.5 .5 0 .5-4.6 .5 2.3 .5 0 .5-2.3 .5 3.4 .5-.3 .5-2.7 .5 1.9 .5 1.6 .5-1.9 .5-1 .5 4.5 .5-4.9 .5 2.5 .5 1.6 .5-.6 .5-5 .5 2.9 .5 .4 .5-.1 .5 1.6 .5-.1 .5-.8 .5 .3 .5 1.4 .5 .4 .5-5.9 .5 7.7 .5-5.2 .5 2.5 .5-4.6 .5 2.1 .5-1.4 .5 4.4 .5-.4 .5-1.7 .5-.4 .5 1 .5-2.5 .5 .5 .5-.3 .5 2.9 .5-1.5 .5-2.5 .5 3 .5 .3 .5 1.5 .5-3.7 .5 1.7 .5 3.2 .5-4.7 .5-.1 .5 1.6 .5-2 .5 .9 .5-1.1 .5-.6 .5 3.1 .5-2.5 .5-1.2 .5 1.3 .5 .1 .5 .8 .5 1.1 .5 1.5 .5-5.7 .5 1.7 .5-3 .5 3.7 .5 .5 .5-2.3 .5-.6 .5-.2 .5-1 .5 3.9 .5 2.3 .5-5.8 .5 5.1 .5-3.4 .5-2.5 .5 3.6 .5 .3 .5-.8 .5-1.3 .5 3.6 .5-3.8 .5 1.7 .5-.1 .5-3 .5-1.8 .5 .1 .5 2.4 .5 1.4 .5-4.1 .5 1.9 .5 4.2 .5-6.4 .5 4.2 .5-.2 .5 .7 .5-4.3 .5 3.4 .5-3.4 .5 5.1 .5-4.2 .5 2.3 .5-2.3 .5 1.8 .5-3.2 .5 3.4 .5 .5 .5-1.2 .5 3.1 .5-2.4 .5 .7 .5-.5 .5 2.5 .5-4.7 .5 .7 .5 .1 .5 1.5 .5-.7 .5 1.1 .5-1 .5-1.5 .5 .8 .5 1 .5-5.1 .5 6.9 .5-3.7 .5 .4 .5 1.2 .5-.9 .5-2.3 .5 2.3 .5 3.1 .5-.6 .5 .4 .5-3.4 .5 .7 .5 2.4 .5 .9 .5-2.7 .5-1.9 .5-1.8 .5 6.4 .5-5.5 .5 3.7 .5 .9 .5 3 .5-4.3 .5-.5 .5 1.1 .5 .2 .5 1.6 .5-1.2 .5-2.7 .5-2.5 .5 4.6 .5-1.8 .5 4 .5-5.1 .5 2.9 .5-1.7 .5-.3 .5 4.9 .5-2.8 .5-.6 .5 1.8 .5-2.8 .5 .8 .5-.5 .5 5.1 .5-3.1 .5 .6 .5 1 .5-2.5 .5 .2 .5-2.8 .5 4.1 .5-.4 .5-1.2 .5 3.1 .5-5.7 .5 4.3 .5-3.4 .5 .5 .5 1.9 .5 3 .5-4.8 .5 .4 .5-.3 .5 6.2 .5-2.8 .5-.2 .5 3.2 .5-3.4 .5-4.4 .5 3.1 .5-1.3 .5 6.2 .5-6.5 .5 3.3 .5-1.5 .5 .2 .5 .9 .5-.2 .5-1 .5-1 .5 1.1 .5-.7 .5 .3 .5 2 .5-.4 .5 1.2 .5-1.3 .5 4.2 .5-5.1 .5-.5 .5 4 .5-3.3 .5 1.6 .5 1.7 .5-2 .5-.5 .5 2.6 .5-1.2 .5-1.6 .5-1.3 .5 1.6 .5-2.4 .5 1.5 .5-.4 .5 2.7 .5 .9 .5-2.6 .5 .4 .5-1.3 .5-.5 .5 1.8 .5 2 .5-.2 .5 .2 .5-1.6 .5-4 .5 6.3 .5 .8 .5-.8 .5 0 .5 .4 .5 2.6 .5-4 .5 2.3 .5-1.4 .5-.2 .5-1.6 .5-.4 .5-1.4 .5 3.2 .5-1.7 .5-1.7 .5 .9 .5-.8 .5 5.3 .5-3.5 .5 .7 .5-2.5 .5 .3 .5 4 .5-2.5 .5 .9 .5 3.1 .5 .5 .5-2.7 .5-.4 .5-.4 .5-1 .5 4.4 .5-6.2 .5 2.2 .5-3.5 .5 1.2 .5 3.2 .5 .1 .5-.2 .5-1.3 .5-.7 .5 .3 .5 .3 .5 2.8 .5 .7 .5-1.9 .5-1.8 .5-.8 .5 2.4 .5-1 .5-3.1 .5 6.1 .5-2.6 .5-.6 .5-1 .5-.1 .5 3.4 .5-3.5 .5 2 .5 1 .5 2.2 .5-2.3 .5-1.2 .5-.7 .5 2.4 .5 .3 .5-2.7 .5 1.9 .5-1.4 .5-2.8 .5 1.2 .5 3.4 .5 1.1 .5-1.4 .5-1.7 .5-.9 .5 2.3 .5-.4 .5-3.6 .5 4.2 .5-2.6 .5 2.6 .5-.3 .5 .4 .5 .6 .5-.7 .5-3.3 .5 0 .5 3.8 .5-1.1 .5-3.8 .5-.8 .5 5.3 .5 2.4 .5-2.7 .5-2 .5 .8 .5-5 .5 2.5 .5 3.6 .5-.5 .5-5.7 .5 5.9 .5-1.5 .5 .4 .5-2.5 .5 0 .5-2.5 .5 1.9 .5 .4 .5-4.1 .5 1.5 .5-2.5 .5 1.8 .5-1.1 .5-7.3 .5 4.1 .5-.1 .5-4 .5-.3 .5-.8 .5-2.5 .5 1.4 .5 2.8 .5-2.1 .5 2.1 .5-.7 .5 .8 .5-1.4 .5 1.9 .5 3.1 .5-.1 .5-1.2 .5-.8 .5 .6 .5 3.1 .5 1.4 .5-3.2 .5 4.6 .5 1.1 .5 .7 .5-.9 .5 5.8 .5-2.1 .5-3.5 .5 1.6 .5 3.1 .5-.2 .5-.5 .5 0 .5-.2 .5-.2 .5-.9 .5 3 .5-5.3 .5 3.1 .5 3.6 .5-3.5 .5-.7 .5 5.6 .5-1.5 .5-2.1 .5-.7 .5 .6 .5-.1 .5 .2 .5-.9 .5 2.3 .5-1.9 .5-2.2 .5 .9 .5 2.3 .5-1.8 .5-2.3 .5 6.8 .5-1.7 .5-1.8 .5 0 .5 1.8 .5 1.5 .5-3.5 .5 1.8 .5-1.8 .5 1.7 .5-2.6 .5-1.2 .5 3.4 .5-.3 .5 1.4 .5-2.4 .5 3.6 .5-2.3 .5 2.6 .5-3.4 .5 3.3 .5-2.8 .5 .4 .5 1.4 .5-4.8 .5 1.3 .5 5.1 .5-5.9 .5 1.8 .5 1.8 .5 1.6 .5-3.5 .5 1.2 .5-2.3 .5 1.4 .5 2.4 .5-1.2 .5-.6 .5 .8 .5-.6 .5 .1 .5-.9 .5-1.1 .5 2.9 .5-3.2 .5 3.7 .5 2 .5-1.1 .5 1.4 .5-5.8 .5 2.2 .5-1.9 .5 .2 .5-1.7 .5 .8 .5 3.6 .5-.3 .5 .9 .5-.1 .5-.6 .5-2.8 .5 1.2 .5 1.5 .5 .8 .5-2.8 .5-.2 .5 .1 .5 3.5 .5-1.8 .5-1.5 .5-.8 .5 2.1 .5-3.7 .5 2.5 .5-.6 .5 0 .5 1.3 .5 .4 .5 3.4 .5-4 .5 1 .5-2.5 .5-1.5 .5 4.8 .5 1.4 .5-5.1 .5 1.6 .5 2 .5-1.8 .5-4.2 .5 5.8 .5-2 .5 1.5 .5-2.9 .5 3.1 .5 .3 .5-3 .5 2 .5-1.9 .5 .2 .5-.7 .5 .8 .5-.4 .5 3.1 .5-2.4 .5-1.5 .5 4.2 .5-1.4 .5 .7 .5-1.7 .5 1.2 .5-1.3 .5-1.4 .5 1.7 .5 .1 .5-.1 .5 1.2 .5-4.3 .5 3.4 .5-1.8 .5 .8 .5 1.2 .5-.6 .5-1.3 .5 2.4 .5-1.3 .5 1.6 .5 .5 .5-2.7 .5-1.2 .5 1.9 .5 1.3 .5-.9 .5-2.4 .5-.9 .5 1.2 .5 0 .5 2.6 .5-.9 .5 1.3 .5-1.6 .5 2.9 .5-2.7 .5 .8 .5-1.5 .5 1.3 .5 1.1 .5-.5 .5 .8 .5-3.1 .5 1.7 .5 2.1 .5-2.4 .5-.7 .5-.1 .5-.5 .5 1.1 .5 2 .5-1.5 .5-.8 .5-1.3 .5-.5 .5 5.7 .5-4.6 .5 .9 .5-1 .5 1.1 .5-1 .5 .9 .5 2.2 .5-3.6 .5 2 .5-.9 .5 1.2 .5-2.2 .5 1.7 .5-2.2 .5-1.4 .5 .8 .5 .6 .5-.3 .5 1.3 .5 2.3 .5-3.6 .5 2.5 .5-.5 .5-1.4 .5-.3 .5 2.2 .5 .1 .5-1.4 .5 .3 .5 .3 .5-2.1 .5 2.3 .5 .3 .5 2.3 .5-4.9 .5 .7 .5 1.5 .5-1 .5 .2 .5 .7 .5-.5 .5 .5 .5 .7 .5-3.3 .5 3.5 .5-4.5 .5 6.4 .5-1.3 .5-2.4 .5 2.6 .5-1.9 .5 1 .5 .5 .5-.7 .5-.5 .5 1 .5-1.3 .5-.3 .5-.9 .5-1.4 .5 5.5 .5-1.3 .5-3.5 .5 2.9 .5-.3 .5-3.8 .5 2.2 .5 1.1 .5 3 .5-1 .5 .3 .5-1.5 .5 1.1 .5-3.5 .5 2.9 .5 .2 .5-3.2 .5 2.4 .5 2.1 .5 .6 .5-.8 .5-3.4 .5 1 .5-.6 .5 2.8 .5-3.3 .5-.4 .5-.9 .5 3 .5 .4 .5-1.7 .5-.2 .5 .9 .5 2.5 .5-4.3 .5 2.1 .5 .4 .5 .3 .5 1.4 .5-.7 .5-.8 .5 1.9 .5-.5 .5-1.4 .5 0 .5-2.3 .5 2.1 .5-1.4 .5-.6 .5 1.4 .5-2.3 .5 1.3 .5 .6 .5 1.4 .5-1 .5 1.1 .5 2 .5-1.3 .5-3.1 .5-1 .5 1.4 .5 0 .5-1.7 .5 .4 .5 0 .5 1.8 .5 3.3 .5 .4 .5-4.3 .5 .9 .5-1.5 .5-.4 .5 2.5 .5 .2 .5-1.1 .5 2.1 .5-1.6 .5 2.3 .5-2.5 .5 2.1 .5-1.6 .5 .5 .5 .8 .5-3.1 .5 1 .5 1 .5-.3 .5 .9 .5-1.7 .5-.8 .5 2 .5 .6 .5-1.7 .5 3.2 .5-.8 .5 .3 .5-.1 .5-2.6 .5 4.8 .5-4.5 .5 1.8 .5 .5 .5-.5 .5-.3 .5-1.5 .5 .7 .5 .7 .5 2 .5-3.1 .5 2.2 .5-.4 .5-.5 .5-1 .5 .7 .5-2.5 .5 2.9 .5 .4 .5-1.3 .5 1.7 .5-.3 .5-1.7 .5 2.6 .5-2.2 .5 4.7 .5-5.5 .5 .4 .5 .3 .5 1.4 .5 1.5 .5-1.7 .5-.8 .5 3.7 .5-1.3 .5-2.1 .5 .3 .5-2.3 .5 2.5 .5 2.7 .5-4.6 .5-.3 .5 2.4 .5-4 .5 6.1 .5-4.7 .5 1.3 .5 .9 .5 2.2 .5-1.3 .5-3.6 .5 .3 .5 3 .5-3.6 .5 2.9 .5-.9 .5 2.6 .5 .7 .5-5.9 .5 4.7 .5 .3 .5-2.2 .5 .2 .5-.9 .5 1.4 .5 1.2 .5 1.5 .5 .2 .5-2.8 .5-.8 .5 2.9 .5-5.5 .5 1.7 .5 3.3 .5 2.5 .5-4.8 .5 1.4 .5-1.9 .5 1.7 .5 0 .5-1.1 .5 1.9 .5-.9 .5 1.1 .5-1.1 .5-1.6 .5 2.1 .5 1.2 .5-2.6 .5 3.4 .5-1.4 .5-1.3 .5 .7 .5-.7 .5-.8 .5 2.9 .5 0 .5-2.1 .5 .4 .5 0 .5 1.4 .5 1.3 .5-3.4 .5 1.6 .5-.6 .5 1 .5 1.4 .5-3.7 .5-1.9 .5 3.1 .5-2.3 .5 5.3 .5-3.8 .5 .7 .5 .8 .5 0 .5-1 .5 .7 .5 1.5 .5-2 .5 3.5 .5-2.4 .5-4.3 .5 5.2 .5-4.2 .5 3.3 .5 3.1 .5-1.9 .5-3.5 .5 .5 .5 1.4 .5 2.3 .5-3.5 .5 3 .5-1.3 .5-.6 .5-.1 .5 3 .5-5.1 .5 .6 .5 3.2 .5 .2 .5-3.7 .5 .7 .5-.4 .5 2.8 .5-2 .5 3.4 .5-1.1 .5-.8 .5 0 .5 .5 .5 .5 .5-1.3 .5 .4 .5 .9 .5-1.4 .5 1.7 .5-1.8 .5-1 .5 1.6 .5 2.3 .5-.2 .5-5 .5 3.1 .5-1.3 .5 .3 .5 0 .5 .2 .5-.5 .5 .4 .5 .8 .5-2.3 .5 0 .5 .2 .5 0 .5 2.7 .5-2.7 .5 1.7 .5 .2 .5 1.1 .5-1.1 .5 1.6 .5-1.8 .5 .5 .5 .9 .5-3.6 .5 3 .5 1.8 .5-2.3 .5-.5 .5 3.4 .5-2.9 .5 1.8 .5-5.7 .5 3.9 .5-.9 .5 1.4 .5 1.3 .5-2.2 .5-.1 .5-3.6 .5 5.2 .5 .9 .5-1.9 .5-1 .5 1.4 .5 1 .5-.6 .5 2.3 .5-4.2 .5-1.3 .5 2.9 .5 1.3 .5-2.8 .5 .8 .5-1.1 .5-1 .5 .9 .5-2.2 .5 3.7 .5 .3 .5 .7 .5-2.7 .5 .3 .5-1.7 .5 .3 .5 3.8 .5 2.5 .5-5.7 .5 1.1 .5 2.1 .5-2.6 .5 2 .5-1.4 .5 0 .5 1.9 .5-1.9 .5-1.6 .5 3.3 .5-1.3 .5-.9 .5-.4 .5 2.2 .5-2.1 .5 1.3 .5 1.4 .5-1.8 .5 1.9 .5-4 .5 3.2 .5-.1 .5 2.1 .5-3 .5 1.4 .5-1.7 .5-1.5 .5 .3 .5 .3 .5 2.3 .5-2.5 .5 1.3 .5 1.3 .5 .6 .5-.5 .5 .8 .5-4.2 .5 1 .5 1.3 .5 1.3 .5-1 .5-2.1 .5 .9 .5-2.4 .5 4 .5-4.2 .5 3.2 .5 1.3 .5-.3 .5-4 .5 2.9 .5-1 .5 .1 .5 3.1 .5-2.2 .5-2.8 .5 .6 .5 2.8 .5-.8 .5-2.2 .5-.9 .5 1.8 .5 .1 .5 2 .5-2.3 .5 2 .5 .9 .5-4.6 .5 1.6 .5 3.4 .5-3.2 .5 .7 .5 1.5 .5-2.8 .5 .5 .5-2 .5 3.5 .5-1.7 .5 .2 .5-3.4 .5 5.5 .5-.5 .5-2.4 .5 3.2 .5-5.9 .5 3.8 .5-2.6 .5 6.7 .5-8 .5 1.9 .5 .7 .5 2.5 .5 0 .5-.7 .5-1.1 .5 3.8 .5-4.6 .5 1.6 .5 2.3 .5-4.8 .5 .7 .5 3 .5-1.1 .5-2.8 .5 2.1 .5 3 .5-3.5 .5 1.7 .5-1.2 .5-1.3 .5 3.7 .5-1.1 .5 .4 .5-2.2 .5 .3 .5 .2 .5 .3 .5-1.3 .5-.2 .5 2.9 .5-3.9 .5 1 .5 .1 .5-.3 .5-1.1 .5 .7 .5 2.5 .5-1.9 .5-.7 .5 3.9 .5-4.9 .5 3.8 .5-1.1 .5-2.8 .5 1.5 .5 0 .5 2.7 .5-.6 .5-2 .5-1.4 .5-.9 .5 2.4 .5-2 .5 2 .5-.1 .5 .9 .5 1 .5-1.4 .5 .5 .5-1 .5 1.9 .5-.4 .5 1.3 .5-.4 .5-3.4 .5-1.2 .5 3.4 .5 .7 .5-2.9 .5 3.5 .5-2.3 .5-.3 .5 .7 .5-2.9 .5-.4 .5 2.1 .5-1.4 .5 1.9 .5 0 .5-3.9 .5 2.6 .5 2.1 .5-4.6 .5 3.2 .5-1.7 .5-1 .5 4.9 .5 0 .5-2.5 .5-.1 .5 3 .5-.3 .5-2 .5 1.4 .5-1.2 .5-.7 .5 1.5 .5-1.7 .5 1.6 .5-1.3 .5-.4 .5-.2 .5 1.7 .5 .7 .5-.8 .5-2.1 .5 2.4 .5-2.4 .5-.4 .5 1.5 .5 1.6 .5-.2 .5-.2 .5 1.3 .5-.8 .5-2 .5 1.9 .5-1.7 .5 1 .5 .4 .5-1.1 .5-2.3 .5 2.2 .5-.3 .5 .4 .5-.5 .5-1.1 .5-.8 .5 3.6 .5 .2 .5-.6 .5-.7 .5 3.2 .5-2 .5-1.1 .5 1.3 .5-1.4 .5 1.3 .5-.7 .5 .4 .5-.7 .5-.8 .5 1.5 .5 1 .5-3.2 .5 .6 .5-.9 .5 3.1 .5-1.7 .5 1.8 .5-2.7 .5 2.6 .5-2.2 .5 .2 .5 1.6 .5-1.5 .5-.3 .5 2.4 .5-1.5 .5 2.1 .5 2 .5-4.8 .5 .3 .5-1.8 .5 .5 .5 2.9 .5-.5 .5 0 .5 .3 .5-2.1 .5-1.3 .5 4.4 .5-1.3 .5 1.5 .5-1.9 .5 1.3 .5-2 .5 .8 .5-.2 .5 .9 .5 1.6 .5-1.2 .5-4.9 .5 3.8 .5 .2 .5 1.3 .5-1.1 .5-1.3 .5-.1 .5 .7 .5-.5 .5 3.4 .5-1.3 .5-.9 .5 1.5 .5 1.9 .5-3.7 .5 .3 .5-.4 .5-1.5 .5 1 .5-.4 .5 2.2 .5 0 .5 .7 .5-2.6 .5 2.8 .5-3.1 .5 1.3 .5 2.4 .5-.1 .5-.2 .5 1.6 .5-1.6 .5-2.1 .5 .1 .5-.8 .5 1.6 .5-1.6 .5 .3 .5-.6 .5-1.1 .5 6.7 .5-2.5 .5-4.7 .5 4 .5-1.6 .5-2.4 .5 3 .5 .7 .5 .6 .5 .9 .5-3.1 .5 1.3 .5 1.1 .5-.1 .5-.2 .5-.5 .5 1.8 .5-3.9 .5-.3 .5 5.1 .5-2.1 .5 1.2 .5-1.4 .5-.9 .5-.2 .5 1 .5-.9 .5 .6 .5 0 .5 1.5 .5-.1 .5 1.3 .5-3.6 .5 1.1 .5 1.6 .5-.9 .5-4.4 .5 4.4 .5-.6 .5-.7 .5 .1 .5-.4 .5 3 .5-.8 .5-.7 .5 1.5 .5-.3 .5-2.8 .5-.3 .5 .1 .5 2.8 .5-1.2 .5 1.9 .5-1 .5-1.1 .5-1.7 .5 1.6 .5 3.9 .5-4.5 .5-.2 .5 .9 .5 2.5 .5-2.2 .5-1.6 .5 .8 .5 .7 .5 .4 .5 1.5 .5 2.2 .5-1.7 .5-1.1 .5-1 .5-1.2 .5 2.2 .5 1.1 .5-.7 .5-1.5 .5 1.2 .5-1.3 .5 .1 .5 .1 .5 0 .5 0"/>
<path class="crv" stroke="#FF8000" stroke-width="11.8" d="M213.6 415.1l.5 0 .5 0 .5-4.1 .5 7.4 .5-1 .5-2.4 .5 2.1 .5-.7 .5-1.3 .5 2.8 .5-2.1 .5 .1 .5-.6 .5 2.3 .5-.8 .5 1.2 .5-1.8 .5 1.4 .5-1.6 .5 3 .5-.9 .5 .3 .5 .3 .5-2.3 .5 3.2 .5 2.3 .5-6.2 .5-.1 .5 .5 .5 4.1 .5-1.1 .5 1.8 .5-.5 .5-.8 .5 .2 .5-.7 .5 1.9 .5-3.3 .5 1.3 .5 1.2 .5 2.8 .5-4.3 .5-.4 .5 .9 .5 2.8 .5-2 .5 2.7 .5-5.3 .5 5.2 .5-.1 .5-4.1 .5 2.8 .5 1.9 .5-1.9 .5 1.7 .5 2.4 .5-3.5 .5-.9 .5-.7 .5 2.5 .5-1.4 .5 .1 .5 .2 .5 1.4 .5-2.9 .5-.7 .5-1.5 .5 6.3 .5-1.8 .5 2.5 .5-2.5 .5-1.2 .5 2.1 .5-.8 .5-2 .5 .7 .5 4.6 .5-2.3 .5 .1 .5-1.1 .5-.6 .5 2.8 .5-1.7 .5-1 .5 1.1 .5-1.2 .5 1.9 .5 1.7 .5-3.3 .5 3.9 .5-3.5 .5 1.4 .5-1.6 .5 1.1 .5 .5 .5-.7 .5-.4 .5 .1 .5-.2 .5-1.2 .5 2.3 .5 1.2 .5 .9 .5-.4 .5 3.1 .5-3.6 .5-1.2 .5 4 .5-4.9 .5 3.5 .5-3.2 .5 2.2 .5-3.9 .5 5 .5-1.8 .5-1.3 .5 4.6 .5-1.5 .5-1.2 .5-1.3 .5 1.2 .5-.1 .5 1.5 .5 .2 .5-2.4 .5 .2 .5 .1 .5-1.3 .5 1.3 .5 .9 .5 1.4 .5 1.1 .5-3.6 .5 2.4 .5-1.7 .5 4.4 .5-3.6 .5 1 .5-2.4 .5 .2 .5 1.8 .5-.9 .5 1.3 .5-3.2 .5 3.8 .5-2.6 .5 4.5 .5-3.4 .5 2.4 .5-4.2 .5 3.1 .5-2.1 .5 .7 .5 .9 .5-.5 .5 1 .5 .8 .5-.1 .5-1.2 .5-2.1 .5 1 .5 1.1 .5-3.3 .5 4.9 .5-1.6 .5 0 .5 2.1 .5-.4 .5-.8 .5-2 .5 2.3 .5 .1 .5-2.1 .5 3.3 .5-.8 .5-4.2 .5 3.6 .5-2.3 .5 4.1 .5-.5 .5-3.2 .5 .4 .5 1.7 .5-.6 .5 3.1 .5-1.3 .5-1.7 .5 1.5 .5-4.4 .5 4 .5 1 .5-1.8 .5-.8 .5 2.2 .5 2.4 .5-3 .5-2.2 .5 4.4 .5-5.6 .5 4.1 .5-1.8 .5 2.6 .5-3 .5 3.7 .5-1.7 .5-3.4 .5-.3 .5 2.8 .5 2.8 .5-2 .5 0 .5-.5 .5 1.7 .5-.6 .5-.1 .5-2.1 .5 3.7 .5 .3 .5-4.4 .5 6.1 .5-2.6 .5-2.1 .5-2.3 .5 4.4 .5-.2 .5-1.9 .5-2 .5 5 .5-2.9 .5 .3 .5 5 .5-.6 .5-1.9 .5-2.4 .5 1.9 .5-4.9 .5 4.1 .5-1.5 .5-.8 .5-.5 .5 3.6 .5-.7 .5 .2 .5 1.1 .5-2.8 .5-.6 .5-.9 .5 2.5 .5 1.8 .5-1.5 .5 1.4 .5-3 .5 1.2 .5-.5 .5-.8 .5 5.3 .5-1.7 .5-2.7 .5 0 .5 1.2 .5-2.3 .5 3.2 .5-2.9 .5 1.6 .5-1.1 .5 1 .5-1.5 .5-.4 .5 1.1 .5 .5 .5 .6 .5 .7 .5 2.4 .5-1.1 .5-1.8 .5 1.6 .5-2.3 .5 3.6 .5-1.5 .5-3.2 .5 3.6 .5 .1 .5-5.6 .5 3 .5 .4 .5-2.4 .5 1.5 .5 .2 .5 2.4 .5-.3 .5 3.7 .5-4.8 .5 2.6 .5-1.8 .5 .3 .5-2.4 .5-1.2 .5 1.9 .5 2.6 .5 1.4 .5-1.6 .5-.2 .5-2.2 .5 4 .5-.4 .5-3.1 .5 .8 .5-1.6 .5 4.2 .5-1.8 .5-.8 .5 .9 .5 0 .5-1.4 .5-1.4 .5 0 .5-.8 .5 3.7 .5 3 .5-6.6 .5 3.1 .5 .5 .5-2.4 .5 2 .5-2.1 .5 3.8 .5-3 .5 1.2 .5 1 .5-1.9 .5-2.2 .5 2.1 .5 2.2 .5-1.4 .5 .5 .5-2.2 .5 2.1 .5 1 .5-1.2 .5 3.2 .5-3.6 .5-1.4 .5-.9 .5 4.6 .5-2 .5 1.8 .5-.9 .5 2 .5-.6 .5-2.8 .5 1.1 .5 1.4 .5-3.9 .5 4.5 .5-.4 .5-.3 .5-2 .5 .8 .5-2.3 .5 1.9 .5-1 .5 1.1 .5-1 .5 1.3 .5 1.6 .5-4.2 .5 3.7 .5-4.8 .5-.3 .5 3.4 .5 .2 .5 .8 .5-3.5 .5 2.6 .5 .4 .5 1.9 .5-2.3 .5 1.1 .5-2.6 .5 1.4 .5-.5 .5 2 .5-2.9 .5 .3 .5 2.4 .5 2 .5-2.3 .5-.2 .5-1 .5 2.4 .5-1 .5 2.1 .5-2.4 .5-2.1 .5 .6 .5-.7 .5-.4 .5 4.2 .5-.8 .5-3.4 .5 5.1 .5-2.6 .5-2 .5 2.2 .5-.7 .5-1.2 .5-1.9 .5 3.3 .5 .4 .5-4.7 .5 5.2 .5 .1 .5-1.9 .5 1 .5-.6 .5-1 .5 .8 .5 2.9 .5-4.7 .5 2.8 .5 0 .5-1.5 .5 .4 .5-1.6 .5 .9 .5 1.5 .5 .5 .5-2 .5 5.6 .5-5.1 .5 1.2 .5-.6 .5-.3 .5 2.8 .5-2.9 .5 3 .5-.3 .5-3.7 .5 3.5 .5-2.8 .5 5.2 .5-4.8 .5-.9 .5-1.6 .5 1 .5 1.2 .5-.7 .5-.4 .5 .9 .5 .8 .5 2.8 .5-5.3 .5 1.9 .5-.6 .5-1 .5 .4 .5 .6 .5 2.7 .5-1.5 .5-.6 .5 2 .5-.6 .5-.8 .5 1 .5-2.1 .5 2.5 .5-.3 .5-1.5 .5-1.3 .5 4.5 .5-2.3 .5 4 .5-5.3 .5 2.5 .5-2.1 .5 1.1 .5 1 .5-2.7 .5 1.1 .5 .5 .5-.1 .5 .8 .5 .7 .5-.3 .5-1 .5-1 .5-1.3 .5 .6 .5 .4 .5 2 .5-1.8 .5-1.4 .5 3.1 .5-2.4 .5 .1 .5 .8 .5 1.2 .5-4.8 .5 2.1 .5 2.2 .5-.9 .5-.8 .5 .5 .5 3.2 .5-3.1 .5 2 .5 .1 .5-2.1 .5 1.5 .5-1.5 .5-.3 .5-.8 .5 3.3 .5-2.1 .5-.3 .5-.9 .5 4.8 .5-1.8 .5-1.4 .5-1 .5-1.3 .5 3 .5 0 .5-2.9 .5 4.3 .5-.6 .5-2.9 .5 .6 .5 .2 .5 1 .5-.5 .5-2.5 .5 5.2 .5-2 .5 1.6 .5 0 .5-2.4 .5 .9 .5 .6 .5 .1 .5-1.6 .5-.8 .5 1.1 .5-1.4 .5 .4 .5-2.4 .5 3.5 .5-1.9 .5 .8 .5 .8 .5 .6 .5 2.6 .5-2.8 .5-2.7 .5 2.6 .5-1.2 .5 1.6 .5-1.8 .5 0 .5 .3 .5-.2 .5-2 .5 1.9 .5 1.1 .5 2 .5-2.5 .5-.1 .5 1.6 .5-.1 .5 1.7 .5-1.7 .5-1 .5 2.3 .5 .3 .5-3.3 .5 1 .5-3.1 .5 2.2 .5-.9 .5 1.1 .5-.4 .5 .5 .5 .1 .5 1 .5-.5 .5-1.3 .5-1.2 .5 4.2 .5 .3 .5-3.1 .5 1.6 .5-3.4 .5-.1 .5 2.1 .5 2.9 .5-4.2 .5 .4 .5 4 .5-5.8 .5 4.2 .5-.3 .5-1.1 .5 .6 .5 3.9 .5-6.1 .5 1.4 .5 .1 .5-.8 .5-1 .5 4.8 .5-2.3 .5-3.2 .5 1.7 .5 1.8 .5 0 .5-3.1 .5 2.3 .5 .5 .5 .3 .5-.1 .5-3.6 .5 6 .5-2.7 .5 2.6 .5 1.2 .5-4.4 .5-1.8 .5 3.5 .5-1.8 .5-.4 .5-1 .5 4.5 .5-3.5 .5-1.6 .5 1.5 .5-1.1 .5 2.1 .5-.9 .5-1.1 .5 2.7 .5-2 .5 2.2 .5 .9 .5-2.7 .5-.5 .5 1.4 .5 1.2 .5-1.5 .5 .2 .5-.3 .5 .6 .5 .5 .5-2.2 .5 .3 .5 .9 .5-1.2 .5 1.3 .5 .7 .5-.9 .5-1 .5-.3 .5 4.2 .5-1.5 .5-3.3 .5 .5 .5 4.4 .5-.6 .5-2.3 .5 1.7 .5-4.3 .5 2.4 .5 1.2 .5-4.3 .5 1.8 .5 2.6 .5 .5 .5-2.8 .5 1.4 .5 2.2 .5-3.3 .5-1.6 .5 2.1 .5-.5 .5 2.8 .5-1.9 .5-1.6 .5 5.2 .5-4.7 .5 1.5 .5 .4 .5 .1 .5-1 .5 .7 .5-1.1 .5-2.2 .5 1.9 .5 .1 .5 0 .5 .5 .5-1.3 .5 3.2 .5 .4 .5-6.2 .5 3.6 .5-1.2 .5-2.9 .5 4.8 .5-1.7 .5 .4 .5-.5 .5 2.8 .5 .3 .5-1.6 .5 .7 .5-1.4 .5 .4 .5-1.4 .5 1.2 .5-1.2 .5 1.8 .5 .7 .5-.9 .5 1.5 .5 2.1 .5-7.6 .5 3.5 .5-1 .5 .2 .5-1.5 .5 2.3 .5-.5 .5-.6 .5 .6 .5-.6 .5-2.9 .5 5.6 .5-2.2 .5-1.1 .5 2 .5-1.6 .5-2.5 .5 5.1 .5-4.3 .5 2.4 .5 .6 .5 2 .5-.3 .5-1.7 .5-1.5 .5 .5 .5 2.5 .5 1.1 .5-2 .5-2 .5 2.7 .5-2.3 .5 0 .5 .2 .5 1.4 .5-.5 .5 1.1 .5 .5 .5-1.3 .5-4.7 .5 1.1 .5 3 .5-.4 .5 3.7 .5-3.6 .5-.3 .5 1.8 .5 .2 .5-2.1 .5 1.1 .5-2.6 .5 .3 .5 3.5 .5-4.3 .5 3.8 .5-.4 .5 .1 .5 .3 .5-.6 .5-4.5 .5 1.9 .5 .6 .5 2.5 .5-3.3 .5 .6 .5 .6 .5 2.7 .5-4.5 .5 .1 .5 3.3 .5-4.5 .5 4 .5-1.3 .5-1.9 .5 1.9 .5-.9 .5 1.9 .5 .3 .5 1.8 .5-2.5 .5 .2 .5-1.1 .5 .9 .5 1.7 .5-4.8 .5 4.2 .5-2 .5 1 .5 .4 .5 .9 .5-1 .5-1.1 .5 1.2 .5-.5 .5-.4 .5 .7 .5 1.1 .5-1.3 .5 .1 .5-2.4 .5 1.9 .5-2.8 .5 4.2 .5-2.8 .5 3.7 .5 2 .5-4.8 .5 2.8 .5-1.5 .5-1.6 .5-.4 .5 2.3 .5 1.3 .5-1.7 .5-3 .5 .7 .5 1.3 .5 2.6 .5-1.7 .5 0 .5 1.5 .5-2.3 .5 .1 .5-.1 .5-2.6 .5 3.6 .5-.1 .5 1 .5-3.6 .5 .6 .5 2.9 .5-1 .5 1.7 .5-3.7 .5 1.8 .5-1.5 .5 1.6 .5-1.3 .5 1.7 .5 .9 .5-.7 .5-4 .5 4.4 .5-.8 .5-2.4 .5 .3 .5 1.4 .5 .9 .5-1.7 .5-1.9 .5 3.1 .5-.2 .5 3.7 .5-6 .5 6.1 .5-1.2 .5-2.4 .5 2.2 .5-2.5 .5 1.4 .5-2.8 .5 1.3 .5-1.8 .5-.9 .5 2.1 .5-.6 .5 2 .5 1.1 .5-2.3 .5 .3 .5 .2 .5-3 .5 3.1 .5-.4 .5-.1 .5-1.7 .5-1.5 .5 2.8 .5 .9 .5 1.6 .5-.3 .5 .5 .5-1.8 .5 1.3 .5-2.3 .5 1.3 .5 .5 .5 2.5 .5-3.7 .5-2.5 .5 4.3 .5-3.6 .5 1.2 .5-.5 .5-1 .5 3.6 .5-1.3 .5-2 .5 1 .5-.9 .5 1.6 .5-1.7 .5-.7 .5 0 .5 .2 .5 1.1 .5-2.2 .5 1.1 .5 .7 .5 2.8 .5-2.7 .5-5.8 .5 2.8 .5-.3 .5 .7 .5 1.4 .5-2 .5-5.7 .5 3.4 .5-1.2 .5-.4 .5 .4 .5-5 .5 2.4 .5-5.7 .5 1.6 .5-.7 .5 2 .5-5.8 .5-2.4 .5 3.4 .5-2.5 .5 3.6 .5-3.4 .5 .3 .5 4.2 .5-.9 .5 2.5 .5-2.7 .5 6.2 .5-2.5 .5 3.5 .5-1.9 .5 .2 .5 3.1 .5 1.6 .5 3.1 .5-1.3 .5 1.3 .5 .5 .5 3.5 .5-4.9 .5 3.7 .5-1.9 .5 1 .5-1 .5 3 .5-3.7 .5 .1 .5 2 .5-1.4 .5 3.1 .5 .5 .5-2.6 .5 2.6 .5-2.3 .5 1.1 .5 .1 .5 3.1 .5-2.9 .5-1.4 .5 0 .5 3.4 .5-4.5 .5 2 .5 .2 .5-3.3 .5 3.2 .5 2.4 .5-1.2 .5-1.8 .5 2.6 .5-.3 .5 2.4 .5-4.3 .5 .6 .5 .7 .5-.3 .5 .4 .5-.3 .5-.9 .5-1.4 .5 1.6 .5-1.3 .5 .6 .5 .8 .5 1.7 .5 .5 .5-2.9 .5 2.1 .5 .8 .5-1.3 .5-2.5 .5-.8 .5 4.6 .5 .2 .5-1 .5-2.1 .5 3.9 .5-.3 .5-2 .5-.2 .5-2.7 .5 4.2 .5-3.7 .5 3.6 .5 .1 .5-1 .5 2.3 .5-2.9 .5 1.4 .5 .3 .5-.8 .5-1.1 .5 2.6 .5-1.3 .5-.9 .5 0 .5 .5 .5 3.3 .5-3.3 .5-.6 .5-1.2 .5-.3 .5-1 .5 3.3 .5-.3 .5-1.6 .5-.7 .5 1.7 .5-.3 .5-1.2 .5 2.5 .5-.2 .5-.3 .5 1.2 .5-2.2 .5 3.1 .5-3.6 .5 2.3 .5 .2 .5-1.3 .5 .9 .5-2.5 .5-.3 .5 1.9 .5-.8 .5 2 .5-.8 .5 .9 .5-.5 .5-.2 .5-.1 .5-.7 .5-.2 .5 3.8 .5-5.7 .5 2.3 .5 1.8 .5-.9 .5 1.5 .5-1.3 .5-2.7 .5 1.4 .5-1.6 .5 3.6 .5 .6 .5-2.8 .5 1.5 .5-1.4 .5-1.6 .5 1.5 .5-1.7 .5 1.5 .5 1.2 .5 .7 .5 .9 .5-2.5 .5 .9 .5 .2 .5 .2 .5-4.4 .5 2.5 .5 2.3 .5-2.9 .5 2 .5 .9 .5-4 .5 2.5 .5 .6 .5-.3 .5-2.3 .5 2.7 .5-1.3 .5 2 .5-.6 .5-1.4 .5 1 .5-1.2 .5 0 .5-1.3 .5 1.9 .5 1.5 .5-1 .5-.2 .5-.9 .5 .1 .5 1.9 .5-3.3 .5 5.2 .5-3.1 .5 3.2 .5-1.5 .5-2.3 .5 1.7 .5-.7 .5 .3 .5 .4 .5-1.9 .5-.1 .5 .3 .5-1.4 .5 1.6 .5 .7 .5 0 .5-.1 .5-.9 .5 1.7 .5-4 .5 2.3 .5 .1 .5 1.7 .5-.3 .5 .2 .5-1.1 .5 1.3 .5-2.8 .5 1.5 .5-3.1 .5 5.4 .5-.2 .5-3.1 .5-.3 .5-1.8 .5 .8 .5 2.3 .5-.4 .5-1.8 .5 1.3 .5-.2 .5 1.6 .5 .3 .5-1.3 .5 .5 .5-.2 .5-2.9 .5 3.1 .5-.3 .5 1.1 .5-3.6 .5 3.6 .5-1.9 .5 1.2 .5 1.4 .5-3.8 .5 .2 .5 3.2 .5-2.9 .5 .2 .5 2.2 .5-1.1 .5 1.3 .5-.6 .5-.5 .5 1.4 .5 1.7 .5-3.2 .5 2.2 .5-.5 .5-1.4 .5 .5 .5-2 .5 .5 .5 1.2 .5-.4 .5 1.8 .5-3.6 .5 1.4 .5-.4 .5 .6 .5 1.8 .5-3.2 .5 2.8 .5-2 .5 .4 .5 1.8 .5-1.7 .5 1.3 .5-.8 .5-.4 .5-.2 .5-1.9 .5 1.4 .5 1.2 .5 .1 .5-2.3 .5 3.3 .5-.5 .5-2.6 .5 .4 .5 2.1 .5-3.1 .5 1.4 .5 .9 .5 0 .5 .1 .5 .6 .5-1.6 .5 .4 .5 3.4 .5-4.6 .5 1.3 .5 .7 .5-1 .5 2.5 .5-1.5 .5 .9 .5-4.2 .5 4.8 .5-.1 .5-2.5 .5 2.7 .5-1.3 .5 .8 .5 1.2 .5-2.3 .5-1.4 .5 1.3 .5-1.7 .5 .7 .5 0 .5 .1 .5 2.5 .5-.5 .5-2.2 .5 2.6 .5-3.7 .5 1.4 .5 .7 .5 1.7 .5-.6 .5-.4 .5 1.1 .5-.7 .5 .8 .5-2.8 .5-1.2 .5 1.7 .5 1.6 .5-.7 .5 .8 .5-.3 .5-.2 .5 .4 .5-2 .5 2.3 .5-2.7 .5 1.1 .5-1.7 .5 2.5 .5-2.7 .5 3.8 .5-3.5 .5 2 .5-.5 .5-.9 .5 2.7 .5-2.2 .5 2.4 .5-3.2 .5 .3 .5-1.6 .5 3.3 .5 .4 .5-.9 .5-.5 .5-1 .5 4.1 .5-2 .5-3.4 .5 2 .5-2.8 .5 5.1 .5 .5 .5-.7 .5-2 .5-.7 .5-1 .5 2.4 .5-1.7 .5 .4 .5-.3 .5 .3 .5 1.5 .5 .9 .5-1.9 .5-.2 .5-1.5 .5-.2 .5 .1 .5 2.4 .5-.9 .5 .9 .5-.8 .5-1.1 .5-1.1 .5 1 .5-1.4 .5 4.1 .5-2.2 .5-.8 .5 2.7 .5-3 .5 1.1 .5-1 .5 .5 .5-1 .5 .9 .5 1 .5-3.4 .5-1.3 .5 4.1 .5-1.6 .5 .6 .5-1.5 .5 1.9 .5 .1 .5-3.7 .5 1.9 .5-1.8 .5-1.4 .5 1.2 .5 .7 .5-2.6 .5-.2 .5 2.5 .5-1.8 .5 0 .5-2.2 .5 0 .5 .4 .5-.5 .5-.7 .5 1 .5-2.4 .5-2.8 .5-.1 .5-.1 .5 .4 .5-3.4 .5-1.1 .5-1.1 .5-2.5 .5-2 .5-1.5 .5-1.1 .5-3.3 .5-3.9 .5-2.7 .5-5.7 .5-1.7 .5-5.1 .5-5.7 .5-7.9 .5-2.3 .5-11.6 .5-5.9 .5-7.8 .5-6.5 .5-11.1 .5-7 .5-9.3 .5-8.9 .5-7.1 .5-6.9 .5-7.6 .5-5.7 .5-5.5 .5 2.5 .5-1.4 .5 .7 .5 6.2 .5 7 .5 5.2 .5 6.7 .5 12 .5 7.1 .5 8.6 .5 9.4 .5 5.2 .5 10.4 .5 7.5 .5 9.7 .5 3.8 .5 6.1 .5 4.7 .5 5.7 .5 5.2 .5 4.7 .5 3.2 .5 5.6 .5 1.4 .5 2.8 .5 3.1 .5 1.4 .5 .7 .5 .6 .5 3.4 .5 .2 .5 3.3 .5-1 .5-.4 .5 3.1 .5 1.9 .5-.6 .5 1.1 .5 .6 .5 2.1 .5-.8 .5 .2 .5-.1 .5-.6 .5 3.4 .5 .1 .5-1.7 .5 1.9 .5 0 .5-.3 .5 .3 .5 1.3 .5-1.6 .5 .9 .5 .7 .5 .2 .5 .1 .5 .6 .5 .4 .5-1.1 .5 1.1 .5-.4 .5 2 .5-2.5 .5 1.2 .5 1 .5-.8 .5 .1 .5-.1 .5 .9 .5-1.2 .5 1.1 .5 .1 .5-1.2 .5 1.7 .5-.6 .5 .8 .5 .6 .5-.4 .5-1.3 .5 1.5 .5-1.7 .5 .8 .5 2.3 .5-1.4 .5 1.4 .5-1.5 .5 .2 .5-.9 .5 1.9 .5-1 .5 .8 .5-.1 .5 .1 .5-.1 .5-.3 .5 .1 .5-.6 .5-1.3 .5 2.5 .5 1.5 .5-.9 .5 1.2 .5-1.7 .5-1.3 .5 .1 .5 1.6 .5-.4 .5-.4 .5 .9 .5-1.5 .5 1.3 .5-.7 .5 .4 .5 1 .5-1.2 .5 1.4 .5 0 .5-1.9 .5 2.8 .5-3.2 .5 1.1 .5 .8 .5-2.8 .5 3.1 .5 .1 .5-1.1 .5 .3 .5 0 .5-.4 .5 1.2 .5-1.3 .5 .3 .5 .4 .5 .4 .5 .3 .5-2.4 .5-.5 .5 1.8 .5 .1 .5-1 .5 1.3 .5 .3 .5-.2 .5 1.1 .5-2.4 .5 1 .5 1.7 .5-1.1 .5-1.7 .5 1.2 .5 .9 .5 .8 .5-1.2 .5 .4 .5-2.1 .5 .8 .5 1.3 .5-1.9 .5 .8 .5-1.7 .5 3.1 .5-1.5 .5 .6 .5-1.9 .5 .2 .5 2.8 .5-1.9 .5-.2 .5 .9 .5 0 .5-2.3 .5 .9 .5 .9 .5 0 .5 .3 .5-.8 .5 .2 .5 .4 .5-.9 .5-.1 .5 .2 .5 .5 .5-.2 .5-.3 .5 .2 .5 .1 .5 .3 .5 0 .5-1.5 .5 2 .5-2.4 .5 1.9 .5-1.2 .5 1.1 .5 .4 .5-2.7 .5 2.2 .5-.4 .5-.7 .5 .7 .5-.9 .5 .5 .5-1.2 .5 1.6 .5-.3 .5 0 .5-1.3 .5 2.1 .5 0 .5-2 .5-.5 .5-.1 .5 .8 .5 .1 .5-1.8 .5-1.3 .5 2 .5-.7 .5-.1 .5 0 .5-1.8 .5 .7 .5-.7 .5 .2 .5 .3 .5-1.6 .5-1.4 .5 1.3 .5-1.2 .5-1.7 .5-2.3 .5-.2 .5-.2 .5-.8 .5-2.3 .5-.7 .5-2.6 .5-1.6 .5-1.1 .5-2.9 .5-2 .5-1.8 .5-2.4 .5-4.3 .5-2.4 .5-3.8 .5-2.7 .5-1.1 .5-2.9 .5-3.1 .5 .8 .5-2 .5 .2 .5 1.1 .5 .9 .5 1.1 .5 .1 .5 4.6 .5 1.5 .5 1.9 .5 2 .5 6 .5 1.6 .5 2.5 .5 2.9 .5 1.7 .5 .9 .5 3.9 .5 2.1 .5 1.2 .5 2.4 .5 1.7 .5-1.2 .5 1.4 .5 2.2 .5 .2 .5 .9 .5 1.3 .5 .5 .5-.5 .5 1.1 .5-.3 .5 .9 .5-.4 .5-.4 .5 1.6 .5 .2 .5 1.6 .5 .9 .5-1.2 .5 .7 .5-.8 .5-.1 .5 .7 .5 .2 .5 .7 .5 0 .5 1.5 .5-1.6 .5-1.2 .5 1.7 .5-.5 .5 .8 .5 .9 .5-1.5 .5 .6 .5 .6 .5-1.2 .5 1.1 .5 .4 .5 .3 .5 .3 .5-.4 .5-.1 .5-1.6 .5-.9 .5 1.4 .5 2.2 .5-1.2 .5-2.1 .5 1.7 .5 .7 .5-1.9 .5 2.2 .5-1.6 .5 2 .5-.9 .5 2.3 .5-3.5 .5 1.5 .5-1.6 .5 2.3 .5-.9 .5 .7 .5-.8 .5-1.2 .5 .4 .5-.6 .5 .1 .5 1 .5 .7 .5-.3 .5-.5 .5-1.2 .5 .8 .5-1.5 .5 .7 .5 .2 .5-1.2 .5-.6 .5-.4 .5 .5 .5-1.3 .5-1.4 .5 .4 .5-1.1 .5 1.8 .5-1.9 .5-1.8 .5 1.1 .5 0 .5-.7 .5-1 .5 .3 .5 0 .5 .6 .5-.5 .5 1.9 .5-1.9 .5 1.9 .5-.9 .5-1.1 .5 1 .5 0 .5 .6 .5 3.2 .5-1.2 .5 1.7 .5-.8 .5 1.2 .5-.5 .5 2.2 .5-.6 .5 .2 .5 .5 .5 2.4 .5-1.2 .5 .6 .5-1.7 .5 .7 .5 1.1 .5-1.8 .5 3 .5-.9 .5-.1 .5-.1 .5 .1 .5-.2 .5 1.8 .5-.6 .5 .6 .5-1.4 .5-.4 .5 2 .5-2.3 .5 .6 .5 1.2 .5 .4 .5-2.1 .5 1 .5 .3 .5-.2 .5-.6 .5 1.4 .5-1 .5 .2 .5-1.7 .5 1.9 .5-1.6 .5 2.4 .5-.2 .5-.9 .5 .7 .5-.1 .5-.2 .5 .5 .5-.4 .5-.3 .5-.3 .5 2.2 .5-1.3 .5-.1 .5 .6 .5-.9 .5 0 .5 .9 .5 .4 .5-.3 .5-1.9 .5 1.3 .5 0 .5 .4 .5-1.2 .5-.1 .5 .9 .5-.7 .5-.2 .5 .9 .5 .9 .5-.7 .5 .9 .5-1.8 .5 1.5 .5-.6 .5-.8 .5 .4 .5-.4 .5 .6 .5-.4 .5 1.8 .5-1.5 .5-.9 .5 1.1 .5 .5 .5-.6 .5 1.1 .5-1.6 .5 .1 .5 2.2 .5-1.5 .5 .5 .5 0 .5 .1 .5-.5 .5-.2 .5 1.2 .5-1.4 .5 .5 .5 .5 .5-.9 .5-1 .5 1.7 .5 .6 .5-.7 .5-1.7 .5 2 .5 1.2 .5-3.1 .5-.9 .5 2.1 .5 .3 .5 .6 .5 0 .5-.6 .5 .4 .5-.2 .5-.1 .5-.2 .5-.1 .5 .8 .5-.3 .5-.7 .5 1.3 .5-1.6 .5 .5 .5 .3 .5-1.8 .5 1.4 .5 1.1 .5-.1 .5-1.7 .5 .3 .5-.2 .5 .7 .5 .2 .5-1.4 .5 1.7 .5-.2 .5-.2 .5-.5 .5 .5 .5-1.5 .5 1.8 .5 0 .5-.3 .5-.9 .5 2.1 .5-.1 .5-2.6 .5 2 .5-.3 .5-2.4 .5 2.7 .5 .1 .5 .1 .5-.5 .5-.7 .5 .1 .5 .9 .5 .5 .5-1.4 .5 .1 .5 .9 .5-2.6 .5 2.3 .5-.6 .5-1.8 .5 2.6 .5-1.5 .5 1.4 .5 .5 .5-2.4 .5 0 .5 .9 .5-1.6 .5 2.1 .5-.6 .5 .6 .5-2.6 .5 1.7 .5 0 .5-2.1 .5 2.2 .5-2.2 .5 1.2 .5-1.6 .5 1.6 .5 .6 .5-1.7 .5-.3 .5 .8 .5-1.8 .5 .2 .5 .4 .5-.6 .5 .7 .5-.6 .5 .4 .5-1.9 .5 .8 .5-1.9 .5 1.4 .5 .6 .5 .5 .5-3.1 .5 1 .5 .8 .5-1.2 .5 1.4 .5 .2 .5-.7 .5 .2 .5-.1 .5 1.4 .5 1.1 .5-.5 .5 2.2 .5-3.2 .5 1.1 .5 1.3 .5-1.3 .5 1.6 .5 .6 .5-.3 .5-.1 .5 1.2 .5-.3 .5 .5 .5 0 .5-1 .5-.2 .5 .8 .5 .6 .5-.3 .5 1.1 .5-.5 .5 .7 .5-.7 .5-.6 .5 1.4 .5-.3 .5-1.1 .5 .4 .5 2.6 .5-4.5 .5 3.4 .5-.9 .5-.1 .5-.2 .5-.2 .5 2.6 .5-2.5 .5 .1 .5 1 .5-.3 .5-.5 .5-.1 .5-.9 .5 2.1 .5-1.8 .5-1.2 .5 3 .5-.2 .5-.4 .5-.7 .5 1.5 .5-2 .5-1 .5 2.1 .5 .6 .5-.2 .5 1.3 .5-1.1 .5-.9 .5 0 .5 1 .5-.8 .5-.1 .5-1.5 .5 1.3 .5-.8 .5 1.3 .5 0 .5 .5 .5 .9 .5-1.7 .5 1.4 .5-2.3 .5 1.2 .5 .7 .5 .9 .5-2.7 .5 .7 .5 .4 .5-.2 .5-.8 .5-.6 .5 .4 .5 1 .5-1.1 .5 2.8 .5-.5 .5-2.8 .5 1.3 .5 1.6 .5 .1 .5-.3 .5-2.3 .5 1 .5 1.5 .5-1.1 .5-.5 .5 .9 .5 .4 .5-.8 .5 .1 .5 .8 .5-1.5 .5-.3 .5 1.5 .5-1.8 .5 1.6 .5-1.1 .5 1.4 .5-1.9 .5 2.1 .5-.7 .5-.6 .5-.5 .5 .7 .5-.7 .5-.3 .5 2.1 .5-.5 .5 .6 .5-2.3 .5-.6 .5 .3 .5 2 .5 .2 .5-2.4 .5 2.6 .5-1.4 .5-.6 .5 .9 .5 .6 .5-.7 .5 0 .5-.6 .5-.5 .5 .9 .5-1.1 .5 2 .5-1.3 .5 1.9 .5-2.6 .5 2.6 .5-2 .5-.1 .5 1.1 .5 .5 .5-.9 .5-.3 .5 2.1 .5-1.4 .5-1.5 .5 .8 .5 1.7 .5-1.3 .5 .4 .5 1 .5-2.4 .5 .8 .5-1.1 .5 .5 .5 .4 .5-1.8 .5 1.1 .5-.1 .5 .6 .5-1.7 .5-.9 .5 1.2 .5-1.7 .5 .9 .5-.1 .5-1.7 .5 .2 .5-1.3 .5-1.9 .5 .4 .5-1.2 .5 1.3 .5-1.7 .5 .2 .5-.6 .5 .3 .5-2 .5-.7 .5 .1 .5 .4 .5-2 .5-.1 .5-.8 .5-.7 .5-.9 .5 1.3 .5 0 .5 .3 .5 2.4 .5-1.6 .5 1.1 .5 0 .5 2.1 .5-.7 .5 2.7 .5-1.2 .5 1.6 .5 .9 .5-.5 .5 1.7 .5-.1 .5-.2 .5 .6 .5 1.4 .5 1.8 .5-1.7 .5 1.4 .5-.9 .5 1.3 .5-1.2 .5 .8 .5 .9 .5-.5 .5 .6 .5 1.3 .5-.8 .5-.5 .5-.3 .5 .7 .5 1.6 .5-1 .5 0 .5 .8 .5 .2 .5 .2 .5-1.2 .5-.5 .5-.6 .5 .9 .5 .3 .5 1.1 .5-.4 .5-.8 .5 1.4 .5-1.9 .5 .2 .5-.1 .5 .1 .5 .7 .5-.5 .5 .1 .5 1.9 .5-2.5 .5 .4 .5 .7 .5 .7 .5 0 .5-.7 .5 0 .5 .1 .5 .9 .5-1.5 .5-1.3 .5 2.3 .5-1.2 .5 1 .5 1.3 .5-1.1 .5 1.5 .5-3.1 .5 1.7 .5 .1 .5 .4 .5-1.4 .5 .8 .5 0 .5 0 .5-1.3 .5-.4 .5 2.1 .5-.2 .5-.3 .5 .6 .5 .4 .5-2 .5 1.7 .5 .7 .5-.5 .5-.4 .5 .1 .5-1.9 .5 .9 .5 1.3 .5 .4 .5-.9 .5-.8 .5 .3 .5 .9 .5 1 .5-1.1 .5-1.2 .5 1 .5-.1 .5 1.7 .5-1.6 .5-.5 .5-.1 .5-1.1 .5 .2 .5 .5 .5-.3 .5 .9 .5-.1 .5 .7 .5 .5 .5-1.2 .5-.4 .5-1.5 .5 2 .5 .3 .5-1.3 .5 .3 .5-.3 .5 1.6 .5-.4 .5 .5 .5-2.2 .5 3.3 .5-3 .5-.2 .5 1.1 .5-.7 .5 2.1 .5-2 .5-.3 .5 1.5 .5 .2 .5-1.9 .5 .3 .5 .1 .5 .2 .5 1.6 .5-.4 .5-.2 .5 .2 .5-1.2 .5 .8 .5-.9 .5-.6 .5 2.1 .5-3.1 .5 1.6 .5-.6 .5-1 .5 1.2 .5 .3 .5 .4 .5-1.2 .5 1.4 .5-.5 .5 .5 .5-2.5 .5 1.3 .5-.2 .5 1 .5-1.2 .5 .1 .5-.6 .5-.1 .5 .2 .5 1.7 .5-1.9 .5-1.3 .5 2.4 .5-.7 .5 .8 .5-.1 .5-.8 .5-.2 .5-.2 .5 .3 .5-.7 .5 .7 .5 1 .5-2 .5-.1 .5-.2 .5 1 .5-.1 .5 .5 .5-.8 .5-.7 .5 .1 .5-1.7 .5 1.4 .5-.5 .5 1.5 .5-.8 .5-2.2 .5 .1 .5 1.1 .5-2.9 .5 .9 .5 1 .5 .1 .5-.6 .5 .8 .5-1.4 .5 .2 .5-.3 .5-.9 .5 1 .5-.6 .5 .6 .5-2.3 .5 2.3 .5-.6 .5 0 .5 .5 .5-.4 .5 1.2 .5 .3 .5-.4 .5 0 .5-.6 .5-.3 .5-1.3 .5 .7 .5 1.2 .5-.5 .5-1.4 .5 .3 .5 .6 .5-1.4 .5 1.3 .5-2.6 .5 .9 .5-.5 .5-1.1 .5-.5 .5-.5 .5-3.4 .5 1.6 .5-.5 .5-1.8 .5-.6 .5-3.5 .5-.5 .5-1.4 .5-2.4 .5-.8 .5-2.9 .5-3.3 .5-1.5 .5-2.8 .5-4.2 .5-2.2 .5-3.4 .5-3.4 .5-4.7 .5-.8 .5-3.5 .5-3.2 .5-1.8 .5-1.6 .5-1.6 .5-.7 .5 .8 .5 .2 .5 1.4 .5 1.1 .5 3 .5 3.7 .5 2 .5 2.9 .5 2.7 .5 3.1 .5 2.1 .5 5.9 .5 .8 .5 2.1 .5 4.3 .5 2.4 .5 1.5 .5 1.3 .5 2 .5 4.4 .5 0 .5 1 .5 3.6 .5-1 .5 .7 .5 2.3 .5 .7 .5 1.9 .5-2.1 .5 2.3 .5-1.2 .5 2.5 .5-.6 .5 .6 .5 .2 .5 1.7 .5 1.1 .5-1.3 .5 .1 .5 0 .5 1.2 .5-1.3 .5 3.4 .5-2.3 .5 1.8 .5-1.3 .5-1.3 .5-.1 .5 1.1 .5-.2 .5 .4 .5-.8 .5 3.1 .5-.2 .5-3.5 .5 2 .5 .6 .5-1.4 .5 0 .5 1.2 .5-.6 .5-1.6 .5 2.2 .5-1.5 .5 2.1 .5-2.5 .5-1.1 .5 2.3 .5 1.1 .5-.5 .5-.1 .5-.9 .5 1.9 .5-2.3 .5 2.5 .5-1.6 .5 .7 .5-.4 .5 .5 .5 2.3 .5-2.2 .5 1.4 .5-.8 .5 1.8 .5-2 .5 1.3 .5 .9 .5 1.4 .5-3.1 .5 .4 .5 .8 .5 1.5 .5-2.2 .5 1.7 .5-1.3 .5-.3 .5-.4 .5 1.6 .5 .8 .5-1 .5-1.7 .5 1.4 .5 1.4 .5 0 .5-.5 .5 1.1 .5-2.5 .5 .1 .5 3.3 .5-1.5 .5-.8 .5-.2 .5-1.7 .5 3 .5-2.7 .5 .1 .5 1.8 .5 1.5 .5-1.7 .5 .7 .5-.7 .5 .8 .5-1.9 .5 3.5 .5-2.8 .5 1.4 .5-2.4 .5 3.6 .5-1.2 .5 1.4 .5-2.4 .5 1.6 .5-1.1 .5 .1 .5 1.3 .5-2 .5 1.5 .5 1.1 .5-.1 .5-.6 .5-.7 .5-1.2 .5 2.2 .5-1.9 .5 1.8 .5-1.4 .5 .3 .5 0 .5 .5 .5-.9 .5 .6 .5-.7 .5 1 .5-.2 .5 .1 .5-1.1 .5 1 .5-.2 .5 .5 .5-.5 .5-.9 .5 1.5 .5-1.3 .5 .9 .5-2.1 .5 2.3 .5 .2 .5-1.5 .5 1.4 .5-.9 .5 1.6 .5-.6 .5-1.8 .5 1 .5-1.4 .5 1.3 .5 .8 .5 .2 .5-.8 .5-.1 .5 .3 .5-.7 .5 .9 .5 .7 .5-.9 .5 .7 .5-1.5 .5 .2 .5 .8 .5 1.5 .5-.9 .5 .6 .5-1.5 .5 1.1 .5-2.7 .5 2 .5-2.3 .5 3 .5-.7 .5 .6 .5-.7 .5-.8 .5-.2 .5 .8 .5 1.2 .5-.8 .5-1.1 .5 0 .5-.2 .5 .5 .5 .1 .5-.4 .5 .4 .5-1.4 .5 2.8 .5-1.2 .5 1.1 .5-1.1 .5-.5 .5 .2 .5 .1 .5-.9 .5 .2 .5 2.1 .5-1 .5-1.4 .5 .9 .5-1.4 .5 2 .5-2.3 .5 1.6 .5-1 .5-.1 .5-.9 .5 .3 .5-.7 .5-.3 .5 1 .5 1.6 .5-2.8 .5 1 .5-1.2 .5-.9 .5 1.6 .5-.9 .5 .1 .5-1.2 .5-.3 .5-1.1 .5 .2 .5 1.6 .5-3.8 .5 2.2 .5 .8 .5-.7 .5 0 .5-1 .5 1.2 .5 .1 .5-.9 .5 1.7 .5-1.8 .5-1.6 .5 2.5 .5 .1 .5-.3 .5 .6 .5 .2 .5-.9 .5 3.1 .5-.8 .5 2.4 .5-1.9 .5 .6 .5-1.5 .5 2.5 .5-1.7 .5 1.7 .5 .6 .5 0 .5-1.3 .5 .2 .5 1.5 .5 .6 .5 .3 .5-1.2 .5 0 .5 1.8 .5-2.1 .5 1.3 .5-.9 .5-1 .5 .4 .5 1.4 .5-.1 .5 .2 .5-.7 .5-.1 .5 .7 .5-.4 .5-1.2 .5 1 .5 2 .5-2.2 .5 1.2 .5-.6 .5 .8 .5-1.5 .5-.3 .5 1.5 .5-1 .5 .6 .5-.2 .5 1.1 .5-.6 .5-.1 .5-1 .5-.6 .5 .7 .5 1.5 .5-.1 .5-.1 .5-.9 .5-.6 .5 2 .5-.9 .5 .4 .5-1.4 .5 .3 .5 1.2 .5 0 .5-1.5 .5 1.1 .5-1.3 .5 2.2 .5-.5 .5 1.4 .5-.7 .5-1.9 .5 .7 .5-.6 .5 .6 .5 .5 .5-.7 .5 .1 .5-1.3 .5 1.7 .5-.5 .5 .5 .5 .4 .5-.9 .5 .6 .5-1.2 .5 1.4 .5-.9 .5-.5 .5 .3 .5-1.1 .5 .7 .5 .2 .5 .4 .5-.2 .5-.5 .5 .4 .5-1.8 .5 2 .5 .4 .5 .2 .5 .2 .5-1.1 .5 0 .5-.3 .5-.1 .5 .5 .5 1.1 .5-2.7 .5 1 .5 .6 .5-1.1 .5 1.2 .5-1.7 .5 .9 .5-1.2 .5 1.6 .5-1 .5 1.2 .5-.9 .5-.7 .5 .4 .5 .4 .5-.3 .5-.3 .5-.3 .5 .2 .5 .6 .5-1.5 .5 .7 .5-1.7 .5 1.7 .5-.7 .5-.9 .5-.2 .5-1.5 .5 1.3 .5-.6 .5-1.3 .5 .5 .5 .6 .5-.7 .5-.2 .5-1 .5 .9 .5-1 .5 .5 .5 1 .5-4 .5 1.2 .5 .3 .5-.7 .5 1.5 .5-1.2 .5 1.9 .5-.7 .5-.2 .5-.2 .5 .9 .5-.1 .5 1.1 .5-.7 .5 .8 .5-.3 .5 .1 .5-1.4 .5 1.6 .5 .6 .5-1.2 .5 0 .5 1.1 .5 .7 .5-1.7 .5 2 .5 .6 .5-1 .5 .6 .5 .2 .5-1 .5 1.2 .5-.1 .5-1.6 .5 1.6 .5 .2 .5-1.8 .5 1.7 .5-1.1 .5-1.1 .5 .2 .5 0 .5 1.1 .5-1.1 .5-.1 .5-1 .5 1 .5-1.4 .5 .2 .5 .8 .5-.3 .5-1.4 .5 0 .5 .1 .5-1 .5 .5 .5-.5 .5-2 .5-1.8 .5 .1 .5 .4 .5-1.3 .5-1.2 .5-1.3 .5-2.9 .5-.9 .5-1 .5-2.6 .5-1.5 .5-3.8 .5-2.5 .5 .5 .5-3.5 .5-2.6 .5-1.6 .5-1.5 .5-1.8 .5-6 .5 1.2 .5-.3 .5-3.1 .5 .1 .5 1.8 .5 2.6 .5 .1 .5 2.4 .5-.1 .5 2.4 .5 2.3 .5 1.1 .5 1.7 .5 2.4 .5-.2 .5 4.7 .5 .1 .5 3 .5 3.2 .5 1.5 .5-.6 .5 3.8 .5 1.6 .5 .7 .5 1.6 .5 .9 .5-1.2 .5 2.2 .5 .7 .5-.2 .5 1.7 .5-.2 .5 1.2 .5-.3 .5 2.2 .5 1.4 .5-2.2 .5 .8 .5 .3 .5 .6 .5-.3 .5-1.6 .5 2.5 .5-.3 .5-.7 .5 1 .5-.2 .5 .8 .5-.4 .5 .2 .5 .4 .5 .2 .5-.1 .5 1.1 .5-.8 .5-.9 .5 2.3 .5-1.5 .5 1.4 .5-2.4 .5 1.4 .5 1 .5-.4 .5-1.2 .5-.7 .5-.1 .5 .3 .5-.8 .5 0 .5-.3 .5-.2 .5 .9 .5-2 .5 1.6 .5 .2 .5-1.6 .5-.2 .5 .7 .5-.3 .5 .8 .5-2.8 .5 1.6 .5 1.3 .5-1.2 .5 1.5 .5 .4 .5-2.3 .5 1.9 .5-.7 .5-.3 .5 0 .5 .3 .5-.4 .5 .9 .5 1.3 .5 .5 .5-1.2 .5 1.1 .5 .2 .5-2.4 .5 3 .5-1.6 .5 .3 .5 2 .5 .9 .5-2.4 .5 .3 .5 .1 .5 .5 .5 .2 .5-.4 .5-.6 .5 3.1 .5-2 .5-.2 .5 1.5 .5-1.1 .5 1.3 .5-.2 .5 .1 .5-1.2 .5 .9 .5-2.1 .5 .2 .5 1.2 .5-.4 .5 1.4 .5-1.5 .5-1.5 .5 1.5 .5-.4 .5 .3 .5-1.4 .5 .2 .5 .6 .5 .4 .5-.5 .5 .1 .5-2.2 .5 .9 .5 .2 .5 .4 .5-.8 .5-.7 .5-.1 .5-.2 .5-1.4 .5 1.2 .5 .5 .5-.2 .5-2.3 .5 1.6 .5-1.4 .5 2.4 .5-.4 .5 .3 .5-1.1 .5-1 .5 1.1 .5 .8 .5-.8 .5 .7 .5 2.8 .5-2.5 .5 1.9 .5-1.9 .5 2.1 .5 .8 .5-.1 .5 .9 .5 .8 .5-2.7 .5 1.7 .5 .4 .5 .1 .5 1.2 .5-1 .5 1 .5 .1 .5-.8 .5 .5 .5-1.1 .5 1.1 .5-.1 .5-.2 .5-.2 .5 1.4 .5-1 .5 2.2 .5-.8 .5-.4 .5-1.2 .5 1.4 .5-.7 .5 0 .5-1 .5 1.5 .5-.2 .5-.6 .5-.2 .5 .4 .5-.9 .5 .7 .5 1.7 .5-1.8 .5 2.7 .5-3.2 .5 2.2 .5 0 .5 .1 .5-.6 .5-1.9 .5 2.5 .5-.1 .5-.9 .5-2.1 .5 3.1 .5-1.8 .5 .6 .5 1.4 .5 .1 .5-.9 .5-.8 .5 2 .5-.5 .5-1.1 .5-.7 .5 1.1 .5-1.5 .5 2.8 .5-1.1 .5-.8 .5 .7 .5-1.8 .5 1.4 .5-.5 .5-.8 .5 .8 .5 .9 .5-1.6 .5 1.1 .5-1.1 .5 1.5 .5-1.7 .5 2.2 .5 0 .5 .1 .5 .9 .5-1.5 .5 0 .5 .4 .5-.9 .5-1.3 .5 .6 .5 0 .5 1.3 .5-.8 .5 .3 .5 .8 .5-.3 .5 1.6 .5-1.8 .5-.8 .5 2 .5-1.5 .5 .3 .5 1 .5-.8 .5 .5 .5-1.2 .5 .3 .5 .9 .5-1.1 .5 .1 .5 .4 .5 1.5 .5-.1 .5-1.2 .5-.1 .5-.7 .5 1.9 .5-.9 .5 .5 .5-2.1 .5 2 .5-.6 .5 .6 .5 .2 .5-.9 .5-.3 .5 .9 .5-1.7 .5 2.4 .5-.9 .5-1.4 .5 2.2 .5-.3 .5 .5 .5-.4 .5-.5 .5-.5 .5-.9 .5 1.7 .5-.2 .5-.9 .5 .9 .5-1.3 .5 1.8 .5-.9 .5 .1 .5-.8 .5 1.5 .5-.7 .5-.7 .5 .9 .5-.6 .5 1.2 .5-2.4 .5 .4 .5 2.8 .5-2.2 .5 .9 .5-.9 .5 .6 .5 2 .5-4 .5 2.3 .5-.5 .5 0 .5-.7 .5-.2 .5 2.1 .5-.8 .5-1.5 .5 1.1 .5-1.3 .5 3.4 .5-1.8 .5-2 .5 2.4 .5-.2 .5-.3 .5-.2 .5-.7 .5 .3 .5-1.6 .5 2.9 .5 .7 .5-1.4 .5 0 .5-1.8 .5 .8 .5-.9 .5 0 .5 1.6 .5 .7 .5-1.4 .5 2.2 .5-1.5 .5-2.9 .5 1.6 .5 1.4 .5-1.1 .5 .7 .5-2.6 .5 2.5 .5-2.3 .5 1.2 .5 1.5 .5-2 .5-.4 .5 .8 .5-1.6 .5-.3 .5 1.6 .5-2.3 .5 .1 .5 2.5 .5-2.8 .5 1.5 .5 .5 .5-1.1 .5-1 .5 1.7 .5-1.6 .5 2.8 .5 .1 .5-2.9 .5 1.6 .5-1.1 .5 1.1 .5-.5 .5-.5 .5 1.5 .5-1.8 .5 1.9 .5-.3 .5-.4 .5 1.7 .5-.7 .5-.2 .5 .3 .5 .1 .5 1.2 .5-1 .5-1.9 .5 .1 .5 1.4 .5 0 .5 1 .5-.9 .5 .5 .5 2 .5-2.3 .5 2.1 .5-.9 .5 1.4 .5-.3 .5-.7 .5 .9 .5-.7 .5-1.2 .5 1.5 .5 .1 .5-.6 .5 .4 .5-.6 .5 .7 .5-.5 .5-1.1 .5 1.1 .5 1.7 .5-.6 .5 .6 .5-1.4 .5-.3 .5-.6 .5 1.1 .5 .8 .5-.2 .5 0 .5-1.1 .5 .5 .5-.8 .5 1.5 .5-.2 .5-1.1 .5 .7 .5-2.2 .5 2.7 .5-1.4 .5 .4 .5 .9 .5 .1 .5-1.2 .5 2 .5 .4 .5-.5 .5-.1 .5-1.1 .5 1.2 .5-2.1 .5-.2 .5 1.2 .5 .1 .5-1 .5 2.4 .5-3 .5-.5 .5 1.5 .5 1.8 .5-.8 .5-.3 .5-.2 .5 .4 .5-.2 .5-.2 .5-.2 .5-1.4 .5 2.3 .5-1.2 .5 .7 .5 .1 .5 .5 .5-1.6 .5 1.4 .5 .1 .5-.9 .5 0 .5 .2 .5-1 .5 .5 .5-.6 .5 2.1 .5-1.8 .5-.3 .5 1.1 .5 .4 .5-.8 .5-.6 .5 1.3 .5 .4 .5-2.3 .5 2.3 .5-2.4 .5 2.2 .5-1 .5 .2 .5 .9 .5 .6 .5 .6 .5-.7 .5-.6 .5-1.8 .5 .9 .5 .4 .5-.6 .5 1 .5-.7 .5 1.8 .5-1.7 .5-1 .5 .7 .5-.2 .5 1.3 .5 .6 .5-.4 .5 0 .5-1.5 .5-.4 .5 .3 .5 .8 .5-.4 .5 .6 .5 .6 .5-.8 .5 1.5 .5-2.3 .5 1.3 .5-.6 .5 .9 .5-.9 .5-.5 .5 .4 .5-.7 .5-.2 .5 1.7 .5-1.3 .5 1.7 .5 1.1 .5-2.6 .5 1.1 .5-.8 .5-1.7 .5 1.6 .5 1.5 .5-2.5 .5 1 .5-.1 .5-1.1 .5 1.6 .5-.5 .5 .7 .5-.5 .5-1.3 .5 1.3 .5 .5 .5-.8 .5 .7 .5 0 .5-2.5 .5 2.5 .5-2.4 .5 .6 .5 1.1 .5-.8 .5 .1 .5 1.7 .5-1.9 .5 2 .5 .5 .5-.3 .5-2.3 .5-.4 .5 1.4 .5 1.8 .5-2.1 .5-.3 .5 .4 .5 .7 .5 .4 .5-1.1 .5-.1 .5 .6 .5-.5 .5-.4 .5-1.2 .5 1.7 .5-.7 .5 .3 .5-.1 .5-.5 .5 1.3 .5 .4 .5-.5 .5-1.1 .5 .8 .5 .4 .5-.7 .5 .7 .5-1.9 .5 1 .5 1.5 .5-.4 .5-1 .5 .2 .5 1.8 .5-1 .5-1.6 .5 .9 .5-.7 .5-.2 .5-.5 .5 1.7 .5 1.3 .5-1.2 .5-2 .5 1.6 .5-1.8 .5 1.5 .5 .8 .5 .3 .5-1.2 .5 .2 .5-.3 .5-.2 .5 1.5 .5-2.3 .5-.5 .5 2.9 .5 .5 .5-3.5 .5 2.3 .5-.2 .5-1.1 .5-.5 .5 1 .5-.5 .5 1.1 .5-1.4 .5 1.6 .5-1.6 .5 2 .5-.7 .5 .2 .5-1.3 .5 .1 .5 .1 .5 1.1 .5-1.7 .5-.1 .5 .5 .5 .5 .5-.4 .5 0 .5-1.1 .5 .6 .5-.4 .5 1.8 .5-.9 .5 .6 .5-1.8 .5 1.1 .5 .4 .5-1.3 .5 .3 .5 .1 .5 .6 .5 .1 .5-1.5 .5 1.5 .5-.1 .5 .1 .5-1.1 .5 .7 .5 1.2 .5-.1 .5-1.6 .5 2 .5-1.8 .5-.5 .5 1.8 .5-.7 .5 1.7 .5-2.2 .5 .3 .5 .5 .5-.4 .5-.6 .5 .3 .5 0 .5 0 .5 0 .5-1.4 .5 2.2 .5-1.4 .5 .3 .5-.5 .5 .6 .5 1 .5 .3 .5-.9 .5-.1 .5-.7 .5 .3 .5 .4 .5-.3 .5-.8 .5 .9 .5-1 .5 2.8 .5-1.6 .5-.8 .5 1 .5-1.1 .5 .4 .5 1.6 .5-.2 .5-2.3 .5 .1 .5 .5 .5 2.5 .5-2 .5 .2 .5-.7 .5 1.6 .5-.3 .5-2.5 .5 .8 .5-.9 .5 .6 .5 .3 .5-.5 .5 .6 .5 1.2 .5 .4 .5-1 .5 .6 .5-2 .5 2.6 .5 .7 .5-2.2 .5 .6 .5-.3 .5-2.3 .5 2.9 .5-.6 .5-1.9 .5 1.1 .5 1.3 .5-.5 .5-1.8 .5 .7 .5-.2 .5 .7 .5-.8 .5 .6 .5-.2 .5-1.3 .5 1.7 .5-.2 .5-.9 .5 1.2 .5 1.4 .5-3.6 .5 1.6 .5 .5 .5-.7 .5-.6 .5 2.4 .5-2.5 .5 .3 .5-.5 .5 1.7 .5-3.1 .5 1.1 .5 .3 .5 .7 .5 0 .5 .6 .5-1 .5-.6 .5 .6 .5-.7 .5 .3 .5 0 .5 .8 .5 .4 .5-1.7 .5 .5 .5 .6 .5 0 .5-.2 .5 .8 .5-.7 .5-1.3 .5 2.8 .5-2.2 .5 2.6 .5-1.2 .5 .1 .5-1.5 .5 1.6 .5-.4 .5-.5 .5 1.3 .5 .3 .5 .4 .5-2.1 .5 .5 .5 2 .5-.7 .5 .3 .5-1.1 .5 .8 .5 .5 .5-1.8 .5 .5 .5 .9 .5 1.1 .5-1.6 .5 1 .5-1.3 .5-.2 .5 1.6 .5-1.4 .5 1 .5-.5 .5 1 .5-1.5 .5-.1 .5 0 .5 1.1 .5 1.4 .5-.4 .5-.6 .5-.2 .5 1.2 .5-1.1 .5 1 .5 .3 .5-.6 .5-.2 .5 0 .5-.4 .5 .4 .5-1.1 .5 .1 .5 2.1 .5-1.4 .5-1.4 .5 2.7 .5 0 .5-.8 .5-1.4 .5 2.8 .5-.8 .5 .2 .5-1.3 .5 .6 .5-.6 .5 0 .5-.8 .5 .4 .5 .2 .5 .5 .5 .9 .5-.4 .5-2.1 .5 2.5 .5-2.2 .5 1.8 .5-.6 .5 .2 .5-.5 .5-.5 .5 2.4 .5-3.6 .5 1.4 .5 2 .5-1.2 .5 0 .5-.7 .5-.3 .5 1.6 .5-.7 .5 .4 .5 .4 .5-2.2 .5 .6 .5 .4 .5 .8 .5 .4 .5-1.5 .5 .7 .5 .1 .5 0 .5 1.5 .5-2 .5 .8 .5-2.2 .5 2 .5 .2 .5 .5 .5-1.1 .5 0 .5-.6 .5 .7 .5 2.5 .5-3.6 .5 0 .5 1.6 .5-.9 .5 2 .5-2.5 .5 2.8 .5-1.8 .5-1.1 .5-.5 .5 1.2 .5 .2 .5 .9 .5-1.4 .5 3.4 .5-1.5 .5-.9 .5-.3 .5 2.7 .5-2.9 .5 1.4 .5 .6 .5-2.1 .5 1.3 .5-.9 .5 1.7 .5 .1 .5-.8 .5-.4 .5-1.2 .5 3.3 .5-.8 .5-.7 .5 .7 .5-1.4 .5-1 .5 1.9 .5-1.7 .5 .4 .5 1.2 .5-2.1 .5 1.4 .5-.3 .5-.7 .5-.1 .5 .9 .5 0 .5 .4 .5-1.5 .5 1.4 .5-1.2 .5 .5 .5 1.6 .5-1.5 .5 .2 .5-.3 .5 .7 .5 .8 .5-1.1 .5 1 .5-1.8 .5 1.6 .5-.5 .5 .2 .5-.9 .5 .3 .5 .8 .5-1.3 .5 1.7 .5-1.1 .5 .9 .5-1.5 .5-.4 .5 2.1 .5 0 .5-.6 .5 .6 .5-.6 .5 .6 .5-.6 .5 0 .5 0"/>
<path class="crv" stroke="#00A9E0" stroke-width="11.8" d="M213.6 246.5l.5 0 .5 0 .5-.8 .5 1.5 .5-.2 .5-.6 .5 .8 .5-.1 .5 .1 .5-.1 .5 .4 .5-.8 .5 .5 .5-.1 .5 .7 .5-.2 .5-.2 .5-.2 .5 .4 .5 .2 .5-.1 .5 1.1 .5-.1 .5-2.2 .5 .4 .5 1.2 .5-.1 .5 .5 .5 .1 .5 1.2 .5-2 .5 .5 .5 1.7 .5-.9 .5 .1 .5-.8 .5-.7 .5 1.3 .5 0 .5-.9 .5 .4 .5 .4 .5-.5 .5 .6 .5 .1 .5 0 .5-.3 .5 .7 .5 .2 .5-.4 .5-.7 .5 1 .5-.9 .5 .9 .5-1.3 .5 1.3 .5-.6 .5-.8 .5 .5 .5 .2 .5 .1 .5-.8 .5-.2 .5 .8 .5-.5 .5 .4 .5 .3 .5-1.7 .5 1.2 .5 .5 .5-1.1 .5-.5 .5 .8 .5-.5 .5 .2 .5-1.1 .5-1.1 .5 .5 .5-.7 .5 .2 .5-1.2 .5-2.1 .5-.9 .5-.1 .5-2.1 .5-3.4 .5-3.2 .5-5.1 .5-9.2 .5-16.9 .5-15.6 .5 15 .5 17 .5 10.1 .5 3.3 .5 5 .5 2.7 .5 .9 .5 2.7 .5 .5 .5 1.9 .5 .1 .5 1.2 .5 .8 .5-.1 .5-.5 .5-.1 .5 2.4 .5-1 .5-.2 .5 .7 .5-.1 .5 .8 .5-.4 .5 .1 .5-.4 .5 .8 .5-.9 .5 1.2 .5 .6 .5-1.9 .5-.6 .5 2.1 .5 1.2 .5-2.2 .5-.1 .5 1.2 .5-.9 .5 .2 .5 .2 .5 .6 .5-.6 .5 .4 .5-.2 .5-.5 .5 .4 .5-.4 .5 .6 .5-.7 .5 0 .5 1.7 .5-1 .5 .1 .5 .3 .5-.6 .5 .2 .5 .4 .5-.1 .5-.9 .5 1.3 .5-.9 .5-.3 .5 .1 .5 .3 .5 1.3 .5-1.8 .5 .9 .5-1.5 .5 1.4 .5 .6 .5-.8 .5-.2 .5 .6 .5 .3 .5-.1 .5 .9 .5-1.1 .5-.6 .5 .3 .5 .1 .5 .1 .5-.1 .5 .1 .5-1.2 .5 1.7 .5-.9 .5-.4 .5 1.2 .5 .4 .5-.5 .5-.3 .5-.7 .5 2.3 .5-1.1 .5-1.3 .5 .2 .5 .6 .5-1.1 .5 1.1 .5-.4 .5 1.1 .5-.1 .5-2.3 .5 1.7 .5-1.1 .5 1.8 .5-.7 .5 .3 .5-1.1 .5 1.9 .5 .1 .5-2 .5 1 .5-.7 .5 .4 .5-.8 .5 2 .5-1.8 .5 .4 .5 .5 .5-.7 .5 .2 .5-.2 .5 .3 .5-.7 .5 .5 .5 .1 .5-.1 .5 .3 .5-.3 .5 .7 .5-.7 .5 .1 .5-.3 .5 .1 .5-.5 .5 1.1 .5-1.1 .5 .3 .5 .7 .5 0 .5-.6 .5-1 .5 1.5 .5-.1 .5-1.1 .5 1.4 .5-1 .5-.3 .5 .8 .5-.2 .5 .2 .5-1.2 .5 2.2 .5-1.6 .5-.7 .5 1.4 .5-.7 .5 .3 .5-.5 .5 .1 .5 .1 .5-.8 .5 .8 .5-.9 .5-.5 .5 .4 .5-.1 .5-.9 .5-1 .5 .2 .5-2.7 .5-1 .5-1.2 .5-3.4 .5-2 .5-3 .5-1.6 .5-1.9 .5 1.6 .5 3.2 .5 1.2 .5 5.9 .5 .1 .5 1.7 .5 2.3 .5 .3 .5-.4 .5 2 .5 .5 .5-.6 .5 .3 .5 .6 .5-.8 .5 1 .5-.1 .5-.6 .5-.4 .5 .7 .5-.4 .5 1.2 .5-.6 .5 .4 .5-.5 .5 0 .5-.8 .5 .9 .5 .6 .5-1.5 .5-.3 .5 .2 .5-.4 .5-.3 .5 .3 .5-.5 .5 .9 .5-1.2 .5-.1 .5 .1 .5-1.2 .5 .7 .5-1.8 .5-.7 .5-.3 .5-.5 .5-1.7 .5 0 .5-2.1 .5 .7 .5-2.5 .5-2.1 .5-2.3 .5-2.1 .5-3 .5-4.3 .5-4.5 .5-5.3 .5-7.5 .5-8.6 .5-13 .5-20 .5-31.3 .5-51.1 .5-34.7 .5 35.5 .5 50.4 .5 32.2 .5 16.8 .5 14.8 .5 8.6 .5 8.5 .5 4.5 .5 5.1 .5 4.2 .5 3.4 .5 2.1 .5 1.6 .5 1.9 .5 2.4 .5 .7 .5 0 .5 2.6 .5 .5 .5 1 .5-.1 .5 1.3 .5-.8 .5 1.5 .5-.3 .5 1.1 .5 .6 .5-.9 .5 .7 .5 .3 .5 .9 .5-.1 .5-1.1 .5 1.3 .5 .3 .5 1.1 .5-2.4 .5 .9 .5 1.3 .5-1.7 .5 .2 .5 1.2 .5 .4 .5-1 .5 .9 .5-.2 .5 .9 .5-.9 .5 .7 .5-1.2 .5 .6 .5 .1 .5 .8 .5-.3 .5-.8 .5 .9 .5 .1 .5-.5 .5-.1 .5 .1 .5-1 .5 1.3 .5 0 .5-.6 .5 1 .5-1.3 .5 .5 .5 .1 .5 1.6 .5-2.3 .5 1.4 .5 .3 .5-.4 .5 .6 .5-1.4 .5-.8 .5 2 .5-1.3 .5 .6 .5-.6 .5 1.5 .5-.1 .5-1 .5 1 .5-.5 .5-.1 .5 .1 .5-.2 .5 .6 .5-.2 .5-.4 .5 .9 .5-1.1 .5 .6 .5 .1 .5 .7 .5-1.3 .5 1.5 .5-1 .5-.3 .5-.3 .5 .8 .5-.3 .5-.7 .5-.1 .5 .4 .5-.1 .5 1.2 .5 .2 .5-.4 .5-.3 .5-.5 .5 .3 .5 .6 .5 .8 .5-.8 .5-.8 .5 .2 .5-.3 .5-.2 .5 .3 .5 .3 .5 1 .5-1.1 .5 .8 .5 .3 .5-1.1 .5 .9 .5-.6 .5-.7 .5 .4 .5-.2 .5-.2 .5 0 .5 .2 .5 .1 .5-.9 .5 .5 .5-1 .5 1 .5 .2 .5-.5 .5-.1 .5 0 .5-1.1 .5-.2 .5-.1 .5-.5 .5-1.6 .5-.2 .5-3.7 .5-1.6 .5-2.3 .5-2.9 .5-1.2 .5 .5 .5 2.9 .5 3.1 .5 1.8 .5 1.9 .5 1.2 .5 1.8 .5-.9 .5 2.2 .5 .3 .5-.6 .5 2.5 .5-2.1 .5 .3 .5 0 .5 1.6 .5-1.2 .5 1.1 .5 0 .5-.2 .5-.9 .5 .4 .5 1.6 .5-1.9 .5 .3 .5 .4 .5 .7 .5-.3 .5 .3 .5-1.2 .5 1.3 .5-.2 .5-1.4 .5 2.1 .5 .5 .5-2 .5 .5 .5 .9 .5-1.9 .5-.3 .5 .5 .5 .4 .5 0 .5 .8 .5-.2 .5-1 .5 1.2 .5 .8 .5-.4 .5-.2 .5-.6 .5 .6 .5-1.3 .5 1.1 .5-.5 .5 .8 .5-.5 .5-1 .5 .8 .5 .7 .5-1.6 .5 .4 .5-.2 .5-.5 .5 1.6 .5 .1 .5-.3 .5-.5 .5-.2 .5 .1 .5-.8 .5 1 .5-.1 .5-.3 .5-1.2 .5 0 .5-.6 .5 .5 .5-2.1 .5-2.8 .5-.3 .5-1.3 .5-3.2 .5-2.1 .5-1.9 .5-1.2 .5 1.7 .5 2.7 .5 3.2 .5 2.4 .5 2 .5 .7 .5 1.8 .5-.1 .5 .2 .5 1.4 .5-.9 .5-.8 .5 1.1 .5 .8 .5-1.5 .5 1.4 .5 .1 .5-.6 .5 0 .5 .7 .5 0 .5 1.2 .5-.6 .5-1.2 .5 .5 .5 1 .5 .8 .5-.9 .5-.1 .5 1 .5-1.2 .5-.1 .5-.8 .5 .6 .5 1.8 .5-2.3 .5 .9 .5-.9 .5 1 .5 .5 .5-.7 .5 .6 .5 0 .5-.2 .5 .8 .5-.6 .5-.7 .5-.2 .5-.1 .5 .8 .5-.5 .5 1.9 .5-.5 .5-1.3 .5-.1 .5 1.3 .5-2.3 .5 .9 .5 .9 .5-1.2 .5 .3 .5 .1 .5 .6 .5-.3 .5 .1 .5 .2 .5-.4 .5 .7 .5-1.2 .5-.5 .5-.2 .5 .1 .5 .6 .5 1.1 .5-.6 .5-.5 .5-.4 .5 .4 .5 0 .5-.1 .5-.6 .5 .6 .5 .9 .5-2.1 .5 1.2 .5-1.2 .5 1.4 .5-.6 .5-1 .5 1.4 .5 1 .5-1.2 .5 .6 .5-.9 .5-1.5 .5 1.6 .5-.7 .5-.9 .5 1.2 .5-.6 .5-.8 .5 .5 .5-1.5 .5 .4 .5-1.7 .5 .1 .5-2.1 .5 .3 .5-2.6 .5-1.7 .5-4.9 .5-4.8 .5-7.3 .5-14.9 .5-8.2 .5 10.5 .5 12.3 .5 8.5 .5 4.2 .5 3.9 .5 1.6 .5 1.3 .5 1.1 .5 1.8 .5 .8 .5 .6 .5-.7 .5 .7 .5 1.3 .5 .8 .5-.4 .5-.1 .5-.9 .5 2.9 .5-2.1 .5 1.7 .5-.3 .5-1.1 .5-1 .5-.3 .5-1.9 .5-.7 .5-2.4 .5-2.5 .5-3.1 .5-2.9 .5-4 .5 .2 .5 .5 .5 3.1 .5 3.7 .5 3 .5 4 .5 1.9 .5 1.7 .5 .2 .5 .9 .5 0 .5 0 .5 1.3 .5 .1 .5-.7 .5 1.2 .5-1.4 .5 1.2 .5-.3 .5 .2 .5-.3 .5 1.4 .5-.2 .5 .4 .5-.6 .5-.9 .5 .6 .5-.5 .5 1.1 .5 .5 .5-.6 .5-.5 .5 .1 .5 .4 .5-1.1 .5 1.1 .5 0 .5-.5 .5 .1 .5 .4 .5-.6 .5 0 .5 1 .5-.4 .5 1 .5-1.8 .5-.5 .5 1.8 .5 0 .5-1.1 .5-.5 .5 .9 .5-1.1 .5 .9 .5-1.3 .5 1.3 .5-1.3 .5 1.2 .5 1.1 .5-1.2 .5 .7 .5-1 .5-.2 .5-.4 .5 1.6 .5-.8 .5 1 .5-1.9 .5 .6 .5 .1 .5 .7 .5 .2 .5-1.7 .5-.5 .5-.5 .5 1.8 .5-1.1 .5-.6 .5 .1 .5-1.9 .5 .2 .5 1.3 .5-.8 .5-.7 .5-1.4 .5 .3 .5-.1 .5-3.1 .5-.5 .5-2 .5-1.6 .5-2.9 .5-3.5 .5-5.1 .5-5.7 .5-9.9 .5-15.1 .5-24.4 .5-17.1 .5 16.8 .5 24.6 .5 16.3 .5 8.7 .5 6.3 .5 5.3 .5 3 .5 2.6 .5 2.2 .5 .7 .5 2.5 .5 1.6 .5 .5 .5-.6 .5 1.8 .5-.2 .5 .9 .5 .6 .5-.5 .5 1.9 .5-.6 .5 .8 .5 .1 .5 .6 .5 .1 .5-1.6 .5 1.1 .5-1.3 .5 1.2 .5 .9 .5 .2 .5 .3 .5-1 .5 .5 .5-.1 .5 .8 .5 .3 .5-1.2 .5 1.9 .5-1.6 .5-.2 .5 .7 .5 .1 .5-.1 .5-.8 .5 1.5 .5-.9 .5 .9 .5 0 .5-1.7 .5 .2 .5 0 .5 .8 .5-.1 .5 .1 .5-.7 .5 .8 .5 .7 .5-1.8 .5 .8 .5 .2 .5-.2 .5 0 .5 1.2 .5-.3 .5-.3 .5-1 .5 1.9 .5-1.3 .5-.6 .5 .1 .5-.1 .5 1.6 .5-1.3 .5-.2 .5-1.6 .5 1.7 .5-1.5 .5-.4 .5 .7 .5-1.5 .5 .4 .5-.5 .5-2.8 .5 .2 .5-1.8 .5 .3 .5 .2 .5-1.6 .5 2.3 .5-.8 .5 .1 .5 1.6 .5 1.4 .5-.6 .5 1.5 .5-.4 .5 2.1 .5-.4 .5-.3 .5 .9 .5-1.7 .5 .4 .5 1 .5-1.7 .5 .5 .5-1.2 .5-1 .5 0 .5 .2 .5-.1 .5 .1 .5 .5 .5 .1 .5 1.6 .5 .7 .5 .7 .5-1.2 .5 2 .5-.3 .5-.7 .5 1.2 .5 .6 .5-.1 .5 .2 .5 .2 .5 0 .5-.6 .5-1.3 .5 .9 .5 .8 .5-.5 .5 .7 .5 .1 .5-.5 .5 1.2 .5-1.8 .5 1.3 .5-.9 .5-.2 .5 .9 .5-.8 .5 1 .5-1.4 .5 .8 .5-.5 .5 .4 .5-.1 .5-.5 .5 1.2 .5-1.3 .5 .2 .5 1.2 .5 .1 .5-.2 .5-.2 .5 1.3 .5-2.3 .5 .3 .5-.2 .5 1.3 .5-.4 .5 .5 .5-.1 .5-.8 .5-.3 .5-.1 .5 2 .5-.8 .5-.2 .5-.6 .5 .1 .5-.1 .5 0 .5-1.4 .5 1.6 .5-.2 .5 .4 .5 0 .5 .4 .5-.6 .5 .5 .5-2.1 .5 .9 .5 1.8 .5-1.9 .5 .6 .5 .7 .5-1.1 .5 1.1 .5-1.4 .5-.3 .5 .3 .5-.2 .5 1.1 .5-.2 .5 .4 .5-.9 .5 2.3 .5-1.7 .5 .1 .5 .3 .5-.5 .5-.2 .5 .4 .5 .6 .5-.2 .5 .2 .5-1 .5-.2 .5 1.8 .5-1.4 .5 .4 .5 .2 .5 .4 .5-1.8 .5 .5 .5 0 .5 .1 .5-1.4 .5 1.5 .5-1.6 .5 1.8 .5 .1 .5 0 .5-1.2 .5 1.3 .5-1.2 .5-.3 .5 0 .5 0 .5 .5 .5 .2 .5-2.2 .5 .6 .5 .4 .5-1.2 .5-.8 .5-2.5 .5 .1 .5-3.3 .5-.6 .5-1 .5-1.2 .5-1.9 .5 0 .5-.4 .5 1.3 .5 2.7 .5 1 .5 1.7 .5 .7 .5 2.4 .5 1.5 .5-.1 .5 .9 .5 1.8 .5-.5 .5-.1 .5-.3 .5 .4 .5 .4 .5 1.1 .5-1.2 .5 1.6 .5-1.7 .5 .4 .5 .8 .5-.7 .5-.3 .5 .4 .5 .4 .5-1.4 .5 1 .5 .1 .5-.2 .5 .7 .5-.8 .5 .1 .5 .3 .5 .4 .5-.6 .5 1.1 .5-1.6 .5 1.4 .5-1.4 .5 .4 .5 .3 .5 1.1 .5-.8 .5-.9 .5 1 .5-1 .5-.4 .5 .7 .5-.3 .5 .4 .5-1.1 .5 .5 .5 0 .5-.4 .5-.5 .5-.7 .5 .6 .5-1 .5-.5 .5-1.4 .5-1 .5-2.3 .5-1.3 .5-2.1 .5-3.4 .5-2.9 .5-3.9 .5-2.7 .5-3.8 .5-2.4 .5 1.5 .5 1.4 .5 2.4 .5 4.5 .5 3.3 .5 3.4 .5 2.4 .5 2.8 .5 1.9 .5 2.6 .5-.5 .5 1.3 .5 .9 .5-.8 .5 .4 .5 2.7 .5-2.3 .5 1.7 .5-.7 .5 .1 .5-.6 .5 .8 .5 1.1 .5-1.3 .5 1.3 .5-.1 .5 1.2 .5-1.6 .5 1.1 .5-.2 .5-.7 .5-.9 .5 2.1 .5-1.9 .5 .6 .5 .9 .5 .1 .5-1.3 .5 .6 .5-.2 .5 .9 .5 .8 .5-2.8 .5 1.7 .5-2.2 .5 1.6 .5-.8 .5 1.9 .5-1.2 .5-.7 .5 0 .5-.1 .5 .3 .5-.4 .5 .3 .5 .3 .5-.9 .5-1.7 .5-.8 .5-.2 .5 .1 .5-2.2 .5-1.8 .5-1.4 .5-3.4 .5-2.5 .5-1.8 .5-3.5 .5-2.9 .5-1.7 .5-1.7 .5 .1 .5 1.5 .5 3 .5 2.5 .5 2.2 .5 3.5 .5 3.2 .5 3.1 .5-.1 .5 2.5 .5 .9 .5 1.6 .5 .5 .5 1.3 .5-.2 .5-.4 .5 .3 .5 .8 .5 .2 .5 1.4 .5-.3 .5-1.7 .5 1.1 .5-1.1 .5-.1 .5 1.6 .5 0 .5-1 .5 1.8 .5-1.7 .5-.1 .5 1.3 .5-.3 .5-.2 .5 .1 .5 .2 .5-.2 .5 0 .5-1.1 .5 .3 .5 1.3 .5-.8 .5 .8 .5 .5 .5-1.1 .5 .5 .5 1.1 .5-.8 .5 .7 .5-.2 .5-.5 .5-.6 .5-.4 .5-.2 .5 1 .5 0 .5-.4 .5 .7 .5-1 .5 1.1 .5-.7 .5 0 .5 0 .5-.1 .5 1.7 .5-2.7 .5 1.2 .5 .6 .5-.3 .5-.7 .5 1.3 .5-1.8 .5-.2 .5 1.2 .5-1.4 .5-.6 .5 2.1 .5-.1 .5-.1 .5-.8 .5 .4 .5-.8 .5 1.6 .5-.6 .5-.2 .5-1.8 .5 1.7 .5 .3 .5-.4 .5-.4 .5-.8 .5-.5 .5 .2 .5-.7 .5-.7 .5-1.2 .5 .3 .5-3.1 .5-.8 .5-2.1 .5-1 .5-1.9 .5-2.4 .5-2.5 .5-3.2 .5 1 .5-1.5 .5 0 .5 1.4 .5 1.6 .5 2.7 .5 2.2 .5 1.7 .5 .6 .5 3.4 .5 1.8 .5 1.3 .5 .6 .5 1.2 .5 1 .5-.5 .5 1.7 .5-1.9 .5 .7 .5 .4 .5-.9 .5 1.1 .5 1.6 .5 .1 .5-.7 .5 1.1 .5-.9 .5-.4 .5 .5 .5-.2 .5 .6 .5-1.4 .5 1.6 .5-.9 .5 .8 .5-1.5 .5 .7 .5 .3 .5 .5 .5-1.4 .5 1.9 .5-.8 .5-.7 .5 1 .5-.8 .5 .6 .5 .6 .5-1.2 .5-1 .5-.2 .5 .3 .5-.5 .5-1.2 .5-.3 .5 .3 .5 .5 .5-3.8 .5 1.4 .5-1.3 .5-.1 .5-.7 .5-1.1 .5-1.3 .5-.6 .5-.6 .5 2 .5-.7 .5 .2 .5 .7 .5-.1 .5 1.8 .5 1.4 .5 .6 .5-1.1 .5 2.6 .5-.8 .5-.2 .5 1 .5 .6 .5 1 .5-.3 .5-.1 .5 1 .5 1.7 .5-1.6 .5 .9 .5-.2 .5 1.7 .5-2.8 .5 2 .5-1.5 .5 .5 .5 .4 .5 1.7 .5-2.1 .5-.7 .5 2.1 .5-1.4 .5 .4 .5 .1 .5 .1 .5-.1 .5 .3 .5 0 .5 .3 .5-.8 .5-.2 .5-.2 .5 1 .5-.4 .5 .4 .5 0 .5 .7 .5-1 .5 .3 .5-1.3 .5 .1 .5 .4 .5-.6 .5 1.2 .5-1.4 .5 .8 .5-1.7 .5 .7 .5 .3 .5-.1 .5-1.3 .5 1 .5 .2 .5-.6 .5-1.4 .5-.5 .5-1 .5 .6 .5-.2 .5-2.1 .5-1.6 .5 .5 .5-.5 .5-2.7 .5 1.1 .5 .9 .5-1.1 .5-.1 .5 .1 .5 .9 .5-.7 .5 .8 .5 1.6 .5 .1 .5 1.4 .5-.6 .5 2.4 .5 .7 .5 .1 .5 .6 .5 1.4 .5-1.3 .5 .4 .5 .2 .5 .7 .5-.2 .5 .9 .5-.4 .5-.4 .5 .1 .5 1.8 .5-.7 .5-.1 .5 .2 .5 0 .5 .6 .5-.1 .5-.7 .5-.2 .5-.1 .5-.1 .5 1.7 .5-1.5 .5-.7 .5 .8 .5 .1 .5 .7 .5-.8 .5 .9 .5 0 .5 .5 .5 .6 .5 .2 .5-.7 .5-1.6 .5 .5 .5 .4 .5 1.2 .5-1 .5 .4 .5-.9 .5 .5 .5 0 .5-.7 .5 .8 .5 .1 .5-.8 .5 .8 .5 .4 .5-1.1 .5-.1 .5-.2 .5-.2 .5 .5 .5-.5 .5 .1 .5-.4 .5-.6 .5 .4 .5 .7 .5-1.1 .5 .2 .5 1.3 .5-.6 .5-1.5 .5 .4 .5-1.3 .5 .9 .5-2.2 .5-.4 .5-.1 .5-2.5 .5 .3 .5-2.5 .5-.4 .5-1.2 .5-.4 .5-.1 .5-.1 .5-.1 .5 1.9 .5 .8 .5 1.2 .5 .9 .5-1 .5 2.2 .5 .4 .5-1.1 .5 .9 .5-.1 .5-1.8 .5-1.2 .5-.1 .5 1 .5-2.3 .5-1.5 .5 .2 .5-.5 .5 .7 .5 .9 .5-.8 .5 2.9 .5 1.7 .5 0 .5 .9 .5 1.9 .5-.8 .5 .7 .5 .4 .5 1.3 .5 .7 .5 0 .5 .6 .5 .4 .5-.1 .5-.7 .5 .4 .5 1 .5-1.4 .5 .5 .5-.1 .5 .2 .5-.6 .5-.1 .5 2.5 .5-1.1 .5-1.1 .5 .4 .5 .5 .5-.8 .5 .6 .5-.9 .5 0 .5 0 .5-.4 .5-1.6 .5 1.2 .5-.3 .5-.5 .5-1.7 .5 0 .5-1.1 .5-2.5 .5-1.5 .5 .4 .5-2.2 .5 .1 .5-.2 .5-2.4 .5-.2 .5 .8 .5 1.2 .5-.1 .5 2.8 .5 1.1 .5 1.1 .5 .5 .5 2 .5 .9 .5-.5 .5 2.9 .5-1 .5 .9 .5-.3 .5 .9 .5 .7 .5-1.1 .5-.4 .5 .9 .5-.5 .5 .4 .5 .5 .5 0 .5 1 .5-1.5 .5 .9 .5-.6 .5 1.3 .5 .7 .5-1.4 .5 .8 .5-1.4 .5-.7 .5 .1 .5-.2 .5 .3 .5 .4 .5 .7 .5-.4 .5-.4 .5-.9 .5-.5 .5 .1 .5-.4 .5-.4 .5-.5 .5-1 .5-1.9 .5-.2 .5-.6 .5 1 .5-2 .5 .3 .5 .2 .5-.7 .5-.3 .5 .5 .5 .1 .5 1.5 .5 1.3 .5 .4 .5 .8 .5 .6 .5 1.5 .5-1.2 .5 1 .5 .7 .5 .7 .5-2.1 .5 1.4 .5 .3 .5-.5 .5 1.2 .5-.4 .5-.5 .5-1 .5 0 .5 0 .5 .7 .5-1.4 .5-.9 .5 .2 .5 .3 .5 1.4 .5 .5 .5-1.8 .5 1.1 .5 .6 .5 .2 .5-.5 .5-.5 .5 .9 .5-.6 .5 1.6 .5 .6 .5-1.6 .5 1.3 .5 .4 .5 .7 .5 .2 .5-.3 .5-1 .5 .3 .5 1 .5-1.1 .5 .4 .5 1 .5-.9 .5-.9 .5 .7 .5 .6 .5-.5 .5 .9 .5 .1 .5-1.3 .5 .1 .5 .3 .5-.7 .5 1 .5-.3 .5 .6 .5-.9 .5-.2 .5 1.8 .5-1.8 .5 .2 .5-.1 .5 .3 .5-.4 .5 .6 .5-.4 .5 .2 .5 .5 .5 .2 .5-.2 .5-.7 .5 .7 .5-.3 .5 0 .5-1.1 .5 1.6 .5-.5 .5 1.2 .5-.7 .5-1.2 .5-.2 .5 1.7 .5-1.3 .5 1 .5-.7 .5 1.6 .5-1.3 .5 .9 .5-.1 .5-1.2 .5 .1 .5 1.2 .5-1 .5-.6 .5 1.4 .5 .8 .5-1.6 .5 .9 .5-1 .5 .9 .5-1 .5 1 .5-.5 .5-.5 .5 .3 .5-.6 .5-.4 .5 .1 .5 .6 .5-.7 .5 .9 .5 .1 .5-.1 .5-.7 .5 .2 .5-.1 .5 .8 .5-1.6 .5 .1 .5-.1 .5-.2 .5-.7 .5-.2 .5 .7 .5-1.5 .5 .5 .5 .2 .5-1.1 .5-2.6 .5 1.1 .5-.7 .5-.5 .5-1.8 .5 1.2 .5-1.4 .5 1.5 .5 0 .5 1.2 .5-1.4 .5-.2 .5 2.2 .5 .5 .5-.3 .5 1.7 .5 .1 .5-.8 .5 1.1 .5 .3 .5 .6 .5 .5 .5-.3 .5 .5 .5 .7 .5-.3 .5 0 .5 .1 .5 .2 .5-1.1 .5 1.4 .5-.7 .5 .7 .5-1 .5 1.6 .5-.4 .5-1 .5 1 .5-.6 .5 1.6 .5-.8 .5-.9 .5 .6 .5-.2 .5 .8 .5-.6 .5 0 .5-1.2 .5 1.1 .5 .7 .5-1.2 .5-.7 .5-.2 .5-1 .5 .4 .5-1.1 .5 .4 .5-.5 .5-.4 .5 .9 .5-1.2 .5 1.2 .5-.6 .5 2.4 .5 .4 .5-.4 .5 1 .5-.6 .5 .2 .5-.4 .5-.2 .5 .9 .5-.4 .5 .2 .5 .8 .5-.5 .5-.9 .5 .9 .5-.3 .5 .3 .5-.5 .5 1.5 .5 .5 .5-1.9 .5 1.1 .5 0 .5-1.1 .5 .8 .5 .8 .5-.3 .5 .5 .5-1.8 .5 .3 .5 .6 .5 .1 .5-.2 .5-.3 .5 0 .5-.1 .5 .7 .5-2 .5 2.7 .5-1.4 .5-.6 .5 1.3 .5-1.2 .5 1.1 .5-.5 .5 .6 .5 .2 .5 .3 .5-1.2 .5 .2 .5 .2 .5-1 .5 1.3 .5-.3 .5-.9 .5 1.6 .5 .1 .5-1.7 .5 1.2 .5 .5 .5-.3 .5-1.2 .5-.3 .5 .9 .5-.3 .5 .3 .5-.1 .5 .5 .5-.8 .5 .3 .5 1.7 .5-1.7 .5 .6 .5-.3 .5-.1 .5-.7 .5 .9 .5-.4 .5 .6 .5 .7 .5-1.2 .5 .4 .5-1.2 .5 .7 .5 1 .5-1.1 .5-.4 .5 .5 .5-.2 .5-.1 .5-.1 .5 1.5 .5-1.9 .5 .3 .5-.2 .5 1.2 .5-1 .5 .9 .5-.8 .5-.1 .5-1 .5 1.6 .5-.5 .5-.2 .5-.4 .5-.3 .5-.7 .5 1.2 .5-.7 .5-.7 .5-.5 .5 0 .5-.7 .5 .4 .5-1.4 .5-1.8 .5-1.4 .5-.7 .5-1.9 .5-.8 .5-1.4 .5-1.4 .5-1.6 .5-1.7 .5-.5 .5-1.6 .5 .3 .5 .9 .5 .5 .5 .1 .5 1.5 .5 1.2 .5 3.8 .5-.7 .5 2.4 .5 2.6 .5 .7 .5 1.2 .5-.3 .5 1.5 .5 1.7 .5-1.1 .5 .7 .5-.2 .5 .5 .5 .4 .5 .8 .5-1.4 .5-.3 .5 1 .5 .2 .5 .7 .5-.5 .5-.9 .5 .7 .5 .2 .5-.8 .5-.6 .5 .3 .5-1.1 .5-1.5 .5 1.5 .5-2.4 .5-.2 .5-.9 .5-1 .5-.9 .5-1.8 .5 .3 .5-1.2 .5-.6 .5 .2 .5 0 .5 .4 .5 .8 .5-.1 .5-.4 .5 2.2 .5 .9 .5 1 .5 .6 .5 .6 .5 1.9 .5 .8 .5-.7 .5 1.6 .5-.1 .5 .2 .5 1 .5-.3 .5-.1 .5 .5 .5-1.2 .5 1 .5 .2 .5-.6 .5 1.1 .5 .1 .5-.5 .5 .3 .5 .6 .5 .2 .5-1.1 .5 .7 .5 .5 .5-.7 .5-.5 .5 0 .5 .3 .5-.5 .5 2 .5-1.7 .5 .6 .5-.1 .5 .3 .5-.7 .5-.6 .5 1.9 .5-1.2 .5 .1 .5 0 .5 .6 .5-.3 .5 .1 .5-.3 .5-.5 .5-.1 .5-.8 .5-1 .5 .8 .5-.9 .5 1.8 .5-1.2 .5-1.1 .5-2 .5 .6 .5-3.7 .5-1.2 .5-1.3 .5-1.7 .5-.9 .5-1.5 .5 0 .5-1.4 .5 0 .5-.1 .5 .6 .5 .9 .5 1.1 .5 2 .5 2 .5 2.2 .5-.2 .5 1.5 .5 2 .5 .1 .5 1.6 .5 .1 .5 .2 .5 0 .5 1.1 .5-.2 .5 .2 .5 .1 .5 .7 .5 0 .5-1.1 .5 1.1 .5 .4 .5 .5 .5-.2 .5-.3 .5-.8 .5 .2 .5 1.2 .5-1.1 .5 1.2 .5 .2 .5-1.5 .5 1 .5-.4 .5 1.4 .5-.7 .5-.9 .5 .6 .5-.8 .5 .5 .5 .2 .5 0 .5 .1 .5-.8 .5-.6 .5 1 .5-.4 .5 .2 .5 1.8 .5-.6 .5-.9 .5-.8 .5 .1 .5 1 .5 .5 .5-.9 .5 .3 .5 .1 .5 .5 .5-1.9 .5 1.3 .5 .1 .5 .4 .5-.4 .5-1 .5 .3 .5-.6 .5 1.1 .5-.1 .5 .2 .5-1 .5-.2 .5 1.7 .5-.9 .5 .9 .5-1 .5-1.4 .5 1.3 .5 .1 .5-1.3 .5-1.3 .5 1.4 .5-.9 .5-.1 .5-2.3 .5 1.5 .5-2.4 .5 .6 .5 .7 .5-2.2 .5-.4 .5 .7 .5 1.3 .5 0 .5-1.3 .5 1.3 .5 0 .5 .3 .5 .5 .5-.2 .5 1.4 .5 .6 .5 1.4 .5-.6 .5-1.9 .5 1.2 .5 1.2 .5 .1 .5-1 .5 1.3 .5 0 .5 .3 .5 0 .5 .8 .5 .4 .5-.5 .5-1.1 .5 .2 .5 .2 .5 .4 .5-.2 .5 .1 .5-.4 .5 1.2 .5 0 .5 .1 .5-.7 .5 .4 .5-.9 .5-.1 .5 .4 .5 .7 .5-.5 .5-.6 .5 .8 .5 .2 .5-.1 .5-.6 .5 .5 .5-.3 .5 .1 .5 .1 .5 .6 .5 .7 .5-.2 .5-.6 .5-.7 .5 .1 .5 0 .5 .9 .5-2.3 .5 1.8 .5-1.5 .5 1.3 .5 .9 .5-1.5 .5-.9 .5 2.3 .5 .2 .5-.7 .5 .5 .5-1.3 .5 1.3 .5 .3 .5-.7 .5-.2 .5 .6 .5-.1 .5-1.2 .5 1.4 .5-.4 .5-.4 .5 .7 .5-.2 .5-.1 .5-.9 .5 .9 .5-1.3 .5 .7 .5-1.1 .5 0 .5 1.4 .5-.3 .5 .1 .5 .3 .5-.2 .5-.8 .5 .6 .5-.1 .5-.3 .5 .2 .5-.2 .5-.2 .5 .2 .5 .3 .5 1.2 .5-1.9 .5 .8 .5-1.4 .5 1.9 .5-1.4 .5 .2 .5 .6 .5-.4 .5-1.8 .5 1 .5-.8 .5 .3 .5-.7 .5 0 .5-.7 .5-.8 .5 .5 .5-2.2 .5 .3 .5-.7 .5 .3 .5-.3 .5 .1 .5-.1 .5 .2 .5-.4 .5 1.4 .5 .6 .5-.1 .5 .4 .5 .4 .5 1.9 .5-.6 .5 .4 .5-.2 .5 .1 .5 0 .5 1.7 .5-1.9 .5 1.3 .5-.1 .5-.1 .5-.9 .5 .2 .5 1.4 .5-1.2 .5 .9 .5-.3 .5-.3 .5-.1 .5-1.6 .5 .2 .5 .4 .5-1.6 .5 1.5 .5-1.8 .5-.1 .5-1 .5 .6 .5-.9 .5 .2 .5-.6 .5 1.6 .5-1.7 .5 1.6 .5 .2 .5 .6 .5-.6 .5 1.8 .5 .3 .5-.1 .5 .4 .5 0 .5 .8 .5-.7 .5 1.1 .5 .1 .5-1 .5-.6 .5 1.7 .5 0 .5 1 .5-.7 .5-.3 .5-.5 .5 .8 .5-.3 .5-.3 .5 .7 .5 .8 .5-.7 .5-.7 .5 .9 .5-.9 .5-.3 .5 1.3 .5-.6 .5 1.1 .5-.6 .5-.7 .5 .7 .5 .7 .5-1 .5-.6 .5 .3 .5-.1 .5-.3 .5-.1 .5 1.1 .5 .4 .5-.9 .5 .7 .5 0 .5 .5 .5-1.3 .5-.2 .5 .4 .5-.3 .5 .1 .5 .5 .5-1.3 .5 .3 .5-1 .5 .4 .5-.5 .5-.3 .5 .2 .5-.4 .5 .3 .5 .1 .5-1.6 .5 1.5 .5-2.2 .5 1.6 .5 .3 .5-.8 .5 .4 .5-.3 .5 1.3 .5-2.1 .5 1.1 .5-.4 .5 1.5 .5 .8 .5 0 .5-.2 .5-.3 .5-.6 .5 1.3 .5-.5 .5-1 .5-.4 .5 .3 .5 1 .5-.1 .5 0 .5-1.8 .5 0 .5 .9 .5-1.1 .5 .1 .5-1.7 .5 .3 .5-.1 .5-.5 .5-.3 .5-1.1 .5 2 .5-1.1 .5-1.2 .5 1.7 .5-.7 .5 .6 .5-.5 .5-.1 .5 .2 .5 1 .5 .6 .5 .2 .5 .4 .5 .7 .5-.3 .5 .8 .5 .4 .5-.2 .5 0 .5 0 .5-.2 .5 0 .5 2 .5-.7 .5-.1 .5 1.5 .5-.3 .5-.4 .5 .7 .5-.7 .5 .4 .5 1.1 .5-.5 .5-.8 .5 .7 .5 .3 .5-.8 .5-.1 .5 1.5 .5-1.4 .5-.6 .5 1 .5 1.4 .5-1.1 .5 .2 .5-2 .5 1.1 .5 1.2 .5-1.1 .5 1.2 .5-.6 .5 0 .5 .8 .5-1.4 .5 .1 .5 .3 .5 .1 .5-1.2 .5 1.9 .5-.6 .5-.3 .5 .5 .5-.6 .5 1 .5-.7 .5 .4 .5-1 .5 .4 .5 .4 .5-.8 .5 .1 .5 .4 .5 .8 .5-.2 .5 .1 .5-.4 .5 .4 .5 .4 .5-.9 .5 .2 .5 .1 .5-1.7 .5 1.2 .5 .4 .5 .2 .5-.7 .5 .9 .5-1.1 .5 .3 .5 1.2 .5-2 .5 .9 .5-.1 .5 .1 .5-.3 .5 .7 .5-1.1 .5-.1 .5 1.1 .5-1 .5 1 .5-.3 .5-.4 .5 .2 .5 .2 .5 .3 .5-.7 .5 .3 .5-.8 .5 .7 .5-1 .5 1.2 .5-.3 .5 1.7 .5-.6 .5-.9 .5 .7 .5-.4 .5-1 .5-.8 .5 2.3 .5-.5 .5-1.5 .5 1.7 .5 .2 .5-1.1 .5 1 .5-1.7 .5 1 .5 .1 .5 .5 .5-.2 .5-.2 .5 .2 .5-.8 .5 1.4 .5-1.2 .5 .7 .5-.6 .5-.2 .5 .5 .5-.2 .5 .5 .5-.3 .5-1.2 .5 .6 .5-.4 .5-.8 .5-.3 .5 .7 .5-.8 .5-.7 .5 .6 .5 .1 .5-.3 .5-1 .5 .3 .5 1.2 .5-1.4 .5 .3 .5 1.8 .5-1.1 .5-.4 .5-.8 .5 1.7 .5-.9 .5 1.1 .5-.4 .5-.3 .5 2.3 .5-1 .5 .8 .5 0 .5-.8 .5 .6 .5-.2 .5 .9 .5-.3 .5-.4 .5 1.3 .5-.7 .5 0 .5-.8 .5 .8 .5-1.2 .5 1.2 .5-.9 .5 .8 .5-.4 .5 .4 .5 0 .5-.3 .5-.1 .5-.9 .5-.4 .5 2 .5-.6 .5-1.4 .5 2 .5-1.8 .5 .6 .5-.2 .5-.4 .5 .2 .5-1.4 .5 .8 .5-.1 .5 .2 .5-.1 .5-.1 .5 .1 .5 1.2 .5-1 .5 1 .5 .1 .5-.1 .5 .4 .5 .2 .5-.6 .5 .7 .5 1.1 .5-1.9 .5 .5 .5-.2 .5 1.8 .5-2.2 .5 1 .5 .6 .5-1.2 .5 .5 .5-.4 .5-.4 .5 .9 .5 .3 .5-.5 .5 .3 .5 .4 .5 .3 .5-1.5 .5 1.2 .5-.8 .5-.9 .5 .8 .5 .9 .5-.2 .5-.9 .5 1.7 .5-.8 .5-.3 .5-.3 .5 .7 .5-.6 .5 1 .5-.5 .5 .2 .5-.6 .5-.8 .5 1.3 .5-1 .5 .6 .5 .1 .5-.5 .5 1.1 .5-1.5 .5 1.9 .5-1.4 .5 1 .5 .2 .5-1.4 .5 .1 .5 1.1 .5-.5 .5-.1 .5-1.2 .5 .1 .5 1.4 .5 .6 .5-1.4 .5-.1 .5 .7 .5 .2 .5 0 .5-.6 .5-1 .5 2.2 .5-1.3 .5 1.1 .5-2.1 .5 1.5 .5-.6 .5-.4 .5 1.3 .5 .2 .5-1.3 .5 .8 .5-1.2 .5 .2 .5 .2 .5-.2 .5 .5 .5-1.3 .5 1.3 .5-.2 .5-.9 .5-.8 .5-.9 .5 1.3 .5-.6 .5 .4 .5-.9 .5 .6 .5-.1 .5 0 .5 .2 .5 .1 .5 .5 .5-1 .5 1.1 .5-.2 .5-.2 .5-.2 .5 1.7 .5-.7 .5-.4 .5 .5 .5 0 .5-.3 .5-.5 .5 .9 .5-.2 .5-.1 .5 .7 .5-1.6 .5 .1 .5 .6 .5 .3 .5-.3 .5-.1 .5-2.1 .5 1.6 .5-.2 .5 0 .5-1 .5 .7 .5 .3 .5 .5 .5-.8 .5-.9 .5 1.1 .5 .5 .5 .1 .5 1.1 .5-1.1 .5-.4 .5 .5 .5 1 .5-.8 .5 0 .5 .3 .5 1.4 .5-.5 .5-.3 .5 .8 .5 0 .5-1 .5 1.2 .5-.4 .5-1.4 .5 .6 .5 .9 .5 .2 .5-.5 .5-.4 .5 .8 .5-1.3 .5 1.5 .5-.4 .5 0 .5-.4 .5 1 .5-2 .5 .9 .5 .9 .5-.8 .5 1.4 .5-.6 .5-.8 .5 1.2 .5-.8 .5 .4 .5-.7 .5 0 .5 .8 .5-.4 .5-.6 .5-.1 .5 1 .5 .7 .5-1.7 .5 .9 .5-2.2 .5 .7 .5 1.3 .5 .5 .5-1.1 .5 .2 .5-.3 .5 .4 .5-1.5 .5 1 .5-.8 .5-.1 .5 .1 .5-.2 .5-.5 .5 .3 .5-.4 .5 1.6 .5-.5 .5-.6 .5 1.4 .5-.1 .5-.4 .5-.5 .5 .6 .5 .4 .5 .6 .5-.9 .5-.1 .5 1.9 .5-.5 .5-.6 .5-.7 .5 .9 .5 .5 .5-.2 .5 0 .5-.4 .5 .7 .5-1.1 .5 .1 .5 0 .5-.1 .5 1.7 .5-2.4 .5 1.3 .5-.8 .5-.2 .5 .8 .5-1.1 .5 .9 .5 1.5 .5-1.6 .5 .3 .5-.9 .5 .8 .5-1.4 .5 .9 .5-.3 .5 1.3 .5-1.6 .5-.3 .5-.3 .5-.6 .5 1.2 .5 .4 .5-1.2 .5 .7 .5-.6 .5 .6 .5 .2 .5-1.1 .5 .6 .5 1.3 .5-1.7 .5 1.4 .5-.1 .5-.3 .5 .7 .5 .3 .5 .2 .5-1.9 .5 2.7 .5-1.3 .5 1 .5-.7 .5-.3 .5 .3 .5 1.7 .5-.6 .5-1.2 .5 .4 .5 .5 .5-.3 .5-.3 .5-.2 .5-.6 .5 1.2 .5 .2 .5 .8 .5-1.8 .5 .7 .5-.4 .5 .8 .5-.8 .5-.4 .5-.7 .5 1.6 .5-.4 .5 .6 .5-1.1 .5 2 .5-2.1 .5 .7 .5-.1 .5 .5 .5-.9 .5-.6 .5-.1 .5 1.1 .5-.5 .5 .1 .5-.9 .5 .5 .5 0 .5 .1 .5-1.5 .5 .3 .5 1.5 .5-1.5 .5 .1 .5-.3 .5-.8 .5 .3 .5 .9 .5-.7 .5 1.8 .5-2.2 .5-.1 .5 1.1 .5-.4 .5 1.8 .5-1.1 .5 .8 .5-1.1 .5 1.4 .5 .1 .5 .5 .5-.6 .5 .3 .5-.2 .5 .6 .5-.9 .5 .7 .5-.7 .5 .9 .5-.7 .5-.2 .5 0 .5 1.4 .5-2 .5 .1 .5 1.4 .5-1.1 .5 .4 .5-.1 .5 1.8 .5-1.9 .5-.1 .5 .2 .5 .4 .5 .2 .5-1.4 .5 1.2 .5 1 .5-2.5 .5 1.4 .5 .1 .5-.5 .5-.4 .5-1.5 .5 2.2 .5-1.1 .5-.1 .5 .8 .5-2.4 .5 1.4 .5 .3 .5 0 .5-.1 .5 .9 .5-1.1 .5 .5 .5 0 .5-1.4 .5 .6 .5 2 .5-1.4 .5 .2 .5-.6 .5 .7 .5-.5 .5 .6 .5 .8 .5-.8 .5 .2 .5 1.3 .5-.5 .5 .1 .5 .4 .5-1 .5 .1 .5-1 .5 1.8 .5-.6 .5 .2 .5-.7 .5 1.1 .5 0 .5-.3 .5-1.1 .5 .5 .5 .5 .5-.5 .5 .8 .5 .4 .5-1.1 .5 .3 .5-.3 .5 1.1 .5 0 .5 1 .5-1.6 .5-.6 .5 .8 .5-.4 .5 .3 .5 .7 .5-1 .5 .7 .5-1.9 .5 2.1 .5-.6 .5-.3 .5-.1 .5 1.2 .5-1.2 .5 1.1 .5-1.1 .5 .3 .5 .2 .5 1.1 .5-1.1 .5 0 .5-.2 .5-.2 .5-.2 .5 1.6 .5-.2 .5-1.4 .5 .5 .5-.9 .5 1.4 .5-.2 .5-.3 .5-.6 .5 1 .5-.1 .5-.5 .5 .6 .5-1.4 .5 .5 .5-.2 .5 .6 .5 1 .5-1 .5 .7 .5-.8 .5-.2 .5 .9 .5-.3 .5 .5 .5-.3 .5-1.1 .5-1.2 .5 1.7 .5-.8 .5-.2 .5-.1 .5 .5 .5 .2 .5 .1 .5 1.2 .5-2.2 .5 .7 .5-.9 .5 0 .5 .5 .5 .1 .5-1.3 .5 1.3 .5-1.5 .5 1 .5-.9 .5 .4 .5-.4 .5-.6 .5 .4 .5-1.2 .5 0 .5 .7 .5 1.3 .5-1.2 .5 .3 .5 1.7 .5-.8 .5 .1 .5-.5 .5 .9 .5 .5 .5-.2 .5 .6 .5-.2 .5 .6 .5-.1 .5-.6 .5 .7 .5 .5 .5-1 .5-1 .5 .8 .5-.3 .5 1.6 .5-1.3 .5-1.4 .5 .5 .5 .8 .5-1.9 .5 .3 .5 .1 .5-.2 .5-.4 .5 .5 .5-1 .5 .7 .5 .1 .5 .4 .5 .2 .5 .4 .5 0 .5 .2 .5 .6 .5 .5 .5 .2 .5-1.2 .5 1 .5 .4 .5-.6 .5 .5 .5-.4 .5 .5 .5-1.2 .5 1.3 .5-.6 .5-.2 .5 .3 .5 .9 .5 0 .5-.5 .5 .4 .5-.8 .5-.5 .5-.4 .5 1.2 .5-.1 .5 .1 .5 0 .5 .8 .5-1.4 .5 .1 .5 1.8 .5-.8 .5-.7 .5-1.1 .5 .8 .5 .3 .5 .2 .5 .2 .5-.3 .5 .9 .5-1.5 .5 .5 .5-.2 .5 .9 .5-.4 .5 .4 .5-.4 .5 1.6 .5-1.2 .5-1 .5 .5 .5-.3 .5 .8 .5 .1 .5-.4 .5-.3 .5-.4 .5 1.5 .5-.3 .5-2.4 .5 1.7 .5-.6 .5 .2 .5 1.3 .5-1.8 .5 0 .5 2.2 .5-2 .5 .1 .5 .8 .5-1.2 .5 .3 .5 0 .5 .6 .5-2.1 .5 .3 .5 .4 .5 .5 .5-1.1 .5 .6 .5-.7 .5 .1 .5 1.1 .5-.9 .5 1.9 .5-1.3 .5 .6 .5-.1 .5-1.3 .5 .1 .5 1.5 .5-.9 .5 .5 .5 .2 .5-.3 .5 1.5 .5-.2 .5-.4 .5 .3 .5-.9 .5 1.2 .5-1.1 .5 1.6 .5-1.4 .5 .1 .5 1.1 .5-.3 .5-1.1 .5 1 .5-.3 .5 0 .5 .4 .5 0 .5 .2 .5-.3 .5-.1 .5-.3 .5 1.1 .5-1.5 .5 1.8 .5 .1 .5 0 .5-1.5 .5 1.5 .5-.6 .5-.1 .5 .9 .5-1.4 .5 .2 .5-1.2 .5-.6 .5 1.6 .5 .1 .5 .2 .5-.3 .5-1.5 .5 1.6 .5 .5 .5 .3 .5-1.7 .5 .1 .5 .1 .5 0 .5-.6 .5 .6 .5 1.5 .5-1.7 .5-.6 .5 1.1 .5-.2 .5 .8 .5-.9 .5 .3 .5-.4 .5-.1 .5 .9 .5-.2 .5-.1 .5 .4 .5-.9 .5 .6 .5 .1 .5 .6 .5-2 .5 1 .5 .5 .5-.6 .5 .4 .5 .4 .5-.2 .5-1.4 .5 .3 .5-.8 .5 2.1 .5-.3 .5 .7 .5-.8 .5-.8 .5 1.4 .5-1.5 .5 .8 .5-.1 .5 .6 .5 .1 .5-.9 .5-.2 .5 .5 .5-.4 .5 1 .5-.4 .5 .7 .5 .7 .5-2.2 .5 .1 .5 .7 .5 0 .5-.6 .5-.9 .5 2.7 .5-1.6 .5-.8 .5-.9 .5 2.4 .5-.7 .5-.3 .5-.8 .5 .5 .5-.2 .5-1.5 .5 3.2 .5-1.5 .5-.6 .5-.5 .5 .2 .5 1.9 .5-1.4 .5-1.1 .5 1.5 .5-.2 .5 0 .5-.3 .5 .1 .5 .3 .5-.2 .5-.7 .5 .4 .5 .8 .5-1 .5 1 .5 0 .5 .7 .5-.3 .5-.2 .5 0 .5 .5 .5 .4 .5-1.3 .5-.3 .5 .5 .5-1 .5 1 .5 1.1 .5 .1 .5 .4 .5-1 .5 .1 .5-.5 .5 .1 .5 .5 .5 .4 .5-.3 .5-1.6 .5 1.7 .5-.4 .5-.4 .5 .5 .5 .5 .5-.5 .5-.5 .5 2.1 .5-2.1 .5 .7 .5 .6 .5-1.4 .5 .9 .5-.9 .5 .4 .5-.3 .5 1.6 .5-2.1 .5 1.3 .5-.3 .5-1.3 .5 2.4 .5-1.5 .5 .2 .5 .3 .5-.7 .5 0 .5 .5 .5-.5 .5 .6 .5 .8 .5-1.5 .5-.4 .5 1 .5 .3 .5 .2 .5-1.2 .5-.8 .5 2.1 .5-.1 .5 .6 .5-1.7 .5 1 .5 .3 .5-1.8 .5 1.9 .5 .2 .5-.6 .5 0 .5 .2 .5-.7 .5-.8 .5 .4 .5 .5 .5-.5 .5 1.2 .5-.9 .5 .2 .5-1.1 .5 1.4 .5-.7 .5 1.5 .5-2.2 .5 1.4 .5-.5 .5 0 .5 1.4 .5-.5 .5-1.2 .5 1.5 .5-1.4 .5 1 .5-1.7 .5 1 .5 0 .5 0 .5-.9 .5-.2 .5 1.3 .5 .4 .5-.4 .5-.3 .5-.7 .5 .8 .5-.2 .5-.1 .5 .6 .5 0 .5 .1 .5-.4 .5-.4 .5 .4 .5 0 .5-.9 .5 .8 .5-.8 .5-.2 .5 .7 .5 .2 .5 .8 .5-.6 .5 .5 .5 .6 .5-.8 .5 .1 .5-.7 .5 1 .5-.5 .5 0 .5-.8 .5 .2 .5 .1 .5 .5 .5 .7 .5-1.7 .5 .7 .5 .1 .5 1.7 .5-1.7 .5-.2 .5 .9 .5-1.2 .5 1 .5-1.4 .5 2.4 .5-1.4 .5-.2 .5-.6 .5 .8 .5 .1 .5-.5 .5 1.2 .5-.9 .5 .2 .5 .2 .5 .7 .5-1.2 .5 .3 .5 .2 .5 .2 .5-1.6 .5 1.9 .5-.8 .5-.4 .5 .5 .5-1.3 .5 .8 .5 .6 .5 .8 .5-1 .5 .3 .5-.4 .5 .7 .5-.8 .5 .6 .5-.5 .5-.4 .5-.1 .5 .3 .5 1.1 .5 .9 .5-1.7 .5-.4 .5 .8 .5 0 .5-.7 .5 1.6 .5-.6 .5 0 .5-.6 .5 .1 .5 .5 .5-1.5 .5 .4 .5 .5 .5-1 .5 2.1 .5-1.5 .5 .1 .5 .5 .5 .8 .5-1 .5-.5 .5-.1 .5 .7 .5-.5 .5 1.9 .5-.7 .5-2.4 .5 1 .5 .8 .5 1.3 .5-2.8 .5 1 .5 1.1 .5-1.3 .5 .5 .5-.3 .5 .7 .5-1.1 .5 .7 .5-1 .5 1.6 .5-.2 .5-.4 .5 0 .5 0 .5-.2 .5 .3 .5 .1 .5-.3 .5-.3 .5 .1 .5 0 .5 .6 .5-.2 .5 1.2 .5-1.4 .5 .1 .5-.4 .5 .5 .5-.4 .5-.3 .5 .7 .5 .9 .5-1.6 .5 .2 .5 .4 .5 .2 .5 .6 .5-1.2 .5 .3 .5-.4 .5-.1 .5 .3 .5-.4 .5 1 .5 .4 .5-1.1 .5-.1 .5 1.3 .5-1 .5 1.1 .5-2.5 .5 1.5 .5-.6 .5 .3 .5 .9 .5 .2 .5-.8 .5 .7 .5-1.4 .5 1 .5-.3 .5-1 .5 1.7 .5-1.1 .5 .8 .5-.8 .5 .6 .5 .3 .5-.4 .5-.3 .5 .7 .5-.3 .5-.4 .5 .3 .5-.1 .5-.1 .5 .8 .5 .5 .5-1.4 .5 .2 .5-.5 .5-.3 .5 1.6 .5-1.2 .5 .7 .5-1.1 .5 .5 .5 .7 .5 0 .5-.2 .5 .1 .5-.1 .5 .5 .5 .5 .5-.7 .5-.5 .5-.6 .5 .4 .5 .1 .5 1.1 .5-1.9 .5 .5 .5-.2 .5 1.2 .5-1 .5-.7 .5-.2 .5 1.6 .5-1.3 .5 1.8 .5 0 .5-1.5 .5 .6 .5 .2 .5-1 .5 .2 .5 .4 .5 .3 .5 .2 .5-1.4 .5 1.4 .5-.2 .5-.1 .5-.1 .5 .9 .5 .4 .5-1.3 .5 .2 .5-1 .5 .8 .5 .7 .5-.5 .5 .3 .5-.3 .5 .1 .5 .4 .5 .1 .5-1.8 .5 1.1 .5-1.4 .5 1.6 .5-.4 .5 0 .5 1.4 .5-.8 .5 .5 .5-.3 .5 .7 .5-1.3 .5 0 .5 .1 .5 1.7 .5-1.9 .5 .3 .5 .9 .5-.3 .5-.9 .5 1.4 .5-.8 .5 .6 .5-.5 .5 .1 .5-1 .5 1.4 .5-1.4 .5 .5 .5 .7 .5-.9 .5 .3 .5-.1 .5 .1 .5 .3 .5-1.4 .5 .7 .5 1.6 .5-2.6 .5 .9 .5 .9 .5-1.7 .5 .6 .5 .1 .5 1.5 .5-1.6 .5 1 .5-.8 .5 .4 .5-.7 .5-.3 .5 .7 .5-.6 .5 .8 .5 .2 .5 .2 .5 .7 .5-.1 .5-1.6 .5 .2 .5 1.6 .5-1.1 .5-.3 .5 1 .5-1.1 .5 1 .5-.8 .5 1 .5-.9 .5 .6 .5 .2 .5 .3 .5-1.5 .5 .2 .5-.6 .5-.2 .5 .8 .5 .4 .5 .7 .5-1.1 .5 1.5 .5-1.1 .5 .5 .5-.8 .5-.6 .5 1.8 .5-1.2 .5 .9 .5-.9 .5 .6 .5-.5 .5-.1 .5 .1 .5 .5 .5-1.2 .5 .2 .5 1.2 .5-1.1 .5 .6 .5-1 .5 .8 .5 .8 .5-.7 .5 .1 .5-.4 .5 .4 .5-1.3 .5 .1 .5 1.4 .5-1.5 .5 2 .5-.3 .5-1.3 .5-.6 .5-.2 .5 1.8 .5-.3 .5 1 .5-.6 .5 .7 .5-.4 .5-1.2 .5 .5 .5-.5 .5 .4 .5-.2 .5 .2 .5 1.1 .5-1.3 .5-.4 .5 .4 .5 .1 .5-.1 .5 .3 .5-.2 .5 1 .5-.1 .5-1.1 .5 1.1 .5 .3 .5-.9 .5-.6 .5 .9 .5-.4 .5 .3 .5-.9 .5 2.1 .5-1.5 .5 .4 .5-.7 .5 .5 .5-1.6 .5 .6 .5-.7 .5 1.6 .5 0 .5 0"/>
</g>
<g id="labels" fill="#000">
<text x="2027.2" y="214.3" font-size="91.5">MIL</text>
<text x="1992.6" y="380.7" font-size="90" textLength="192.4" lengthAdjust="spacingAndGlyphs">In<tspan font-size="55.5">2</tspan>O<tspan font-size="55.5">3</tspan></text>
<text x="1549.4" y="535.2" font-size="90" textLength="633.6" lengthAdjust="spacingAndGlyphs">300In<tspan font-size="55.5">2</tspan>O<tspan font-size="55.5">3</tspan>/ZnIn<tspan font-size="55.5">2</tspan>S<tspan font-size="55.5">4</tspan></text>
<text x="1594.1" y="698.8" font-size="90" textLength="589.3" lengthAdjust="spacingAndGlyphs">50In<tspan font-size="55.5">2</tspan>O<tspan font-size="55.5">3</tspan>/ZnIn<tspan font-size="55.5">2</tspan>S<tspan font-size="55.5">4</tspan></text>
<text x="1599.3" y="846" font-size="90" textLength="588" lengthAdjust="spacingAndGlyphs">40In<tspan font-size="55.5">2</tspan>O<tspan font-size="55.5">3</tspan>/ZnIn<tspan font-size="55.5">2</tspan>S<tspan font-size="55.5">4</tspan></text>
<text x="1596.3" y="1003" font-size="90" textLength="589.1" lengthAdjust="spacingAndGlyphs">30In<tspan font-size="55.5">2</tspan>O<tspan font-size="55.5">3</tspan>/ZnIn<tspan font-size="55.5">2</tspan>S<tspan font-size="55.5">4</tspan></text>
<text x="1897.4" y="1155.3" font-size="90" textLength="282" lengthAdjust="spacingAndGlyphs">ZnIn<tspan font-size="55.5">2</tspan>S<tspan font-size="55.5">4</tspan></text>
</g>
<text x="1471.2" y="1286.5" font-size="84" textLength="683.3" lengthAdjust="spacingAndGlyphs" id="pdf-in2o3" fill="#FF8000">In<tspan font-size="52">2</tspan>O<tspan font-size="52">3</tspan>-PDF#65-3170</text>
<text x="1379" y="1427.6" font-size="84" textLength="774.3" lengthAdjust="spacingAndGlyphs" id="pdf-znin2s4" fill="#0000AA">ZnIn<tspan font-size="52">2</tspan>S<tspan font-size="52">4</tspan><tspan dx="7" dy="-13" font-size="68">–</tspan><tspan dx="3" dy="13">PDF#65-2023</tspan></text>
<g id="ticklabels" fill="#000" font-size="98" text-anchor="middle">
<text x="389.5" y="1633">10</text>
<text x="646.5" y="1633">20</text>
<text x="905.5" y="1633">30</text>
<text x="1162.5" y="1633">40</text>
<text x="1422.5" y="1633">50</text>
<text x="1679.5" y="1633">60</text>
<text x="1937.5" y="1633">70</text>
<text x="2196.5" y="1633">80</text>
</g>
<text id="xlabel" x="920.4" y="1766.8" font-size="124.4" fill="#000">2θ<tspan dx="4"> (degree)</tspan></text>
<text id="ylabel" transform="translate(110.8,758) rotate(-90)" font-size="124" text-anchor="middle" textLength="721" lengthAdjust="spacingAndGlyphs" fill="#000">Intensity (a.u.)</text>
</svg></body></html>
